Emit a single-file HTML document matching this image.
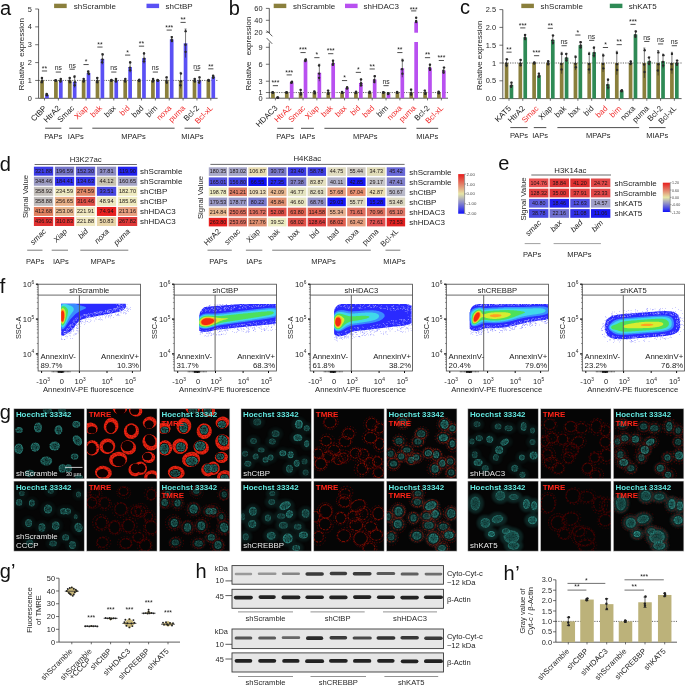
<!DOCTYPE html>
<html><head><meta charset="utf-8"><style>
html,body{margin:0;padding:0;background:#fff;}
svg{display:block;font-family:"Liberation Sans", sans-serif;filter:blur(0.3px);}
</style></head><body>
<svg width="685" height="685" viewBox="0 0 685 685">
<rect width="685" height="685" fill="#fff"/>
<line x1="38.60" y1="98.30" x2="38.60" y2="9.00" stroke="#333" stroke-width="0.8"/>
<line x1="35.20" y1="98.30" x2="38.60" y2="98.30" stroke="#333" stroke-width="0.7"/>
<text x="31.80" y="100.90" font-size="7.4" text-anchor="end" fill="#262626">0</text>
<line x1="35.20" y1="80.44" x2="38.60" y2="80.44" stroke="#333" stroke-width="0.7"/>
<text x="31.80" y="83.04" font-size="7.4" text-anchor="end" fill="#262626">1</text>
<line x1="35.20" y1="62.58" x2="38.60" y2="62.58" stroke="#333" stroke-width="0.7"/>
<text x="31.80" y="65.18" font-size="7.4" text-anchor="end" fill="#262626">2</text>
<line x1="35.20" y1="44.72" x2="38.60" y2="44.72" stroke="#333" stroke-width="0.7"/>
<text x="31.80" y="47.32" font-size="7.4" text-anchor="end" fill="#262626">3</text>
<line x1="35.20" y1="26.86" x2="38.60" y2="26.86" stroke="#333" stroke-width="0.7"/>
<text x="31.80" y="29.46" font-size="7.4" text-anchor="end" fill="#262626">4</text>
<line x1="35.20" y1="9.00" x2="38.60" y2="9.00" stroke="#333" stroke-width="0.7"/>
<text x="31.80" y="11.60" font-size="7.4" text-anchor="end" fill="#262626">5</text>
<line x1="38.60" y1="98.30" x2="217.60" y2="98.30" stroke="#333" stroke-width="0.8"/>
<line x1="38.60" y1="80.44" x2="217.60" y2="80.44" stroke="#222" stroke-width="0.7" stroke-dasharray="1.2 1.2"/>
<rect x="40.20" y="80.44" width="3.70" height="17.86" fill="#8a7f3c"/>
<line x1="42.05" y1="77.58" x2="42.05" y2="83.30" stroke="#222" stroke-width="0.6"/>
<line x1="41.05" y1="77.58" x2="43.05" y2="77.58" stroke="#222" stroke-width="0.6"/>
<circle cx="41.91" cy="78.01" r="1.20" fill="#2a2a2a"/>
<circle cx="41.77" cy="82.15" r="1.20" fill="#2a2a2a"/>
<circle cx="42.17" cy="80.73" r="1.20" fill="#2a2a2a"/>
<rect x="45.10" y="94.73" width="3.70" height="3.57" fill="#5a50f4"/>
<line x1="46.95" y1="93.83" x2="46.95" y2="95.62" stroke="#222" stroke-width="0.6"/>
<line x1="45.95" y1="93.83" x2="47.95" y2="93.83" stroke="#222" stroke-width="0.6"/>
<circle cx="46.61" cy="93.97" r="1.20" fill="#2a2a2a"/>
<circle cx="46.98" cy="95.26" r="1.20" fill="#2a2a2a"/>
<circle cx="46.84" cy="94.82" r="1.20" fill="#2a2a2a"/>
<line x1="44.50" y1="98.30" x2="44.50" y2="100.50" stroke="#333" stroke-width="0.7"/>
<line x1="41.90" y1="70.98" x2="47.10" y2="70.98" stroke="#222" stroke-width="0.8"/>
<text x="44.50" y="70.68" font-size="6.8" text-anchor="middle" fill="#1a1a1a">**</text>
<text x="47.10" y="108.70" font-size="7.9" text-anchor="end" fill="#1a1a1a" transform="rotate(-45 47.10 108.70)">CtBP</text>
<rect x="54.06" y="80.44" width="3.70" height="17.86" fill="#8a7f3c"/>
<line x1="55.91" y1="80.08" x2="55.91" y2="80.80" stroke="#222" stroke-width="0.6"/>
<line x1="54.91" y1="80.08" x2="56.91" y2="80.08" stroke="#222" stroke-width="0.6"/>
<circle cx="55.56" cy="80.14" r="1.20" fill="#2a2a2a"/>
<circle cx="55.92" cy="80.65" r="1.20" fill="#2a2a2a"/>
<circle cx="55.54" cy="80.48" r="1.20" fill="#2a2a2a"/>
<rect x="58.96" y="80.44" width="3.70" height="17.86" fill="#5a50f4"/>
<line x1="60.81" y1="78.65" x2="60.81" y2="82.23" stroke="#222" stroke-width="0.6"/>
<line x1="59.81" y1="78.65" x2="61.81" y2="78.65" stroke="#222" stroke-width="0.6"/>
<circle cx="60.76" cy="78.92" r="1.20" fill="#2a2a2a"/>
<circle cx="60.47" cy="81.51" r="1.20" fill="#2a2a2a"/>
<circle cx="60.48" cy="80.62" r="1.20" fill="#2a2a2a"/>
<line x1="58.36" y1="98.30" x2="58.36" y2="100.50" stroke="#333" stroke-width="0.7"/>
<line x1="55.76" y1="72.05" x2="60.96" y2="72.05" stroke="#222" stroke-width="0.8"/>
<text x="58.36" y="70.45" font-size="6.8" text-anchor="middle" fill="#262626">ns</text>
<text x="60.96" y="108.70" font-size="7.9" text-anchor="end" fill="#1a1a1a" transform="rotate(-45 60.96 108.70)">HtrA2</text>
<rect x="67.92" y="80.44" width="3.70" height="17.86" fill="#8a7f3c"/>
<line x1="69.77" y1="77.58" x2="69.77" y2="83.30" stroke="#222" stroke-width="0.6"/>
<line x1="68.77" y1="77.58" x2="70.77" y2="77.58" stroke="#222" stroke-width="0.6"/>
<circle cx="69.71" cy="78.01" r="1.20" fill="#2a2a2a"/>
<circle cx="70.03" cy="82.15" r="1.20" fill="#2a2a2a"/>
<circle cx="69.47" cy="80.73" r="1.20" fill="#2a2a2a"/>
<rect x="72.82" y="81.69" width="3.70" height="16.61" fill="#5a50f4"/>
<line x1="74.67" y1="75.80" x2="74.67" y2="87.58" stroke="#222" stroke-width="0.6"/>
<line x1="73.67" y1="75.80" x2="75.67" y2="75.80" stroke="#222" stroke-width="0.6"/>
<circle cx="74.45" cy="76.68" r="1.20" fill="#2a2a2a"/>
<circle cx="74.77" cy="85.23" r="1.20" fill="#2a2a2a"/>
<circle cx="75.03" cy="82.28" r="1.20" fill="#2a2a2a"/>
<line x1="72.22" y1="98.30" x2="72.22" y2="100.50" stroke="#333" stroke-width="0.7"/>
<line x1="69.62" y1="69.20" x2="74.82" y2="69.20" stroke="#222" stroke-width="0.8"/>
<text x="72.22" y="67.60" font-size="6.8" text-anchor="middle" fill="#262626">ns</text>
<text x="74.82" y="108.70" font-size="7.9" text-anchor="end" fill="#1a1a1a" transform="rotate(-45 74.82 108.70)">Smac</text>
<rect x="81.78" y="80.44" width="3.70" height="17.86" fill="#8a7f3c"/>
<line x1="83.63" y1="78.65" x2="83.63" y2="82.23" stroke="#222" stroke-width="0.6"/>
<line x1="82.63" y1="78.65" x2="84.63" y2="78.65" stroke="#222" stroke-width="0.6"/>
<circle cx="83.69" cy="78.92" r="1.20" fill="#2a2a2a"/>
<circle cx="83.55" cy="81.51" r="1.20" fill="#2a2a2a"/>
<circle cx="84.01" cy="80.62" r="1.20" fill="#2a2a2a"/>
<rect x="86.68" y="72.94" width="3.70" height="25.36" fill="#5a50f4"/>
<line x1="88.53" y1="71.15" x2="88.53" y2="74.72" stroke="#222" stroke-width="0.6"/>
<line x1="87.53" y1="71.15" x2="89.53" y2="71.15" stroke="#222" stroke-width="0.6"/>
<circle cx="88.17" cy="71.42" r="1.20" fill="#2a2a2a"/>
<circle cx="88.82" cy="74.01" r="1.20" fill="#2a2a2a"/>
<circle cx="88.36" cy="73.12" r="1.20" fill="#2a2a2a"/>
<line x1="86.08" y1="98.30" x2="86.08" y2="100.50" stroke="#333" stroke-width="0.7"/>
<line x1="83.48" y1="64.55" x2="88.68" y2="64.55" stroke="#222" stroke-width="0.8"/>
<text x="86.08" y="64.25" font-size="6.8" text-anchor="middle" fill="#1a1a1a">*</text>
<text x="88.68" y="108.70" font-size="7.9" text-anchor="end" fill="#f02828" transform="rotate(-45 88.68 108.70)">Xiap</text>
<rect x="95.64" y="80.44" width="3.70" height="17.86" fill="#8a7f3c"/>
<line x1="97.49" y1="77.58" x2="97.49" y2="83.30" stroke="#222" stroke-width="0.6"/>
<line x1="96.49" y1="77.58" x2="98.49" y2="77.58" stroke="#222" stroke-width="0.6"/>
<circle cx="97.21" cy="78.01" r="1.20" fill="#2a2a2a"/>
<circle cx="97.18" cy="82.15" r="1.20" fill="#2a2a2a"/>
<circle cx="97.34" cy="80.73" r="1.20" fill="#2a2a2a"/>
<rect x="100.54" y="59.01" width="3.70" height="39.29" fill="#5a50f4"/>
<line x1="102.39" y1="53.65" x2="102.39" y2="64.37" stroke="#222" stroke-width="0.6"/>
<line x1="101.39" y1="53.65" x2="103.39" y2="53.65" stroke="#222" stroke-width="0.6"/>
<circle cx="102.64" cy="54.45" r="1.20" fill="#2a2a2a"/>
<circle cx="102.13" cy="62.22" r="1.20" fill="#2a2a2a"/>
<circle cx="102.46" cy="59.54" r="1.20" fill="#2a2a2a"/>
<line x1="99.94" y1="98.30" x2="99.94" y2="100.50" stroke="#333" stroke-width="0.7"/>
<line x1="97.34" y1="47.05" x2="102.54" y2="47.05" stroke="#222" stroke-width="0.8"/>
<text x="99.94" y="46.75" font-size="6.8" text-anchor="middle" fill="#1a1a1a">**</text>
<text x="102.54" y="108.70" font-size="7.9" text-anchor="end" fill="#f02828" transform="rotate(-45 102.54 108.70)">bak</text>
<rect x="109.50" y="80.44" width="3.70" height="17.86" fill="#8a7f3c"/>
<line x1="111.35" y1="79.90" x2="111.35" y2="80.98" stroke="#222" stroke-width="0.6"/>
<line x1="110.35" y1="79.90" x2="112.35" y2="79.90" stroke="#222" stroke-width="0.6"/>
<circle cx="111.46" cy="79.98" r="1.20" fill="#2a2a2a"/>
<circle cx="111.25" cy="80.76" r="1.20" fill="#2a2a2a"/>
<circle cx="111.39" cy="80.49" r="1.20" fill="#2a2a2a"/>
<rect x="114.40" y="80.44" width="3.70" height="17.86" fill="#5a50f4"/>
<line x1="116.25" y1="78.65" x2="116.25" y2="82.23" stroke="#222" stroke-width="0.6"/>
<line x1="115.25" y1="78.65" x2="117.25" y2="78.65" stroke="#222" stroke-width="0.6"/>
<circle cx="115.90" cy="78.92" r="1.20" fill="#2a2a2a"/>
<circle cx="115.90" cy="81.51" r="1.20" fill="#2a2a2a"/>
<circle cx="116.01" cy="80.62" r="1.20" fill="#2a2a2a"/>
<line x1="113.80" y1="98.30" x2="113.80" y2="100.50" stroke="#333" stroke-width="0.7"/>
<line x1="111.20" y1="72.05" x2="116.40" y2="72.05" stroke="#222" stroke-width="0.8"/>
<text x="113.80" y="70.45" font-size="6.8" text-anchor="middle" fill="#262626">ns</text>
<text x="116.40" y="108.70" font-size="7.9" text-anchor="end" fill="#1a1a1a" transform="rotate(-45 116.40 108.70)">bax</text>
<rect x="123.36" y="80.44" width="3.70" height="17.86" fill="#8a7f3c"/>
<line x1="125.21" y1="78.65" x2="125.21" y2="82.23" stroke="#222" stroke-width="0.6"/>
<line x1="124.21" y1="78.65" x2="126.21" y2="78.65" stroke="#222" stroke-width="0.6"/>
<circle cx="125.35" cy="78.92" r="1.20" fill="#2a2a2a"/>
<circle cx="125.15" cy="81.51" r="1.20" fill="#2a2a2a"/>
<circle cx="125.06" cy="80.62" r="1.20" fill="#2a2a2a"/>
<rect x="128.26" y="67.05" width="3.70" height="31.25" fill="#5a50f4"/>
<line x1="130.11" y1="61.69" x2="130.11" y2="72.40" stroke="#222" stroke-width="0.6"/>
<line x1="129.11" y1="61.69" x2="131.11" y2="61.69" stroke="#222" stroke-width="0.6"/>
<circle cx="130.18" cy="62.49" r="1.20" fill="#2a2a2a"/>
<circle cx="130.07" cy="70.26" r="1.20" fill="#2a2a2a"/>
<circle cx="129.95" cy="67.58" r="1.20" fill="#2a2a2a"/>
<line x1="127.66" y1="98.30" x2="127.66" y2="100.50" stroke="#333" stroke-width="0.7"/>
<line x1="125.06" y1="55.09" x2="130.26" y2="55.09" stroke="#222" stroke-width="0.8"/>
<text x="127.66" y="54.79" font-size="6.8" text-anchor="middle" fill="#1a1a1a">*</text>
<text x="130.26" y="108.70" font-size="7.9" text-anchor="end" fill="#f02828" transform="rotate(-45 130.26 108.70)">bid</text>
<rect x="137.22" y="80.44" width="3.70" height="17.86" fill="#8a7f3c"/>
<line x1="139.07" y1="79.55" x2="139.07" y2="81.33" stroke="#222" stroke-width="0.6"/>
<line x1="138.07" y1="79.55" x2="140.07" y2="79.55" stroke="#222" stroke-width="0.6"/>
<circle cx="139.31" cy="79.68" r="1.20" fill="#2a2a2a"/>
<circle cx="139.23" cy="80.98" r="1.20" fill="#2a2a2a"/>
<circle cx="138.87" cy="80.53" r="1.20" fill="#2a2a2a"/>
<rect x="142.12" y="58.11" width="3.70" height="40.19" fill="#5a50f4"/>
<line x1="143.97" y1="52.76" x2="143.97" y2="63.47" stroke="#222" stroke-width="0.6"/>
<line x1="142.97" y1="52.76" x2="144.97" y2="52.76" stroke="#222" stroke-width="0.6"/>
<circle cx="144.03" cy="53.56" r="1.20" fill="#2a2a2a"/>
<circle cx="143.99" cy="61.33" r="1.20" fill="#2a2a2a"/>
<circle cx="144.27" cy="58.65" r="1.20" fill="#2a2a2a"/>
<line x1="141.52" y1="98.30" x2="141.52" y2="100.50" stroke="#333" stroke-width="0.7"/>
<line x1="138.92" y1="46.16" x2="144.12" y2="46.16" stroke="#222" stroke-width="0.8"/>
<text x="141.52" y="45.86" font-size="6.8" text-anchor="middle" fill="#1a1a1a">**</text>
<text x="144.12" y="108.70" font-size="7.9" text-anchor="end" fill="#1a1a1a" transform="rotate(-45 144.12 108.70)">bad</text>
<rect x="151.08" y="80.44" width="3.70" height="17.86" fill="#8a7f3c"/>
<line x1="152.93" y1="78.65" x2="152.93" y2="82.23" stroke="#222" stroke-width="0.6"/>
<line x1="151.93" y1="78.65" x2="153.93" y2="78.65" stroke="#222" stroke-width="0.6"/>
<circle cx="153.11" cy="78.92" r="1.20" fill="#2a2a2a"/>
<circle cx="152.76" cy="81.51" r="1.20" fill="#2a2a2a"/>
<circle cx="153.31" cy="80.62" r="1.20" fill="#2a2a2a"/>
<rect x="155.98" y="80.44" width="3.70" height="17.86" fill="#5a50f4"/>
<line x1="157.83" y1="79.90" x2="157.83" y2="80.98" stroke="#222" stroke-width="0.6"/>
<line x1="156.83" y1="79.90" x2="158.83" y2="79.90" stroke="#222" stroke-width="0.6"/>
<circle cx="157.52" cy="79.98" r="1.20" fill="#2a2a2a"/>
<circle cx="157.76" cy="80.76" r="1.20" fill="#2a2a2a"/>
<circle cx="158.04" cy="80.49" r="1.20" fill="#2a2a2a"/>
<line x1="155.38" y1="98.30" x2="155.38" y2="100.50" stroke="#333" stroke-width="0.7"/>
<line x1="152.78" y1="72.05" x2="157.98" y2="72.05" stroke="#222" stroke-width="0.8"/>
<text x="155.38" y="70.45" font-size="6.8" text-anchor="middle" fill="#262626">ns</text>
<text x="157.98" y="108.70" font-size="7.9" text-anchor="end" fill="#1a1a1a" transform="rotate(-45 157.98 108.70)">bim</text>
<rect x="164.94" y="80.44" width="3.70" height="17.86" fill="#8a7f3c"/>
<line x1="166.79" y1="76.87" x2="166.79" y2="84.01" stroke="#222" stroke-width="0.6"/>
<line x1="165.79" y1="76.87" x2="167.79" y2="76.87" stroke="#222" stroke-width="0.6"/>
<circle cx="166.51" cy="77.40" r="1.20" fill="#2a2a2a"/>
<circle cx="166.78" cy="82.58" r="1.20" fill="#2a2a2a"/>
<circle cx="166.42" cy="80.80" r="1.20" fill="#2a2a2a"/>
<rect x="169.84" y="39.36" width="3.70" height="58.94" fill="#5a50f4"/>
<line x1="171.69" y1="36.68" x2="171.69" y2="42.04" stroke="#222" stroke-width="0.6"/>
<line x1="170.69" y1="36.68" x2="172.69" y2="36.68" stroke="#222" stroke-width="0.6"/>
<circle cx="171.82" cy="37.08" r="1.20" fill="#2a2a2a"/>
<circle cx="171.90" cy="40.97" r="1.20" fill="#2a2a2a"/>
<circle cx="171.75" cy="39.63" r="1.20" fill="#2a2a2a"/>
<line x1="169.24" y1="98.30" x2="169.24" y2="100.50" stroke="#333" stroke-width="0.7"/>
<line x1="166.64" y1="30.08" x2="171.84" y2="30.08" stroke="#222" stroke-width="0.8"/>
<text x="169.24" y="29.78" font-size="6.8" text-anchor="middle" fill="#1a1a1a">***</text>
<text x="171.84" y="108.70" font-size="7.9" text-anchor="end" fill="#f02828" transform="rotate(-45 171.84 108.70)">noxa</text>
<rect x="178.80" y="80.44" width="3.70" height="17.86" fill="#8a7f3c"/>
<line x1="180.65" y1="72.40" x2="180.65" y2="88.48" stroke="#222" stroke-width="0.6"/>
<line x1="179.65" y1="72.40" x2="181.65" y2="72.40" stroke="#222" stroke-width="0.6"/>
<circle cx="180.95" cy="73.61" r="1.20" fill="#2a2a2a"/>
<circle cx="180.50" cy="85.26" r="1.20" fill="#2a2a2a"/>
<circle cx="180.81" cy="81.24" r="1.20" fill="#2a2a2a"/>
<rect x="183.70" y="43.29" width="3.70" height="55.01" fill="#5a50f4"/>
<line x1="185.55" y1="29.00" x2="185.55" y2="57.58" stroke="#222" stroke-width="0.6"/>
<line x1="184.55" y1="29.00" x2="186.55" y2="29.00" stroke="#222" stroke-width="0.6"/>
<circle cx="185.63" cy="31.15" r="1.20" fill="#2a2a2a"/>
<circle cx="185.61" cy="51.86" r="1.20" fill="#2a2a2a"/>
<circle cx="185.51" cy="44.72" r="1.20" fill="#2a2a2a"/>
<line x1="183.10" y1="98.30" x2="183.10" y2="100.50" stroke="#333" stroke-width="0.7"/>
<line x1="180.50" y1="22.40" x2="185.70" y2="22.40" stroke="#222" stroke-width="0.8"/>
<text x="183.10" y="22.10" font-size="6.8" text-anchor="middle" fill="#1a1a1a">**</text>
<text x="185.70" y="108.70" font-size="7.9" text-anchor="end" fill="#f02828" transform="rotate(-45 185.70 108.70)">puma</text>
<rect x="192.66" y="80.44" width="3.70" height="17.86" fill="#8a7f3c"/>
<line x1="194.51" y1="78.65" x2="194.51" y2="82.23" stroke="#222" stroke-width="0.6"/>
<line x1="193.51" y1="78.65" x2="195.51" y2="78.65" stroke="#222" stroke-width="0.6"/>
<circle cx="194.78" cy="78.92" r="1.20" fill="#2a2a2a"/>
<circle cx="194.87" cy="81.51" r="1.20" fill="#2a2a2a"/>
<circle cx="194.49" cy="80.62" r="1.20" fill="#2a2a2a"/>
<rect x="197.56" y="80.44" width="3.70" height="17.86" fill="#5a50f4"/>
<line x1="199.41" y1="76.87" x2="199.41" y2="84.01" stroke="#222" stroke-width="0.6"/>
<line x1="198.41" y1="76.87" x2="200.41" y2="76.87" stroke="#222" stroke-width="0.6"/>
<circle cx="199.54" cy="77.40" r="1.20" fill="#2a2a2a"/>
<circle cx="199.06" cy="82.58" r="1.20" fill="#2a2a2a"/>
<circle cx="199.57" cy="80.80" r="1.20" fill="#2a2a2a"/>
<line x1="196.96" y1="98.30" x2="196.96" y2="100.50" stroke="#333" stroke-width="0.7"/>
<line x1="194.36" y1="70.27" x2="199.56" y2="70.27" stroke="#222" stroke-width="0.8"/>
<text x="196.96" y="68.67" font-size="6.8" text-anchor="middle" fill="#262626">ns</text>
<text x="199.56" y="108.70" font-size="7.9" text-anchor="end" fill="#1a1a1a" transform="rotate(-45 199.56 108.70)">Bcl-2</text>
<rect x="206.52" y="80.44" width="3.70" height="17.86" fill="#8a7f3c"/>
<line x1="208.37" y1="79.90" x2="208.37" y2="80.98" stroke="#222" stroke-width="0.6"/>
<line x1="207.37" y1="79.90" x2="209.37" y2="79.90" stroke="#222" stroke-width="0.6"/>
<circle cx="208.49" cy="79.98" r="1.20" fill="#2a2a2a"/>
<circle cx="208.76" cy="80.76" r="1.20" fill="#2a2a2a"/>
<circle cx="208.63" cy="80.49" r="1.20" fill="#2a2a2a"/>
<rect x="211.42" y="76.87" width="3.70" height="21.43" fill="#5a50f4"/>
<line x1="213.27" y1="75.44" x2="213.27" y2="78.30" stroke="#222" stroke-width="0.6"/>
<line x1="212.27" y1="75.44" x2="214.27" y2="75.44" stroke="#222" stroke-width="0.6"/>
<circle cx="213.10" cy="75.65" r="1.20" fill="#2a2a2a"/>
<circle cx="213.18" cy="77.73" r="1.20" fill="#2a2a2a"/>
<circle cx="213.40" cy="77.01" r="1.20" fill="#2a2a2a"/>
<line x1="210.82" y1="98.30" x2="210.82" y2="100.50" stroke="#333" stroke-width="0.7"/>
<line x1="208.22" y1="68.84" x2="213.42" y2="68.84" stroke="#222" stroke-width="0.8"/>
<text x="210.82" y="68.54" font-size="6.8" text-anchor="middle" fill="#1a1a1a">**</text>
<text x="213.42" y="108.70" font-size="7.9" text-anchor="end" fill="#f02828" transform="rotate(-45 213.42 108.70)">Bcl-xL</text>
<line x1="45.20" y1="128.20" x2="61.30" y2="128.20" stroke="#3a3a3a" stroke-width="0.9"/>
<text x="53.25" y="138.50" font-size="7.5" text-anchor="middle" fill="#262626">PAPs</text>
<line x1="69.20" y1="128.20" x2="82.30" y2="128.20" stroke="#3a3a3a" stroke-width="0.9"/>
<text x="75.75" y="138.50" font-size="7.5" text-anchor="middle" fill="#262626">IAPs</text>
<line x1="92.30" y1="128.20" x2="174.60" y2="128.20" stroke="#3a3a3a" stroke-width="0.9"/>
<text x="133.45" y="138.50" font-size="7.5" text-anchor="middle" fill="#262626">MPAPs</text>
<line x1="184.50" y1="128.20" x2="200.30" y2="128.20" stroke="#3a3a3a" stroke-width="0.9"/>
<text x="192.40" y="138.50" font-size="7.5" text-anchor="middle" fill="#262626">MIAPs</text>
<text x="23.60" y="76.00" font-size="8.0" text-anchor="middle" fill="#262626" transform="rotate(-90 23.60 76.00)">Relative</text>
<text x="23.60" y="37.40" font-size="8.0" text-anchor="middle" fill="#262626" transform="rotate(-90 23.60 37.40)">expression</text>
<rect x="54.10" y="3.70" width="12.60" height="4.40" fill="#8a7f3c"/>
<text x="73.80" y="8.90" font-size="8" fill="#262626">shScramble</text>
<rect x="146.50" y="3.70" width="12.60" height="4.40" fill="#5a50f4"/>
<text x="165.50" y="8.90" font-size="8" fill="#262626">shCtBP</text>
<text x="0.00" y="14.80" font-size="20" fill="#111">a</text>
<line x1="269.30" y1="98.20" x2="269.30" y2="42.50" stroke="#333" stroke-width="0.8"/>
<line x1="269.30" y1="33.20" x2="269.30" y2="8.30" stroke="#333" stroke-width="0.8"/>
<line x1="265.90" y1="98.20" x2="269.30" y2="98.20" stroke="#333" stroke-width="0.7"/>
<text x="262.50" y="100.80" font-size="7.4" text-anchor="end" fill="#262626">0</text>
<line x1="265.90" y1="92.54" x2="269.30" y2="92.54" stroke="#333" stroke-width="0.7"/>
<text x="262.50" y="95.14" font-size="7.4" text-anchor="end" fill="#262626">1</text>
<line x1="265.90" y1="81.23" x2="269.30" y2="81.23" stroke="#333" stroke-width="0.7"/>
<text x="262.50" y="83.83" font-size="7.4" text-anchor="end" fill="#262626">3</text>
<line x1="265.90" y1="64.26" x2="269.30" y2="64.26" stroke="#333" stroke-width="0.7"/>
<text x="262.50" y="66.86" font-size="7.4" text-anchor="end" fill="#262626">6</text>
<line x1="265.90" y1="47.30" x2="269.30" y2="47.30" stroke="#333" stroke-width="0.7"/>
<text x="262.50" y="49.90" font-size="7.4" text-anchor="end" fill="#262626">9</text>
<line x1="265.90" y1="32.20" x2="269.30" y2="32.20" stroke="#333" stroke-width="0.7"/>
<text x="262.50" y="34.80" font-size="7.4" text-anchor="end" fill="#262626">20</text>
<line x1="265.90" y1="20.30" x2="269.30" y2="20.30" stroke="#333" stroke-width="0.7"/>
<text x="262.50" y="22.90" font-size="7.4" text-anchor="end" fill="#262626">40</text>
<line x1="265.90" y1="8.40" x2="269.30" y2="8.40" stroke="#333" stroke-width="0.7"/>
<text x="262.50" y="11.00" font-size="7.4" text-anchor="end" fill="#262626">60</text>
<line x1="269.30" y1="98.20" x2="448.00" y2="98.20" stroke="#333" stroke-width="0.8"/>
<line x1="269.30" y1="92.54" x2="448.00" y2="92.54" stroke="#222" stroke-width="0.7" stroke-dasharray="1.2 1.2"/>
<rect x="271.10" y="92.54" width="3.70" height="5.66" fill="#8a7f3c"/>
<line x1="272.95" y1="92.26" x2="272.95" y2="92.83" stroke="#222" stroke-width="0.6"/>
<line x1="271.95" y1="92.26" x2="273.95" y2="92.26" stroke="#222" stroke-width="0.6"/>
<circle cx="272.57" cy="92.30" r="1.20" fill="#2a2a2a"/>
<circle cx="272.92" cy="92.71" r="1.20" fill="#2a2a2a"/>
<circle cx="272.68" cy="92.57" r="1.20" fill="#2a2a2a"/>
<rect x="276.00" y="97.63" width="3.70" height="0.57" fill="#b850f0"/>
<line x1="277.85" y1="97.35" x2="277.85" y2="97.92" stroke="#222" stroke-width="0.6"/>
<line x1="276.85" y1="97.35" x2="278.85" y2="97.35" stroke="#222" stroke-width="0.6"/>
<circle cx="277.54" cy="97.39" r="1.20" fill="#2a2a2a"/>
<circle cx="277.50" cy="97.80" r="1.20" fill="#2a2a2a"/>
<circle cx="278.06" cy="97.66" r="1.20" fill="#2a2a2a"/>
<line x1="275.40" y1="98.20" x2="275.40" y2="100.40" stroke="#333" stroke-width="0.7"/>
<line x1="272.80" y1="85.66" x2="278.00" y2="85.66" stroke="#222" stroke-width="0.8"/>
<text x="275.40" y="85.36" font-size="6.8" text-anchor="middle" fill="#1a1a1a">***</text>
<text x="278.00" y="108.60" font-size="7.9" text-anchor="end" fill="#1a1a1a" transform="rotate(-45 278.00 108.60)">HDAC3</text>
<rect x="284.93" y="92.54" width="3.70" height="5.66" fill="#8a7f3c"/>
<line x1="286.78" y1="92.26" x2="286.78" y2="92.83" stroke="#222" stroke-width="0.6"/>
<line x1="285.78" y1="92.26" x2="287.78" y2="92.26" stroke="#222" stroke-width="0.6"/>
<circle cx="286.48" cy="92.30" r="1.20" fill="#2a2a2a"/>
<circle cx="286.58" cy="92.71" r="1.20" fill="#2a2a2a"/>
<circle cx="286.69" cy="92.57" r="1.20" fill="#2a2a2a"/>
<rect x="289.83" y="82.36" width="3.70" height="15.84" fill="#b850f0"/>
<line x1="291.68" y1="81.51" x2="291.68" y2="83.21" stroke="#222" stroke-width="0.6"/>
<line x1="290.68" y1="81.51" x2="292.68" y2="81.51" stroke="#222" stroke-width="0.6"/>
<circle cx="291.98" cy="81.64" r="1.20" fill="#2a2a2a"/>
<circle cx="291.34" cy="82.87" r="1.20" fill="#2a2a2a"/>
<circle cx="291.64" cy="82.45" r="1.20" fill="#2a2a2a"/>
<line x1="289.23" y1="98.20" x2="289.23" y2="100.40" stroke="#333" stroke-width="0.7"/>
<line x1="286.63" y1="74.91" x2="291.83" y2="74.91" stroke="#222" stroke-width="0.8"/>
<text x="289.23" y="74.61" font-size="6.8" text-anchor="middle" fill="#1a1a1a">***</text>
<text x="291.83" y="108.60" font-size="7.9" text-anchor="end" fill="#f02828" transform="rotate(-45 291.83 108.60)">HtrA2</text>
<rect x="298.76" y="92.54" width="3.70" height="5.66" fill="#8a7f3c"/>
<line x1="300.61" y1="89.43" x2="300.61" y2="95.65" stroke="#222" stroke-width="0.6"/>
<line x1="299.61" y1="89.43" x2="301.61" y2="89.43" stroke="#222" stroke-width="0.6"/>
<circle cx="300.65" cy="89.90" r="1.20" fill="#2a2a2a"/>
<circle cx="300.92" cy="94.41" r="1.20" fill="#2a2a2a"/>
<circle cx="300.87" cy="92.86" r="1.20" fill="#2a2a2a"/>
<rect x="303.66" y="60.30" width="3.70" height="37.90" fill="#b850f0"/>
<line x1="305.51" y1="59.17" x2="305.51" y2="61.44" stroke="#222" stroke-width="0.6"/>
<line x1="304.51" y1="59.17" x2="306.51" y2="59.17" stroke="#222" stroke-width="0.6"/>
<circle cx="305.80" cy="59.34" r="1.20" fill="#2a2a2a"/>
<circle cx="305.33" cy="60.98" r="1.20" fill="#2a2a2a"/>
<circle cx="305.44" cy="60.42" r="1.20" fill="#2a2a2a"/>
<line x1="303.06" y1="98.20" x2="303.06" y2="100.40" stroke="#333" stroke-width="0.7"/>
<line x1="300.46" y1="52.57" x2="305.66" y2="52.57" stroke="#222" stroke-width="0.8"/>
<text x="303.06" y="52.27" font-size="6.8" text-anchor="middle" fill="#1a1a1a">***</text>
<text x="305.66" y="108.60" font-size="7.9" text-anchor="end" fill="#f02828" transform="rotate(-45 305.66 108.60)">Smac</text>
<rect x="312.59" y="92.54" width="3.70" height="5.66" fill="#8a7f3c"/>
<line x1="314.44" y1="91.13" x2="314.44" y2="93.96" stroke="#222" stroke-width="0.6"/>
<line x1="313.44" y1="91.13" x2="315.44" y2="91.13" stroke="#222" stroke-width="0.6"/>
<circle cx="314.33" cy="91.34" r="1.20" fill="#2a2a2a"/>
<circle cx="314.75" cy="93.39" r="1.20" fill="#2a2a2a"/>
<circle cx="314.81" cy="92.69" r="1.20" fill="#2a2a2a"/>
<rect x="317.49" y="72.75" width="3.70" height="25.45" fill="#b850f0"/>
<line x1="319.34" y1="64.26" x2="319.34" y2="81.23" stroke="#222" stroke-width="0.6"/>
<line x1="318.34" y1="64.26" x2="320.34" y2="64.26" stroke="#222" stroke-width="0.6"/>
<circle cx="319.06" cy="65.54" r="1.20" fill="#2a2a2a"/>
<circle cx="319.08" cy="77.84" r="1.20" fill="#2a2a2a"/>
<circle cx="319.13" cy="73.60" r="1.20" fill="#2a2a2a"/>
<line x1="316.89" y1="98.20" x2="316.89" y2="100.40" stroke="#333" stroke-width="0.7"/>
<line x1="314.29" y1="57.66" x2="319.49" y2="57.66" stroke="#222" stroke-width="0.8"/>
<text x="316.89" y="57.36" font-size="6.8" text-anchor="middle" fill="#1a1a1a">*</text>
<text x="319.49" y="108.60" font-size="7.9" text-anchor="end" fill="#f02828" transform="rotate(-45 319.49 108.60)">Xiap</text>
<rect x="326.42" y="92.54" width="3.70" height="5.66" fill="#8a7f3c"/>
<line x1="328.27" y1="90.28" x2="328.27" y2="94.81" stroke="#222" stroke-width="0.6"/>
<line x1="327.27" y1="90.28" x2="329.27" y2="90.28" stroke="#222" stroke-width="0.6"/>
<circle cx="328.06" cy="90.62" r="1.20" fill="#2a2a2a"/>
<circle cx="328.26" cy="93.90" r="1.20" fill="#2a2a2a"/>
<circle cx="328.34" cy="92.77" r="1.20" fill="#2a2a2a"/>
<rect x="331.32" y="63.13" width="3.70" height="35.07" fill="#b850f0"/>
<line x1="333.17" y1="60.30" x2="333.17" y2="65.96" stroke="#222" stroke-width="0.6"/>
<line x1="332.17" y1="60.30" x2="334.17" y2="60.30" stroke="#222" stroke-width="0.6"/>
<circle cx="332.98" cy="60.73" r="1.20" fill="#2a2a2a"/>
<circle cx="332.77" cy="64.83" r="1.20" fill="#2a2a2a"/>
<circle cx="333.11" cy="63.42" r="1.20" fill="#2a2a2a"/>
<line x1="330.72" y1="98.20" x2="330.72" y2="100.40" stroke="#333" stroke-width="0.7"/>
<line x1="328.12" y1="53.70" x2="333.32" y2="53.70" stroke="#222" stroke-width="0.8"/>
<text x="330.72" y="53.40" font-size="6.8" text-anchor="middle" fill="#1a1a1a">***</text>
<text x="333.32" y="108.60" font-size="7.9" text-anchor="end" fill="#f02828" transform="rotate(-45 333.32 108.60)">bak</text>
<rect x="340.25" y="92.54" width="3.70" height="5.66" fill="#8a7f3c"/>
<line x1="342.10" y1="91.98" x2="342.10" y2="93.11" stroke="#222" stroke-width="0.6"/>
<line x1="341.10" y1="91.98" x2="343.10" y2="91.98" stroke="#222" stroke-width="0.6"/>
<circle cx="342.00" cy="92.06" r="1.20" fill="#2a2a2a"/>
<circle cx="342.15" cy="92.88" r="1.20" fill="#2a2a2a"/>
<circle cx="342.46" cy="92.60" r="1.20" fill="#2a2a2a"/>
<rect x="345.15" y="88.02" width="3.70" height="10.18" fill="#b850f0"/>
<line x1="347.00" y1="87.17" x2="347.00" y2="88.87" stroke="#222" stroke-width="0.6"/>
<line x1="346.00" y1="87.17" x2="348.00" y2="87.17" stroke="#222" stroke-width="0.6"/>
<circle cx="347.15" cy="87.30" r="1.20" fill="#2a2a2a"/>
<circle cx="347.01" cy="88.53" r="1.20" fill="#2a2a2a"/>
<circle cx="347.09" cy="88.10" r="1.20" fill="#2a2a2a"/>
<line x1="344.55" y1="98.20" x2="344.55" y2="100.40" stroke="#333" stroke-width="0.7"/>
<line x1="341.95" y1="80.57" x2="347.15" y2="80.57" stroke="#222" stroke-width="0.8"/>
<text x="344.55" y="80.27" font-size="6.8" text-anchor="middle" fill="#1a1a1a">*</text>
<text x="347.15" y="108.60" font-size="7.9" text-anchor="end" fill="#f02828" transform="rotate(-45 347.15 108.60)">bax</text>
<rect x="354.08" y="92.54" width="3.70" height="5.66" fill="#8a7f3c"/>
<line x1="355.93" y1="91.70" x2="355.93" y2="93.39" stroke="#222" stroke-width="0.6"/>
<line x1="354.93" y1="91.70" x2="356.93" y2="91.70" stroke="#222" stroke-width="0.6"/>
<circle cx="356.07" cy="91.82" r="1.20" fill="#2a2a2a"/>
<circle cx="355.57" cy="93.05" r="1.20" fill="#2a2a2a"/>
<circle cx="356.25" cy="92.63" r="1.20" fill="#2a2a2a"/>
<rect x="358.98" y="82.93" width="3.70" height="15.27" fill="#b850f0"/>
<line x1="360.83" y1="78.97" x2="360.83" y2="86.89" stroke="#222" stroke-width="0.6"/>
<line x1="359.83" y1="78.97" x2="361.83" y2="78.97" stroke="#222" stroke-width="0.6"/>
<circle cx="361.05" cy="79.56" r="1.20" fill="#2a2a2a"/>
<circle cx="361.13" cy="85.30" r="1.20" fill="#2a2a2a"/>
<circle cx="361.07" cy="83.32" r="1.20" fill="#2a2a2a"/>
<line x1="358.38" y1="98.20" x2="358.38" y2="100.40" stroke="#333" stroke-width="0.7"/>
<line x1="355.78" y1="72.37" x2="360.98" y2="72.37" stroke="#222" stroke-width="0.8"/>
<text x="358.38" y="72.07" font-size="6.8" text-anchor="middle" fill="#1a1a1a">*</text>
<text x="360.98" y="108.60" font-size="7.9" text-anchor="end" fill="#f02828" transform="rotate(-45 360.98 108.60)">bid</text>
<rect x="367.91" y="92.54" width="3.70" height="5.66" fill="#8a7f3c"/>
<line x1="369.76" y1="91.70" x2="369.76" y2="93.39" stroke="#222" stroke-width="0.6"/>
<line x1="368.76" y1="91.70" x2="370.76" y2="91.70" stroke="#222" stroke-width="0.6"/>
<circle cx="369.67" cy="91.82" r="1.20" fill="#2a2a2a"/>
<circle cx="369.68" cy="93.05" r="1.20" fill="#2a2a2a"/>
<circle cx="369.44" cy="92.63" r="1.20" fill="#2a2a2a"/>
<rect x="372.81" y="79.54" width="3.70" height="18.66" fill="#b850f0"/>
<line x1="374.66" y1="75.58" x2="374.66" y2="83.49" stroke="#222" stroke-width="0.6"/>
<line x1="373.66" y1="75.58" x2="375.66" y2="75.58" stroke="#222" stroke-width="0.6"/>
<circle cx="374.77" cy="76.17" r="1.20" fill="#2a2a2a"/>
<circle cx="374.31" cy="81.91" r="1.20" fill="#2a2a2a"/>
<circle cx="374.31" cy="79.93" r="1.20" fill="#2a2a2a"/>
<line x1="372.21" y1="98.20" x2="372.21" y2="100.40" stroke="#333" stroke-width="0.7"/>
<line x1="369.61" y1="68.98" x2="374.81" y2="68.98" stroke="#222" stroke-width="0.8"/>
<text x="372.21" y="68.68" font-size="6.8" text-anchor="middle" fill="#1a1a1a">**</text>
<text x="374.81" y="108.60" font-size="7.9" text-anchor="end" fill="#f02828" transform="rotate(-45 374.81 108.60)">bad</text>
<rect x="381.74" y="92.54" width="3.70" height="5.66" fill="#8a7f3c"/>
<line x1="383.59" y1="92.26" x2="383.59" y2="92.83" stroke="#222" stroke-width="0.6"/>
<line x1="382.59" y1="92.26" x2="384.59" y2="92.26" stroke="#222" stroke-width="0.6"/>
<circle cx="383.36" cy="92.30" r="1.20" fill="#2a2a2a"/>
<circle cx="383.32" cy="92.71" r="1.20" fill="#2a2a2a"/>
<circle cx="383.46" cy="92.57" r="1.20" fill="#2a2a2a"/>
<rect x="386.64" y="93.68" width="3.70" height="4.52" fill="#b850f0"/>
<line x1="388.49" y1="93.11" x2="388.49" y2="94.24" stroke="#222" stroke-width="0.6"/>
<line x1="387.49" y1="93.11" x2="389.49" y2="93.11" stroke="#222" stroke-width="0.6"/>
<circle cx="388.13" cy="93.19" r="1.20" fill="#2a2a2a"/>
<circle cx="388.09" cy="94.01" r="1.20" fill="#2a2a2a"/>
<circle cx="388.21" cy="93.73" r="1.20" fill="#2a2a2a"/>
<line x1="386.04" y1="98.20" x2="386.04" y2="100.40" stroke="#333" stroke-width="0.7"/>
<line x1="383.44" y1="85.66" x2="388.64" y2="85.66" stroke="#222" stroke-width="0.8"/>
<text x="386.04" y="84.06" font-size="6.8" text-anchor="middle" fill="#262626">ns</text>
<text x="388.64" y="108.60" font-size="7.9" text-anchor="end" fill="#1a1a1a" transform="rotate(-45 388.64 108.60)">bim</text>
<rect x="395.57" y="92.54" width="3.70" height="5.66" fill="#8a7f3c"/>
<line x1="397.42" y1="91.98" x2="397.42" y2="93.11" stroke="#222" stroke-width="0.6"/>
<line x1="396.42" y1="91.98" x2="398.42" y2="91.98" stroke="#222" stroke-width="0.6"/>
<circle cx="397.10" cy="92.06" r="1.20" fill="#2a2a2a"/>
<circle cx="397.31" cy="92.88" r="1.20" fill="#2a2a2a"/>
<circle cx="397.04" cy="92.60" r="1.20" fill="#2a2a2a"/>
<rect x="400.47" y="68.22" width="3.70" height="29.98" fill="#b850f0"/>
<line x1="402.32" y1="59.17" x2="402.32" y2="77.27" stroke="#222" stroke-width="0.6"/>
<line x1="401.32" y1="59.17" x2="403.32" y2="59.17" stroke="#222" stroke-width="0.6"/>
<circle cx="402.62" cy="60.53" r="1.20" fill="#2a2a2a"/>
<circle cx="402.41" cy="73.65" r="1.20" fill="#2a2a2a"/>
<circle cx="402.04" cy="69.13" r="1.20" fill="#2a2a2a"/>
<line x1="399.87" y1="98.20" x2="399.87" y2="100.40" stroke="#333" stroke-width="0.7"/>
<line x1="397.27" y1="52.57" x2="402.47" y2="52.57" stroke="#222" stroke-width="0.8"/>
<text x="399.87" y="52.27" font-size="6.8" text-anchor="middle" fill="#1a1a1a">**</text>
<text x="402.47" y="108.60" font-size="7.9" text-anchor="end" fill="#f02828" transform="rotate(-45 402.47 108.60)">noxa</text>
<rect x="409.40" y="92.54" width="3.70" height="5.66" fill="#8a7f3c"/>
<line x1="411.25" y1="89.15" x2="411.25" y2="95.94" stroke="#222" stroke-width="0.6"/>
<line x1="410.25" y1="89.15" x2="412.25" y2="89.15" stroke="#222" stroke-width="0.6"/>
<circle cx="411.05" cy="89.66" r="1.20" fill="#2a2a2a"/>
<circle cx="411.13" cy="94.58" r="1.20" fill="#2a2a2a"/>
<circle cx="411.14" cy="92.88" r="1.20" fill="#2a2a2a"/>
<line x1="413.70" y1="98.20" x2="413.70" y2="100.40" stroke="#333" stroke-width="0.7"/>
<text x="416.30" y="108.60" font-size="7.9" text-anchor="end" fill="#f02828" transform="rotate(-45 416.30 108.60)">puma</text>
<rect x="423.23" y="92.54" width="3.70" height="5.66" fill="#8a7f3c"/>
<line x1="425.08" y1="90.28" x2="425.08" y2="94.81" stroke="#222" stroke-width="0.6"/>
<line x1="424.08" y1="90.28" x2="426.08" y2="90.28" stroke="#222" stroke-width="0.6"/>
<circle cx="424.78" cy="90.62" r="1.20" fill="#2a2a2a"/>
<circle cx="425.36" cy="93.90" r="1.20" fill="#2a2a2a"/>
<circle cx="425.47" cy="92.77" r="1.20" fill="#2a2a2a"/>
<rect x="428.13" y="67.66" width="3.70" height="30.54" fill="#b850f0"/>
<line x1="429.98" y1="64.26" x2="429.98" y2="71.05" stroke="#222" stroke-width="0.6"/>
<line x1="428.98" y1="64.26" x2="430.98" y2="64.26" stroke="#222" stroke-width="0.6"/>
<circle cx="429.95" cy="64.77" r="1.20" fill="#2a2a2a"/>
<circle cx="429.97" cy="69.69" r="1.20" fill="#2a2a2a"/>
<circle cx="429.65" cy="68.00" r="1.20" fill="#2a2a2a"/>
<line x1="427.53" y1="98.20" x2="427.53" y2="100.40" stroke="#333" stroke-width="0.7"/>
<line x1="424.93" y1="57.66" x2="430.13" y2="57.66" stroke="#222" stroke-width="0.8"/>
<text x="427.53" y="57.36" font-size="6.8" text-anchor="middle" fill="#1a1a1a">**</text>
<text x="430.13" y="108.60" font-size="7.9" text-anchor="end" fill="#1a1a1a" transform="rotate(-45 430.13 108.60)">Bcl-2</text>
<rect x="437.06" y="92.54" width="3.70" height="5.66" fill="#8a7f3c"/>
<line x1="438.91" y1="91.41" x2="438.91" y2="93.68" stroke="#222" stroke-width="0.6"/>
<line x1="437.91" y1="91.41" x2="439.91" y2="91.41" stroke="#222" stroke-width="0.6"/>
<circle cx="438.59" cy="91.58" r="1.20" fill="#2a2a2a"/>
<circle cx="438.78" cy="93.22" r="1.20" fill="#2a2a2a"/>
<circle cx="438.72" cy="92.66" r="1.20" fill="#2a2a2a"/>
<rect x="441.96" y="70.49" width="3.70" height="27.71" fill="#b850f0"/>
<line x1="443.81" y1="67.09" x2="443.81" y2="73.88" stroke="#222" stroke-width="0.6"/>
<line x1="442.81" y1="67.09" x2="444.81" y2="67.09" stroke="#222" stroke-width="0.6"/>
<circle cx="444.07" cy="67.60" r="1.20" fill="#2a2a2a"/>
<circle cx="443.54" cy="72.52" r="1.20" fill="#2a2a2a"/>
<circle cx="443.43" cy="70.82" r="1.20" fill="#2a2a2a"/>
<line x1="441.36" y1="98.20" x2="441.36" y2="100.40" stroke="#333" stroke-width="0.7"/>
<line x1="438.76" y1="60.49" x2="443.96" y2="60.49" stroke="#222" stroke-width="0.8"/>
<text x="441.36" y="60.19" font-size="6.8" text-anchor="middle" fill="#1a1a1a">***</text>
<text x="443.96" y="108.60" font-size="7.9" text-anchor="end" fill="#f02828" transform="rotate(-45 443.96 108.60)">Bcl-xL</text>
<line x1="277.30" y1="128.30" x2="293.40" y2="128.30" stroke="#3a3a3a" stroke-width="0.9"/>
<text x="285.35" y="138.60" font-size="7.5" text-anchor="middle" fill="#262626">PAPs</text>
<line x1="301.00" y1="128.30" x2="313.90" y2="128.30" stroke="#3a3a3a" stroke-width="0.9"/>
<text x="307.45" y="138.60" font-size="7.5" text-anchor="middle" fill="#262626">IAPs</text>
<line x1="324.40" y1="128.30" x2="406.30" y2="128.30" stroke="#3a3a3a" stroke-width="0.9"/>
<text x="365.35" y="138.60" font-size="7.5" text-anchor="middle" fill="#262626">MPAPs</text>
<line x1="416.40" y1="128.30" x2="438.20" y2="128.30" stroke="#3a3a3a" stroke-width="0.9"/>
<text x="427.30" y="138.60" font-size="7.5" text-anchor="middle" fill="#262626">MIAPs</text>
<text x="250.50" y="76.00" font-size="8.0" text-anchor="middle" fill="#262626" transform="rotate(-90 250.50 76.00)">Relative</text>
<text x="250.50" y="36.00" font-size="8.0" text-anchor="middle" fill="#262626" transform="rotate(-90 250.50 36.00)">expression</text>
<rect x="273.70" y="3.70" width="12.60" height="4.40" fill="#8a7f3c"/>
<text x="293.00" y="8.90" font-size="8" fill="#262626">shScramble</text>
<rect x="345.00" y="3.70" width="12.60" height="4.40" fill="#b850f0"/>
<text x="363.50" y="8.90" font-size="8" fill="#262626">shHDAC3</text>
<text x="228.80" y="14.50" font-size="20" fill="#111">b</text>
<rect x="414.30" y="42.00" width="3.70" height="56.20" fill="#b850f0"/>
<rect x="414.30" y="21.80" width="3.70" height="10.90" fill="#b850f0"/>
<circle cx="416.15" cy="17.80" r="1.20" fill="#2a2a2a"/>
<circle cx="416.15" cy="21.00" r="1.20" fill="#2a2a2a"/>
<circle cx="416.15" cy="22.00" r="1.20" fill="#2a2a2a"/>
<line x1="411.10" y1="10.90" x2="416.30" y2="10.90" stroke="#222" stroke-width="0.8"/>
<text x="413.70" y="11.50" font-size="6.8" text-anchor="middle" fill="#1a1a1a">***</text>
<line x1="266.70" y1="30.60" x2="272.40" y2="36.30" stroke="#333" stroke-width="0.8"/>
<line x1="266.70" y1="38.10" x2="272.20" y2="43.80" stroke="#333" stroke-width="0.8"/>
<line x1="502.80" y1="98.60" x2="502.80" y2="9.60" stroke="#333" stroke-width="0.8"/>
<line x1="499.40" y1="98.60" x2="502.80" y2="98.60" stroke="#333" stroke-width="0.7"/>
<text x="496.00" y="101.20" font-size="7.4" text-anchor="end" fill="#262626">0.0</text>
<line x1="499.40" y1="80.80" x2="502.80" y2="80.80" stroke="#333" stroke-width="0.7"/>
<text x="496.00" y="83.40" font-size="7.4" text-anchor="end" fill="#262626">0.5</text>
<line x1="499.40" y1="63.00" x2="502.80" y2="63.00" stroke="#333" stroke-width="0.7"/>
<text x="496.00" y="65.60" font-size="7.4" text-anchor="end" fill="#262626">1</text>
<line x1="499.40" y1="45.20" x2="502.80" y2="45.20" stroke="#333" stroke-width="0.7"/>
<text x="496.00" y="47.80" font-size="7.4" text-anchor="end" fill="#262626">1.5</text>
<line x1="499.40" y1="27.40" x2="502.80" y2="27.40" stroke="#333" stroke-width="0.7"/>
<text x="496.00" y="30.00" font-size="7.4" text-anchor="end" fill="#262626">2.0</text>
<line x1="499.40" y1="9.60" x2="502.80" y2="9.60" stroke="#333" stroke-width="0.7"/>
<text x="496.00" y="12.20" font-size="7.4" text-anchor="end" fill="#262626">2.5</text>
<line x1="502.80" y1="98.60" x2="681.60" y2="98.60" stroke="#333" stroke-width="0.8"/>
<line x1="502.80" y1="63.00" x2="681.60" y2="63.00" stroke="#222" stroke-width="0.7" stroke-dasharray="1.2 1.2"/>
<rect x="504.70" y="63.00" width="3.70" height="35.60" fill="#8a7f3c"/>
<line x1="506.55" y1="58.73" x2="506.55" y2="67.27" stroke="#222" stroke-width="0.6"/>
<line x1="505.55" y1="58.73" x2="507.55" y2="58.73" stroke="#222" stroke-width="0.6"/>
<circle cx="506.91" cy="59.37" r="1.20" fill="#2a2a2a"/>
<circle cx="506.57" cy="65.56" r="1.20" fill="#2a2a2a"/>
<circle cx="506.27" cy="63.43" r="1.20" fill="#2a2a2a"/>
<rect x="509.60" y="85.07" width="3.70" height="13.53" fill="#2e8a55"/>
<line x1="511.45" y1="82.22" x2="511.45" y2="87.92" stroke="#222" stroke-width="0.6"/>
<line x1="510.45" y1="82.22" x2="512.45" y2="82.22" stroke="#222" stroke-width="0.6"/>
<circle cx="511.48" cy="82.65" r="1.20" fill="#2a2a2a"/>
<circle cx="511.07" cy="86.78" r="1.20" fill="#2a2a2a"/>
<circle cx="511.47" cy="85.36" r="1.20" fill="#2a2a2a"/>
<line x1="509.00" y1="98.60" x2="509.00" y2="100.80" stroke="#333" stroke-width="0.7"/>
<line x1="506.40" y1="52.13" x2="511.60" y2="52.13" stroke="#222" stroke-width="0.8"/>
<text x="509.00" y="51.83" font-size="6.8" text-anchor="middle" fill="#1a1a1a">**</text>
<text x="511.60" y="109.00" font-size="7.9" text-anchor="end" fill="#1a1a1a" transform="rotate(-45 511.60 109.00)">KAT5</text>
<rect x="518.48" y="63.00" width="3.70" height="35.60" fill="#8a7f3c"/>
<line x1="520.33" y1="59.44" x2="520.33" y2="66.56" stroke="#222" stroke-width="0.6"/>
<line x1="519.33" y1="59.44" x2="521.33" y2="59.44" stroke="#222" stroke-width="0.6"/>
<circle cx="520.71" cy="59.97" r="1.20" fill="#2a2a2a"/>
<circle cx="520.62" cy="65.14" r="1.20" fill="#2a2a2a"/>
<circle cx="520.49" cy="63.36" r="1.20" fill="#2a2a2a"/>
<rect x="523.38" y="37.37" width="3.70" height="61.23" fill="#2e8a55"/>
<line x1="525.23" y1="34.52" x2="525.23" y2="40.22" stroke="#222" stroke-width="0.6"/>
<line x1="524.23" y1="34.52" x2="526.23" y2="34.52" stroke="#222" stroke-width="0.6"/>
<circle cx="525.04" cy="34.95" r="1.20" fill="#2a2a2a"/>
<circle cx="525.12" cy="39.08" r="1.20" fill="#2a2a2a"/>
<circle cx="524.96" cy="37.65" r="1.20" fill="#2a2a2a"/>
<line x1="522.78" y1="98.60" x2="522.78" y2="100.80" stroke="#333" stroke-width="0.7"/>
<line x1="520.18" y1="27.92" x2="525.38" y2="27.92" stroke="#222" stroke-width="0.8"/>
<text x="522.78" y="27.62" font-size="6.8" text-anchor="middle" fill="#1a1a1a">***</text>
<text x="525.38" y="109.00" font-size="7.9" text-anchor="end" fill="#1a1a1a" transform="rotate(-45 525.38 109.00)">HtrA2</text>
<rect x="532.26" y="63.00" width="3.70" height="35.60" fill="#8a7f3c"/>
<line x1="534.11" y1="62.29" x2="534.11" y2="63.71" stroke="#222" stroke-width="0.6"/>
<line x1="533.11" y1="62.29" x2="535.11" y2="62.29" stroke="#222" stroke-width="0.6"/>
<circle cx="534.33" cy="62.39" r="1.20" fill="#2a2a2a"/>
<circle cx="534.14" cy="63.43" r="1.20" fill="#2a2a2a"/>
<circle cx="534.33" cy="63.07" r="1.20" fill="#2a2a2a"/>
<rect x="537.16" y="75.46" width="3.70" height="23.14" fill="#2e8a55"/>
<line x1="539.01" y1="73.32" x2="539.01" y2="77.60" stroke="#222" stroke-width="0.6"/>
<line x1="538.01" y1="73.32" x2="540.01" y2="73.32" stroke="#222" stroke-width="0.6"/>
<circle cx="538.87" cy="73.64" r="1.20" fill="#2a2a2a"/>
<circle cx="538.79" cy="76.74" r="1.20" fill="#2a2a2a"/>
<circle cx="539.26" cy="75.67" r="1.20" fill="#2a2a2a"/>
<line x1="536.56" y1="98.60" x2="536.56" y2="100.80" stroke="#333" stroke-width="0.7"/>
<line x1="533.96" y1="55.69" x2="539.16" y2="55.69" stroke="#222" stroke-width="0.8"/>
<text x="536.56" y="55.39" font-size="6.8" text-anchor="middle" fill="#1a1a1a">***</text>
<text x="539.16" y="109.00" font-size="7.9" text-anchor="end" fill="#f02828" transform="rotate(-45 539.16 109.00)">Smac</text>
<rect x="546.04" y="63.00" width="3.70" height="35.60" fill="#8a7f3c"/>
<line x1="547.89" y1="60.86" x2="547.89" y2="65.14" stroke="#222" stroke-width="0.6"/>
<line x1="546.89" y1="60.86" x2="548.89" y2="60.86" stroke="#222" stroke-width="0.6"/>
<circle cx="548.28" cy="61.18" r="1.20" fill="#2a2a2a"/>
<circle cx="548.17" cy="64.28" r="1.20" fill="#2a2a2a"/>
<circle cx="548.13" cy="63.21" r="1.20" fill="#2a2a2a"/>
<rect x="550.94" y="39.86" width="3.70" height="58.74" fill="#2e8a55"/>
<line x1="552.79" y1="34.88" x2="552.79" y2="44.84" stroke="#222" stroke-width="0.6"/>
<line x1="551.79" y1="34.88" x2="553.79" y2="34.88" stroke="#222" stroke-width="0.6"/>
<circle cx="553.04" cy="35.62" r="1.20" fill="#2a2a2a"/>
<circle cx="552.98" cy="42.85" r="1.20" fill="#2a2a2a"/>
<circle cx="552.57" cy="40.36" r="1.20" fill="#2a2a2a"/>
<line x1="550.34" y1="98.60" x2="550.34" y2="100.80" stroke="#333" stroke-width="0.7"/>
<line x1="547.74" y1="28.28" x2="552.94" y2="28.28" stroke="#222" stroke-width="0.8"/>
<text x="550.34" y="27.98" font-size="6.8" text-anchor="middle" fill="#1a1a1a">**</text>
<text x="552.94" y="109.00" font-size="7.9" text-anchor="end" fill="#1a1a1a" transform="rotate(-45 552.94 109.00)">Xiap</text>
<rect x="559.82" y="63.00" width="3.70" height="35.60" fill="#8a7f3c"/>
<line x1="561.67" y1="52.32" x2="561.67" y2="73.68" stroke="#222" stroke-width="0.6"/>
<line x1="560.67" y1="52.32" x2="562.67" y2="52.32" stroke="#222" stroke-width="0.6"/>
<circle cx="561.68" cy="53.92" r="1.20" fill="#2a2a2a"/>
<circle cx="561.55" cy="69.41" r="1.20" fill="#2a2a2a"/>
<circle cx="561.29" cy="64.07" r="1.20" fill="#2a2a2a"/>
<rect x="564.72" y="57.66" width="3.70" height="40.94" fill="#2e8a55"/>
<line x1="566.57" y1="53.39" x2="566.57" y2="61.93" stroke="#222" stroke-width="0.6"/>
<line x1="565.57" y1="53.39" x2="567.57" y2="53.39" stroke="#222" stroke-width="0.6"/>
<circle cx="566.19" cy="54.03" r="1.20" fill="#2a2a2a"/>
<circle cx="566.39" cy="60.22" r="1.20" fill="#2a2a2a"/>
<circle cx="566.38" cy="58.09" r="1.20" fill="#2a2a2a"/>
<line x1="564.12" y1="98.60" x2="564.12" y2="100.80" stroke="#333" stroke-width="0.7"/>
<line x1="561.52" y1="45.72" x2="566.72" y2="45.72" stroke="#222" stroke-width="0.8"/>
<text x="564.12" y="44.12" font-size="6.8" text-anchor="middle" fill="#262626">ns</text>
<text x="566.72" y="109.00" font-size="7.9" text-anchor="end" fill="#1a1a1a" transform="rotate(-45 566.72 109.00)">bak</text>
<rect x="573.60" y="63.00" width="3.70" height="35.60" fill="#8a7f3c"/>
<line x1="575.45" y1="55.88" x2="575.45" y2="70.12" stroke="#222" stroke-width="0.6"/>
<line x1="574.45" y1="55.88" x2="576.45" y2="55.88" stroke="#222" stroke-width="0.6"/>
<circle cx="575.60" cy="56.95" r="1.20" fill="#2a2a2a"/>
<circle cx="575.82" cy="67.27" r="1.20" fill="#2a2a2a"/>
<circle cx="575.41" cy="63.71" r="1.20" fill="#2a2a2a"/>
<rect x="578.50" y="45.20" width="3.70" height="53.40" fill="#2e8a55"/>
<line x1="580.35" y1="41.64" x2="580.35" y2="48.76" stroke="#222" stroke-width="0.6"/>
<line x1="579.35" y1="41.64" x2="581.35" y2="41.64" stroke="#222" stroke-width="0.6"/>
<circle cx="580.70" cy="42.17" r="1.20" fill="#2a2a2a"/>
<circle cx="580.74" cy="47.34" r="1.20" fill="#2a2a2a"/>
<circle cx="580.71" cy="45.56" r="1.20" fill="#2a2a2a"/>
<line x1="577.90" y1="98.60" x2="577.90" y2="100.80" stroke="#333" stroke-width="0.7"/>
<line x1="575.30" y1="35.04" x2="580.50" y2="35.04" stroke="#222" stroke-width="0.8"/>
<text x="577.90" y="34.74" font-size="6.8" text-anchor="middle" fill="#1a1a1a">*</text>
<text x="580.50" y="109.00" font-size="7.9" text-anchor="end" fill="#1a1a1a" transform="rotate(-45 580.50 109.00)">bax</text>
<rect x="587.38" y="63.00" width="3.70" height="35.60" fill="#8a7f3c"/>
<line x1="589.23" y1="52.32" x2="589.23" y2="73.68" stroke="#222" stroke-width="0.6"/>
<line x1="588.23" y1="52.32" x2="590.23" y2="52.32" stroke="#222" stroke-width="0.6"/>
<circle cx="589.12" cy="53.92" r="1.20" fill="#2a2a2a"/>
<circle cx="589.01" cy="69.41" r="1.20" fill="#2a2a2a"/>
<circle cx="589.01" cy="64.07" r="1.20" fill="#2a2a2a"/>
<rect x="592.28" y="52.32" width="3.70" height="46.28" fill="#2e8a55"/>
<line x1="594.13" y1="46.98" x2="594.13" y2="57.66" stroke="#222" stroke-width="0.6"/>
<line x1="593.13" y1="46.98" x2="595.13" y2="46.98" stroke="#222" stroke-width="0.6"/>
<circle cx="593.89" cy="47.78" r="1.20" fill="#2a2a2a"/>
<circle cx="593.89" cy="55.52" r="1.20" fill="#2a2a2a"/>
<circle cx="594.23" cy="52.85" r="1.20" fill="#2a2a2a"/>
<line x1="591.68" y1="98.60" x2="591.68" y2="100.80" stroke="#333" stroke-width="0.7"/>
<line x1="589.08" y1="40.38" x2="594.28" y2="40.38" stroke="#222" stroke-width="0.8"/>
<text x="591.68" y="38.78" font-size="6.8" text-anchor="middle" fill="#262626">ns</text>
<text x="594.28" y="109.00" font-size="7.9" text-anchor="end" fill="#1a1a1a" transform="rotate(-45 594.28 109.00)">bid</text>
<rect x="601.16" y="63.00" width="3.70" height="35.60" fill="#8a7f3c"/>
<line x1="603.01" y1="54.10" x2="603.01" y2="71.90" stroke="#222" stroke-width="0.6"/>
<line x1="602.01" y1="54.10" x2="604.01" y2="54.10" stroke="#222" stroke-width="0.6"/>
<circle cx="603.33" cy="55.43" r="1.20" fill="#2a2a2a"/>
<circle cx="603.28" cy="68.34" r="1.20" fill="#2a2a2a"/>
<circle cx="602.99" cy="63.89" r="1.20" fill="#2a2a2a"/>
<rect x="606.06" y="84.36" width="3.70" height="14.24" fill="#2e8a55"/>
<line x1="607.91" y1="79.02" x2="607.91" y2="89.70" stroke="#222" stroke-width="0.6"/>
<line x1="606.91" y1="79.02" x2="608.91" y2="79.02" stroke="#222" stroke-width="0.6"/>
<circle cx="608.03" cy="79.82" r="1.20" fill="#2a2a2a"/>
<circle cx="608.15" cy="87.56" r="1.20" fill="#2a2a2a"/>
<circle cx="607.58" cy="84.89" r="1.20" fill="#2a2a2a"/>
<line x1="605.46" y1="98.60" x2="605.46" y2="100.80" stroke="#333" stroke-width="0.7"/>
<line x1="602.86" y1="47.50" x2="608.06" y2="47.50" stroke="#222" stroke-width="0.8"/>
<text x="605.46" y="47.20" font-size="6.8" text-anchor="middle" fill="#1a1a1a">*</text>
<text x="608.06" y="109.00" font-size="7.9" text-anchor="end" fill="#f02828" transform="rotate(-45 608.06 109.00)">bad</text>
<rect x="614.94" y="63.00" width="3.70" height="35.60" fill="#8a7f3c"/>
<line x1="616.79" y1="51.25" x2="616.79" y2="74.75" stroke="#222" stroke-width="0.6"/>
<line x1="615.79" y1="51.25" x2="617.79" y2="51.25" stroke="#222" stroke-width="0.6"/>
<circle cx="616.92" cy="53.01" r="1.20" fill="#2a2a2a"/>
<circle cx="617.12" cy="70.05" r="1.20" fill="#2a2a2a"/>
<circle cx="617.02" cy="64.17" r="1.20" fill="#2a2a2a"/>
<rect x="619.84" y="90.77" width="3.70" height="7.83" fill="#2e8a55"/>
<line x1="621.69" y1="90.06" x2="621.69" y2="91.48" stroke="#222" stroke-width="0.6"/>
<line x1="620.69" y1="90.06" x2="622.69" y2="90.06" stroke="#222" stroke-width="0.6"/>
<circle cx="621.89" cy="90.16" r="1.20" fill="#2a2a2a"/>
<circle cx="621.67" cy="91.20" r="1.20" fill="#2a2a2a"/>
<circle cx="621.43" cy="90.84" r="1.20" fill="#2a2a2a"/>
<line x1="619.24" y1="98.60" x2="619.24" y2="100.80" stroke="#333" stroke-width="0.7"/>
<line x1="616.64" y1="44.65" x2="621.84" y2="44.65" stroke="#222" stroke-width="0.8"/>
<text x="619.24" y="44.35" font-size="6.8" text-anchor="middle" fill="#1a1a1a">**</text>
<text x="621.84" y="109.00" font-size="7.9" text-anchor="end" fill="#f02828" transform="rotate(-45 621.84 109.00)">bim</text>
<rect x="628.72" y="63.00" width="3.70" height="35.60" fill="#8a7f3c"/>
<line x1="630.57" y1="61.22" x2="630.57" y2="64.78" stroke="#222" stroke-width="0.6"/>
<line x1="629.57" y1="61.22" x2="631.57" y2="61.22" stroke="#222" stroke-width="0.6"/>
<circle cx="630.80" cy="61.49" r="1.20" fill="#2a2a2a"/>
<circle cx="630.44" cy="64.07" r="1.20" fill="#2a2a2a"/>
<circle cx="630.81" cy="63.18" r="1.20" fill="#2a2a2a"/>
<rect x="633.62" y="34.52" width="3.70" height="64.08" fill="#2e8a55"/>
<line x1="635.47" y1="30.96" x2="635.47" y2="38.08" stroke="#222" stroke-width="0.6"/>
<line x1="634.47" y1="30.96" x2="636.47" y2="30.96" stroke="#222" stroke-width="0.6"/>
<circle cx="635.85" cy="31.49" r="1.20" fill="#2a2a2a"/>
<circle cx="635.39" cy="36.66" r="1.20" fill="#2a2a2a"/>
<circle cx="635.39" cy="34.88" r="1.20" fill="#2a2a2a"/>
<line x1="633.02" y1="98.60" x2="633.02" y2="100.80" stroke="#333" stroke-width="0.7"/>
<line x1="630.42" y1="24.36" x2="635.62" y2="24.36" stroke="#222" stroke-width="0.8"/>
<text x="633.02" y="24.06" font-size="6.8" text-anchor="middle" fill="#1a1a1a">***</text>
<text x="635.62" y="109.00" font-size="7.9" text-anchor="end" fill="#1a1a1a" transform="rotate(-45 635.62 109.00)">noxa</text>
<rect x="642.50" y="63.00" width="3.70" height="35.60" fill="#8a7f3c"/>
<line x1="644.35" y1="48.05" x2="644.35" y2="77.95" stroke="#222" stroke-width="0.6"/>
<line x1="643.35" y1="48.05" x2="645.35" y2="48.05" stroke="#222" stroke-width="0.6"/>
<circle cx="644.71" cy="50.29" r="1.20" fill="#2a2a2a"/>
<circle cx="644.53" cy="71.97" r="1.20" fill="#2a2a2a"/>
<circle cx="644.09" cy="64.50" r="1.20" fill="#2a2a2a"/>
<rect x="647.40" y="61.22" width="3.70" height="37.38" fill="#2e8a55"/>
<line x1="649.25" y1="56.95" x2="649.25" y2="65.49" stroke="#222" stroke-width="0.6"/>
<line x1="648.25" y1="56.95" x2="650.25" y2="56.95" stroke="#222" stroke-width="0.6"/>
<circle cx="648.95" cy="57.59" r="1.20" fill="#2a2a2a"/>
<circle cx="648.97" cy="63.78" r="1.20" fill="#2a2a2a"/>
<circle cx="649.57" cy="61.65" r="1.20" fill="#2a2a2a"/>
<line x1="646.80" y1="98.60" x2="646.80" y2="100.80" stroke="#333" stroke-width="0.7"/>
<line x1="644.20" y1="41.45" x2="649.40" y2="41.45" stroke="#222" stroke-width="0.8"/>
<text x="646.80" y="39.85" font-size="6.8" text-anchor="middle" fill="#262626">ns</text>
<text x="649.40" y="109.00" font-size="7.9" text-anchor="end" fill="#1a1a1a" transform="rotate(-45 649.40 109.00)">puma</text>
<rect x="656.28" y="63.00" width="3.70" height="35.60" fill="#8a7f3c"/>
<line x1="658.13" y1="50.54" x2="658.13" y2="75.46" stroke="#222" stroke-width="0.6"/>
<line x1="657.13" y1="50.54" x2="659.13" y2="50.54" stroke="#222" stroke-width="0.6"/>
<circle cx="658.38" cy="52.41" r="1.20" fill="#2a2a2a"/>
<circle cx="657.85" cy="70.48" r="1.20" fill="#2a2a2a"/>
<circle cx="658.39" cy="64.25" r="1.20" fill="#2a2a2a"/>
<rect x="661.18" y="61.22" width="3.70" height="37.38" fill="#2e8a55"/>
<line x1="663.03" y1="54.10" x2="663.03" y2="68.34" stroke="#222" stroke-width="0.6"/>
<line x1="662.03" y1="54.10" x2="664.03" y2="54.10" stroke="#222" stroke-width="0.6"/>
<circle cx="663.41" cy="55.17" r="1.20" fill="#2a2a2a"/>
<circle cx="663.16" cy="65.49" r="1.20" fill="#2a2a2a"/>
<circle cx="662.91" cy="61.93" r="1.20" fill="#2a2a2a"/>
<line x1="660.58" y1="98.60" x2="660.58" y2="100.80" stroke="#333" stroke-width="0.7"/>
<line x1="657.98" y1="43.94" x2="663.18" y2="43.94" stroke="#222" stroke-width="0.8"/>
<text x="660.58" y="42.34" font-size="6.8" text-anchor="middle" fill="#262626">ns</text>
<text x="663.18" y="109.00" font-size="7.9" text-anchor="end" fill="#1a1a1a" transform="rotate(-45 663.18 109.00)">Bcl-2</text>
<rect x="670.06" y="63.00" width="3.70" height="35.60" fill="#8a7f3c"/>
<line x1="671.91" y1="52.32" x2="671.91" y2="73.68" stroke="#222" stroke-width="0.6"/>
<line x1="670.91" y1="52.32" x2="672.91" y2="52.32" stroke="#222" stroke-width="0.6"/>
<circle cx="671.95" cy="53.92" r="1.20" fill="#2a2a2a"/>
<circle cx="671.61" cy="69.41" r="1.20" fill="#2a2a2a"/>
<circle cx="671.52" cy="64.07" r="1.20" fill="#2a2a2a"/>
<rect x="674.96" y="63.00" width="3.70" height="35.60" fill="#2e8a55"/>
<line x1="676.81" y1="60.15" x2="676.81" y2="65.85" stroke="#222" stroke-width="0.6"/>
<line x1="675.81" y1="60.15" x2="677.81" y2="60.15" stroke="#222" stroke-width="0.6"/>
<circle cx="677.19" cy="60.58" r="1.20" fill="#2a2a2a"/>
<circle cx="676.93" cy="64.71" r="1.20" fill="#2a2a2a"/>
<circle cx="676.83" cy="63.28" r="1.20" fill="#2a2a2a"/>
<line x1="674.36" y1="98.60" x2="674.36" y2="100.80" stroke="#333" stroke-width="0.7"/>
<line x1="671.76" y1="45.72" x2="676.96" y2="45.72" stroke="#222" stroke-width="0.8"/>
<text x="674.36" y="44.12" font-size="6.8" text-anchor="middle" fill="#262626">ns</text>
<text x="676.96" y="109.00" font-size="7.9" text-anchor="end" fill="#1a1a1a" transform="rotate(-45 676.96 109.00)">Bcl-xL</text>
<line x1="510.30" y1="127.60" x2="527.70" y2="127.60" stroke="#3a3a3a" stroke-width="0.9"/>
<text x="519.00" y="137.90" font-size="7.5" text-anchor="middle" fill="#262626">PAPs</text>
<line x1="533.80" y1="127.60" x2="546.30" y2="127.60" stroke="#3a3a3a" stroke-width="0.9"/>
<text x="540.05" y="137.90" font-size="7.5" text-anchor="middle" fill="#262626">IAPs</text>
<line x1="557.40" y1="127.60" x2="639.20" y2="127.60" stroke="#3a3a3a" stroke-width="0.9"/>
<text x="598.30" y="137.90" font-size="7.5" text-anchor="middle" fill="#262626">MPAPs</text>
<line x1="649.00" y1="127.60" x2="665.60" y2="127.60" stroke="#3a3a3a" stroke-width="0.9"/>
<text x="657.30" y="137.90" font-size="7.5" text-anchor="middle" fill="#262626">MIAPs</text>
<text x="481.80" y="55.40" font-size="8.0" text-anchor="middle" fill="#262626" transform="rotate(-90 481.80 55.40)">Relative expression</text>
<rect x="521.30" y="3.70" width="12.60" height="4.40" fill="#8a7f3c"/>
<text x="540.60" y="8.90" font-size="8" fill="#262626">shScramble</text>
<rect x="609.80" y="3.70" width="12.60" height="4.40" fill="#2e8a55"/>
<text x="628.80" y="8.90" font-size="8" fill="#262626">shKAT5</text>
<text x="460.10" y="14.30" font-size="20" fill="#111">c</text>
<text x="-0.20" y="170.60" font-size="20" fill="#111">d</text>
<rect x="33.90" y="166.70" width="19.30" height="9.00" fill="#3c3ce6"/>
<text x="43.55" y="173.00" font-size="5.6" text-anchor="middle" fill="#1c1414">321.88</text>
<rect x="54.90" y="166.70" width="19.30" height="9.00" fill="#7474c8"/>
<text x="64.55" y="173.00" font-size="5.6" text-anchor="middle" fill="#1c1414">196.59</text>
<rect x="75.90" y="166.70" width="19.30" height="9.00" fill="#6060d0"/>
<text x="85.55" y="173.00" font-size="5.6" text-anchor="middle" fill="#1c1414">152.30</text>
<rect x="96.90" y="166.70" width="19.30" height="9.00" fill="#8c8cc4"/>
<text x="106.55" y="173.00" font-size="5.6" text-anchor="middle" fill="#1c1414">37.81</text>
<rect x="117.90" y="166.70" width="19.30" height="9.00" fill="#2020f0"/>
<text x="127.55" y="173.00" font-size="5.6" text-anchor="middle" fill="#1c1414">119.90</text>
<rect x="33.90" y="176.76" width="19.30" height="9.00" fill="#9c9cc4"/>
<text x="43.55" y="183.06" font-size="5.6" text-anchor="middle" fill="#1c1414">348.46</text>
<rect x="54.90" y="176.76" width="19.30" height="9.00" fill="#3030ee"/>
<text x="64.55" y="183.06" font-size="5.6" text-anchor="middle" fill="#1c1414">184.41</text>
<rect x="75.90" y="176.76" width="19.30" height="9.00" fill="#3535ea"/>
<text x="85.55" y="183.06" font-size="5.6" text-anchor="middle" fill="#1c1414">134.63</text>
<rect x="96.90" y="176.76" width="19.30" height="9.00" fill="#c8c4b0"/>
<text x="106.55" y="183.06" font-size="5.6" text-anchor="middle" fill="#1c1414">44.12</text>
<rect x="117.90" y="176.76" width="19.30" height="9.00" fill="#a4a4c4"/>
<text x="127.55" y="183.06" font-size="5.6" text-anchor="middle" fill="#1c1414">160.65</text>
<rect x="33.90" y="186.82" width="19.30" height="9.00" fill="#c4c0bc"/>
<text x="43.55" y="193.12" font-size="5.6" text-anchor="middle" fill="#1c1414">358.92</text>
<rect x="54.90" y="186.82" width="19.30" height="9.00" fill="#ece8c0"/>
<text x="64.55" y="193.12" font-size="5.6" text-anchor="middle" fill="#1c1414">234.59</text>
<rect x="75.90" y="186.82" width="19.30" height="9.00" fill="#e08868"/>
<text x="85.55" y="193.12" font-size="5.6" text-anchor="middle" fill="#1c1414">274.59</text>
<rect x="96.90" y="186.82" width="19.30" height="9.00" fill="#4848e0"/>
<text x="106.55" y="193.12" font-size="5.6" text-anchor="middle" fill="#1c1414">33.51</text>
<rect x="117.90" y="186.82" width="19.30" height="9.00" fill="#f0ecc0"/>
<text x="127.55" y="193.12" font-size="5.6" text-anchor="middle" fill="#1c1414">182.70</text>
<rect x="33.90" y="196.88" width="19.30" height="9.00" fill="#c0bcbc"/>
<text x="43.55" y="203.18" font-size="5.6" text-anchor="middle" fill="#1c1414">358.88</text>
<rect x="54.90" y="196.88" width="19.30" height="9.00" fill="#e8b088"/>
<text x="64.55" y="203.18" font-size="5.6" text-anchor="middle" fill="#1c1414">256.65</text>
<rect x="75.90" y="196.88" width="19.30" height="9.00" fill="#e05048"/>
<text x="85.55" y="203.18" font-size="5.6" text-anchor="middle" fill="#1c1414">316.46</text>
<rect x="96.90" y="196.88" width="19.30" height="9.00" fill="#ece8c0"/>
<text x="106.55" y="203.18" font-size="5.6" text-anchor="middle" fill="#1c1414">48.94</text>
<rect x="117.90" y="196.88" width="19.30" height="9.00" fill="#f0ecc0"/>
<text x="127.55" y="203.18" font-size="5.6" text-anchor="middle" fill="#1c1414">185.96</text>
<rect x="33.90" y="206.94" width="19.30" height="9.00" fill="#e08060"/>
<text x="43.55" y="213.24" font-size="5.6" text-anchor="middle" fill="#1c1414">412.68</text>
<rect x="54.90" y="206.94" width="19.30" height="9.00" fill="#e8b890"/>
<text x="64.55" y="213.24" font-size="5.6" text-anchor="middle" fill="#1c1414">253.06</text>
<rect x="75.90" y="206.94" width="19.30" height="9.00" fill="#f0e8c0"/>
<text x="85.55" y="213.24" font-size="5.6" text-anchor="middle" fill="#1c1414">221.91</text>
<rect x="96.90" y="206.94" width="19.30" height="9.00" fill="#e82020"/>
<text x="106.55" y="213.24" font-size="5.6" text-anchor="middle" fill="#1c1414">74.94</text>
<rect x="117.90" y="206.94" width="19.30" height="9.00" fill="#e8a080"/>
<text x="127.55" y="213.24" font-size="5.6" text-anchor="middle" fill="#1c1414">213.16</text>
<rect x="33.90" y="217.00" width="19.30" height="9.00" fill="#e03030"/>
<text x="43.55" y="223.30" font-size="5.6" text-anchor="middle" fill="#1c1414">436.92</text>
<rect x="54.90" y="217.00" width="19.30" height="9.00" fill="#e03030"/>
<text x="64.55" y="223.30" font-size="5.6" text-anchor="middle" fill="#1c1414">310.83</text>
<rect x="75.90" y="217.00" width="19.30" height="9.00" fill="#f0e8c0"/>
<text x="85.55" y="223.30" font-size="5.6" text-anchor="middle" fill="#1c1414">221.88</text>
<rect x="96.90" y="217.00" width="19.30" height="9.00" fill="#e8d4a8"/>
<text x="106.55" y="223.30" font-size="5.6" text-anchor="middle" fill="#1c1414">50.83</text>
<rect x="117.90" y="217.00" width="19.30" height="9.00" fill="#e03838"/>
<text x="127.55" y="223.30" font-size="5.6" text-anchor="middle" fill="#1c1414">267.82</text>
<text x="85.70" y="161.50" font-size="7.8" text-anchor="middle" fill="#262626">H3K27ac</text>
<line x1="34.60" y1="164.50" x2="136.90" y2="164.50" stroke="#444" stroke-width="0.8"/>
<text x="140.10" y="174.10" font-size="8" fill="#1a1a1a">shScramble</text>
<text x="140.10" y="184.16" font-size="8" fill="#1a1a1a">shScramble</text>
<text x="140.10" y="194.22" font-size="8" fill="#1a1a1a">shCtBP</text>
<text x="140.10" y="204.28" font-size="8" fill="#1a1a1a">shCtBP</text>
<text x="140.10" y="214.34" font-size="8" fill="#1a1a1a">shHDAC3</text>
<text x="140.10" y="224.40" font-size="8" fill="#1a1a1a">shHDAC3</text>
<text x="27.80" y="196.50" font-size="7.8" text-anchor="middle" fill="#262626" transform="rotate(-90 27.80 196.50)">Signal Value</text>
<text x="46.55" y="232.00" font-size="7.8" text-anchor="end" fill="#262626" font-style="italic" transform="rotate(-45 46.55 232.00)">smac</text>
<text x="67.55" y="232.00" font-size="7.8" text-anchor="end" fill="#262626" font-style="italic" transform="rotate(-45 67.55 232.00)">Xiap</text>
<text x="88.55" y="232.00" font-size="7.8" text-anchor="end" fill="#262626" font-style="italic" transform="rotate(-45 88.55 232.00)">bid</text>
<text x="109.55" y="232.00" font-size="7.8" text-anchor="end" fill="#262626" font-style="italic" transform="rotate(-45 109.55 232.00)">noxa</text>
<text x="130.55" y="232.00" font-size="7.8" text-anchor="end" fill="#262626" font-style="italic" transform="rotate(-45 130.55 232.00)">puma</text>
<line x1="27.20" y1="250.20" x2="42.50" y2="250.20" stroke="#444" stroke-width="0.7"/>
<text x="35.10" y="263.90" font-size="7.5" text-anchor="middle" fill="#262626">PAPs</text>
<line x1="51.70" y1="250.20" x2="68.00" y2="250.20" stroke="#444" stroke-width="0.7"/>
<text x="60.80" y="263.90" font-size="7.5" text-anchor="middle" fill="#262626">IAPs</text>
<line x1="80.30" y1="250.20" x2="128.30" y2="250.20" stroke="#444" stroke-width="0.7"/>
<text x="102.80" y="263.90" font-size="7.5" text-anchor="middle" fill="#262626">MPAPs</text>
<rect x="208.80" y="167.30" width="18.40" height="8.60" fill="#a8a8c8"/>
<text x="218.00" y="173.40" font-size="5.4" text-anchor="middle" fill="#1c1414">180.35</text>
<rect x="228.57" y="167.30" width="18.40" height="8.60" fill="#a4a4c8"/>
<text x="237.77" y="173.40" font-size="5.4" text-anchor="middle" fill="#1c1414">183.02</text>
<rect x="248.34" y="167.30" width="18.40" height="8.60" fill="#e8dcb0"/>
<text x="257.54" y="173.40" font-size="5.4" text-anchor="middle" fill="#1c1414">106.87</text>
<rect x="268.11" y="167.30" width="18.40" height="8.60" fill="#7878c8"/>
<text x="277.31" y="173.40" font-size="5.4" text-anchor="middle" fill="#1c1414">30.73</text>
<rect x="287.88" y="167.30" width="18.40" height="8.60" fill="#3c3ce4"/>
<text x="297.08" y="173.40" font-size="5.4" text-anchor="middle" fill="#1c1414">33.40</text>
<rect x="307.65" y="167.30" width="18.40" height="8.60" fill="#4040e0"/>
<text x="316.85" y="173.40" font-size="5.4" text-anchor="middle" fill="#1c1414">58.78</text>
<rect x="327.42" y="167.30" width="18.40" height="8.60" fill="#e0dcc0"/>
<text x="336.62" y="173.40" font-size="5.4" text-anchor="middle" fill="#1c1414">44.75</text>
<rect x="347.19" y="167.30" width="18.40" height="8.60" fill="#ccc8c0"/>
<text x="356.39" y="173.40" font-size="5.4" text-anchor="middle" fill="#1c1414">55.44</text>
<rect x="366.96" y="167.30" width="18.40" height="8.60" fill="#e0dcb8"/>
<text x="376.16" y="173.40" font-size="5.4" text-anchor="middle" fill="#1c1414">34.73</text>
<rect x="386.73" y="167.30" width="18.40" height="8.60" fill="#6868d8"/>
<text x="395.93" y="173.40" font-size="5.4" text-anchor="middle" fill="#1c1414">45.42</text>
<rect x="208.80" y="177.40" width="18.40" height="8.60" fill="#5050dc"/>
<text x="218.00" y="183.50" font-size="5.4" text-anchor="middle" fill="#1c1414">165.01</text>
<rect x="228.57" y="177.40" width="18.40" height="8.60" fill="#4040e4"/>
<text x="237.77" y="183.50" font-size="5.4" text-anchor="middle" fill="#1c1414">156.80</text>
<rect x="248.34" y="177.40" width="18.40" height="8.60" fill="#1010f8"/>
<text x="257.54" y="183.50" font-size="5.4" text-anchor="middle" fill="#1c1414">66.55</text>
<rect x="268.11" y="177.40" width="18.40" height="8.60" fill="#2828f0"/>
<text x="277.31" y="183.50" font-size="5.4" text-anchor="middle" fill="#1c1414">27.35</text>
<rect x="287.88" y="177.40" width="18.40" height="8.60" fill="#8080c8"/>
<text x="297.08" y="183.50" font-size="5.4" text-anchor="middle" fill="#1c1414">37.38</text>
<rect x="307.65" y="177.40" width="18.40" height="8.60" fill="#e4e0c0"/>
<text x="316.85" y="183.50" font-size="5.4" text-anchor="middle" fill="#1c1414">83.87</text>
<rect x="327.42" y="177.40" width="18.40" height="8.60" fill="#b0b0c8"/>
<text x="336.62" y="183.50" font-size="5.4" text-anchor="middle" fill="#1c1414">40.11</text>
<rect x="347.19" y="177.40" width="18.40" height="8.60" fill="#1818f8"/>
<text x="356.39" y="183.50" font-size="5.4" text-anchor="middle" fill="#1c1414">42.85</text>
<rect x="366.96" y="177.40" width="18.40" height="8.60" fill="#c4c4c8"/>
<text x="376.16" y="183.50" font-size="5.4" text-anchor="middle" fill="#1c1414">29.17</text>
<rect x="386.73" y="177.40" width="18.40" height="8.60" fill="#8080cc"/>
<text x="395.93" y="183.50" font-size="5.4" text-anchor="middle" fill="#1c1414">47.41</text>
<rect x="208.80" y="187.50" width="18.40" height="8.60" fill="#ecebc0"/>
<text x="218.00" y="193.60" font-size="5.4" text-anchor="middle" fill="#1c1414">198.78</text>
<rect x="228.57" y="187.50" width="18.40" height="8.60" fill="#e08068"/>
<text x="237.77" y="193.60" font-size="5.4" text-anchor="middle" fill="#1c1414">241.21</text>
<rect x="248.34" y="187.50" width="18.40" height="8.60" fill="#ecdcb8"/>
<text x="257.54" y="193.60" font-size="5.4" text-anchor="middle" fill="#1c1414">109.13</text>
<rect x="268.11" y="187.50" width="18.40" height="8.60" fill="#e8b890"/>
<text x="277.31" y="193.60" font-size="5.4" text-anchor="middle" fill="#1c1414">42.09</text>
<rect x="287.88" y="187.50" width="18.40" height="8.60" fill="#e4e4c0"/>
<text x="297.08" y="193.60" font-size="5.4" text-anchor="middle" fill="#1c1414">46.77</text>
<rect x="307.65" y="187.50" width="18.40" height="8.60" fill="#e0dcc0"/>
<text x="316.85" y="193.60" font-size="5.4" text-anchor="middle" fill="#1c1414">82.63</text>
<rect x="327.42" y="187.50" width="18.40" height="8.60" fill="#e8a080"/>
<text x="336.62" y="193.60" font-size="5.4" text-anchor="middle" fill="#1c1414">57.68</text>
<rect x="347.19" y="187.50" width="18.40" height="8.60" fill="#e89070"/>
<text x="356.39" y="193.60" font-size="5.4" text-anchor="middle" fill="#1c1414">67.04</text>
<rect x="366.96" y="187.50" width="18.40" height="8.60" fill="#e8dcb0"/>
<text x="376.16" y="193.60" font-size="5.4" text-anchor="middle" fill="#1c1414">42.87</text>
<rect x="386.73" y="187.50" width="18.40" height="8.60" fill="#b8b8c8"/>
<text x="395.93" y="193.60" font-size="5.4" text-anchor="middle" fill="#1c1414">50.67</text>
<rect x="208.80" y="197.60" width="18.40" height="8.60" fill="#9898c4"/>
<text x="218.00" y="203.70" font-size="5.4" text-anchor="middle" fill="#1c1414">179.53</text>
<rect x="228.57" y="197.60" width="18.40" height="8.60" fill="#9898c8"/>
<text x="237.77" y="203.70" font-size="5.4" text-anchor="middle" fill="#1c1414">178.77</text>
<rect x="248.34" y="197.60" width="18.40" height="8.60" fill="#7878cc"/>
<text x="257.54" y="203.70" font-size="5.4" text-anchor="middle" fill="#1c1414">80.22</text>
<rect x="268.11" y="197.60" width="18.40" height="8.60" fill="#e09070"/>
<text x="277.31" y="203.70" font-size="5.4" text-anchor="middle" fill="#1c1414">45.84</text>
<rect x="287.88" y="197.60" width="18.40" height="8.60" fill="#e4e4c0"/>
<text x="297.08" y="203.70" font-size="5.4" text-anchor="middle" fill="#1c1414">46.60</text>
<rect x="307.65" y="197.60" width="18.40" height="8.60" fill="#9090c8"/>
<text x="316.85" y="203.70" font-size="5.4" text-anchor="middle" fill="#1c1414">68.76</text>
<rect x="327.42" y="197.60" width="18.40" height="8.60" fill="#1818f8"/>
<text x="336.62" y="203.70" font-size="5.4" text-anchor="middle" fill="#1c1414">29.03</text>
<rect x="347.19" y="197.60" width="18.40" height="8.60" fill="#dcd8c0"/>
<text x="356.39" y="203.70" font-size="5.4" text-anchor="middle" fill="#1c1414">55.77</text>
<rect x="366.96" y="197.60" width="18.40" height="8.60" fill="#1818f8"/>
<text x="376.16" y="203.70" font-size="5.4" text-anchor="middle" fill="#1c1414">15.28</text>
<rect x="386.73" y="197.60" width="18.40" height="8.60" fill="#dcd8c0"/>
<text x="395.93" y="203.70" font-size="5.4" text-anchor="middle" fill="#1c1414">53.48</text>
<rect x="208.80" y="207.70" width="18.40" height="8.60" fill="#e8b890"/>
<text x="218.00" y="213.80" font-size="5.4" text-anchor="middle" fill="#1c1414">214.84</text>
<rect x="228.57" y="207.70" width="18.40" height="8.60" fill="#e07060"/>
<text x="237.77" y="213.80" font-size="5.4" text-anchor="middle" fill="#1c1414">250.65</text>
<rect x="248.34" y="207.70" width="18.40" height="8.60" fill="#e07060"/>
<text x="257.54" y="213.80" font-size="5.4" text-anchor="middle" fill="#1c1414">136.72</text>
<rect x="268.11" y="207.70" width="18.40" height="8.60" fill="#e05048"/>
<text x="277.31" y="213.80" font-size="5.4" text-anchor="middle" fill="#1c1414">52.08</text>
<rect x="287.88" y="207.70" width="18.40" height="8.60" fill="#e06050"/>
<text x="297.08" y="213.80" font-size="5.4" text-anchor="middle" fill="#1c1414">63.80</text>
<rect x="307.65" y="207.70" width="18.40" height="8.60" fill="#e06050"/>
<text x="316.85" y="213.80" font-size="5.4" text-anchor="middle" fill="#1c1414">114.58</text>
<rect x="327.42" y="207.70" width="18.40" height="8.60" fill="#e8b090"/>
<text x="336.62" y="213.80" font-size="5.4" text-anchor="middle" fill="#1c1414">55.34</text>
<rect x="347.19" y="207.70" width="18.40" height="8.60" fill="#e07060"/>
<text x="356.39" y="213.80" font-size="5.4" text-anchor="middle" fill="#1c1414">71.61</text>
<rect x="366.96" y="207.70" width="18.40" height="8.60" fill="#e07060"/>
<text x="376.16" y="213.80" font-size="5.4" text-anchor="middle" fill="#1c1414">70.96</text>
<rect x="386.73" y="207.70" width="18.40" height="8.60" fill="#e07868"/>
<text x="395.93" y="213.80" font-size="5.4" text-anchor="middle" fill="#1c1414">65.10</text>
<rect x="208.80" y="217.80" width="18.40" height="8.60" fill="#e82020"/>
<text x="218.00" y="223.90" font-size="5.4" text-anchor="middle" fill="#1c1414">263.80</text>
<rect x="228.57" y="217.80" width="18.40" height="8.60" fill="#e07060"/>
<text x="237.77" y="223.90" font-size="5.4" text-anchor="middle" fill="#1c1414">253.69</text>
<rect x="248.34" y="217.80" width="18.40" height="8.60" fill="#e09070"/>
<text x="257.54" y="223.90" font-size="5.4" text-anchor="middle" fill="#1c1414">127.76</text>
<rect x="268.11" y="217.80" width="18.40" height="8.60" fill="#ecebc0"/>
<text x="277.31" y="223.90" font-size="5.4" text-anchor="middle" fill="#1c1414">39.52</text>
<rect x="287.88" y="217.80" width="18.40" height="8.60" fill="#e05048"/>
<text x="297.08" y="223.90" font-size="5.4" text-anchor="middle" fill="#1c1414">68.02</text>
<rect x="307.65" y="217.80" width="18.40" height="8.60" fill="#e04040"/>
<text x="316.85" y="223.90" font-size="5.4" text-anchor="middle" fill="#1c1414">128.64</text>
<rect x="327.42" y="217.80" width="18.40" height="8.60" fill="#e06050"/>
<text x="336.62" y="223.90" font-size="5.4" text-anchor="middle" fill="#1c1414">68.02</text>
<rect x="347.19" y="217.80" width="18.40" height="8.60" fill="#e8a080"/>
<text x="356.39" y="223.90" font-size="5.4" text-anchor="middle" fill="#1c1414">63.42</text>
<rect x="366.96" y="217.80" width="18.40" height="8.60" fill="#e05050"/>
<text x="376.16" y="223.90" font-size="5.4" text-anchor="middle" fill="#1c1414">72.61</text>
<rect x="386.73" y="217.80" width="18.40" height="8.60" fill="#e02020"/>
<text x="395.93" y="223.90" font-size="5.4" text-anchor="middle" fill="#1c1414">73.53</text>
<text x="307.30" y="161.40" font-size="7.8" text-anchor="middle" fill="#262626">H4K8ac</text>
<line x1="210.40" y1="164.40" x2="404.60" y2="164.40" stroke="#444" stroke-width="0.8"/>
<text x="409.30" y="174.50" font-size="8" fill="#1a1a1a">shScramble</text>
<text x="409.30" y="184.60" font-size="8" fill="#1a1a1a">shScramble</text>
<text x="409.30" y="194.70" font-size="8" fill="#1a1a1a">shCtBP</text>
<text x="409.30" y="204.80" font-size="8" fill="#1a1a1a">shCtBP</text>
<text x="409.30" y="214.90" font-size="8" fill="#1a1a1a">shHDAC3</text>
<text x="409.30" y="225.00" font-size="8" fill="#1a1a1a">shHDAC3</text>
<text x="203.30" y="197.50" font-size="7.8" text-anchor="middle" fill="#262626" transform="rotate(-90 203.30 197.50)">Signal Value</text>
<text x="221.00" y="232.00" font-size="7.8" text-anchor="end" fill="#262626" transform="rotate(-45 221.00 232.00)">HtrA2</text>
<text x="240.77" y="232.00" font-size="7.8" text-anchor="end" fill="#262626" transform="rotate(-45 240.77 232.00)">smac</text>
<text x="260.54" y="232.00" font-size="7.8" text-anchor="end" fill="#262626" transform="rotate(-45 260.54 232.00)">Xiap</text>
<text x="280.31" y="232.00" font-size="7.8" text-anchor="end" fill="#262626" transform="rotate(-45 280.31 232.00)">bak</text>
<text x="300.08" y="232.00" font-size="7.8" text-anchor="end" fill="#262626" transform="rotate(-45 300.08 232.00)">bax</text>
<text x="319.85" y="232.00" font-size="7.8" text-anchor="end" fill="#262626" transform="rotate(-45 319.85 232.00)">bid</text>
<text x="339.62" y="232.00" font-size="7.8" text-anchor="end" fill="#262626" transform="rotate(-45 339.62 232.00)">bad</text>
<text x="359.39" y="232.00" font-size="7.8" text-anchor="end" fill="#262626" transform="rotate(-45 359.39 232.00)">noxa</text>
<text x="379.16" y="232.00" font-size="7.8" text-anchor="end" fill="#262626" transform="rotate(-45 379.16 232.00)">puma</text>
<text x="398.93" y="232.00" font-size="7.8" text-anchor="end" fill="#262626" transform="rotate(-45 398.93 232.00)">Bcl-xL</text>
<line x1="207.50" y1="250.20" x2="231.80" y2="250.20" stroke="#444" stroke-width="0.7"/>
<text x="218.40" y="263.70" font-size="7.5" text-anchor="middle" fill="#262626">PAPs</text>
<line x1="245.90" y1="250.20" x2="262.30" y2="250.20" stroke="#444" stroke-width="0.7"/>
<text x="254.10" y="263.70" font-size="7.5" text-anchor="middle" fill="#262626">IAPs</text>
<line x1="272.20" y1="250.20" x2="370.80" y2="250.20" stroke="#444" stroke-width="0.7"/>
<text x="323.50" y="263.70" font-size="7.5" text-anchor="middle" fill="#262626">MPAPs</text>
<line x1="385.50" y1="250.20" x2="400.30" y2="250.20" stroke="#444" stroke-width="0.7"/>
<text x="394.40" y="263.70" font-size="7.5" text-anchor="middle" fill="#262626">MIAPs</text>
<defs><linearGradient id="cb1" x1="0" y1="0" x2="0" y2="1"><stop offset="0" stop-color="#e81c1c"/><stop offset="0.28" stop-color="#e28a70"/><stop offset="0.5" stop-color="#e6e6a6"/><stop offset="0.72" stop-color="#8c8cc8"/><stop offset="1" stop-color="#1010fa"/></linearGradient></defs>
<rect x="458.20" y="174.10" width="6.10" height="39.60" fill="url(#cb1)"/>
<line x1="464.60" y1="174.10" x2="464.60" y2="213.70" stroke="#444" stroke-width="0.5"/>
<line x1="464.60" y1="174.10" x2="465.90" y2="174.10" stroke="#444" stroke-width="0.5"/>
<text x="466.50" y="175.60" font-size="4.3" fill="#444">2.00</text>
<line x1="464.60" y1="184.00" x2="465.90" y2="184.00" stroke="#444" stroke-width="0.5"/>
<text x="466.50" y="185.50" font-size="4.3" fill="#444">1.00</text>
<line x1="464.60" y1="193.90" x2="465.90" y2="193.90" stroke="#444" stroke-width="0.5"/>
<text x="466.50" y="195.40" font-size="4.3" fill="#444">0.00</text>
<line x1="464.60" y1="203.80" x2="465.90" y2="203.80" stroke="#444" stroke-width="0.5"/>
<text x="466.50" y="205.30" font-size="4.3" fill="#444">-1.00</text>
<line x1="464.60" y1="213.70" x2="465.90" y2="213.70" stroke="#444" stroke-width="0.5"/>
<text x="466.50" y="215.20" font-size="4.3" fill="#444">-2.00</text>
<text x="498.30" y="170.30" font-size="20" fill="#111">e</text>
<rect x="529.00" y="178.50" width="19.40" height="8.70" fill="#e85050"/>
<text x="538.70" y="184.65" font-size="5.4" text-anchor="middle" fill="#1c1414">104.76</text>
<rect x="549.65" y="178.50" width="19.40" height="8.70" fill="#e03838"/>
<text x="559.35" y="184.65" font-size="5.4" text-anchor="middle" fill="#1c1414">38.84</text>
<rect x="570.30" y="178.50" width="19.40" height="8.70" fill="#e03030"/>
<text x="580.00" y="184.65" font-size="5.4" text-anchor="middle" fill="#1c1414">41.20</text>
<rect x="590.95" y="178.50" width="19.40" height="8.70" fill="#e04848"/>
<text x="600.65" y="184.65" font-size="5.4" text-anchor="middle" fill="#1c1414">24.72</text>
<rect x="529.00" y="188.70" width="19.40" height="8.70" fill="#e04040"/>
<text x="538.70" y="194.85" font-size="5.4" text-anchor="middle" fill="#1c1414">128.32</text>
<rect x="549.65" y="188.70" width="19.40" height="8.70" fill="#e03838"/>
<text x="559.35" y="194.85" font-size="5.4" text-anchor="middle" fill="#1c1414">35.00</text>
<rect x="570.30" y="188.70" width="19.40" height="8.70" fill="#e04040"/>
<text x="580.00" y="194.85" font-size="5.4" text-anchor="middle" fill="#1c1414">37.91</text>
<rect x="590.95" y="188.70" width="19.40" height="8.70" fill="#e04848"/>
<text x="600.65" y="194.85" font-size="5.4" text-anchor="middle" fill="#1c1414">23.33</text>
<rect x="529.00" y="198.90" width="19.40" height="8.70" fill="#6060e0"/>
<text x="538.70" y="205.05" font-size="5.4" text-anchor="middle" fill="#1c1414">40.80</text>
<rect x="549.65" y="198.90" width="19.40" height="8.70" fill="#2020f0"/>
<text x="559.35" y="205.05" font-size="5.4" text-anchor="middle" fill="#1c1414">18.46</text>
<rect x="570.30" y="198.90" width="19.40" height="8.70" fill="#5050e0"/>
<text x="580.00" y="205.05" font-size="5.4" text-anchor="middle" fill="#1c1414">12.63</text>
<rect x="590.95" y="198.90" width="19.40" height="8.70" fill="#a0a0c8"/>
<text x="600.65" y="205.05" font-size="5.4" text-anchor="middle" fill="#1c1414">14.57</text>
<rect x="529.00" y="209.10" width="19.40" height="8.70" fill="#4848e0"/>
<text x="538.70" y="215.25" font-size="5.4" text-anchor="middle" fill="#1c1414">38.78</text>
<rect x="549.65" y="209.10" width="19.40" height="8.70" fill="#7070d0"/>
<text x="559.35" y="215.25" font-size="5.4" text-anchor="middle" fill="#1c1414">22.16</text>
<rect x="570.30" y="209.10" width="19.40" height="8.70" fill="#3030e8"/>
<text x="580.00" y="215.25" font-size="5.4" text-anchor="middle" fill="#1c1414">11.08</text>
<rect x="590.95" y="209.10" width="19.40" height="8.70" fill="#1818f0"/>
<text x="600.65" y="215.25" font-size="5.4" text-anchor="middle" fill="#1c1414">11.06</text>
<text x="570.40" y="172.60" font-size="7.8" text-anchor="middle" fill="#262626">H3K14ac</text>
<line x1="531.30" y1="175.00" x2="611.00" y2="175.00" stroke="#444" stroke-width="0.8"/>
<text x="614.40" y="185.80" font-size="8" fill="#1a1a1a">shScramble</text>
<text x="614.40" y="196.00" font-size="8" fill="#1a1a1a">shScramble</text>
<text x="614.40" y="206.20" font-size="8" fill="#1a1a1a">shKAT5</text>
<text x="614.40" y="216.40" font-size="8" fill="#1a1a1a">shKAT5</text>
<text x="526.30" y="199.00" font-size="7.8" text-anchor="middle" fill="#262626" transform="rotate(-90 526.30 199.00)">Signal Value</text>
<text x="541.70" y="223.30" font-size="7.8" text-anchor="end" fill="#262626" font-style="italic" transform="rotate(-45 541.70 223.30)">smac</text>
<text x="562.35" y="223.30" font-size="7.8" text-anchor="end" fill="#262626" font-style="italic" transform="rotate(-45 562.35 223.30)">bax</text>
<text x="583.00" y="223.30" font-size="7.8" text-anchor="end" fill="#262626" font-style="italic" transform="rotate(-45 583.00 223.30)">bad</text>
<text x="603.65" y="223.30" font-size="7.8" text-anchor="end" fill="#262626" font-style="italic" transform="rotate(-45 603.65 223.30)">bim</text>
<line x1="524.70" y1="243.60" x2="540.50" y2="243.60" stroke="#888" stroke-width="0.8"/>
<text x="532.20" y="257.30" font-size="7.5" text-anchor="middle" fill="#262626">PAPs</text>
<line x1="553.60" y1="243.60" x2="600.90" y2="243.60" stroke="#888" stroke-width="0.8"/>
<text x="579.40" y="257.30" font-size="7.5" text-anchor="middle" fill="#262626">MPAPs</text>
<defs><linearGradient id="cb2" x1="0" y1="0" x2="0" y2="1"><stop offset="0" stop-color="#e81c1c"/><stop offset="0.28" stop-color="#e28a70"/><stop offset="0.5" stop-color="#e6e6a6"/><stop offset="0.72" stop-color="#8c8cc8"/><stop offset="1" stop-color="#1010fa"/></linearGradient></defs>
<rect x="662.80" y="182.70" width="7.10" height="29.30" fill="url(#cb2)"/>
<line x1="670.20" y1="182.70" x2="670.20" y2="212.00" stroke="#444" stroke-width="0.5"/>
<line x1="670.20" y1="182.70" x2="671.50" y2="182.70" stroke="#444" stroke-width="0.5"/>
<text x="672.10" y="184.20" font-size="3.6" fill="#444">1.20</text>
<line x1="670.20" y1="190.02" x2="671.50" y2="190.02" stroke="#444" stroke-width="0.5"/>
<text x="672.10" y="191.52" font-size="3.6" fill="#444">0.60</text>
<line x1="670.20" y1="197.35" x2="671.50" y2="197.35" stroke="#444" stroke-width="0.5"/>
<text x="672.10" y="198.85" font-size="3.6" fill="#444">0.00</text>
<line x1="670.20" y1="204.67" x2="671.50" y2="204.67" stroke="#444" stroke-width="0.5"/>
<text x="672.10" y="206.17" font-size="3.6" fill="#444">-0.60</text>
<line x1="670.20" y1="212.00" x2="671.50" y2="212.00" stroke="#444" stroke-width="0.5"/>
<text x="672.10" y="213.50" font-size="3.6" fill="#444">-1.20</text>
<path d="M99.3,318.9h0.5v0.5h-0.5zM78.8,324.4h0.5v0.5h-0.5zM128.8,307.9h0.5v0.5h-0.5zM79.1,321.9h0.5v0.5h-0.5zM102.6,315.4h0.5v0.5h-0.5zM80.3,321.2h0.5v0.5h-0.5zM126.6,306.2h0.5v0.5h-0.5zM106.3,315.4h0.5v0.5h-0.5zM119.6,315.2h0.5v0.5h-0.5zM73.6,329.9h0.5v0.5h-0.5zM83.8,321.9h0.5v0.5h-0.5zM79.1,323.4h0.5v0.5h-0.5zM110.6,317.7h0.5v0.5h-0.5zM124.6,312.4h0.5v0.5h-0.5zM79.6,321.2h0.5v0.5h-0.5zM116.1,315.2h0.5v0.5h-0.5zM126.3,312.9h0.5v0.5h-0.5zM68.8,332.7h0.5v0.5h-0.5zM117.3,314.4h0.5v0.5h-0.5zM86.8,321.2h0.5v0.5h-0.5zM115.3,313.7h0.5v0.5h-0.5zM127.3,308.4h0.5v0.5h-0.5zM110.6,316.2h0.5v0.5h-0.5zM69.6,333.4h0.5v0.5h-0.5zM67.8,333.7h0.5v0.5h-0.5zM61.6,336.7h0.5v0.5h-0.5zM118.3,313.7h0.5v0.5h-0.5zM76.3,327.4h0.5v0.5h-0.5zM88.8,322.4h0.5v0.5h-0.5zM84.1,323.9h0.5v0.5h-0.5zM90.1,320.9h0.5v0.5h-0.5zM73.3,334.7h0.5v0.5h-0.5zM78.6,321.7h0.5v0.5h-0.5zM72.8,329.7h0.5v0.5h-0.5zM111.3,313.4h0.5v0.5h-0.5zM79.6,324.2h0.5v0.5h-0.5zM72.3,337.9h0.5v0.5h-0.5zM61.1,339.4h0.5v0.5h-0.5zM77.8,332.7h0.5v0.5h-0.5zM96.3,316.9h0.5v0.5h-0.5zM79.8,320.9h0.5v0.5h-0.5zM111.1,315.4h0.5v0.5h-0.5zM70.8,332.7h0.5v0.5h-0.5zM108.1,315.9h0.5v0.5h-0.5zM100.6,319.7h0.5v0.5h-0.5zM76.8,327.9h0.5v0.5h-0.5zM81.3,323.2h0.5v0.5h-0.5zM91.6,317.4h0.5v0.5h-0.5zM66.8,337.7h0.5v0.5h-0.5zM80.6,321.2h0.5v0.5h-0.5zM81.8,321.4h0.5v0.5h-0.5zM67.3,335.9h0.5v0.5h-0.5zM61.9,338.9h0.5v0.5h-0.5zM70.6,335.7h0.5v0.5h-0.5zM77.3,326.2h0.5v0.5h-0.5zM78.3,327.7h0.5v0.5h-0.5zM126.3,308.2h0.5v0.5h-0.5zM70.3,331.9h0.5v0.5h-0.5zM117.1,314.2h0.5v0.5h-0.5zM76.3,324.4h0.5v0.5h-0.5zM125.1,313.7h0.5v0.5h-0.5zM80.8,322.2h0.5v0.5h-0.5zM93.6,317.4h0.5v0.5h-0.5zM75.8,333.4h0.5v0.5h-0.5zM76.3,333.7h0.5v0.5h-0.5zM113.1,317.2h0.5v0.5h-0.5zM69.6,334.9h0.5v0.5h-0.5zM88.1,318.7h0.5v0.5h-0.5zM95.8,319.4h0.5v0.5h-0.5zM94.3,320.7h0.5v0.5h-0.5zM105.3,316.7h0.5v0.5h-0.5zM123.6,311.9h0.5v0.5h-0.5zM74.8,333.2h0.5v0.5h-0.5zM111.6,313.4h0.5v0.5h-0.5zM107.3,314.4h0.5v0.5h-0.5zM111.1,314.9h0.5v0.5h-0.5zM95.6,318.4h0.5v0.5h-0.5zM85.1,320.4h0.5v0.5h-0.5zM102.1,319.7h0.5v0.5h-0.5zM117.3,315.2h0.5v0.5h-0.5zM124.1,310.4h0.5v0.5h-0.5zM111.1,313.7h0.5v0.5h-0.5zM105.8,315.9h0.5v0.5h-0.5zM70.3,338.4h0.5v0.5h-0.5zM130.1,308.9h0.5v0.5h-0.5zM78.8,330.2h0.5v0.5h-0.5zM77.1,323.9h0.5v0.5h-0.5zM126.6,311.2h0.5v0.5h-0.5zM125.3,309.9h0.5v0.5h-0.5zM85.3,321.2h0.5v0.5h-0.5zM98.8,315.9h0.5v0.5h-0.5zM76.3,329.9h0.5v0.5h-0.5zM128.3,311.2h0.5v0.5h-0.5zM69.8,332.9h0.5v0.5h-0.5zM85.6,322.7h0.5v0.5h-0.5zM120.8,312.7h0.5v0.5h-0.5zM64.1,339.4h0.5v0.5h-0.5zM75.3,334.4h0.5v0.5h-0.5zM118.1,315.2h0.5v0.5h-0.5zM70.8,331.4h0.5v0.5h-0.5zM78.6,321.7h0.5v0.5h-0.5zM123.3,313.2h0.5v0.5h-0.5zM79.8,326.2h0.5v0.5h-0.5zM126.8,306.9h0.5v0.5h-0.5zM127.6,309.7h0.5v0.5h-0.5zM115.3,313.9h0.5v0.5h-0.5zM109.8,314.2h0.5v0.5h-0.5zM61.4,337.9h0.5v0.5h-0.5zM109.6,314.9h0.5v0.5h-0.5zM118.6,312.7h0.5v0.5h-0.5zM76.8,325.4h0.5v0.5h-0.5zM78.3,323.4h0.5v0.5h-0.5zM125.3,312.7h0.5v0.5h-0.5zM108.1,317.2h0.5v0.5h-0.5zM76.1,325.4h0.5v0.5h-0.5zM120.6,312.4h0.5v0.5h-0.5zM76.1,325.2h0.5v0.5h-0.5zM77.6,327.9h0.5v0.5h-0.5zM130.1,307.4h0.5v0.5h-0.5zM76.6,327.4h0.5v0.5h-0.5zM77.1,329.9h0.5v0.5h-0.5zM87.3,321.2h0.5v0.5h-0.5zM111.8,313.4h0.5v0.5h-0.5zM80.8,320.4h0.5v0.5h-0.5zM99.8,317.9h0.5v0.5h-0.5zM86.6,319.2h0.5v0.5h-0.5zM74.6,334.7h0.5v0.5h-0.5zM84.8,319.2h0.5v0.5h-0.5zM127.1,309.9h0.5v0.5h-0.5zM74.3,327.7h0.5v0.5h-0.5zM65.3,335.9h0.5v0.5h-0.5zM105.1,317.7h0.5v0.5h-0.5zM76.8,328.4h0.5v0.5h-0.5zM73.1,329.2h0.5v0.5h-0.5zM118.1,314.2h0.5v0.5h-0.5zM121.6,311.7h0.5v0.5h-0.5zM82.6,321.2h0.5v0.5h-0.5zM93.3,316.9h0.5v0.5h-0.5zM66.3,335.7h0.5v0.5h-0.5zM128.3,309.4h0.5v0.5h-0.5zM102.6,316.7h0.5v0.5h-0.5zM80.3,320.9h0.5v0.5h-0.5zM90.8,320.2h0.5v0.5h-0.5zM73.1,331.4h0.5v0.5h-0.5zM108.3,314.9h0.5v0.5h-0.5zM100.1,317.4h0.5v0.5h-0.5zM123.6,311.7h0.5v0.5h-0.5zM104.3,314.9h0.5v0.5h-0.5zM71.6,330.9h0.5v0.5h-0.5zM77.8,331.2h0.5v0.5h-0.5zM74.1,327.4h0.5v0.5h-0.5zM98.3,318.9h0.5v0.5h-0.5zM126.8,304.2h0.5v0.5h-0.5zM64.6,339.2h0.5v0.5h-0.5zM89.8,319.2h0.5v0.5h-0.5zM101.3,319.2h0.5v0.5h-0.5zM79.3,325.4h0.5v0.5h-0.5zM78.3,324.2h0.5v0.5h-0.5zM124.1,310.4h0.5v0.5h-0.5zM108.8,315.7h0.5v0.5h-0.5z" fill="#3a3aff"/>
<path d="M61.2,335.3 62.0,335.8 63.5,335.8 70.0,331.8 71.2,330.6 71.5,330.6 73.7,328.1 77.0,323.3 80.0,320.6 82.5,319.3 83.0,319.3 84.0,318.8 84.7,318.8 85.0,318.6 85.7,318.6 86.0,318.3 86.7,318.3 87.0,318.1 88.0,318.1 88.2,317.8 89.2,317.8 89.5,317.6 90.5,317.6 90.7,317.3 91.7,317.3 92.0,317.1 93.0,317.1 93.2,316.8 94.2,316.8 94.5,316.6 95.7,316.6 96.0,316.3 97.0,316.3 97.2,316.1 98.2,316.1 98.5,315.8 99.5,315.8 99.7,315.6 100.7,315.6 101.0,315.3 102.2,315.3 102.5,315.1 103.5,315.1 103.7,314.8 104.7,314.8 105.0,314.6 106.0,314.6 106.2,314.3 107.5,314.3 107.7,314.1 108.7,314.1 109.0,313.8 110.0,313.8 110.2,313.6 111.2,313.6 111.5,313.3 112.5,313.3 112.7,313.1 114.0,313.1 115.2,312.6 116.2,312.6 116.5,312.3 118.5,312.1 118.7,311.8 121.5,311.1 123.7,309.8 125.7,307.6 125.7,307.1 126.0,306.8 126.0,304.6 125.7,304.3 125.7,303.8 61.2,303.8Z" fill="#2a2aff" fill-rule="evenodd"/>
<path d="M86.0,307.6 85.0,306.8 84.5,306.8 83.5,306.3 82.7,306.3 81.7,305.8 80.0,305.6 75.2,303.8 61.2,303.8 61.2,328.3 61.5,328.8 62.2,329.3 63.2,329.3 65.0,327.6 70.0,319.8 75.5,314.1 79.5,311.3 85.5,308.6 86.0,308.1Z" fill="#3a8cff" fill-rule="evenodd"/>
<path d="M65.5,304.1 63.5,304.1 63.2,304.3 62.7,304.3 61.2,305.6 61.2,326.3 61.5,326.8 62.5,327.6 63.2,327.3 64.5,326.1 65.5,324.6 69.5,316.3 73.2,311.3 73.7,310.1 73.7,308.6 73.2,307.6 72.5,306.8 70.2,305.6 69.7,305.6 66.5,304.3 65.7,304.3Z" fill="#40d8ea" fill-rule="evenodd"/>
<path d="M64.2,306.3 62.5,306.3 61.7,306.8 61.2,307.6 61.2,324.6 62.0,325.6 63.2,325.6 65.0,323.1 65.0,322.6 65.7,321.3 65.7,320.8 66.2,320.1 66.2,319.6 66.7,318.6 66.7,317.8 67.5,315.8 67.7,313.6 68.0,313.3 68.0,310.3 67.5,309.1 65.7,307.1Z" fill="#4ee05a" fill-rule="evenodd"/>
<path d="M63.5,308.3 62.2,308.3 61.2,309.3 61.2,322.8 61.5,323.3 62.5,324.1 63.7,323.1 64.5,321.6 64.5,321.1 65.2,319.3 65.5,316.8 65.7,316.6 65.7,312.3 65.5,312.1 65.5,311.3 64.7,309.6Z" fill="#d8ec30" fill-rule="evenodd"/>
<path d="M63.0,309.6 62.0,309.8 61.2,310.8 61.2,321.6 61.5,322.1 62.5,322.8 63.5,322.1 64.0,321.1 64.0,320.6 64.5,319.6 64.5,318.6 64.7,318.3 64.7,316.3 65.0,316.1 64.5,311.8 64.0,310.6Z" fill="#ffa020" fill-rule="evenodd"/>
<path d="M63.0,310.8 62.2,310.8 61.2,312.1 61.2,320.3 61.7,321.3 62.5,321.8 63.2,321.3 63.7,320.3 64.0,318.6 64.2,318.3 64.2,313.3 64.0,313.1 64.0,312.3Z" fill="#f52a10" fill-rule="evenodd"/>
<path d="M107.3,310.4h0.5v0.5h-0.5zM77.3,317.9h0.5v0.5h-0.5zM72.1,325.4h0.5v0.5h-0.5zM78.6,321.4h0.5v0.5h-0.5zM84.6,314.2h0.5v0.5h-0.5zM108.8,311.7h0.5v0.5h-0.5zM104.6,314.4h0.5v0.5h-0.5zM123.8,305.7h0.5v0.5h-0.5zM116.1,308.2h0.5v0.5h-0.5zM93.8,312.4h0.5v0.5h-0.5zM73.6,321.9h0.5v0.5h-0.5zM115.8,311.7h0.5v0.5h-0.5zM122.6,307.2h0.5v0.5h-0.5zM69.8,326.7h0.5v0.5h-0.5zM100.8,310.9h0.5v0.5h-0.5zM81.6,319.7h0.5v0.5h-0.5zM116.1,304.2h0.5v0.5h-0.5zM105.6,310.4h0.5v0.5h-0.5zM119.6,305.2h0.5v0.5h-0.5zM120.6,310.4h0.5v0.5h-0.5zM72.6,323.9h0.5v0.5h-0.5zM116.8,309.2h0.5v0.5h-0.5zM108.6,309.7h0.5v0.5h-0.5zM109.3,311.9h0.5v0.5h-0.5zM113.3,308.7h0.5v0.5h-0.5zM67.3,328.4h0.5v0.5h-0.5zM62.9,332.7h0.5v0.5h-0.5zM69.3,328.2h0.5v0.5h-0.5zM111.1,309.7h0.5v0.5h-0.5zM95.6,311.9h0.5v0.5h-0.5zM86.3,315.2h0.5v0.5h-0.5zM107.3,311.2h0.5v0.5h-0.5zM64.6,330.9h0.5v0.5h-0.5zM96.6,315.9h0.5v0.5h-0.5zM68.6,325.9h0.5v0.5h-0.5zM115.1,308.2h0.5v0.5h-0.5zM110.6,308.9h0.5v0.5h-0.5zM117.6,307.7h0.5v0.5h-0.5zM98.6,312.4h0.5v0.5h-0.5zM116.8,311.7h0.5v0.5h-0.5zM66.6,330.7h0.5v0.5h-0.5zM70.8,326.9h0.5v0.5h-0.5zM123.3,307.7h0.5v0.5h-0.5zM61.9,334.9h0.5v0.5h-0.5zM119.8,307.2h0.5v0.5h-0.5zM125.6,304.7h0.5v0.5h-0.5zM95.1,312.7h0.5v0.5h-0.5zM109.1,310.9h0.5v0.5h-0.5zM87.8,317.7h0.5v0.5h-0.5zM78.8,320.4h0.5v0.5h-0.5zM107.1,311.2h0.5v0.5h-0.5zM107.1,311.4h0.5v0.5h-0.5zM112.6,309.9h0.5v0.5h-0.5zM89.6,315.7h0.5v0.5h-0.5zM118.6,308.7h0.5v0.5h-0.5zM96.3,313.4h0.5v0.5h-0.5zM92.6,313.2h0.5v0.5h-0.5zM121.8,309.7h0.5v0.5h-0.5zM87.3,314.7h0.5v0.5h-0.5zM114.8,309.2h0.5v0.5h-0.5zM68.6,331.9h0.5v0.5h-0.5zM80.8,315.7h0.5v0.5h-0.5zM67.8,328.4h0.5v0.5h-0.5zM115.3,309.9h0.5v0.5h-0.5zM99.8,311.2h0.5v0.5h-0.5zM75.6,320.2h0.5v0.5h-0.5zM121.8,308.7h0.5v0.5h-0.5zM63.9,333.2h0.5v0.5h-0.5zM120.3,309.4h0.5v0.5h-0.5zM64.6,333.9h0.5v0.5h-0.5zM73.8,319.7h0.5v0.5h-0.5zM80.1,317.4h0.5v0.5h-0.5zM110.6,309.4h0.5v0.5h-0.5zM69.6,325.2h0.5v0.5h-0.5zM120.1,304.7h0.5v0.5h-0.5zM65.3,333.2h0.5v0.5h-0.5zM111.1,312.7h0.5v0.5h-0.5zM110.6,313.2h0.5v0.5h-0.5zM79.3,315.7h0.5v0.5h-0.5zM103.3,313.2h0.5v0.5h-0.5zM108.6,310.2h0.5v0.5h-0.5zM82.8,315.4h0.5v0.5h-0.5zM73.8,319.9h0.5v0.5h-0.5zM89.8,315.7h0.5v0.5h-0.5zM104.3,311.9h0.5v0.5h-0.5zM123.3,308.2h0.5v0.5h-0.5zM120.1,310.2h0.5v0.5h-0.5zM65.8,333.2h0.5v0.5h-0.5zM97.3,311.7h0.5v0.5h-0.5zM109.1,309.4h0.5v0.5h-0.5zM66.6,331.7h0.5v0.5h-0.5zM77.1,317.7h0.5v0.5h-0.5zM86.3,315.2h0.5v0.5h-0.5zM119.6,306.4h0.5v0.5h-0.5zM90.3,312.9h0.5v0.5h-0.5zM115.3,308.9h0.5v0.5h-0.5zM114.1,308.7h0.5v0.5h-0.5zM94.1,312.2h0.5v0.5h-0.5zM99.1,311.7h0.5v0.5h-0.5zM97.6,312.9h0.5v0.5h-0.5zM64.6,333.2h0.5v0.5h-0.5zM117.3,310.7h0.5v0.5h-0.5zM61.6,331.4h0.5v0.5h-0.5zM69.8,325.7h0.5v0.5h-0.5zM111.3,311.9h0.5v0.5h-0.5zM72.8,320.9h0.5v0.5h-0.5zM70.1,326.7h0.5v0.5h-0.5zM86.1,314.2h0.5v0.5h-0.5zM116.6,308.2h0.5v0.5h-0.5zM64.1,331.4h0.5v0.5h-0.5zM80.3,317.4h0.5v0.5h-0.5zM119.1,303.7h0.5v0.5h-0.5zM66.8,330.2h0.5v0.5h-0.5zM80.6,316.4h0.5v0.5h-0.5zM85.8,316.7h0.5v0.5h-0.5zM86.1,317.2h0.5v0.5h-0.5zM65.6,332.7h0.5v0.5h-0.5zM67.8,330.9h0.5v0.5h-0.5zM84.3,314.4h0.5v0.5h-0.5zM67.3,332.4h0.5v0.5h-0.5zM64.1,332.9h0.5v0.5h-0.5zM80.8,316.7h0.5v0.5h-0.5zM107.8,311.2h0.5v0.5h-0.5zM112.1,310.9h0.5v0.5h-0.5zM96.8,313.4h0.5v0.5h-0.5zM67.8,329.4h0.5v0.5h-0.5zM66.6,328.7h0.5v0.5h-0.5zM93.8,316.7h0.5v0.5h-0.5zM94.8,312.9h0.5v0.5h-0.5zM89.6,316.7h0.5v0.5h-0.5zM74.6,322.2h0.5v0.5h-0.5zM87.8,316.2h0.5v0.5h-0.5zM70.3,324.4h0.5v0.5h-0.5zM88.6,313.2h0.5v0.5h-0.5zM98.8,312.7h0.5v0.5h-0.5zM119.1,309.7h0.5v0.5h-0.5zM64.8,331.4h0.5v0.5h-0.5zM119.1,309.2h0.5v0.5h-0.5zM75.3,318.7h0.5v0.5h-0.5zM85.3,313.9h0.5v0.5h-0.5zM65.3,330.9h0.5v0.5h-0.5zM85.8,315.7h0.5v0.5h-0.5zM103.3,312.2h0.5v0.5h-0.5zM94.8,314.4h0.5v0.5h-0.5zM122.8,307.9h0.5v0.5h-0.5zM109.8,311.4h0.5v0.5h-0.5zM106.8,312.4h0.5v0.5h-0.5zM110.6,309.4h0.5v0.5h-0.5zM113.8,307.9h0.5v0.5h-0.5zM89.6,316.2h0.5v0.5h-0.5zM72.1,322.9h0.5v0.5h-0.5zM105.8,310.7h0.5v0.5h-0.5zM115.3,309.9h0.5v0.5h-0.5zM69.8,324.7h0.5v0.5h-0.5zM73.6,320.2h0.5v0.5h-0.5zM86.8,314.2h0.5v0.5h-0.5zM63.4,331.7h0.5v0.5h-0.5zM111.3,312.7h0.5v0.5h-0.5zM72.6,327.9h0.5v0.5h-0.5zM64.3,330.9h0.5v0.5h-0.5zM108.1,312.2h0.5v0.5h-0.5zM120.6,309.9h0.5v0.5h-0.5zM92.8,316.7h0.5v0.5h-0.5zM89.8,316.7h0.5v0.5h-0.5zM105.3,309.9h0.5v0.5h-0.5zM121.1,308.2h0.5v0.5h-0.5zM95.1,315.7h0.5v0.5h-0.5zM118.3,303.9h0.5v0.5h-0.5zM70.8,325.2h0.5v0.5h-0.5zM110.6,308.9h0.5v0.5h-0.5zM123.8,305.9h0.5v0.5h-0.5zM96.3,313.2h0.5v0.5h-0.5zM69.8,325.4h0.5v0.5h-0.5zM91.3,317.2h0.5v0.5h-0.5zM99.3,311.7h0.5v0.5h-0.5zM86.1,317.4h0.5v0.5h-0.5zM99.8,312.4h0.5v0.5h-0.5zM120.8,308.2h0.5v0.5h-0.5zM84.1,315.2h0.5v0.5h-0.5zM98.1,314.9h0.5v0.5h-0.5zM98.1,314.7h0.5v0.5h-0.5zM82.1,315.9h0.5v0.5h-0.5zM89.3,315.7h0.5v0.5h-0.5zM84.1,314.4h0.5v0.5h-0.5zM88.1,313.7h0.5v0.5h-0.5zM76.3,323.9h0.5v0.5h-0.5zM71.6,327.7h0.5v0.5h-0.5zM119.3,304.4h0.5v0.5h-0.5zM73.8,321.2h0.5v0.5h-0.5zM92.1,314.2h0.5v0.5h-0.5zM84.8,314.9h0.5v0.5h-0.5zM115.8,311.7h0.5v0.5h-0.5zM75.3,318.4h0.5v0.5h-0.5zM122.3,306.2h0.5v0.5h-0.5zM94.8,312.4h0.5v0.5h-0.5zM71.6,324.2h0.5v0.5h-0.5zM107.6,312.2h0.5v0.5h-0.5zM86.6,315.2h0.5v0.5h-0.5zM71.6,328.4h0.5v0.5h-0.5zM80.1,318.2h0.5v0.5h-0.5zM114.3,308.4h0.5v0.5h-0.5zM117.8,306.9h0.5v0.5h-0.5zM73.3,324.9h0.5v0.5h-0.5zM91.1,313.4h0.5v0.5h-0.5zM70.1,325.7h0.5v0.5h-0.5zM100.6,313.4h0.5v0.5h-0.5zM102.1,311.2h0.5v0.5h-0.5zM117.3,305.9h0.5v0.5h-0.5zM112.6,309.9h0.5v0.5h-0.5zM117.6,306.4h0.5v0.5h-0.5zM93.8,312.7h0.5v0.5h-0.5zM89.1,316.7h0.5v0.5h-0.5zM96.6,311.7h0.5v0.5h-0.5zM99.6,314.9h0.5v0.5h-0.5zM80.1,320.2h0.5v0.5h-0.5zM118.8,306.9h0.5v0.5h-0.5zM76.1,319.9h0.5v0.5h-0.5zM100.6,310.9h0.5v0.5h-0.5zM75.6,324.7h0.5v0.5h-0.5zM113.1,308.9h0.5v0.5h-0.5zM76.3,319.4h0.5v0.5h-0.5zM121.1,304.9h0.5v0.5h-0.5zM101.1,311.2h0.5v0.5h-0.5zM107.8,309.7h0.5v0.5h-0.5zM107.3,310.7h0.5v0.5h-0.5zM74.3,326.9h0.5v0.5h-0.5zM104.1,314.4h0.5v0.5h-0.5zM93.6,315.7h0.5v0.5h-0.5zM122.8,308.7h0.5v0.5h-0.5zM115.1,308.2h0.5v0.5h-0.5zM119.6,310.4h0.5v0.5h-0.5zM61.4,334.9h0.5v0.5h-0.5zM71.3,328.7h0.5v0.5h-0.5zM75.1,323.4h0.5v0.5h-0.5zM97.3,315.9h0.5v0.5h-0.5zM93.6,315.4h0.5v0.5h-0.5zM105.1,312.2h0.5v0.5h-0.5zM121.8,305.4h0.5v0.5h-0.5zM113.8,310.4h0.5v0.5h-0.5zM118.8,304.2h0.5v0.5h-0.5zM122.6,308.9h0.5v0.5h-0.5zM89.1,314.4h0.5v0.5h-0.5zM76.1,323.7h0.5v0.5h-0.5zM87.1,316.2h0.5v0.5h-0.5zM122.6,304.2h0.5v0.5h-0.5zM88.6,317.4h0.5v0.5h-0.5zM105.1,311.4h0.5v0.5h-0.5zM76.3,317.7h0.5v0.5h-0.5zM89.8,316.9h0.5v0.5h-0.5zM87.8,317.2h0.5v0.5h-0.5zM66.3,328.9h0.5v0.5h-0.5zM97.8,312.7h0.5v0.5h-0.5zM83.1,314.4h0.5v0.5h-0.5zM68.3,328.9h0.5v0.5h-0.5zM99.8,313.7h0.5v0.5h-0.5zM112.6,311.4h0.5v0.5h-0.5zM101.3,312.4h0.5v0.5h-0.5zM101.3,312.2h0.5v0.5h-0.5zM115.1,307.9h0.5v0.5h-0.5zM116.8,307.4h0.5v0.5h-0.5z" fill="#ffffff"/>
<rect x="38.10" y="284.20" width="102.30" height="86.80" fill="none" stroke="#444" stroke-width="0.8"/>
<line x1="38.10" y1="295.10" x2="140.40" y2="295.10" stroke="#444" stroke-width="0.8"/>
<text x="89.25" y="292.60" font-size="7.6" text-anchor="middle" fill="#1a1a1a">shScramble</text>
<line x1="79.40" y1="295.10" x2="79.40" y2="371.00" stroke="#555" stroke-width="0.9"/>
<line x1="35.90" y1="284.20" x2="38.10" y2="284.20" stroke="#111" stroke-width="1.3"/>
<text x="34.20" y="287.00" font-size="7.8" text-anchor="end" fill="#262626">10<tspan font-size="4.8" dy="-3.3">6</tspan></text>
<line x1="35.90" y1="319.10" x2="38.10" y2="319.10" stroke="#111" stroke-width="1.3"/>
<text x="34.20" y="321.90" font-size="7.8" text-anchor="end" fill="#262626">10<tspan font-size="4.8" dy="-3.3">5</tspan></text>
<line x1="35.90" y1="353.90" x2="38.10" y2="353.90" stroke="#111" stroke-width="1.3"/>
<text x="34.20" y="356.70" font-size="7.8" text-anchor="end" fill="#262626">10<tspan font-size="4.8" dy="-3.3">4</tspan></text>
<line x1="36.80" y1="308.59" x2="38.10" y2="308.59" stroke="#333" stroke-width="0.5"/>
<line x1="36.80" y1="302.45" x2="38.10" y2="302.45" stroke="#333" stroke-width="0.5"/>
<line x1="36.80" y1="298.09" x2="38.10" y2="298.09" stroke="#333" stroke-width="0.5"/>
<line x1="36.80" y1="294.71" x2="38.10" y2="294.71" stroke="#333" stroke-width="0.5"/>
<line x1="36.80" y1="291.94" x2="38.10" y2="291.94" stroke="#333" stroke-width="0.5"/>
<line x1="36.80" y1="289.61" x2="38.10" y2="289.61" stroke="#333" stroke-width="0.5"/>
<line x1="36.80" y1="287.58" x2="38.10" y2="287.58" stroke="#333" stroke-width="0.5"/>
<line x1="36.80" y1="285.80" x2="38.10" y2="285.80" stroke="#333" stroke-width="0.5"/>
<line x1="36.80" y1="343.49" x2="38.10" y2="343.49" stroke="#333" stroke-width="0.5"/>
<line x1="36.80" y1="337.35" x2="38.10" y2="337.35" stroke="#333" stroke-width="0.5"/>
<line x1="36.80" y1="332.99" x2="38.10" y2="332.99" stroke="#333" stroke-width="0.5"/>
<line x1="36.80" y1="329.61" x2="38.10" y2="329.61" stroke="#333" stroke-width="0.5"/>
<line x1="36.80" y1="326.84" x2="38.10" y2="326.84" stroke="#333" stroke-width="0.5"/>
<line x1="36.80" y1="324.51" x2="38.10" y2="324.51" stroke="#333" stroke-width="0.5"/>
<line x1="36.80" y1="322.48" x2="38.10" y2="322.48" stroke="#333" stroke-width="0.5"/>
<line x1="36.80" y1="320.70" x2="38.10" y2="320.70" stroke="#333" stroke-width="0.5"/>
<line x1="36.80" y1="367.79" x2="38.10" y2="367.79" stroke="#333" stroke-width="0.5"/>
<line x1="36.80" y1="364.41" x2="38.10" y2="364.41" stroke="#333" stroke-width="0.5"/>
<line x1="36.80" y1="361.64" x2="38.10" y2="361.64" stroke="#333" stroke-width="0.5"/>
<line x1="36.80" y1="359.31" x2="38.10" y2="359.31" stroke="#333" stroke-width="0.5"/>
<line x1="36.80" y1="357.28" x2="38.10" y2="357.28" stroke="#333" stroke-width="0.5"/>
<line x1="36.80" y1="355.50" x2="38.10" y2="355.50" stroke="#333" stroke-width="0.5"/>
<text x="20.80" y="327.80" font-size="7.4" text-anchor="middle" fill="#262626" transform="rotate(-90 20.80 327.80)">SSC-A</text>
<text x="43.00" y="384.40" font-size="7.6" text-anchor="middle" fill="#262626">-10<tspan font-size="4.8" dy="-3.3">3</tspan></text>
<text x="61.90" y="384.40" font-size="7.5" text-anchor="middle" fill="#262626">0</text>
<text x="80.00" y="384.40" font-size="7.6" text-anchor="middle" fill="#262626">10<tspan font-size="4.8" dy="-3.3">3</tspan></text>
<text x="107.20" y="384.40" font-size="7.6" text-anchor="middle" fill="#262626">10<tspan font-size="4.8" dy="-3.3">4</tspan></text>
<text x="130.30" y="384.40" font-size="7.6" text-anchor="middle" fill="#262626">10<tspan font-size="4.8" dy="-3.3">5</tspan></text>
<line x1="41.60" y1="371.00" x2="41.60" y2="373.00" stroke="#111" stroke-width="1.0"/>
<line x1="61.40" y1="371.00" x2="61.40" y2="373.00" stroke="#111" stroke-width="1.0"/>
<line x1="79.40" y1="371.00" x2="79.40" y2="373.00" stroke="#111" stroke-width="1.0"/>
<line x1="107.00" y1="371.00" x2="107.00" y2="373.00" stroke="#111" stroke-width="1.0"/>
<line x1="132.40" y1="371.00" x2="132.40" y2="373.00" stroke="#111" stroke-width="1.0"/>
<line x1="52.10" y1="371.00" x2="52.10" y2="372.40" stroke="#111" stroke-width="0.5"/>
<line x1="53.48" y1="371.00" x2="53.48" y2="372.40" stroke="#111" stroke-width="0.5"/>
<line x1="54.87" y1="371.00" x2="54.87" y2="372.40" stroke="#111" stroke-width="0.5"/>
<line x1="56.25" y1="371.00" x2="56.25" y2="372.40" stroke="#111" stroke-width="0.5"/>
<line x1="57.64" y1="371.00" x2="57.64" y2="372.40" stroke="#111" stroke-width="0.5"/>
<line x1="59.02" y1="371.00" x2="59.02" y2="372.40" stroke="#111" stroke-width="0.5"/>
<line x1="60.41" y1="371.00" x2="60.41" y2="372.40" stroke="#111" stroke-width="0.5"/>
<line x1="61.79" y1="371.00" x2="61.79" y2="372.40" stroke="#111" stroke-width="0.5"/>
<line x1="63.18" y1="371.00" x2="63.18" y2="372.40" stroke="#111" stroke-width="0.5"/>
<line x1="64.56" y1="371.00" x2="64.56" y2="372.40" stroke="#111" stroke-width="0.5"/>
<line x1="65.95" y1="371.00" x2="65.95" y2="372.40" stroke="#111" stroke-width="0.5"/>
<line x1="67.33" y1="371.00" x2="67.33" y2="372.40" stroke="#111" stroke-width="0.5"/>
<line x1="68.72" y1="371.00" x2="68.72" y2="372.40" stroke="#111" stroke-width="0.5"/>
<line x1="70.10" y1="371.00" x2="70.10" y2="372.40" stroke="#111" stroke-width="0.5"/>
<rect x="57.70" y="371.00" width="6.00" height="1.80" fill="#111"/>
<text x="88.50" y="392.00" font-size="7.7" text-anchor="middle" fill="#262626">AnnexinV-PE fluorescence</text>
<text x="40.40" y="359.20" font-size="7.8" fill="#1a1a1a">AnnexinV-</text>
<text x="40.40" y="368.10" font-size="7.8" fill="#1a1a1a">89.7%</text>
<text x="139.00" y="359.20" font-size="7.8" text-anchor="end" fill="#1a1a1a">AnnexinV+</text>
<text x="139.00" y="368.10" font-size="7.8" text-anchor="end" fill="#1a1a1a">10.3%</text>
<path d="M252.4,328.2h0.5v0.5h-0.5zM247.9,330.4h0.5v0.5h-0.5zM238.2,329.4h0.5v0.5h-0.5zM202.4,332.2h0.5v0.5h-0.5zM249.2,329.4h0.5v0.5h-0.5zM210.4,332.2h0.5v0.5h-0.5zM201.2,332.2h0.5v0.5h-0.5zM245.9,332.2h0.5v0.5h-0.5zM222.4,304.2h0.5v0.5h-0.5zM264.2,327.9h0.5v0.5h-0.5zM274.2,324.4h0.5v0.5h-0.5zM259.7,328.4h0.5v0.5h-0.5zM264.2,330.4h0.5v0.5h-0.5zM216.2,334.7h0.5v0.5h-0.5zM213.2,333.2h0.5v0.5h-0.5zM224.9,329.9h0.5v0.5h-0.5zM268.4,325.9h0.5v0.5h-0.5zM237.2,329.4h0.5v0.5h-0.5zM225.9,304.2h0.5v0.5h-0.5zM248.2,331.9h0.5v0.5h-0.5zM216.7,304.7h0.5v0.5h-0.5zM250.2,326.7h0.5v0.5h-0.5zM223.7,330.2h0.5v0.5h-0.5zM247.7,327.9h0.5v0.5h-0.5zM261.2,326.7h0.5v0.5h-0.5zM271.7,326.4h0.5v0.5h-0.5zM221.2,334.4h0.5v0.5h-0.5zM241.7,327.7h0.5v0.5h-0.5zM271.2,330.2h0.5v0.5h-0.5zM254.9,331.2h0.5v0.5h-0.5zM254.7,327.9h0.5v0.5h-0.5zM275.7,328.9h0.5v0.5h-0.5zM246.7,330.7h0.5v0.5h-0.5zM220.4,304.9h0.5v0.5h-0.5zM222.7,303.9h0.5v0.5h-0.5zM217.4,304.9h0.5v0.5h-0.5zM253.2,329.9h0.5v0.5h-0.5zM246.7,327.2h0.5v0.5h-0.5zM265.9,328.7h0.5v0.5h-0.5zM207.9,335.7h0.5v0.5h-0.5zM211.7,333.9h0.5v0.5h-0.5zM220.9,329.7h0.5v0.5h-0.5zM243.4,330.9h0.5v0.5h-0.5zM208.9,305.2h0.5v0.5h-0.5zM244.4,328.9h0.5v0.5h-0.5zM260.4,325.7h0.5v0.5h-0.5zM208.9,332.4h0.5v0.5h-0.5zM224.2,329.7h0.5v0.5h-0.5zM207.9,334.7h0.5v0.5h-0.5zM271.2,327.4h0.5v0.5h-0.5zM253.2,330.4h0.5v0.5h-0.5zM214.7,305.4h0.5v0.5h-0.5zM217.4,329.9h0.5v0.5h-0.5zM243.2,328.9h0.5v0.5h-0.5zM211.4,334.9h0.5v0.5h-0.5zM259.2,326.9h0.5v0.5h-0.5zM206.9,332.9h0.5v0.5h-0.5zM219.7,334.7h0.5v0.5h-0.5zM225.7,329.2h0.5v0.5h-0.5zM218.7,333.9h0.5v0.5h-0.5zM237.2,327.9h0.5v0.5h-0.5zM264.7,329.2h0.5v0.5h-0.5zM216.4,334.4h0.5v0.5h-0.5zM218.7,334.7h0.5v0.5h-0.5zM206.7,336.2h0.5v0.5h-0.5zM272.4,328.9h0.5v0.5h-0.5zM210.4,332.2h0.5v0.5h-0.5zM219.4,331.4h0.5v0.5h-0.5zM261.4,331.2h0.5v0.5h-0.5zM206.7,333.2h0.5v0.5h-0.5zM205.4,334.9h0.5v0.5h-0.5zM245.7,332.2h0.5v0.5h-0.5zM218.9,330.7h0.5v0.5h-0.5zM208.9,332.7h0.5v0.5h-0.5zM234.2,328.2h0.5v0.5h-0.5zM248.2,329.2h0.5v0.5h-0.5zM225.2,330.7h0.5v0.5h-0.5zM261.7,329.2h0.5v0.5h-0.5zM203.9,335.7h0.5v0.5h-0.5zM199.9,334.4h0.5v0.5h-0.5zM209.9,304.7h0.5v0.5h-0.5zM209.4,332.9h0.5v0.5h-0.5zM210.7,335.4h0.5v0.5h-0.5zM267.9,330.2h0.5v0.5h-0.5zM232.4,330.9h0.5v0.5h-0.5zM269.9,329.7h0.5v0.5h-0.5zM241.7,330.7h0.5v0.5h-0.5zM253.7,326.9h0.5v0.5h-0.5zM208.9,305.7h0.5v0.5h-0.5zM220.2,303.9h0.5v0.5h-0.5zM238.4,329.9h0.5v0.5h-0.5zM246.7,331.4h0.5v0.5h-0.5zM219.2,330.9h0.5v0.5h-0.5zM208.9,306.2h0.5v0.5h-0.5zM260.7,325.7h0.5v0.5h-0.5zM265.7,326.2h0.5v0.5h-0.5zM213.2,333.9h0.5v0.5h-0.5zM226.4,303.9h0.5v0.5h-0.5zM254.2,327.7h0.5v0.5h-0.5zM243.4,328.2h0.5v0.5h-0.5zM200.4,332.7h0.5v0.5h-0.5zM214.4,303.9h0.5v0.5h-0.5zM248.4,328.4h0.5v0.5h-0.5zM224.9,334.2h0.5v0.5h-0.5zM227.2,328.9h0.5v0.5h-0.5zM217.7,304.4h0.5v0.5h-0.5zM260.9,328.7h0.5v0.5h-0.5zM220.9,329.9h0.5v0.5h-0.5zM199.9,331.9h0.5v0.5h-0.5zM214.7,332.7h0.5v0.5h-0.5zM206.4,332.7h0.5v0.5h-0.5zM229.9,328.7h0.5v0.5h-0.5zM253.9,329.2h0.5v0.5h-0.5zM234.4,332.4h0.5v0.5h-0.5zM220.9,333.7h0.5v0.5h-0.5zM246.2,327.4h0.5v0.5h-0.5zM210.9,333.4h0.5v0.5h-0.5zM221.9,331.2h0.5v0.5h-0.5zM247.9,327.4h0.5v0.5h-0.5zM227.7,330.4h0.5v0.5h-0.5zM219.4,304.2h0.5v0.5h-0.5zM256.2,325.9h0.5v0.5h-0.5zM264.7,329.9h0.5v0.5h-0.5zM225.9,328.9h0.5v0.5h-0.5zM263.4,328.7h0.5v0.5h-0.5zM223.4,333.7h0.5v0.5h-0.5zM232.7,328.7h0.5v0.5h-0.5zM225.9,303.9h0.5v0.5h-0.5zM254.4,326.7h0.5v0.5h-0.5zM254.9,328.9h0.5v0.5h-0.5zM209.4,305.4h0.5v0.5h-0.5zM251.9,327.2h0.5v0.5h-0.5zM241.4,329.2h0.5v0.5h-0.5zM208.2,332.7h0.5v0.5h-0.5zM217.9,332.4h0.5v0.5h-0.5zM271.7,324.7h0.5v0.5h-0.5zM226.9,330.4h0.5v0.5h-0.5zM248.2,330.9h0.5v0.5h-0.5zM273.4,324.2h0.5v0.5h-0.5zM226.2,332.7h0.5v0.5h-0.5zM273.7,324.7h0.5v0.5h-0.5zM236.9,331.2h0.5v0.5h-0.5zM221.7,334.4h0.5v0.5h-0.5zM257.9,326.9h0.5v0.5h-0.5zM236.2,331.9h0.5v0.5h-0.5zM231.2,304.2h0.5v0.5h-0.5zM254.4,326.7h0.5v0.5h-0.5zM264.4,329.7h0.5v0.5h-0.5zM274.4,324.7h0.5v0.5h-0.5zM271.2,326.9h0.5v0.5h-0.5zM220.4,330.9h0.5v0.5h-0.5zM268.2,324.7h0.5v0.5h-0.5zM237.2,328.9h0.5v0.5h-0.5zM202.4,332.9h0.5v0.5h-0.5zM248.9,331.2h0.5v0.5h-0.5zM240.7,328.2h0.5v0.5h-0.5zM210.9,333.2h0.5v0.5h-0.5zM201.7,332.2h0.5v0.5h-0.5zM266.7,327.7h0.5v0.5h-0.5zM238.9,330.2h0.5v0.5h-0.5z" fill="#3a3aff"/>
<path d="M275.8,304.1 239.8,304.1 239.6,304.3 233.6,304.6 233.3,304.8 230.3,304.8 230.1,305.1 224.1,305.3 223.8,305.6 220.8,305.6 220.6,305.8 214.6,306.1 214.3,306.3 211.3,306.3 211.1,306.6 208.3,306.6 208.1,306.8 206.1,306.8 205.8,307.1 204.8,307.1 203.6,307.8 201.1,310.3 200.8,311.1 200.3,311.6 200.3,312.1 199.8,313.1 199.8,313.8 199.6,314.1 199.6,314.8 199.3,315.1 199.3,331.1 199.8,331.1 201.6,331.8 202.6,331.8 202.8,332.1 207.6,332.1 207.8,331.8 208.8,331.8 209.1,331.6 210.8,331.3 211.1,331.1 213.6,330.6 213.8,330.3 216.3,330.1 216.6,329.8 218.1,329.8 218.3,329.6 222.3,329.3 222.6,329.1 224.8,329.1 225.1,328.8 227.1,328.8 227.3,328.6 229.3,328.6 229.6,328.3 231.6,328.3 231.8,328.1 234.1,328.1 234.3,327.8 236.6,327.8 236.8,327.6 238.8,327.6 239.1,327.3 241.3,327.3 241.6,327.1 243.8,327.1 244.1,326.8 246.3,326.8 246.6,326.6 248.8,326.6 249.1,326.3 251.6,326.3 251.8,326.1 254.1,326.1 254.3,325.8 256.8,325.8 257.1,325.6 259.6,325.6 259.8,325.3 262.3,325.3 262.6,325.1 265.1,325.1 265.3,324.8 270.1,324.6 270.3,324.3 271.8,324.3 272.1,324.1 273.3,324.1 273.6,323.8 275.6,323.6 275.8,323.3Z" fill="#2a2aff" fill-rule="evenodd"/>
<path d="M275.8,308.1 274.8,308.1 274.6,307.8 268.6,307.8 268.3,308.1 265.8,308.1 265.6,308.3 263.3,308.3 263.1,308.6 261.1,308.6 260.8,308.8 258.6,308.8 258.3,309.1 256.3,309.1 256.1,309.3 254.1,309.3 253.8,309.6 251.8,309.6 251.6,309.8 249.6,309.8 249.3,310.1 247.3,310.1 247.1,310.3 245.1,310.3 244.8,310.6 242.8,310.6 242.6,310.8 240.6,310.8 240.3,311.1 238.3,311.1 238.1,311.3 236.1,311.3 235.8,311.6 233.8,311.6 233.6,311.8 231.6,311.8 231.3,312.1 229.3,312.1 229.1,312.3 227.1,312.3 226.8,312.6 222.6,312.8 222.3,313.1 220.3,313.1 220.1,313.3 217.3,313.3 217.1,313.6 205.3,313.6 205.1,313.8 203.3,314.1 201.3,315.1 199.3,316.6 199.3,327.6 200.3,328.1 200.8,328.1 201.8,328.6 202.8,328.6 203.1,328.8 207.1,328.8 207.3,328.6 208.3,328.6 208.6,328.3 209.6,328.3 210.6,327.8 211.3,327.8 211.6,327.6 212.1,327.6 213.1,327.1 213.8,327.1 214.8,326.6 215.6,326.6 215.8,326.3 216.6,326.3 216.8,326.1 217.6,326.1 218.8,325.6 219.8,325.6 220.1,325.3 221.3,325.3 221.6,325.1 223.1,325.1 223.3,324.8 226.6,324.6 226.8,324.3 228.3,324.3 228.6,324.1 230.1,324.1 230.3,323.8 232.1,323.8 232.3,323.6 233.8,323.6 234.1,323.3 235.6,323.3 235.8,323.1 237.6,323.1 237.8,322.8 239.3,322.8 239.6,322.6 241.1,322.6 241.3,322.3 243.1,322.3 243.3,322.1 244.8,322.1 245.1,321.8 246.6,321.8 246.8,321.6 248.3,321.6 248.6,321.3 250.3,321.3 250.6,321.1 252.1,321.1 252.3,320.8 253.8,320.8 254.1,320.6 255.8,320.6 256.1,320.3 257.6,320.3 257.8,320.1 259.3,320.1 259.6,319.8 261.3,319.8 261.6,319.6 263.1,319.6 263.3,319.3 264.8,319.3 265.1,319.1 266.6,319.1 266.8,318.8 268.3,318.8 268.6,318.6 269.8,318.6 270.1,318.3 271.3,318.3 271.6,318.1 273.8,317.8 275.8,317.1Z" fill="#3a8cff" fill-rule="evenodd"/>
<path d="M275.8,309.8 274.1,309.6 273.8,309.3 268.1,309.3 267.8,309.6 265.3,309.6 265.1,309.8 260.3,310.1 260.1,310.3 258.1,310.3 257.8,310.6 255.8,310.6 255.6,310.8 253.3,310.8 253.1,311.1 251.1,311.1 250.8,311.3 248.8,311.3 248.6,311.6 246.6,311.6 246.3,311.8 244.3,311.8 244.1,312.1 242.1,312.1 241.8,312.3 239.8,312.3 239.6,312.6 237.6,312.6 237.3,312.8 235.3,312.8 235.1,313.1 230.8,313.3 230.6,313.6 226.6,313.8 226.3,314.1 224.3,314.1 224.1,314.3 219.1,314.6 218.8,314.8 209.6,314.8 209.3,314.6 205.1,314.8 204.8,315.1 203.3,315.3 201.3,316.3 199.3,317.8 199.3,326.6 200.6,327.3 201.1,327.3 202.1,327.8 203.1,327.8 203.3,328.1 207.1,328.1 207.3,327.8 208.3,327.8 208.6,327.6 210.3,327.3 210.6,327.1 211.1,327.1 212.8,326.3 213.6,326.3 216.8,325.1 217.6,325.1 217.8,324.8 218.6,324.8 219.8,324.3 220.8,324.3 221.1,324.1 222.3,324.1 222.6,323.8 223.8,323.8 224.1,323.6 225.6,323.6 225.8,323.3 227.3,323.3 227.6,323.1 229.1,323.1 229.3,322.8 230.8,322.8 231.1,322.6 232.6,322.6 232.8,322.3 234.3,322.3 234.6,322.1 236.1,322.1 236.3,321.8 237.8,321.8 238.1,321.6 239.6,321.6 239.8,321.3 241.3,321.3 241.6,321.1 243.1,321.1 243.3,320.8 244.8,320.8 245.1,320.6 246.6,320.6 246.8,320.3 248.3,320.3 248.6,320.1 250.1,320.1 250.3,319.8 251.8,319.8 252.1,319.6 253.3,319.6 253.6,319.3 255.1,319.3 255.3,319.1 256.8,319.1 257.1,318.8 258.6,318.8 258.8,318.6 260.3,318.6 260.6,318.3 262.1,318.3 262.3,318.1 263.6,318.1 263.8,317.8 265.3,317.8 265.6,317.6 267.1,317.6 267.3,317.3 268.6,317.3 268.8,317.1 271.3,316.8 271.6,316.6 273.3,316.3 275.8,315.3Z" fill="#40d8ea" fill-rule="evenodd"/>
<path d="M273.8,312.3 272.6,311.6 271.3,311.6 271.1,311.3 267.1,311.3 266.8,311.6 260.8,311.8 260.6,312.1 258.3,312.1 258.1,312.3 255.6,312.3 255.3,312.6 253.1,312.6 252.8,312.8 250.6,312.8 250.3,313.1 248.1,313.1 247.8,313.3 243.1,313.6 242.8,313.8 238.3,314.1 238.1,314.3 236.1,314.3 235.8,314.6 233.8,314.6 233.6,314.8 231.3,314.8 231.1,315.1 229.1,315.1 228.8,315.3 226.8,315.3 226.6,315.6 224.6,315.6 224.3,315.8 221.8,315.8 221.6,316.1 213.6,316.1 213.3,315.8 208.8,315.8 208.6,315.6 207.8,315.6 207.6,315.8 205.3,315.8 205.1,316.1 203.6,316.3 201.6,317.3 199.3,319.3 199.3,325.6 201.6,326.8 203.3,327.1 203.6,327.3 206.8,327.3 207.1,327.1 208.3,327.1 208.6,326.8 209.3,326.8 210.3,326.3 211.8,326.1 212.6,325.6 214.6,325.1 215.3,324.6 215.8,324.6 219.1,323.3 219.8,323.3 221.1,322.8 222.1,322.8 222.3,322.6 223.3,322.6 223.6,322.3 226.6,322.1 226.8,321.8 229.8,321.6 230.1,321.3 233.1,321.1 233.3,320.8 234.8,320.8 235.1,320.6 238.1,320.3 238.3,320.1 239.6,320.1 239.8,319.8 241.3,319.8 241.6,319.6 242.8,319.6 243.1,319.3 244.6,319.3 244.8,319.1 246.1,319.1 246.3,318.8 247.8,318.8 248.1,318.6 249.3,318.6 249.6,318.3 250.8,318.3 251.1,318.1 252.6,318.1 252.8,317.8 254.1,317.8 254.3,317.6 255.6,317.6 255.8,317.3 257.3,317.3 257.6,317.1 258.8,317.1 259.1,316.8 260.3,316.8 260.6,316.6 261.8,316.6 262.1,316.3 263.3,316.3 263.6,316.1 264.8,316.1 265.1,315.8 266.1,315.8 266.3,315.6 268.8,315.3 269.1,315.1 271.6,314.6 273.1,313.8 273.8,313.1Z" fill="#4ee05a" fill-rule="evenodd"/>
<path d="M199.3,323.6 200.8,325.3 203.1,326.3 204.6,326.3 204.8,326.6 207.8,326.3 208.1,326.1 209.8,325.8 212.6,324.6 213.1,324.6 215.8,323.1 216.3,323.1 220.8,320.8 221.3,320.8 223.8,319.8 225.6,319.6 228.3,318.6 227.8,318.3 220.8,318.3 220.6,318.1 218.6,318.1 218.3,317.8 216.8,317.8 216.6,317.6 213.6,317.3 213.3,317.1 211.8,317.1 211.6,316.8 205.6,316.8 205.3,317.1 203.8,317.3 202.3,318.1 199.8,320.3 199.3,321.3Z" fill="#d8ec30" fill-rule="evenodd"/>
<path d="M200.3,323.3 201.6,324.8 203.3,325.6 204.3,325.6 204.6,325.8 208.1,325.6 208.3,325.3 209.1,325.3 210.6,324.6 211.1,324.6 215.1,322.3 216.6,320.8 216.6,319.8 216.1,319.3 213.1,318.1 210.6,317.8 210.3,317.6 206.1,317.6 205.8,317.8 205.1,317.8 204.8,318.1 203.6,318.3 202.3,319.1 200.8,320.6 200.3,321.6Z" fill="#ffa020" fill-rule="evenodd"/>
<path d="M201.3,323.1 202.3,324.3 203.3,324.8 204.1,324.8 204.3,325.1 207.3,325.1 207.6,324.8 209.3,324.6 212.3,323.1 214.1,321.3 214.1,320.3 213.6,319.6 212.1,318.8 211.3,318.8 210.1,318.3 205.8,318.3 203.3,319.3 201.8,320.6 201.3,321.6Z" fill="#f52a10" fill-rule="evenodd"/>
<path d="M212.2,330.7h0.5v0.5h-0.5zM208.9,330.9h0.5v0.5h-0.5zM259.2,304.2h0.5v0.5h-0.5zM234.7,326.2h0.5v0.5h-0.5zM237.4,324.9h0.5v0.5h-0.5zM236.2,305.9h0.5v0.5h-0.5zM223.2,327.2h0.5v0.5h-0.5zM271.7,321.4h0.5v0.5h-0.5zM219.2,328.2h0.5v0.5h-0.5zM219.9,310.2h0.5v0.5h-0.5zM254.7,306.7h0.5v0.5h-0.5zM275.2,321.2h0.5v0.5h-0.5zM208.9,329.4h0.5v0.5h-0.5zM236.2,325.9h0.5v0.5h-0.5zM206.2,331.2h0.5v0.5h-0.5zM219.9,306.4h0.5v0.5h-0.5zM232.7,326.2h0.5v0.5h-0.5zM225.2,308.9h0.5v0.5h-0.5zM207.9,309.4h0.5v0.5h-0.5zM217.4,307.9h0.5v0.5h-0.5zM247.9,304.9h0.5v0.5h-0.5zM250.2,324.4h0.5v0.5h-0.5zM241.2,323.9h0.5v0.5h-0.5zM237.2,324.4h0.5v0.5h-0.5zM249.9,322.9h0.5v0.5h-0.5zM201.2,309.9h0.5v0.5h-0.5zM223.7,327.7h0.5v0.5h-0.5zM211.9,306.9h0.5v0.5h-0.5zM200.7,311.2h0.5v0.5h-0.5zM212.7,309.7h0.5v0.5h-0.5zM246.9,325.9h0.5v0.5h-0.5zM234.7,307.4h0.5v0.5h-0.5zM255.2,323.2h0.5v0.5h-0.5zM243.9,323.7h0.5v0.5h-0.5zM242.2,324.2h0.5v0.5h-0.5zM246.2,304.4h0.5v0.5h-0.5zM266.2,303.9h0.5v0.5h-0.5zM221.2,307.2h0.5v0.5h-0.5zM225.9,307.7h0.5v0.5h-0.5zM231.4,307.4h0.5v0.5h-0.5zM220.2,305.9h0.5v0.5h-0.5zM239.4,324.4h0.5v0.5h-0.5zM255.7,304.9h0.5v0.5h-0.5zM211.2,307.9h0.5v0.5h-0.5zM258.2,306.2h0.5v0.5h-0.5zM242.2,304.4h0.5v0.5h-0.5zM243.7,324.2h0.5v0.5h-0.5zM262.7,321.2h0.5v0.5h-0.5zM239.7,304.9h0.5v0.5h-0.5zM217.7,327.4h0.5v0.5h-0.5zM233.9,325.2h0.5v0.5h-0.5zM206.7,309.9h0.5v0.5h-0.5zM215.9,328.4h0.5v0.5h-0.5zM263.2,322.4h0.5v0.5h-0.5zM223.7,307.9h0.5v0.5h-0.5zM213.4,328.9h0.5v0.5h-0.5zM211.7,307.9h0.5v0.5h-0.5zM261.2,304.9h0.5v0.5h-0.5zM210.4,309.7h0.5v0.5h-0.5zM265.7,321.2h0.5v0.5h-0.5zM214.7,328.2h0.5v0.5h-0.5zM269.7,322.4h0.5v0.5h-0.5zM239.4,307.7h0.5v0.5h-0.5zM206.2,330.2h0.5v0.5h-0.5zM231.4,308.9h0.5v0.5h-0.5zM243.9,306.7h0.5v0.5h-0.5zM258.7,306.2h0.5v0.5h-0.5zM247.7,304.2h0.5v0.5h-0.5zM220.9,328.2h0.5v0.5h-0.5zM256.2,322.4h0.5v0.5h-0.5zM226.2,307.9h0.5v0.5h-0.5zM243.4,305.2h0.5v0.5h-0.5zM246.9,304.9h0.5v0.5h-0.5zM217.2,327.7h0.5v0.5h-0.5zM240.9,324.2h0.5v0.5h-0.5zM218.7,307.7h0.5v0.5h-0.5zM207.2,331.7h0.5v0.5h-0.5zM262.9,304.7h0.5v0.5h-0.5zM260.9,324.7h0.5v0.5h-0.5zM253.2,322.4h0.5v0.5h-0.5zM245.2,306.4h0.5v0.5h-0.5zM253.2,305.7h0.5v0.5h-0.5zM228.4,308.2h0.5v0.5h-0.5zM231.4,307.2h0.5v0.5h-0.5zM214.4,309.7h0.5v0.5h-0.5zM253.9,323.4h0.5v0.5h-0.5zM203.4,331.2h0.5v0.5h-0.5zM233.7,307.2h0.5v0.5h-0.5zM244.4,304.4h0.5v0.5h-0.5zM249.7,306.2h0.5v0.5h-0.5zM204.4,307.9h0.5v0.5h-0.5zM269.4,323.9h0.5v0.5h-0.5zM242.7,307.9h0.5v0.5h-0.5zM246.2,306.7h0.5v0.5h-0.5zM206.9,330.7h0.5v0.5h-0.5zM274.9,319.7h0.5v0.5h-0.5zM263.2,322.4h0.5v0.5h-0.5zM200.2,329.4h0.5v0.5h-0.5zM261.9,323.7h0.5v0.5h-0.5zM239.9,305.7h0.5v0.5h-0.5zM201.9,310.7h0.5v0.5h-0.5zM245.2,307.4h0.5v0.5h-0.5zM213.9,328.4h0.5v0.5h-0.5zM235.7,324.7h0.5v0.5h-0.5zM234.4,305.9h0.5v0.5h-0.5zM275.4,321.4h0.5v0.5h-0.5zM218.9,307.9h0.5v0.5h-0.5zM232.9,308.7h0.5v0.5h-0.5zM216.4,310.7h0.5v0.5h-0.5zM219.2,328.4h0.5v0.5h-0.5zM227.9,326.4h0.5v0.5h-0.5zM253.4,322.4h0.5v0.5h-0.5zM256.2,323.7h0.5v0.5h-0.5zM270.7,320.4h0.5v0.5h-0.5zM223.9,309.2h0.5v0.5h-0.5zM262.9,324.4h0.5v0.5h-0.5zM231.4,309.7h0.5v0.5h-0.5zM256.4,323.9h0.5v0.5h-0.5zM265.2,305.2h0.5v0.5h-0.5zM232.9,325.2h0.5v0.5h-0.5zM233.7,306.9h0.5v0.5h-0.5zM229.9,309.7h0.5v0.5h-0.5zM269.9,321.7h0.5v0.5h-0.5zM243.7,306.2h0.5v0.5h-0.5zM265.2,320.9h0.5v0.5h-0.5zM263.9,305.7h0.5v0.5h-0.5zM212.2,308.4h0.5v0.5h-0.5zM251.2,306.2h0.5v0.5h-0.5zM205.9,331.7h0.5v0.5h-0.5zM248.9,323.4h0.5v0.5h-0.5zM219.4,309.9h0.5v0.5h-0.5zM266.7,323.2h0.5v0.5h-0.5zM211.9,328.9h0.5v0.5h-0.5zM201.9,311.2h0.5v0.5h-0.5zM266.7,321.7h0.5v0.5h-0.5zM246.9,324.9h0.5v0.5h-0.5zM251.9,324.9h0.5v0.5h-0.5zM271.9,323.4h0.5v0.5h-0.5zM250.7,323.7h0.5v0.5h-0.5zM242.2,307.2h0.5v0.5h-0.5zM258.2,322.2h0.5v0.5h-0.5zM221.2,327.7h0.5v0.5h-0.5zM251.7,307.4h0.5v0.5h-0.5zM208.4,330.7h0.5v0.5h-0.5zM227.9,326.4h0.5v0.5h-0.5zM218.4,328.4h0.5v0.5h-0.5zM215.2,311.2h0.5v0.5h-0.5zM262.9,323.2h0.5v0.5h-0.5zM216.7,307.4h0.5v0.5h-0.5zM224.4,307.7h0.5v0.5h-0.5zM209.4,331.4h0.5v0.5h-0.5zM209.4,311.2h0.5v0.5h-0.5zM201.4,311.9h0.5v0.5h-0.5zM263.2,306.2h0.5v0.5h-0.5zM256.2,305.9h0.5v0.5h-0.5zM229.9,308.7h0.5v0.5h-0.5zM263.9,305.7h0.5v0.5h-0.5zM274.9,321.4h0.5v0.5h-0.5zM256.2,322.7h0.5v0.5h-0.5zM242.7,324.4h0.5v0.5h-0.5zM259.9,322.9h0.5v0.5h-0.5zM213.2,309.2h0.5v0.5h-0.5zM204.9,310.2h0.5v0.5h-0.5zM241.4,305.2h0.5v0.5h-0.5zM206.4,309.7h0.5v0.5h-0.5zM220.7,310.4h0.5v0.5h-0.5zM269.4,323.9h0.5v0.5h-0.5zM271.9,322.2h0.5v0.5h-0.5zM201.9,310.7h0.5v0.5h-0.5zM209.4,310.4h0.5v0.5h-0.5zM245.9,324.9h0.5v0.5h-0.5zM231.7,307.9h0.5v0.5h-0.5zM271.9,305.7h0.5v0.5h-0.5zM228.2,308.2h0.5v0.5h-0.5zM201.2,310.4h0.5v0.5h-0.5zM258.4,305.4h0.5v0.5h-0.5zM205.2,311.2h0.5v0.5h-0.5zM249.4,306.4h0.5v0.5h-0.5zM214.2,308.2h0.5v0.5h-0.5zM233.7,327.7h0.5v0.5h-0.5zM202.4,330.7h0.5v0.5h-0.5zM239.9,305.4h0.5v0.5h-0.5zM240.2,305.2h0.5v0.5h-0.5zM253.7,304.7h0.5v0.5h-0.5zM260.4,305.9h0.5v0.5h-0.5zM240.2,304.9h0.5v0.5h-0.5zM242.4,307.4h0.5v0.5h-0.5zM232.9,305.7h0.5v0.5h-0.5zM228.4,326.7h0.5v0.5h-0.5zM273.4,320.9h0.5v0.5h-0.5zM215.9,310.4h0.5v0.5h-0.5zM212.9,329.9h0.5v0.5h-0.5zM207.4,306.9h0.5v0.5h-0.5zM261.4,305.7h0.5v0.5h-0.5zM224.2,308.2h0.5v0.5h-0.5zM217.7,308.7h0.5v0.5h-0.5zM205.4,309.2h0.5v0.5h-0.5zM269.4,303.9h0.5v0.5h-0.5zM255.4,305.2h0.5v0.5h-0.5zM246.2,325.2h0.5v0.5h-0.5zM256.9,305.9h0.5v0.5h-0.5zM221.9,328.9h0.5v0.5h-0.5zM220.7,309.7h0.5v0.5h-0.5zM252.9,305.4h0.5v0.5h-0.5zM225.2,307.2h0.5v0.5h-0.5zM232.9,308.4h0.5v0.5h-0.5zM251.9,324.4h0.5v0.5h-0.5zM229.2,306.2h0.5v0.5h-0.5zM224.4,310.2h0.5v0.5h-0.5zM268.4,305.4h0.5v0.5h-0.5zM239.9,307.9h0.5v0.5h-0.5zM238.9,308.4h0.5v0.5h-0.5zM239.9,324.9h0.5v0.5h-0.5zM271.7,304.2h0.5v0.5h-0.5zM228.2,326.9h0.5v0.5h-0.5zM244.7,324.4h0.5v0.5h-0.5zM272.9,304.7h0.5v0.5h-0.5zM208.7,306.4h0.5v0.5h-0.5zM217.7,307.7h0.5v0.5h-0.5zM214.4,307.4h0.5v0.5h-0.5zM252.2,306.9h0.5v0.5h-0.5zM225.7,327.2h0.5v0.5h-0.5zM216.7,328.9h0.5v0.5h-0.5zM227.4,307.4h0.5v0.5h-0.5zM227.7,307.4h0.5v0.5h-0.5zM204.7,330.7h0.5v0.5h-0.5zM225.2,310.2h0.5v0.5h-0.5zM228.2,327.4h0.5v0.5h-0.5zM245.9,324.9h0.5v0.5h-0.5zM251.2,306.2h0.5v0.5h-0.5zM263.9,321.9h0.5v0.5h-0.5zM220.2,326.9h0.5v0.5h-0.5zM238.7,308.4h0.5v0.5h-0.5zM224.2,307.2h0.5v0.5h-0.5zM275.4,305.2h0.5v0.5h-0.5zM225.7,306.7h0.5v0.5h-0.5zM217.4,329.4h0.5v0.5h-0.5zM205.4,330.7h0.5v0.5h-0.5zM237.9,325.2h0.5v0.5h-0.5zM245.4,303.9h0.5v0.5h-0.5zM236.4,327.4h0.5v0.5h-0.5zM230.2,325.4h0.5v0.5h-0.5zM270.9,323.9h0.5v0.5h-0.5zM242.4,325.4h0.5v0.5h-0.5zM230.4,325.7h0.5v0.5h-0.5zM269.7,304.7h0.5v0.5h-0.5zM234.2,307.4h0.5v0.5h-0.5zM229.2,305.9h0.5v0.5h-0.5zM246.7,324.9h0.5v0.5h-0.5zM247.7,323.4h0.5v0.5h-0.5zM212.9,311.2h0.5v0.5h-0.5zM220.7,308.9h0.5v0.5h-0.5zM230.9,305.2h0.5v0.5h-0.5zM265.9,304.7h0.5v0.5h-0.5zM203.2,308.7h0.5v0.5h-0.5zM266.7,324.7h0.5v0.5h-0.5zM266.2,322.9h0.5v0.5h-0.5zM213.9,308.9h0.5v0.5h-0.5zM257.9,305.2h0.5v0.5h-0.5zM246.2,307.9h0.5v0.5h-0.5z" fill="#ffffff"/>
<rect x="174.20" y="284.20" width="102.30" height="86.80" fill="none" stroke="#444" stroke-width="0.8"/>
<line x1="174.20" y1="295.10" x2="276.50" y2="295.10" stroke="#444" stroke-width="0.8"/>
<text x="225.35" y="292.60" font-size="7.6" text-anchor="middle" fill="#1a1a1a">shCtBP</text>
<line x1="215.10" y1="295.10" x2="215.10" y2="371.00" stroke="#555" stroke-width="0.9"/>
<line x1="172.00" y1="284.20" x2="174.20" y2="284.20" stroke="#111" stroke-width="1.3"/>
<text x="170.30" y="287.00" font-size="7.8" text-anchor="end" fill="#262626">10<tspan font-size="4.8" dy="-3.3">6</tspan></text>
<line x1="172.00" y1="319.10" x2="174.20" y2="319.10" stroke="#111" stroke-width="1.3"/>
<text x="170.30" y="321.90" font-size="7.8" text-anchor="end" fill="#262626">10<tspan font-size="4.8" dy="-3.3">5</tspan></text>
<line x1="172.00" y1="353.90" x2="174.20" y2="353.90" stroke="#111" stroke-width="1.3"/>
<text x="170.30" y="356.70" font-size="7.8" text-anchor="end" fill="#262626">10<tspan font-size="4.8" dy="-3.3">4</tspan></text>
<line x1="172.90" y1="308.59" x2="174.20" y2="308.59" stroke="#333" stroke-width="0.5"/>
<line x1="172.90" y1="302.45" x2="174.20" y2="302.45" stroke="#333" stroke-width="0.5"/>
<line x1="172.90" y1="298.09" x2="174.20" y2="298.09" stroke="#333" stroke-width="0.5"/>
<line x1="172.90" y1="294.71" x2="174.20" y2="294.71" stroke="#333" stroke-width="0.5"/>
<line x1="172.90" y1="291.94" x2="174.20" y2="291.94" stroke="#333" stroke-width="0.5"/>
<line x1="172.90" y1="289.61" x2="174.20" y2="289.61" stroke="#333" stroke-width="0.5"/>
<line x1="172.90" y1="287.58" x2="174.20" y2="287.58" stroke="#333" stroke-width="0.5"/>
<line x1="172.90" y1="285.80" x2="174.20" y2="285.80" stroke="#333" stroke-width="0.5"/>
<line x1="172.90" y1="343.49" x2="174.20" y2="343.49" stroke="#333" stroke-width="0.5"/>
<line x1="172.90" y1="337.35" x2="174.20" y2="337.35" stroke="#333" stroke-width="0.5"/>
<line x1="172.90" y1="332.99" x2="174.20" y2="332.99" stroke="#333" stroke-width="0.5"/>
<line x1="172.90" y1="329.61" x2="174.20" y2="329.61" stroke="#333" stroke-width="0.5"/>
<line x1="172.90" y1="326.84" x2="174.20" y2="326.84" stroke="#333" stroke-width="0.5"/>
<line x1="172.90" y1="324.51" x2="174.20" y2="324.51" stroke="#333" stroke-width="0.5"/>
<line x1="172.90" y1="322.48" x2="174.20" y2="322.48" stroke="#333" stroke-width="0.5"/>
<line x1="172.90" y1="320.70" x2="174.20" y2="320.70" stroke="#333" stroke-width="0.5"/>
<line x1="172.90" y1="367.79" x2="174.20" y2="367.79" stroke="#333" stroke-width="0.5"/>
<line x1="172.90" y1="364.41" x2="174.20" y2="364.41" stroke="#333" stroke-width="0.5"/>
<line x1="172.90" y1="361.64" x2="174.20" y2="361.64" stroke="#333" stroke-width="0.5"/>
<line x1="172.90" y1="359.31" x2="174.20" y2="359.31" stroke="#333" stroke-width="0.5"/>
<line x1="172.90" y1="357.28" x2="174.20" y2="357.28" stroke="#333" stroke-width="0.5"/>
<line x1="172.90" y1="355.50" x2="174.20" y2="355.50" stroke="#333" stroke-width="0.5"/>
<text x="156.90" y="327.80" font-size="7.4" text-anchor="middle" fill="#262626" transform="rotate(-90 156.90 327.80)">SSC-A</text>
<text x="179.10" y="384.40" font-size="7.6" text-anchor="middle" fill="#262626">-10<tspan font-size="4.8" dy="-3.3">3</tspan></text>
<text x="198.00" y="384.40" font-size="7.5" text-anchor="middle" fill="#262626">0</text>
<text x="216.10" y="384.40" font-size="7.6" text-anchor="middle" fill="#262626">10<tspan font-size="4.8" dy="-3.3">3</tspan></text>
<text x="243.30" y="384.40" font-size="7.6" text-anchor="middle" fill="#262626">10<tspan font-size="4.8" dy="-3.3">4</tspan></text>
<text x="266.40" y="384.40" font-size="7.6" text-anchor="middle" fill="#262626">10<tspan font-size="4.8" dy="-3.3">5</tspan></text>
<line x1="177.70" y1="371.00" x2="177.70" y2="373.00" stroke="#111" stroke-width="1.0"/>
<line x1="197.50" y1="371.00" x2="197.50" y2="373.00" stroke="#111" stroke-width="1.0"/>
<line x1="215.50" y1="371.00" x2="215.50" y2="373.00" stroke="#111" stroke-width="1.0"/>
<line x1="243.10" y1="371.00" x2="243.10" y2="373.00" stroke="#111" stroke-width="1.0"/>
<line x1="268.50" y1="371.00" x2="268.50" y2="373.00" stroke="#111" stroke-width="1.0"/>
<line x1="188.20" y1="371.00" x2="188.20" y2="372.40" stroke="#111" stroke-width="0.5"/>
<line x1="189.58" y1="371.00" x2="189.58" y2="372.40" stroke="#111" stroke-width="0.5"/>
<line x1="190.97" y1="371.00" x2="190.97" y2="372.40" stroke="#111" stroke-width="0.5"/>
<line x1="192.35" y1="371.00" x2="192.35" y2="372.40" stroke="#111" stroke-width="0.5"/>
<line x1="193.74" y1="371.00" x2="193.74" y2="372.40" stroke="#111" stroke-width="0.5"/>
<line x1="195.12" y1="371.00" x2="195.12" y2="372.40" stroke="#111" stroke-width="0.5"/>
<line x1="196.51" y1="371.00" x2="196.51" y2="372.40" stroke="#111" stroke-width="0.5"/>
<line x1="197.89" y1="371.00" x2="197.89" y2="372.40" stroke="#111" stroke-width="0.5"/>
<line x1="199.28" y1="371.00" x2="199.28" y2="372.40" stroke="#111" stroke-width="0.5"/>
<line x1="200.66" y1="371.00" x2="200.66" y2="372.40" stroke="#111" stroke-width="0.5"/>
<line x1="202.05" y1="371.00" x2="202.05" y2="372.40" stroke="#111" stroke-width="0.5"/>
<line x1="203.43" y1="371.00" x2="203.43" y2="372.40" stroke="#111" stroke-width="0.5"/>
<line x1="204.82" y1="371.00" x2="204.82" y2="372.40" stroke="#111" stroke-width="0.5"/>
<line x1="206.20" y1="371.00" x2="206.20" y2="372.40" stroke="#111" stroke-width="0.5"/>
<rect x="193.80" y="371.00" width="6.00" height="1.80" fill="#111"/>
<text x="224.60" y="392.00" font-size="7.7" text-anchor="middle" fill="#262626">AnnexinV-PE fluorescence</text>
<text x="176.50" y="359.20" font-size="7.8" fill="#1a1a1a">AnnexinV-</text>
<text x="176.50" y="368.10" font-size="7.8" fill="#1a1a1a">31.7%</text>
<text x="275.10" y="359.20" font-size="7.8" text-anchor="end" fill="#1a1a1a">AnnexinV+</text>
<text x="275.10" y="368.10" font-size="7.8" text-anchor="end" fill="#1a1a1a">68.3%</text>
<path d="M406.9,327.9h0.5v0.5h-0.5zM336.7,338.7h0.5v0.5h-0.5zM341.2,337.9h0.5v0.5h-0.5zM404.9,328.7h0.5v0.5h-0.5zM400.4,328.4h0.5v0.5h-0.5zM345.2,336.7h0.5v0.5h-0.5zM391.7,329.4h0.5v0.5h-0.5zM401.4,330.9h0.5v0.5h-0.5zM352.4,337.9h0.5v0.5h-0.5zM362.2,334.9h0.5v0.5h-0.5zM379.2,329.2h0.5v0.5h-0.5zM405.2,331.7h0.5v0.5h-0.5zM355.4,332.2h0.5v0.5h-0.5zM335.9,340.2h0.5v0.5h-0.5zM346.9,336.7h0.5v0.5h-0.5zM383.2,334.2h0.5v0.5h-0.5zM338.2,336.2h0.5v0.5h-0.5zM402.4,327.4h0.5v0.5h-0.5zM409.7,325.4h0.5v0.5h-0.5zM339.2,338.2h0.5v0.5h-0.5zM385.9,331.2h0.5v0.5h-0.5zM382.9,331.7h0.5v0.5h-0.5zM359.4,336.4h0.5v0.5h-0.5zM356.4,332.2h0.5v0.5h-0.5zM352.7,333.4h0.5v0.5h-0.5zM383.4,333.4h0.5v0.5h-0.5zM364.2,330.4h0.5v0.5h-0.5zM334.7,339.2h0.5v0.5h-0.5zM397.4,330.4h0.5v0.5h-0.5zM407.9,303.9h0.5v0.5h-0.5zM398.7,330.2h0.5v0.5h-0.5zM350.4,333.4h0.5v0.5h-0.5zM403.9,326.4h0.5v0.5h-0.5zM389.7,330.7h0.5v0.5h-0.5zM336.4,336.2h0.5v0.5h-0.5zM363.4,332.7h0.5v0.5h-0.5zM351.4,336.4h0.5v0.5h-0.5zM350.2,333.9h0.5v0.5h-0.5zM373.9,332.4h0.5v0.5h-0.5zM380.9,333.4h0.5v0.5h-0.5zM352.9,336.2h0.5v0.5h-0.5zM339.9,337.2h0.5v0.5h-0.5zM360.2,330.9h0.5v0.5h-0.5zM375.9,331.4h0.5v0.5h-0.5zM367.4,332.9h0.5v0.5h-0.5zM343.9,337.2h0.5v0.5h-0.5zM402.9,331.2h0.5v0.5h-0.5zM346.7,336.4h0.5v0.5h-0.5zM334.2,337.4h0.5v0.5h-0.5zM386.2,327.7h0.5v0.5h-0.5zM371.2,330.7h0.5v0.5h-0.5zM370.4,334.7h0.5v0.5h-0.5zM408.2,328.7h0.5v0.5h-0.5zM372.9,329.7h0.5v0.5h-0.5zM370.4,333.9h0.5v0.5h-0.5zM388.4,328.4h0.5v0.5h-0.5zM360.4,332.7h0.5v0.5h-0.5zM377.2,330.2h0.5v0.5h-0.5zM376.9,330.2h0.5v0.5h-0.5zM376.9,330.7h0.5v0.5h-0.5zM349.4,333.7h0.5v0.5h-0.5zM410.9,330.2h0.5v0.5h-0.5zM400.7,327.9h0.5v0.5h-0.5zM374.9,331.4h0.5v0.5h-0.5zM411.2,324.7h0.5v0.5h-0.5zM377.2,329.4h0.5v0.5h-0.5zM380.4,330.9h0.5v0.5h-0.5zM400.4,330.9h0.5v0.5h-0.5zM389.9,330.7h0.5v0.5h-0.5zM399.2,326.7h0.5v0.5h-0.5zM390.4,327.7h0.5v0.5h-0.5zM361.9,331.9h0.5v0.5h-0.5zM354.7,332.2h0.5v0.5h-0.5zM365.2,334.9h0.5v0.5h-0.5zM377.9,329.2h0.5v0.5h-0.5zM357.9,330.9h0.5v0.5h-0.5zM373.7,335.2h0.5v0.5h-0.5zM347.2,334.4h0.5v0.5h-0.5zM342.2,336.9h0.5v0.5h-0.5zM336.9,337.7h0.5v0.5h-0.5zM410.7,328.2h0.5v0.5h-0.5zM362.4,331.4h0.5v0.5h-0.5zM352.4,335.4h0.5v0.5h-0.5zM371.4,333.7h0.5v0.5h-0.5zM400.7,328.9h0.5v0.5h-0.5zM335.7,335.7h0.5v0.5h-0.5zM372.9,333.9h0.5v0.5h-0.5zM359.7,336.7h0.5v0.5h-0.5zM407.9,325.7h0.5v0.5h-0.5zM411.2,323.9h0.5v0.5h-0.5zM406.7,327.9h0.5v0.5h-0.5zM340.7,338.2h0.5v0.5h-0.5zM353.9,337.4h0.5v0.5h-0.5zM362.4,332.2h0.5v0.5h-0.5zM369.9,331.9h0.5v0.5h-0.5zM355.2,331.9h0.5v0.5h-0.5zM372.2,330.2h0.5v0.5h-0.5zM397.4,329.4h0.5v0.5h-0.5zM364.2,332.7h0.5v0.5h-0.5zM364.2,335.4h0.5v0.5h-0.5zM385.7,332.7h0.5v0.5h-0.5zM344.2,336.7h0.5v0.5h-0.5zM385.4,331.7h0.5v0.5h-0.5zM392.4,328.2h0.5v0.5h-0.5zM402.4,331.9h0.5v0.5h-0.5zM341.2,336.9h0.5v0.5h-0.5zM363.9,330.7h0.5v0.5h-0.5zM356.2,331.9h0.5v0.5h-0.5zM358.4,335.9h0.5v0.5h-0.5zM356.9,334.2h0.5v0.5h-0.5zM400.9,327.7h0.5v0.5h-0.5zM406.2,327.2h0.5v0.5h-0.5zM372.9,329.7h0.5v0.5h-0.5zM351.9,333.7h0.5v0.5h-0.5zM369.2,329.9h0.5v0.5h-0.5zM366.2,334.4h0.5v0.5h-0.5zM346.2,334.9h0.5v0.5h-0.5zM335.2,335.7h0.5v0.5h-0.5zM342.4,338.9h0.5v0.5h-0.5zM394.9,330.9h0.5v0.5h-0.5zM352.9,333.9h0.5v0.5h-0.5zM388.7,327.4h0.5v0.5h-0.5zM356.4,334.2h0.5v0.5h-0.5zM336.2,336.9h0.5v0.5h-0.5zM376.4,329.7h0.5v0.5h-0.5zM368.2,334.7h0.5v0.5h-0.5zM343.9,338.2h0.5v0.5h-0.5zM352.2,334.2h0.5v0.5h-0.5zM358.4,336.2h0.5v0.5h-0.5zM365.7,331.7h0.5v0.5h-0.5zM355.7,335.9h0.5v0.5h-0.5zM361.7,334.9h0.5v0.5h-0.5zM346.2,337.7h0.5v0.5h-0.5zM348.2,335.7h0.5v0.5h-0.5zM347.9,336.7h0.5v0.5h-0.5zM373.9,330.7h0.5v0.5h-0.5zM348.7,333.4h0.5v0.5h-0.5zM370.2,331.2h0.5v0.5h-0.5zM351.4,333.7h0.5v0.5h-0.5zM407.4,327.7h0.5v0.5h-0.5zM337.2,340.7h0.5v0.5h-0.5zM366.7,330.9h0.5v0.5h-0.5zM411.4,305.2h0.5v0.5h-0.5zM337.9,336.4h0.5v0.5h-0.5zM336.4,338.4h0.5v0.5h-0.5zM396.9,326.9h0.5v0.5h-0.5zM345.4,335.9h0.5v0.5h-0.5zM404.7,325.7h0.5v0.5h-0.5zM386.9,333.9h0.5v0.5h-0.5zM336.9,336.7h0.5v0.5h-0.5zM344.4,335.9h0.5v0.5h-0.5zM364.2,333.4h0.5v0.5h-0.5zM359.2,335.9h0.5v0.5h-0.5zM401.4,327.4h0.5v0.5h-0.5zM402.9,326.9h0.5v0.5h-0.5zM362.9,333.9h0.5v0.5h-0.5zM388.7,328.9h0.5v0.5h-0.5zM335.7,337.2h0.5v0.5h-0.5zM347.9,337.7h0.5v0.5h-0.5zM408.4,330.7h0.5v0.5h-0.5z" fill="#3a3aff"/>
<path d="M334.1,311.1 334.1,334.3 336.1,335.6 336.6,335.6 337.6,336.1 338.6,336.1 338.8,336.3 341.1,336.3 341.3,336.1 343.6,335.8 343.8,335.6 345.1,335.3 351.3,332.1 353.8,331.6 354.1,331.3 357.3,331.1 357.6,330.8 359.6,330.8 359.8,330.6 361.8,330.6 362.1,330.3 364.1,330.3 364.3,330.1 366.3,330.1 366.6,329.8 371.1,329.6 371.3,329.3 373.1,329.3 373.3,329.1 375.3,329.1 375.6,328.8 377.3,328.8 377.6,328.6 379.3,328.6 379.6,328.3 383.1,328.1 383.3,327.8 385.1,327.8 385.3,327.6 387.1,327.6 387.3,327.3 389.3,327.3 389.6,327.1 391.6,327.1 391.8,326.8 394.3,326.8 394.6,326.6 397.1,326.6 397.3,326.3 402.1,326.1 402.3,325.8 403.8,325.8 404.1,325.6 405.1,325.6 405.3,325.3 407.3,325.1 407.6,324.8 409.6,324.3 411.6,323.3 411.6,306.1 409.3,304.8 406.8,304.3 406.6,304.1 341.1,304.1 340.8,304.3 339.1,304.6 337.3,305.6 335.1,308.1 334.6,309.1 334.3,310.8Z" fill="#2a2aff" fill-rule="evenodd"/>
<path d="M334.1,329.1 335.8,330.8 337.6,331.6 339.1,331.6 339.3,331.3 340.8,331.1 343.8,329.6 346.1,328.1 350.3,326.1 351.1,326.1 352.3,325.6 353.6,325.6 353.8,325.3 355.3,325.3 355.6,325.1 357.3,325.1 357.6,324.8 359.3,324.8 359.6,324.6 361.3,324.6 361.6,324.3 363.1,324.3 363.3,324.1 364.8,324.1 365.1,323.8 370.1,323.3 370.3,323.1 371.6,323.1 371.8,322.8 372.8,322.8 373.1,322.6 374.1,322.6 374.3,322.3 376.1,322.1 376.3,321.8 379.1,321.1 382.3,319.3 384.6,316.8 384.6,314.8 383.1,313.1 380.8,311.8 380.3,311.8 378.6,311.1 377.6,311.1 377.3,310.8 376.3,310.8 376.1,310.6 373.8,310.6 373.6,310.3 363.6,310.6 363.3,310.8 360.1,310.8 359.8,311.1 353.1,311.3 352.8,311.6 348.1,311.3 347.8,311.1 346.8,311.1 346.6,310.8 345.6,310.8 345.3,310.6 344.3,310.6 344.1,310.3 341.8,310.3 341.6,310.1 341.1,310.3 339.3,310.3 339.1,310.6 338.3,310.6 337.1,311.1 335.6,312.1 334.1,313.8Z" fill="#3a8cff" fill-rule="evenodd"/>
<path d="M334.1,327.6 335.1,329.1 336.3,330.1 337.8,330.3 338.1,330.6 338.3,330.3 339.6,330.3 341.1,329.6 347.1,325.6 350.8,324.1 353.1,323.8 353.3,323.6 354.8,323.6 355.1,323.3 356.8,323.3 357.1,323.1 358.8,323.1 359.1,322.8 362.3,322.6 362.6,322.3 364.1,322.3 364.3,322.1 365.6,322.1 365.8,321.8 367.1,321.8 367.3,321.6 368.6,321.6 368.8,321.3 371.1,321.1 371.3,320.8 372.1,320.8 372.3,320.6 373.1,320.6 373.3,320.3 375.3,319.8 377.6,318.6 378.8,317.3 379.1,315.8 378.6,314.8 377.3,313.8 375.3,313.1 372.8,312.8 372.6,312.6 365.1,312.6 364.8,312.8 361.3,312.8 361.1,313.1 358.1,313.1 357.8,313.3 355.1,313.3 354.8,313.6 348.8,313.6 348.6,313.3 347.3,313.3 347.1,313.1 346.3,313.1 345.1,312.6 344.1,312.6 343.8,312.3 342.6,312.3 342.3,312.1 338.6,312.1 336.3,313.1 334.6,314.8 334.1,315.8Z" fill="#40d8ea" fill-rule="evenodd"/>
<path d="M334.1,325.8 334.8,327.3 335.8,328.6 337.1,329.3 339.1,329.3 340.8,328.3 344.6,324.8 346.8,323.3 349.8,321.8 352.3,321.3 352.6,321.1 357.6,320.6 357.8,320.3 359.1,320.3 359.3,320.1 361.8,319.8 363.1,319.3 364.1,319.3 364.3,319.1 366.1,318.8 369.1,317.6 369.3,317.3 369.3,316.6 368.1,316.1 366.3,316.1 366.1,315.8 360.6,315.8 360.3,316.1 356.1,316.1 355.8,316.3 349.3,316.3 349.1,316.1 348.1,316.1 347.1,315.6 346.3,315.6 346.1,315.3 345.6,315.3 343.8,314.6 343.1,314.6 342.1,314.1 341.3,314.1 341.1,313.8 339.8,313.8 339.6,313.6 337.6,313.8 336.6,314.3 335.1,315.8 334.1,317.8Z" fill="#4ee05a" fill-rule="evenodd"/>
<path d="M339.6,315.3 337.6,315.3 336.6,315.8 335.6,316.8 334.6,318.8 334.3,321.3 334.1,321.6 334.1,322.1 334.3,322.3 334.3,324.1 335.3,326.6 336.6,327.8 337.8,328.3 339.6,327.8 341.3,326.1 342.6,323.8 343.1,323.3 344.3,320.8 344.3,319.1 344.1,318.6 341.6,316.3Z" fill="#d8ec30" fill-rule="evenodd"/>
<path d="M338.3,316.3 336.8,316.8 335.8,317.8 334.8,320.3 334.8,323.6 335.1,323.8 335.1,324.6 335.8,326.1 336.6,326.8 337.6,327.3 338.3,327.3 339.3,326.8 340.3,325.8 341.3,324.1 341.3,323.6 341.8,322.6 341.8,319.6 341.6,319.3 341.6,318.8 339.8,316.8 338.6,316.6Z" fill="#ffa020" fill-rule="evenodd"/>
<path d="M337.3,317.6 336.3,318.3 335.6,319.8 335.6,320.6 335.3,320.8 335.3,323.3 336.1,325.3 336.8,326.1 337.3,326.3 338.6,326.3 339.6,325.6 340.6,323.8 340.6,323.3 340.8,323.1 340.8,320.1 340.3,318.8 339.1,317.6Z" fill="#f52a10" fill-rule="evenodd"/>
<path d="M402.2,309.2h0.5v0.5h-0.5zM407.7,305.9h0.5v0.5h-0.5zM380.7,308.2h0.5v0.5h-0.5zM404.4,319.2h0.5v0.5h-0.5zM386.7,305.9h0.5v0.5h-0.5zM338.2,334.2h0.5v0.5h-0.5zM357.7,329.2h0.5v0.5h-0.5zM371.2,327.9h0.5v0.5h-0.5zM348.7,307.9h0.5v0.5h-0.5zM348.2,308.2h0.5v0.5h-0.5zM337.4,332.9h0.5v0.5h-0.5zM396.7,323.4h0.5v0.5h-0.5zM373.9,328.7h0.5v0.5h-0.5zM358.4,327.2h0.5v0.5h-0.5zM353.4,307.2h0.5v0.5h-0.5zM359.7,307.7h0.5v0.5h-0.5zM339.7,304.2h0.5v0.5h-0.5zM376.2,324.7h0.5v0.5h-0.5zM393.7,326.4h0.5v0.5h-0.5zM340.4,335.7h0.5v0.5h-0.5zM406.9,320.7h0.5v0.5h-0.5zM405.7,309.2h0.5v0.5h-0.5zM397.7,309.4h0.5v0.5h-0.5zM400.2,319.4h0.5v0.5h-0.5zM398.4,308.7h0.5v0.5h-0.5zM409.9,317.2h0.5v0.5h-0.5zM410.4,319.7h0.5v0.5h-0.5zM351.9,307.9h0.5v0.5h-0.5zM394.2,308.7h0.5v0.5h-0.5zM358.4,328.2h0.5v0.5h-0.5zM390.2,322.9h0.5v0.5h-0.5zM401.2,319.4h0.5v0.5h-0.5zM390.9,309.9h0.5v0.5h-0.5zM361.7,307.9h0.5v0.5h-0.5zM389.2,321.7h0.5v0.5h-0.5zM358.9,307.9h0.5v0.5h-0.5zM399.2,319.4h0.5v0.5h-0.5zM341.9,335.7h0.5v0.5h-0.5zM387.2,308.4h0.5v0.5h-0.5zM397.7,306.7h0.5v0.5h-0.5zM337.7,306.2h0.5v0.5h-0.5zM382.9,322.9h0.5v0.5h-0.5zM409.9,309.7h0.5v0.5h-0.5zM387.4,308.9h0.5v0.5h-0.5zM357.4,327.2h0.5v0.5h-0.5zM393.7,308.4h0.5v0.5h-0.5zM401.2,320.2h0.5v0.5h-0.5zM381.4,325.7h0.5v0.5h-0.5zM345.7,307.7h0.5v0.5h-0.5zM353.9,330.4h0.5v0.5h-0.5zM355.4,327.7h0.5v0.5h-0.5zM351.7,329.2h0.5v0.5h-0.5zM345.7,331.4h0.5v0.5h-0.5zM408.2,305.2h0.5v0.5h-0.5zM355.4,304.7h0.5v0.5h-0.5zM339.4,304.9h0.5v0.5h-0.5zM348.7,307.7h0.5v0.5h-0.5zM352.2,306.9h0.5v0.5h-0.5zM369.4,305.2h0.5v0.5h-0.5zM395.7,319.9h0.5v0.5h-0.5zM386.4,325.9h0.5v0.5h-0.5zM360.4,329.2h0.5v0.5h-0.5zM387.4,307.4h0.5v0.5h-0.5zM387.4,325.2h0.5v0.5h-0.5zM346.4,333.2h0.5v0.5h-0.5zM368.9,305.4h0.5v0.5h-0.5zM386.9,326.4h0.5v0.5h-0.5zM403.2,318.9h0.5v0.5h-0.5zM402.2,309.2h0.5v0.5h-0.5zM335.2,308.2h0.5v0.5h-0.5zM399.2,324.2h0.5v0.5h-0.5zM402.7,321.9h0.5v0.5h-0.5zM350.4,328.9h0.5v0.5h-0.5zM396.4,309.4h0.5v0.5h-0.5zM393.4,320.7h0.5v0.5h-0.5zM409.7,321.7h0.5v0.5h-0.5zM384.4,324.4h0.5v0.5h-0.5zM395.9,320.7h0.5v0.5h-0.5zM396.7,306.2h0.5v0.5h-0.5zM371.4,307.2h0.5v0.5h-0.5zM398.7,304.4h0.5v0.5h-0.5zM406.2,324.2h0.5v0.5h-0.5zM393.4,326.2h0.5v0.5h-0.5zM398.2,324.2h0.5v0.5h-0.5zM391.4,320.2h0.5v0.5h-0.5zM373.9,325.4h0.5v0.5h-0.5zM400.4,308.4h0.5v0.5h-0.5zM363.2,327.2h0.5v0.5h-0.5zM407.7,308.9h0.5v0.5h-0.5zM379.2,307.4h0.5v0.5h-0.5zM399.9,325.7h0.5v0.5h-0.5zM377.4,327.2h0.5v0.5h-0.5zM364.7,307.7h0.5v0.5h-0.5zM399.2,323.9h0.5v0.5h-0.5zM379.7,324.4h0.5v0.5h-0.5zM407.9,319.4h0.5v0.5h-0.5zM339.9,306.2h0.5v0.5h-0.5zM407.9,316.4h0.5v0.5h-0.5zM354.9,331.2h0.5v0.5h-0.5zM393.7,309.9h0.5v0.5h-0.5zM359.7,306.9h0.5v0.5h-0.5zM348.9,305.9h0.5v0.5h-0.5zM338.7,333.4h0.5v0.5h-0.5zM392.9,323.4h0.5v0.5h-0.5zM404.4,319.7h0.5v0.5h-0.5zM387.4,325.2h0.5v0.5h-0.5zM339.2,334.7h0.5v0.5h-0.5zM372.7,304.7h0.5v0.5h-0.5zM393.2,320.4h0.5v0.5h-0.5zM395.2,309.9h0.5v0.5h-0.5zM392.2,322.9h0.5v0.5h-0.5zM390.7,308.4h0.5v0.5h-0.5zM407.2,312.7h0.5v0.5h-0.5zM347.4,305.7h0.5v0.5h-0.5zM394.7,323.7h0.5v0.5h-0.5zM354.2,327.4h0.5v0.5h-0.5zM403.4,323.2h0.5v0.5h-0.5zM387.2,322.9h0.5v0.5h-0.5zM410.7,307.9h0.5v0.5h-0.5zM383.2,323.2h0.5v0.5h-0.5zM402.9,320.9h0.5v0.5h-0.5zM345.4,332.7h0.5v0.5h-0.5zM386.4,322.9h0.5v0.5h-0.5zM401.7,305.9h0.5v0.5h-0.5zM406.9,308.7h0.5v0.5h-0.5zM391.7,320.4h0.5v0.5h-0.5zM392.9,305.7h0.5v0.5h-0.5zM410.7,313.9h0.5v0.5h-0.5zM355.2,303.9h0.5v0.5h-0.5zM384.4,308.2h0.5v0.5h-0.5zM409.9,322.9h0.5v0.5h-0.5zM345.2,331.2h0.5v0.5h-0.5zM408.7,307.4h0.5v0.5h-0.5zM359.9,305.7h0.5v0.5h-0.5zM410.4,308.2h0.5v0.5h-0.5zM347.7,307.2h0.5v0.5h-0.5zM350.4,305.2h0.5v0.5h-0.5zM392.9,308.2h0.5v0.5h-0.5zM367.2,306.2h0.5v0.5h-0.5zM387.4,309.2h0.5v0.5h-0.5zM378.7,303.9h0.5v0.5h-0.5zM357.2,327.4h0.5v0.5h-0.5zM375.4,305.4h0.5v0.5h-0.5zM406.9,310.7h0.5v0.5h-0.5zM405.9,311.2h0.5v0.5h-0.5zM338.9,333.7h0.5v0.5h-0.5zM344.4,304.9h0.5v0.5h-0.5zM350.4,329.7h0.5v0.5h-0.5zM368.2,305.9h0.5v0.5h-0.5zM397.2,308.2h0.5v0.5h-0.5zM410.2,315.7h0.5v0.5h-0.5zM374.2,305.9h0.5v0.5h-0.5zM385.7,326.2h0.5v0.5h-0.5zM377.2,324.2h0.5v0.5h-0.5zM392.2,322.9h0.5v0.5h-0.5zM406.2,320.9h0.5v0.5h-0.5zM390.2,322.9h0.5v0.5h-0.5zM367.4,327.9h0.5v0.5h-0.5zM393.4,307.9h0.5v0.5h-0.5zM402.4,323.4h0.5v0.5h-0.5zM373.2,307.2h0.5v0.5h-0.5zM375.9,306.7h0.5v0.5h-0.5zM374.2,306.7h0.5v0.5h-0.5zM405.4,319.9h0.5v0.5h-0.5zM375.4,304.9h0.5v0.5h-0.5zM404.9,310.9h0.5v0.5h-0.5zM373.7,304.9h0.5v0.5h-0.5zM403.2,305.9h0.5v0.5h-0.5zM400.7,308.2h0.5v0.5h-0.5zM390.4,309.7h0.5v0.5h-0.5zM409.9,310.7h0.5v0.5h-0.5zM408.4,318.9h0.5v0.5h-0.5zM402.9,308.4h0.5v0.5h-0.5zM370.4,326.2h0.5v0.5h-0.5zM389.7,308.7h0.5v0.5h-0.5zM411.2,310.2h0.5v0.5h-0.5zM352.7,307.4h0.5v0.5h-0.5zM401.7,318.9h0.5v0.5h-0.5zM384.9,324.9h0.5v0.5h-0.5zM347.7,329.9h0.5v0.5h-0.5zM404.2,308.4h0.5v0.5h-0.5zM341.4,333.2h0.5v0.5h-0.5zM381.2,304.9h0.5v0.5h-0.5zM393.4,305.2h0.5v0.5h-0.5zM344.2,305.9h0.5v0.5h-0.5zM341.2,305.9h0.5v0.5h-0.5zM356.7,303.9h0.5v0.5h-0.5zM370.2,307.4h0.5v0.5h-0.5zM373.2,326.9h0.5v0.5h-0.5zM343.2,305.9h0.5v0.5h-0.5zM381.2,307.7h0.5v0.5h-0.5zM362.4,306.4h0.5v0.5h-0.5zM376.9,306.2h0.5v0.5h-0.5zM372.4,327.2h0.5v0.5h-0.5zM407.4,309.7h0.5v0.5h-0.5zM382.9,307.9h0.5v0.5h-0.5zM364.4,304.4h0.5v0.5h-0.5zM406.9,304.2h0.5v0.5h-0.5zM399.7,325.4h0.5v0.5h-0.5zM359.4,307.7h0.5v0.5h-0.5zM339.7,335.2h0.5v0.5h-0.5zM363.4,304.9h0.5v0.5h-0.5zM369.7,306.4h0.5v0.5h-0.5zM344.7,305.2h0.5v0.5h-0.5zM357.7,327.9h0.5v0.5h-0.5zM403.2,319.9h0.5v0.5h-0.5zM404.7,306.9h0.5v0.5h-0.5zM392.2,305.9h0.5v0.5h-0.5zM387.9,321.2h0.5v0.5h-0.5zM369.7,304.4h0.5v0.5h-0.5zM360.2,307.7h0.5v0.5h-0.5zM337.2,307.4h0.5v0.5h-0.5zM390.4,309.7h0.5v0.5h-0.5zM407.9,307.7h0.5v0.5h-0.5zM373.2,305.7h0.5v0.5h-0.5zM373.2,324.9h0.5v0.5h-0.5zM391.2,306.2h0.5v0.5h-0.5zM410.4,323.7h0.5v0.5h-0.5zM362.4,326.7h0.5v0.5h-0.5zM399.2,304.4h0.5v0.5h-0.5zM373.9,327.9h0.5v0.5h-0.5zM400.4,324.7h0.5v0.5h-0.5zM360.2,305.4h0.5v0.5h-0.5zM411.4,307.4h0.5v0.5h-0.5zM357.9,307.2h0.5v0.5h-0.5zM392.7,306.7h0.5v0.5h-0.5zM333.9,333.7h0.5v0.5h-0.5zM385.4,308.4h0.5v0.5h-0.5zM411.4,316.9h0.5v0.5h-0.5zM380.4,306.7h0.5v0.5h-0.5zM346.2,330.7h0.5v0.5h-0.5zM403.2,307.4h0.5v0.5h-0.5zM345.9,303.9h0.5v0.5h-0.5zM397.4,324.2h0.5v0.5h-0.5zM402.9,308.2h0.5v0.5h-0.5zM399.2,322.2h0.5v0.5h-0.5zM409.4,305.2h0.5v0.5h-0.5zM343.4,335.4h0.5v0.5h-0.5zM408.2,310.2h0.5v0.5h-0.5zM405.2,309.2h0.5v0.5h-0.5zM344.9,307.4h0.5v0.5h-0.5zM378.9,325.4h0.5v0.5h-0.5zM349.4,307.2h0.5v0.5h-0.5zM392.9,322.2h0.5v0.5h-0.5zM403.7,324.4h0.5v0.5h-0.5zM404.4,320.7h0.5v0.5h-0.5zM406.9,307.7h0.5v0.5h-0.5zM380.4,307.9h0.5v0.5h-0.5zM371.4,307.4h0.5v0.5h-0.5zM385.9,305.7h0.5v0.5h-0.5zM368.4,305.9h0.5v0.5h-0.5zM393.4,323.9h0.5v0.5h-0.5zM340.2,335.4h0.5v0.5h-0.5zM359.7,303.9h0.5v0.5h-0.5zM364.9,307.2h0.5v0.5h-0.5zM344.7,304.9h0.5v0.5h-0.5zM370.7,326.2h0.5v0.5h-0.5zM404.4,320.7h0.5v0.5h-0.5zM358.9,330.2h0.5v0.5h-0.5zM395.7,320.9h0.5v0.5h-0.5z" fill="#ffffff"/>
<rect x="310.20" y="284.20" width="102.30" height="86.80" fill="none" stroke="#444" stroke-width="0.8"/>
<line x1="310.20" y1="295.10" x2="412.50" y2="295.10" stroke="#444" stroke-width="0.8"/>
<text x="361.35" y="292.60" font-size="7.6" text-anchor="middle" fill="#1a1a1a">shHDAC3</text>
<line x1="351.30" y1="295.10" x2="351.30" y2="371.00" stroke="#555" stroke-width="0.9"/>
<line x1="308.00" y1="284.20" x2="310.20" y2="284.20" stroke="#111" stroke-width="1.3"/>
<text x="306.30" y="287.00" font-size="7.8" text-anchor="end" fill="#262626">10<tspan font-size="4.8" dy="-3.3">6</tspan></text>
<line x1="308.00" y1="319.10" x2="310.20" y2="319.10" stroke="#111" stroke-width="1.3"/>
<text x="306.30" y="321.90" font-size="7.8" text-anchor="end" fill="#262626">10<tspan font-size="4.8" dy="-3.3">5</tspan></text>
<line x1="308.00" y1="353.90" x2="310.20" y2="353.90" stroke="#111" stroke-width="1.3"/>
<text x="306.30" y="356.70" font-size="7.8" text-anchor="end" fill="#262626">10<tspan font-size="4.8" dy="-3.3">4</tspan></text>
<line x1="308.90" y1="308.59" x2="310.20" y2="308.59" stroke="#333" stroke-width="0.5"/>
<line x1="308.90" y1="302.45" x2="310.20" y2="302.45" stroke="#333" stroke-width="0.5"/>
<line x1="308.90" y1="298.09" x2="310.20" y2="298.09" stroke="#333" stroke-width="0.5"/>
<line x1="308.90" y1="294.71" x2="310.20" y2="294.71" stroke="#333" stroke-width="0.5"/>
<line x1="308.90" y1="291.94" x2="310.20" y2="291.94" stroke="#333" stroke-width="0.5"/>
<line x1="308.90" y1="289.61" x2="310.20" y2="289.61" stroke="#333" stroke-width="0.5"/>
<line x1="308.90" y1="287.58" x2="310.20" y2="287.58" stroke="#333" stroke-width="0.5"/>
<line x1="308.90" y1="285.80" x2="310.20" y2="285.80" stroke="#333" stroke-width="0.5"/>
<line x1="308.90" y1="343.49" x2="310.20" y2="343.49" stroke="#333" stroke-width="0.5"/>
<line x1="308.90" y1="337.35" x2="310.20" y2="337.35" stroke="#333" stroke-width="0.5"/>
<line x1="308.90" y1="332.99" x2="310.20" y2="332.99" stroke="#333" stroke-width="0.5"/>
<line x1="308.90" y1="329.61" x2="310.20" y2="329.61" stroke="#333" stroke-width="0.5"/>
<line x1="308.90" y1="326.84" x2="310.20" y2="326.84" stroke="#333" stroke-width="0.5"/>
<line x1="308.90" y1="324.51" x2="310.20" y2="324.51" stroke="#333" stroke-width="0.5"/>
<line x1="308.90" y1="322.48" x2="310.20" y2="322.48" stroke="#333" stroke-width="0.5"/>
<line x1="308.90" y1="320.70" x2="310.20" y2="320.70" stroke="#333" stroke-width="0.5"/>
<line x1="308.90" y1="367.79" x2="310.20" y2="367.79" stroke="#333" stroke-width="0.5"/>
<line x1="308.90" y1="364.41" x2="310.20" y2="364.41" stroke="#333" stroke-width="0.5"/>
<line x1="308.90" y1="361.64" x2="310.20" y2="361.64" stroke="#333" stroke-width="0.5"/>
<line x1="308.90" y1="359.31" x2="310.20" y2="359.31" stroke="#333" stroke-width="0.5"/>
<line x1="308.90" y1="357.28" x2="310.20" y2="357.28" stroke="#333" stroke-width="0.5"/>
<line x1="308.90" y1="355.50" x2="310.20" y2="355.50" stroke="#333" stroke-width="0.5"/>
<text x="292.90" y="327.80" font-size="7.4" text-anchor="middle" fill="#262626" transform="rotate(-90 292.90 327.80)">SSC-A</text>
<text x="315.10" y="384.40" font-size="7.6" text-anchor="middle" fill="#262626">-10<tspan font-size="4.8" dy="-3.3">3</tspan></text>
<text x="334.00" y="384.40" font-size="7.5" text-anchor="middle" fill="#262626">0</text>
<text x="352.10" y="384.40" font-size="7.6" text-anchor="middle" fill="#262626">10<tspan font-size="4.8" dy="-3.3">3</tspan></text>
<text x="379.30" y="384.40" font-size="7.6" text-anchor="middle" fill="#262626">10<tspan font-size="4.8" dy="-3.3">4</tspan></text>
<text x="402.40" y="384.40" font-size="7.6" text-anchor="middle" fill="#262626">10<tspan font-size="4.8" dy="-3.3">5</tspan></text>
<line x1="313.70" y1="371.00" x2="313.70" y2="373.00" stroke="#111" stroke-width="1.0"/>
<line x1="333.50" y1="371.00" x2="333.50" y2="373.00" stroke="#111" stroke-width="1.0"/>
<line x1="351.50" y1="371.00" x2="351.50" y2="373.00" stroke="#111" stroke-width="1.0"/>
<line x1="379.10" y1="371.00" x2="379.10" y2="373.00" stroke="#111" stroke-width="1.0"/>
<line x1="404.50" y1="371.00" x2="404.50" y2="373.00" stroke="#111" stroke-width="1.0"/>
<line x1="324.20" y1="371.00" x2="324.20" y2="372.40" stroke="#111" stroke-width="0.5"/>
<line x1="325.58" y1="371.00" x2="325.58" y2="372.40" stroke="#111" stroke-width="0.5"/>
<line x1="326.97" y1="371.00" x2="326.97" y2="372.40" stroke="#111" stroke-width="0.5"/>
<line x1="328.35" y1="371.00" x2="328.35" y2="372.40" stroke="#111" stroke-width="0.5"/>
<line x1="329.74" y1="371.00" x2="329.74" y2="372.40" stroke="#111" stroke-width="0.5"/>
<line x1="331.12" y1="371.00" x2="331.12" y2="372.40" stroke="#111" stroke-width="0.5"/>
<line x1="332.51" y1="371.00" x2="332.51" y2="372.40" stroke="#111" stroke-width="0.5"/>
<line x1="333.89" y1="371.00" x2="333.89" y2="372.40" stroke="#111" stroke-width="0.5"/>
<line x1="335.28" y1="371.00" x2="335.28" y2="372.40" stroke="#111" stroke-width="0.5"/>
<line x1="336.66" y1="371.00" x2="336.66" y2="372.40" stroke="#111" stroke-width="0.5"/>
<line x1="338.05" y1="371.00" x2="338.05" y2="372.40" stroke="#111" stroke-width="0.5"/>
<line x1="339.43" y1="371.00" x2="339.43" y2="372.40" stroke="#111" stroke-width="0.5"/>
<line x1="340.82" y1="371.00" x2="340.82" y2="372.40" stroke="#111" stroke-width="0.5"/>
<line x1="342.20" y1="371.00" x2="342.20" y2="372.40" stroke="#111" stroke-width="0.5"/>
<rect x="329.80" y="371.00" width="6.00" height="1.80" fill="#111"/>
<text x="360.60" y="392.00" font-size="7.7" text-anchor="middle" fill="#262626">AnnexinV-PE fluorescence</text>
<text x="312.50" y="359.20" font-size="7.8" fill="#1a1a1a">AnnexinV-</text>
<text x="312.50" y="368.10" font-size="7.8" fill="#1a1a1a">61.8%</text>
<text x="411.10" y="359.20" font-size="7.8" text-anchor="end" fill="#1a1a1a">AnnexinV+</text>
<text x="411.10" y="368.10" font-size="7.8" text-anchor="end" fill="#1a1a1a">38.2%</text>
<path d="M481.6,332.2h0.5v0.5h-0.5zM475.8,332.4h0.5v0.5h-0.5zM527.3,325.2h0.5v0.5h-0.5zM492.3,329.7h0.5v0.5h-0.5zM546.3,322.9h0.5v0.5h-0.5zM490.3,330.2h0.5v0.5h-0.5zM546.8,319.9h0.5v0.5h-0.5zM521.0,326.7h0.5v0.5h-0.5zM526.3,322.9h0.5v0.5h-0.5zM510.8,327.9h0.5v0.5h-0.5zM545.5,323.2h0.5v0.5h-0.5zM529.3,324.2h0.5v0.5h-0.5zM473.1,331.7h0.5v0.5h-0.5zM530.0,325.9h0.5v0.5h-0.5zM522.5,327.2h0.5v0.5h-0.5zM544.3,322.7h0.5v0.5h-0.5zM541.5,320.7h0.5v0.5h-0.5zM486.8,329.2h0.5v0.5h-0.5zM532.5,324.2h0.5v0.5h-0.5zM534.8,322.9h0.5v0.5h-0.5zM512.5,327.2h0.5v0.5h-0.5zM535.8,323.7h0.5v0.5h-0.5zM510.1,330.4h0.5v0.5h-0.5zM505.1,329.4h0.5v0.5h-0.5zM498.8,328.4h0.5v0.5h-0.5zM499.1,332.2h0.5v0.5h-0.5zM471.6,330.2h0.5v0.5h-0.5zM495.6,330.4h0.5v0.5h-0.5zM476.1,335.4h0.5v0.5h-0.5zM483.6,332.9h0.5v0.5h-0.5zM505.8,327.7h0.5v0.5h-0.5zM521.0,327.7h0.5v0.5h-0.5zM514.8,326.2h0.5v0.5h-0.5zM514.5,329.2h0.5v0.5h-0.5zM492.6,329.2h0.5v0.5h-0.5zM513.3,328.9h0.5v0.5h-0.5zM529.5,323.4h0.5v0.5h-0.5zM509.6,326.9h0.5v0.5h-0.5zM524.5,323.2h0.5v0.5h-0.5zM541.8,321.2h0.5v0.5h-0.5zM522.3,324.9h0.5v0.5h-0.5zM487.1,329.2h0.5v0.5h-0.5zM481.8,330.9h0.5v0.5h-0.5zM530.5,321.9h0.5v0.5h-0.5zM506.6,328.9h0.5v0.5h-0.5zM477.6,334.9h0.5v0.5h-0.5zM481.1,330.2h0.5v0.5h-0.5zM535.0,325.2h0.5v0.5h-0.5zM492.3,329.7h0.5v0.5h-0.5zM492.3,328.9h0.5v0.5h-0.5zM506.1,330.2h0.5v0.5h-0.5zM476.1,332.2h0.5v0.5h-0.5zM546.0,322.7h0.5v0.5h-0.5zM495.1,330.2h0.5v0.5h-0.5zM501.6,330.4h0.5v0.5h-0.5zM500.3,330.2h0.5v0.5h-0.5zM471.3,332.7h0.5v0.5h-0.5zM526.0,324.2h0.5v0.5h-0.5zM533.5,321.7h0.5v0.5h-0.5zM535.8,322.9h0.5v0.5h-0.5zM499.1,331.9h0.5v0.5h-0.5zM525.0,324.2h0.5v0.5h-0.5zM478.6,332.4h0.5v0.5h-0.5zM523.3,324.4h0.5v0.5h-0.5zM525.0,327.2h0.5v0.5h-0.5zM530.8,323.4h0.5v0.5h-0.5zM478.8,331.9h0.5v0.5h-0.5zM490.8,329.4h0.5v0.5h-0.5zM476.1,333.2h0.5v0.5h-0.5zM511.8,329.4h0.5v0.5h-0.5zM482.3,330.7h0.5v0.5h-0.5zM515.3,326.7h0.5v0.5h-0.5zM481.1,333.9h0.5v0.5h-0.5zM487.6,331.9h0.5v0.5h-0.5zM531.0,324.9h0.5v0.5h-0.5zM478.1,333.2h0.5v0.5h-0.5zM529.8,322.2h0.5v0.5h-0.5zM472.6,333.9h0.5v0.5h-0.5zM521.0,326.4h0.5v0.5h-0.5zM487.1,329.4h0.5v0.5h-0.5zM535.3,325.2h0.5v0.5h-0.5zM511.8,327.9h0.5v0.5h-0.5zM481.1,330.2h0.5v0.5h-0.5zM504.8,328.2h0.5v0.5h-0.5zM530.3,322.4h0.5v0.5h-0.5zM478.3,331.2h0.5v0.5h-0.5zM484.3,330.4h0.5v0.5h-0.5zM522.0,324.7h0.5v0.5h-0.5zM472.3,332.4h0.5v0.5h-0.5zM491.8,329.2h0.5v0.5h-0.5zM523.8,324.9h0.5v0.5h-0.5zM529.0,324.9h0.5v0.5h-0.5zM509.1,326.9h0.5v0.5h-0.5zM510.3,327.7h0.5v0.5h-0.5zM516.0,326.4h0.5v0.5h-0.5zM491.8,329.9h0.5v0.5h-0.5zM535.3,322.7h0.5v0.5h-0.5zM481.1,332.4h0.5v0.5h-0.5zM474.8,331.7h0.5v0.5h-0.5zM503.3,328.4h0.5v0.5h-0.5zM532.5,325.2h0.5v0.5h-0.5zM480.6,334.4h0.5v0.5h-0.5zM515.8,326.2h0.5v0.5h-0.5zM516.3,325.7h0.5v0.5h-0.5zM544.0,321.4h0.5v0.5h-0.5zM525.3,323.9h0.5v0.5h-0.5zM471.1,332.7h0.5v0.5h-0.5zM534.8,322.7h0.5v0.5h-0.5zM529.0,322.4h0.5v0.5h-0.5zM530.5,324.2h0.5v0.5h-0.5zM508.8,327.2h0.5v0.5h-0.5zM539.0,324.7h0.5v0.5h-0.5zM531.8,321.9h0.5v0.5h-0.5zM520.8,328.4h0.5v0.5h-0.5zM527.0,324.4h0.5v0.5h-0.5zM512.5,328.7h0.5v0.5h-0.5zM519.8,328.2h0.5v0.5h-0.5zM530.5,322.9h0.5v0.5h-0.5zM534.3,321.4h0.5v0.5h-0.5zM545.5,320.9h0.5v0.5h-0.5zM515.5,325.9h0.5v0.5h-0.5zM542.8,321.7h0.5v0.5h-0.5zM491.8,328.4h0.5v0.5h-0.5zM500.8,330.4h0.5v0.5h-0.5zM509.1,330.4h0.5v0.5h-0.5zM492.6,331.2h0.5v0.5h-0.5zM502.3,329.9h0.5v0.5h-0.5zM545.3,321.4h0.5v0.5h-0.5zM496.8,328.4h0.5v0.5h-0.5zM470.6,330.9h0.5v0.5h-0.5zM478.1,331.2h0.5v0.5h-0.5zM514.3,327.4h0.5v0.5h-0.5zM514.0,328.2h0.5v0.5h-0.5zM480.8,333.4h0.5v0.5h-0.5zM547.5,322.4h0.5v0.5h-0.5zM524.3,324.7h0.5v0.5h-0.5zM503.8,327.7h0.5v0.5h-0.5zM479.1,334.2h0.5v0.5h-0.5zM502.1,331.7h0.5v0.5h-0.5zM475.8,331.9h0.5v0.5h-0.5zM504.6,329.9h0.5v0.5h-0.5zM522.0,326.9h0.5v0.5h-0.5zM498.8,329.4h0.5v0.5h-0.5zM487.1,330.4h0.5v0.5h-0.5zM531.0,323.4h0.5v0.5h-0.5zM502.1,328.4h0.5v0.5h-0.5zM546.0,319.9h0.5v0.5h-0.5zM490.3,329.7h0.5v0.5h-0.5zM524.5,324.9h0.5v0.5h-0.5zM477.6,331.4h0.5v0.5h-0.5zM494.3,329.7h0.5v0.5h-0.5zM488.1,332.4h0.5v0.5h-0.5zM522.0,325.7h0.5v0.5h-0.5zM544.0,321.2h0.5v0.5h-0.5zM503.8,329.2h0.5v0.5h-0.5zM523.0,323.7h0.5v0.5h-0.5zM479.8,331.2h0.5v0.5h-0.5zM470.6,333.7h0.5v0.5h-0.5zM545.0,321.7h0.5v0.5h-0.5zM487.8,331.4h0.5v0.5h-0.5z" fill="#3a3aff"/>
<path d="M469.7,328.8 471.4,330.1 471.9,330.1 473.4,330.8 474.2,330.8 474.4,331.1 477.9,331.1 478.2,330.8 480.2,330.3 482.7,329.1 483.2,329.1 484.2,328.6 484.9,328.6 485.2,328.3 494.9,328.3 495.2,328.1 499.7,328.1 499.9,327.8 502.4,327.8 502.7,327.6 506.4,327.3 506.7,327.1 507.9,327.1 508.2,326.8 509.4,326.8 509.7,326.6 513.2,326.1 513.4,325.8 514.2,325.8 514.4,325.6 515.2,325.6 515.4,325.3 516.2,325.3 516.4,325.1 517.2,325.1 517.4,324.8 518.2,324.8 518.4,324.6 519.2,324.6 519.4,324.3 520.2,324.3 520.4,324.1 521.2,324.1 521.4,323.8 522.2,323.8 522.4,323.6 523.2,323.6 524.4,323.1 525.4,323.1 526.7,322.6 528.9,322.3 529.2,322.1 530.4,322.1 530.7,321.8 531.9,321.8 532.2,321.6 533.7,321.6 533.9,321.3 535.4,321.3 535.7,321.1 537.4,321.1 537.7,320.8 539.4,320.8 539.7,320.6 541.2,320.6 541.4,320.3 542.9,320.3 543.2,320.1 544.7,320.1 544.9,319.8 545.9,319.8 546.2,319.6 547.9,319.3 548.2,319.1 548.2,304.1 477.9,304.1 477.7,304.3 475.7,304.6 473.7,305.6 471.9,307.1 470.4,309.6 470.2,311.8 469.7,312.1Z" fill="#2a2aff" fill-rule="evenodd"/>
<path d="M548.2,308.1 547.4,307.6 546.9,307.6 546.2,307.1 545.4,307.1 545.2,306.8 544.2,306.8 543.9,306.6 540.7,306.6 540.4,306.3 539.2,306.3 538.9,306.6 532.2,306.6 531.9,306.8 525.7,306.8 525.4,307.1 504.2,307.1 503.9,307.3 498.4,307.3 498.2,307.6 491.9,307.6 491.7,307.8 488.2,307.8 487.9,308.1 483.4,308.1 481.4,307.3 478.4,307.3 478.2,307.6 475.9,307.8 472.9,309.1 472.2,309.6 470.2,311.8 469.7,312.8 469.7,320.6 470.2,321.6 470.2,322.3 470.4,322.6 470.9,324.6 471.4,325.3 472.7,326.3 475.4,326.3 475.7,326.1 477.4,325.8 478.9,325.1 479.4,325.1 481.7,323.8 482.2,323.8 483.2,323.3 484.2,323.3 484.4,323.1 496.7,323.3 496.9,323.1 500.2,323.1 500.4,322.8 502.7,322.8 502.9,322.6 506.2,322.3 506.4,322.1 509.9,321.6 511.2,321.1 512.2,321.1 514.2,320.3 514.9,320.3 515.2,320.1 515.9,320.1 517.9,319.3 518.7,319.3 518.9,319.1 519.7,319.1 520.9,318.6 521.9,318.6 523.2,318.1 524.2,318.1 524.4,317.8 525.4,317.8 525.7,317.6 526.9,317.6 527.2,317.3 528.4,317.3 528.7,317.1 533.7,316.6 533.9,316.3 535.7,316.3 535.9,316.1 539.7,315.8 539.9,315.6 542.7,315.3 542.9,315.1 543.7,315.1 543.9,314.8 544.7,314.8 544.9,314.6 546.2,314.3 548.2,313.1Z" fill="#3a8cff" fill-rule="evenodd"/>
<path d="M470.4,317.8 470.7,318.1 470.7,319.8 470.9,320.1 471.2,322.8 471.9,324.6 472.9,325.3 475.2,325.3 481.2,322.3 481.7,322.3 482.7,321.8 483.7,321.8 483.9,321.6 487.4,321.6 487.7,321.8 492.2,321.8 492.4,322.1 494.9,322.1 495.2,321.8 499.7,321.8 499.9,321.6 501.9,321.6 502.2,321.3 503.9,321.3 504.2,321.1 505.4,321.1 505.7,320.8 508.2,320.6 508.4,320.3 512.2,319.6 513.2,319.1 513.9,319.1 514.9,318.6 515.7,318.6 517.4,317.8 518.2,317.8 520.2,317.1 520.9,317.1 522.2,316.6 523.2,316.6 524.4,316.1 526.9,315.8 527.2,315.6 529.7,315.3 529.9,315.1 531.4,315.1 531.7,314.8 536.7,314.3 536.9,314.1 538.2,314.1 538.4,313.8 539.7,313.8 539.9,313.6 541.9,313.3 544.4,312.3 545.4,311.3 545.7,310.6 545.4,310.1 544.2,309.1 543.7,309.1 542.7,308.6 541.2,308.6 540.9,308.3 532.9,308.3 532.7,308.6 502.7,308.6 502.4,308.8 497.9,308.8 497.7,309.1 488.9,309.3 488.7,309.6 486.4,309.6 486.2,309.8 483.7,309.8 481.2,308.6 479.4,308.3 479.2,308.6 477.9,308.6 477.7,308.8 476.4,309.1 473.9,310.3 472.2,311.8 471.4,312.8 470.7,314.6 470.7,315.6 470.4,315.8Z" fill="#40d8ea" fill-rule="evenodd"/>
<path d="M471.7,321.3 471.9,321.6 471.9,322.6 472.4,323.6 473.2,324.3 475.2,324.3 476.7,323.6 480.4,320.8 482.2,320.1 483.4,320.1 483.7,319.8 484.7,319.8 484.9,320.1 487.4,320.1 487.7,320.3 489.9,320.3 490.2,320.6 498.4,320.6 498.7,320.3 500.9,320.3 501.2,320.1 504.4,319.8 504.7,319.6 505.7,319.6 505.9,319.3 506.9,319.3 507.2,319.1 508.9,318.8 509.2,318.6 514.2,317.1 516.9,315.8 518.2,315.6 518.9,315.1 521.4,314.3 524.7,312.8 524.9,312.6 524.9,312.1 523.7,311.6 521.2,311.3 520.9,311.1 516.9,310.8 516.7,310.6 514.2,310.6 513.9,310.3 509.7,310.3 509.4,310.1 499.4,310.3 499.2,310.6 493.4,310.6 493.2,310.8 487.9,311.1 487.7,311.3 486.2,311.3 485.9,311.6 483.2,311.6 480.2,309.6 478.4,309.6 475.7,310.8 474.7,311.6 472.9,313.6 472.2,315.1 471.9,317.3 471.7,317.6Z" fill="#4ee05a" fill-rule="evenodd"/>
<path d="M472.7,322.1 473.7,323.3 475.2,323.3 477.2,322.1 480.9,318.1 481.9,317.3 482.7,317.3 482.9,317.1 483.4,317.3 484.4,317.3 486.4,318.1 487.2,318.1 487.4,318.3 488.2,318.3 488.4,318.6 489.7,318.6 489.9,318.8 492.2,318.8 492.4,319.1 496.7,319.1 496.9,318.8 499.4,318.8 499.7,318.6 501.2,318.6 501.4,318.3 503.7,318.1 503.9,317.8 504.7,317.8 504.9,317.6 506.4,317.3 507.2,316.8 507.7,316.8 509.9,315.6 510.7,314.8 510.9,314.1 509.7,313.1 507.9,312.8 507.7,312.6 505.9,312.6 505.7,312.3 494.4,312.3 494.2,312.6 491.2,312.6 490.9,312.8 489.4,312.8 489.2,313.1 488.2,313.1 487.9,313.3 487.2,313.3 485.4,314.1 484.7,314.1 484.4,314.3 483.2,314.6 481.7,313.3 481.4,312.6 480.2,311.1 479.7,310.8 477.9,310.8 476.2,311.8 474.4,313.6 473.4,315.3 473.4,315.8 472.9,316.8 472.9,317.6 472.7,317.8 472.7,319.3 472.4,319.6Z" fill="#d8ec30" fill-rule="evenodd"/>
<path d="M489.9,315.6 489.9,316.1 490.9,316.8 493.4,317.1 493.7,317.3 495.7,317.3 495.9,317.1 497.9,317.1 498.2,316.8 499.2,316.8 499.4,316.6 500.7,316.3 501.4,315.8 501.4,315.1 500.2,314.6 498.7,314.6 498.4,314.3 493.2,314.3 492.9,314.6 490.9,314.8ZM479.4,311.8 477.7,311.8 476.4,312.6 475.2,313.8 473.7,316.6 473.4,318.1 473.2,318.3 473.2,321.1 473.4,321.3 473.4,321.8 474.4,322.6 476.4,321.8 478.2,320.1 479.4,318.3 480.4,316.3 480.7,314.1 480.4,313.8 480.2,312.6Z" fill="#ffa020" fill-rule="evenodd"/>
<path d="M478.9,312.6 477.7,312.6 476.4,313.3 474.7,315.6 474.4,316.6 473.9,317.3 473.9,318.3 473.7,318.6 473.7,320.6 474.4,321.6 475.7,321.6 476.4,321.1 478.4,318.8 479.7,316.1 479.7,313.6Z" fill="#f52a10" fill-rule="evenodd"/>
<path d="M484.1,305.7h0.5v0.5h-0.5zM514.3,322.7h0.5v0.5h-0.5zM515.5,324.4h0.5v0.5h-0.5zM524.0,320.4h0.5v0.5h-0.5zM506.3,323.9h0.5v0.5h-0.5zM496.6,326.7h0.5v0.5h-0.5zM481.3,303.9h0.5v0.5h-0.5zM534.0,319.7h0.5v0.5h-0.5zM516.3,304.7h0.5v0.5h-0.5zM485.6,304.2h0.5v0.5h-0.5zM477.8,330.2h0.5v0.5h-0.5zM509.6,326.2h0.5v0.5h-0.5zM546.0,319.2h0.5v0.5h-0.5zM483.8,325.2h0.5v0.5h-0.5zM513.0,325.9h0.5v0.5h-0.5zM497.8,304.4h0.5v0.5h-0.5zM486.1,304.7h0.5v0.5h-0.5zM528.0,319.4h0.5v0.5h-0.5zM495.1,325.2h0.5v0.5h-0.5zM489.1,304.7h0.5v0.5h-0.5zM535.5,319.2h0.5v0.5h-0.5zM476.6,328.4h0.5v0.5h-0.5zM480.1,304.9h0.5v0.5h-0.5zM499.8,324.7h0.5v0.5h-0.5zM497.8,304.2h0.5v0.5h-0.5zM514.5,324.4h0.5v0.5h-0.5zM520.3,322.7h0.5v0.5h-0.5zM479.6,329.9h0.5v0.5h-0.5zM504.6,325.9h0.5v0.5h-0.5zM512.3,324.2h0.5v0.5h-0.5zM479.8,329.4h0.5v0.5h-0.5zM530.5,303.9h0.5v0.5h-0.5zM523.0,322.7h0.5v0.5h-0.5zM510.8,325.2h0.5v0.5h-0.5zM504.3,304.4h0.5v0.5h-0.5zM485.6,327.9h0.5v0.5h-0.5zM489.3,325.2h0.5v0.5h-0.5zM517.8,303.9h0.5v0.5h-0.5zM524.0,321.9h0.5v0.5h-0.5zM530.8,320.9h0.5v0.5h-0.5zM492.6,327.7h0.5v0.5h-0.5zM540.3,320.4h0.5v0.5h-0.5zM470.3,326.2h0.5v0.5h-0.5zM507.6,326.4h0.5v0.5h-0.5zM542.5,303.9h0.5v0.5h-0.5zM474.1,328.4h0.5v0.5h-0.5zM494.8,304.4h0.5v0.5h-0.5zM538.8,319.9h0.5v0.5h-0.5zM490.1,327.7h0.5v0.5h-0.5zM499.1,305.2h0.5v0.5h-0.5zM506.6,326.7h0.5v0.5h-0.5zM521.3,304.4h0.5v0.5h-0.5zM535.0,318.2h0.5v0.5h-0.5zM531.3,319.7h0.5v0.5h-0.5zM510.6,324.7h0.5v0.5h-0.5zM484.8,304.7h0.5v0.5h-0.5zM530.3,304.4h0.5v0.5h-0.5zM500.1,324.7h0.5v0.5h-0.5zM534.0,304.2h0.5v0.5h-0.5zM487.1,325.9h0.5v0.5h-0.5zM476.1,329.2h0.5v0.5h-0.5zM510.3,326.2h0.5v0.5h-0.5zM497.8,325.4h0.5v0.5h-0.5zM533.5,318.4h0.5v0.5h-0.5zM499.6,326.7h0.5v0.5h-0.5zM541.3,317.4h0.5v0.5h-0.5zM489.3,304.4h0.5v0.5h-0.5zM512.3,303.9h0.5v0.5h-0.5zM477.8,304.4h0.5v0.5h-0.5zM472.6,328.9h0.5v0.5h-0.5zM527.8,304.4h0.5v0.5h-0.5zM518.3,304.4h0.5v0.5h-0.5zM469.8,325.2h0.5v0.5h-0.5zM493.8,305.4h0.5v0.5h-0.5zM486.3,326.2h0.5v0.5h-0.5zM487.6,325.7h0.5v0.5h-0.5zM487.3,326.9h0.5v0.5h-0.5zM480.6,328.4h0.5v0.5h-0.5zM483.3,326.4h0.5v0.5h-0.5zM544.5,317.4h0.5v0.5h-0.5zM491.6,327.4h0.5v0.5h-0.5zM512.0,324.2h0.5v0.5h-0.5zM511.1,323.7h0.5v0.5h-0.5zM477.8,329.7h0.5v0.5h-0.5zM481.1,326.9h0.5v0.5h-0.5zM514.8,323.2h0.5v0.5h-0.5zM520.0,322.7h0.5v0.5h-0.5zM528.8,304.7h0.5v0.5h-0.5zM480.3,305.2h0.5v0.5h-0.5zM531.8,320.9h0.5v0.5h-0.5zM508.3,305.2h0.5v0.5h-0.5zM475.6,330.7h0.5v0.5h-0.5zM488.8,327.7h0.5v0.5h-0.5zM538.0,304.2h0.5v0.5h-0.5zM538.3,318.4h0.5v0.5h-0.5zM484.1,325.7h0.5v0.5h-0.5zM531.5,319.4h0.5v0.5h-0.5zM527.5,321.9h0.5v0.5h-0.5zM480.1,327.7h0.5v0.5h-0.5zM537.0,319.9h0.5v0.5h-0.5zM504.8,324.4h0.5v0.5h-0.5zM513.8,325.7h0.5v0.5h-0.5zM533.8,321.2h0.5v0.5h-0.5zM516.8,322.7h0.5v0.5h-0.5zM519.8,322.7h0.5v0.5h-0.5zM501.6,303.9h0.5v0.5h-0.5zM496.8,305.2h0.5v0.5h-0.5zM498.3,304.2h0.5v0.5h-0.5zM471.6,327.2h0.5v0.5h-0.5zM526.3,320.4h0.5v0.5h-0.5zM538.8,318.4h0.5v0.5h-0.5zM515.0,322.2h0.5v0.5h-0.5zM518.8,304.9h0.5v0.5h-0.5zM519.5,320.9h0.5v0.5h-0.5zM531.0,320.4h0.5v0.5h-0.5zM540.5,304.2h0.5v0.5h-0.5zM486.8,304.7h0.5v0.5h-0.5zM478.8,328.4h0.5v0.5h-0.5zM494.6,326.4h0.5v0.5h-0.5zM513.0,324.2h0.5v0.5h-0.5zM538.3,320.2h0.5v0.5h-0.5zM492.1,304.4h0.5v0.5h-0.5zM495.8,303.9h0.5v0.5h-0.5zM517.8,304.9h0.5v0.5h-0.5zM534.3,304.2h0.5v0.5h-0.5zM526.0,304.9h0.5v0.5h-0.5zM501.1,305.2h0.5v0.5h-0.5zM527.5,319.9h0.5v0.5h-0.5zM510.3,325.9h0.5v0.5h-0.5zM532.0,318.7h0.5v0.5h-0.5zM523.5,303.9h0.5v0.5h-0.5zM479.6,327.4h0.5v0.5h-0.5zM493.1,326.2h0.5v0.5h-0.5zM528.8,319.2h0.5v0.5h-0.5zM494.6,304.4h0.5v0.5h-0.5zM505.6,324.4h0.5v0.5h-0.5zM489.6,305.2h0.5v0.5h-0.5zM500.8,305.2h0.5v0.5h-0.5zM520.0,322.4h0.5v0.5h-0.5zM527.0,304.2h0.5v0.5h-0.5zM480.6,304.7h0.5v0.5h-0.5zM547.0,304.7h0.5v0.5h-0.5zM505.6,304.2h0.5v0.5h-0.5zM510.8,304.4h0.5v0.5h-0.5zM542.5,317.4h0.5v0.5h-0.5zM525.3,320.2h0.5v0.5h-0.5zM488.8,326.2h0.5v0.5h-0.5zM542.8,318.9h0.5v0.5h-0.5zM519.3,321.4h0.5v0.5h-0.5zM506.8,324.4h0.5v0.5h-0.5zM511.8,304.7h0.5v0.5h-0.5zM470.6,328.7h0.5v0.5h-0.5zM481.6,304.4h0.5v0.5h-0.5zM478.3,305.2h0.5v0.5h-0.5zM524.0,321.2h0.5v0.5h-0.5zM474.6,330.2h0.5v0.5h-0.5zM521.5,320.9h0.5v0.5h-0.5zM521.3,322.2h0.5v0.5h-0.5zM517.8,323.4h0.5v0.5h-0.5zM486.8,325.2h0.5v0.5h-0.5zM479.3,305.2h0.5v0.5h-0.5zM474.6,305.7h0.5v0.5h-0.5zM518.8,303.9h0.5v0.5h-0.5zM527.5,319.9h0.5v0.5h-0.5zM531.3,304.2h0.5v0.5h-0.5zM524.3,304.7h0.5v0.5h-0.5zM527.0,322.4h0.5v0.5h-0.5zM540.3,319.2h0.5v0.5h-0.5zM515.3,325.2h0.5v0.5h-0.5zM546.8,304.7h0.5v0.5h-0.5zM490.6,326.7h0.5v0.5h-0.5zM519.0,324.4h0.5v0.5h-0.5zM525.3,304.2h0.5v0.5h-0.5zM532.3,318.7h0.5v0.5h-0.5zM526.8,321.7h0.5v0.5h-0.5zM514.0,322.9h0.5v0.5h-0.5zM502.8,303.9h0.5v0.5h-0.5zM484.6,326.9h0.5v0.5h-0.5zM530.5,304.2h0.5v0.5h-0.5zM476.6,304.2h0.5v0.5h-0.5zM537.0,320.9h0.5v0.5h-0.5zM509.8,304.9h0.5v0.5h-0.5zM504.8,325.9h0.5v0.5h-0.5zM541.0,317.7h0.5v0.5h-0.5zM547.8,304.2h0.5v0.5h-0.5zM507.8,304.2h0.5v0.5h-0.5zM543.3,317.7h0.5v0.5h-0.5zM521.3,303.9h0.5v0.5h-0.5zM478.3,327.7h0.5v0.5h-0.5zM480.8,304.9h0.5v0.5h-0.5zM485.8,305.7h0.5v0.5h-0.5zM528.3,319.7h0.5v0.5h-0.5zM483.8,326.2h0.5v0.5h-0.5zM528.0,320.4h0.5v0.5h-0.5zM529.5,304.7h0.5v0.5h-0.5zM539.5,318.4h0.5v0.5h-0.5zM542.8,303.9h0.5v0.5h-0.5zM516.8,304.4h0.5v0.5h-0.5zM515.0,304.2h0.5v0.5h-0.5zM545.8,316.4h0.5v0.5h-0.5zM526.8,320.2h0.5v0.5h-0.5zM520.0,322.4h0.5v0.5h-0.5zM489.1,305.4h0.5v0.5h-0.5zM480.8,328.2h0.5v0.5h-0.5zM496.8,327.4h0.5v0.5h-0.5zM481.3,305.2h0.5v0.5h-0.5zM491.1,304.9h0.5v0.5h-0.5zM539.5,319.7h0.5v0.5h-0.5zM501.1,327.7h0.5v0.5h-0.5zM504.6,324.7h0.5v0.5h-0.5zM546.5,304.4h0.5v0.5h-0.5zM502.8,304.9h0.5v0.5h-0.5zM537.8,318.9h0.5v0.5h-0.5zM525.5,320.4h0.5v0.5h-0.5zM488.3,326.2h0.5v0.5h-0.5zM494.8,304.2h0.5v0.5h-0.5zM501.1,325.4h0.5v0.5h-0.5zM480.3,327.9h0.5v0.5h-0.5zM500.3,304.7h0.5v0.5h-0.5zM484.1,325.4h0.5v0.5h-0.5zM499.1,327.4h0.5v0.5h-0.5zM489.1,303.9h0.5v0.5h-0.5zM510.1,324.9h0.5v0.5h-0.5zM511.1,324.9h0.5v0.5h-0.5zM491.3,325.7h0.5v0.5h-0.5zM514.0,304.9h0.5v0.5h-0.5zM535.8,319.7h0.5v0.5h-0.5zM495.6,304.4h0.5v0.5h-0.5zM495.3,326.9h0.5v0.5h-0.5zM492.3,328.2h0.5v0.5h-0.5zM489.1,327.2h0.5v0.5h-0.5zM517.0,321.7h0.5v0.5h-0.5zM484.6,305.2h0.5v0.5h-0.5zM540.3,317.9h0.5v0.5h-0.5zM508.8,304.4h0.5v0.5h-0.5zM473.1,328.7h0.5v0.5h-0.5zM497.3,304.2h0.5v0.5h-0.5zM536.3,318.7h0.5v0.5h-0.5zM546.3,318.4h0.5v0.5h-0.5zM529.0,321.2h0.5v0.5h-0.5zM527.3,321.4h0.5v0.5h-0.5zM509.1,325.2h0.5v0.5h-0.5zM476.3,304.9h0.5v0.5h-0.5zM511.1,305.2h0.5v0.5h-0.5zM469.6,327.4h0.5v0.5h-0.5zM501.3,304.2h0.5v0.5h-0.5zM474.6,330.2h0.5v0.5h-0.5zM545.8,317.7h0.5v0.5h-0.5zM482.1,325.9h0.5v0.5h-0.5zM527.0,321.9h0.5v0.5h-0.5zM486.3,305.4h0.5v0.5h-0.5zM517.5,324.4h0.5v0.5h-0.5zM495.1,324.9h0.5v0.5h-0.5zM507.1,304.7h0.5v0.5h-0.5zM498.3,325.2h0.5v0.5h-0.5zM537.8,318.2h0.5v0.5h-0.5zM513.5,304.9h0.5v0.5h-0.5zM534.0,320.7h0.5v0.5h-0.5zM495.8,304.2h0.5v0.5h-0.5zM496.3,303.9h0.5v0.5h-0.5z" fill="#ffffff"/>
<rect x="446.30" y="284.20" width="102.30" height="86.80" fill="none" stroke="#444" stroke-width="0.8"/>
<line x1="446.30" y1="295.10" x2="548.60" y2="295.10" stroke="#444" stroke-width="0.8"/>
<text x="497.45" y="292.60" font-size="7.6" text-anchor="middle" fill="#1a1a1a">shCREBBP</text>
<line x1="483.70" y1="295.10" x2="483.70" y2="371.00" stroke="#555" stroke-width="0.9"/>
<line x1="444.10" y1="284.20" x2="446.30" y2="284.20" stroke="#111" stroke-width="1.3"/>
<text x="442.40" y="287.00" font-size="7.8" text-anchor="end" fill="#262626">10<tspan font-size="4.8" dy="-3.3">6</tspan></text>
<line x1="444.10" y1="319.10" x2="446.30" y2="319.10" stroke="#111" stroke-width="1.3"/>
<text x="442.40" y="321.90" font-size="7.8" text-anchor="end" fill="#262626">10<tspan font-size="4.8" dy="-3.3">5</tspan></text>
<line x1="444.10" y1="353.90" x2="446.30" y2="353.90" stroke="#111" stroke-width="1.3"/>
<text x="442.40" y="356.70" font-size="7.8" text-anchor="end" fill="#262626">10<tspan font-size="4.8" dy="-3.3">4</tspan></text>
<line x1="445.00" y1="308.59" x2="446.30" y2="308.59" stroke="#333" stroke-width="0.5"/>
<line x1="445.00" y1="302.45" x2="446.30" y2="302.45" stroke="#333" stroke-width="0.5"/>
<line x1="445.00" y1="298.09" x2="446.30" y2="298.09" stroke="#333" stroke-width="0.5"/>
<line x1="445.00" y1="294.71" x2="446.30" y2="294.71" stroke="#333" stroke-width="0.5"/>
<line x1="445.00" y1="291.94" x2="446.30" y2="291.94" stroke="#333" stroke-width="0.5"/>
<line x1="445.00" y1="289.61" x2="446.30" y2="289.61" stroke="#333" stroke-width="0.5"/>
<line x1="445.00" y1="287.58" x2="446.30" y2="287.58" stroke="#333" stroke-width="0.5"/>
<line x1="445.00" y1="285.80" x2="446.30" y2="285.80" stroke="#333" stroke-width="0.5"/>
<line x1="445.00" y1="343.49" x2="446.30" y2="343.49" stroke="#333" stroke-width="0.5"/>
<line x1="445.00" y1="337.35" x2="446.30" y2="337.35" stroke="#333" stroke-width="0.5"/>
<line x1="445.00" y1="332.99" x2="446.30" y2="332.99" stroke="#333" stroke-width="0.5"/>
<line x1="445.00" y1="329.61" x2="446.30" y2="329.61" stroke="#333" stroke-width="0.5"/>
<line x1="445.00" y1="326.84" x2="446.30" y2="326.84" stroke="#333" stroke-width="0.5"/>
<line x1="445.00" y1="324.51" x2="446.30" y2="324.51" stroke="#333" stroke-width="0.5"/>
<line x1="445.00" y1="322.48" x2="446.30" y2="322.48" stroke="#333" stroke-width="0.5"/>
<line x1="445.00" y1="320.70" x2="446.30" y2="320.70" stroke="#333" stroke-width="0.5"/>
<line x1="445.00" y1="367.79" x2="446.30" y2="367.79" stroke="#333" stroke-width="0.5"/>
<line x1="445.00" y1="364.41" x2="446.30" y2="364.41" stroke="#333" stroke-width="0.5"/>
<line x1="445.00" y1="361.64" x2="446.30" y2="361.64" stroke="#333" stroke-width="0.5"/>
<line x1="445.00" y1="359.31" x2="446.30" y2="359.31" stroke="#333" stroke-width="0.5"/>
<line x1="445.00" y1="357.28" x2="446.30" y2="357.28" stroke="#333" stroke-width="0.5"/>
<line x1="445.00" y1="355.50" x2="446.30" y2="355.50" stroke="#333" stroke-width="0.5"/>
<text x="429.00" y="327.80" font-size="7.4" text-anchor="middle" fill="#262626" transform="rotate(-90 429.00 327.80)">SSC-A</text>
<text x="451.20" y="384.40" font-size="7.6" text-anchor="middle" fill="#262626">-10<tspan font-size="4.8" dy="-3.3">3</tspan></text>
<text x="470.10" y="384.40" font-size="7.5" text-anchor="middle" fill="#262626">0</text>
<text x="488.20" y="384.40" font-size="7.6" text-anchor="middle" fill="#262626">10<tspan font-size="4.8" dy="-3.3">3</tspan></text>
<text x="515.40" y="384.40" font-size="7.6" text-anchor="middle" fill="#262626">10<tspan font-size="4.8" dy="-3.3">4</tspan></text>
<text x="538.50" y="384.40" font-size="7.6" text-anchor="middle" fill="#262626">10<tspan font-size="4.8" dy="-3.3">5</tspan></text>
<line x1="449.80" y1="371.00" x2="449.80" y2="373.00" stroke="#111" stroke-width="1.0"/>
<line x1="469.60" y1="371.00" x2="469.60" y2="373.00" stroke="#111" stroke-width="1.0"/>
<line x1="487.60" y1="371.00" x2="487.60" y2="373.00" stroke="#111" stroke-width="1.0"/>
<line x1="515.20" y1="371.00" x2="515.20" y2="373.00" stroke="#111" stroke-width="1.0"/>
<line x1="540.60" y1="371.00" x2="540.60" y2="373.00" stroke="#111" stroke-width="1.0"/>
<line x1="460.30" y1="371.00" x2="460.30" y2="372.40" stroke="#111" stroke-width="0.5"/>
<line x1="461.68" y1="371.00" x2="461.68" y2="372.40" stroke="#111" stroke-width="0.5"/>
<line x1="463.07" y1="371.00" x2="463.07" y2="372.40" stroke="#111" stroke-width="0.5"/>
<line x1="464.45" y1="371.00" x2="464.45" y2="372.40" stroke="#111" stroke-width="0.5"/>
<line x1="465.84" y1="371.00" x2="465.84" y2="372.40" stroke="#111" stroke-width="0.5"/>
<line x1="467.22" y1="371.00" x2="467.22" y2="372.40" stroke="#111" stroke-width="0.5"/>
<line x1="468.61" y1="371.00" x2="468.61" y2="372.40" stroke="#111" stroke-width="0.5"/>
<line x1="469.99" y1="371.00" x2="469.99" y2="372.40" stroke="#111" stroke-width="0.5"/>
<line x1="471.38" y1="371.00" x2="471.38" y2="372.40" stroke="#111" stroke-width="0.5"/>
<line x1="472.76" y1="371.00" x2="472.76" y2="372.40" stroke="#111" stroke-width="0.5"/>
<line x1="474.15" y1="371.00" x2="474.15" y2="372.40" stroke="#111" stroke-width="0.5"/>
<line x1="475.53" y1="371.00" x2="475.53" y2="372.40" stroke="#111" stroke-width="0.5"/>
<line x1="476.92" y1="371.00" x2="476.92" y2="372.40" stroke="#111" stroke-width="0.5"/>
<line x1="478.30" y1="371.00" x2="478.30" y2="372.40" stroke="#111" stroke-width="0.5"/>
<rect x="465.90" y="371.00" width="6.00" height="1.80" fill="#111"/>
<text x="496.70" y="392.00" font-size="7.7" text-anchor="middle" fill="#262626">AnnexinV-PE fluorescence</text>
<text x="448.60" y="359.20" font-size="7.8" fill="#1a1a1a">AnnexinV-</text>
<text x="448.60" y="368.10" font-size="7.8" fill="#1a1a1a">20.4%</text>
<text x="547.20" y="359.20" font-size="7.8" text-anchor="end" fill="#1a1a1a">AnnexinV+</text>
<text x="547.20" y="368.10" font-size="7.8" text-anchor="end" fill="#1a1a1a">79.6%</text>
<path d="M646.8,308.4h0.5v0.5h-0.5zM678.3,309.4h0.5v0.5h-0.5zM602.0,330.4h0.5v0.5h-0.5zM656.3,338.9h0.5v0.5h-0.5zM657.0,311.2h0.5v0.5h-0.5zM682.0,324.2h0.5v0.5h-0.5zM603.8,336.2h0.5v0.5h-0.5zM669.8,337.2h0.5v0.5h-0.5zM647.5,310.2h0.5v0.5h-0.5zM630.8,312.4h0.5v0.5h-0.5zM635.5,310.7h0.5v0.5h-0.5zM682.0,319.9h0.5v0.5h-0.5zM632.8,340.9h0.5v0.5h-0.5zM652.0,309.7h0.5v0.5h-0.5zM605.8,317.4h0.5v0.5h-0.5zM627.3,339.4h0.5v0.5h-0.5zM602.0,323.7h0.5v0.5h-0.5zM680.5,330.9h0.5v0.5h-0.5zM637.3,339.4h0.5v0.5h-0.5zM602.5,326.2h0.5v0.5h-0.5zM652.3,309.2h0.5v0.5h-0.5zM609.8,339.2h0.5v0.5h-0.5zM654.8,308.7h0.5v0.5h-0.5zM601.3,330.4h0.5v0.5h-0.5zM616.5,313.2h0.5v0.5h-0.5zM646.0,337.7h0.5v0.5h-0.5zM601.5,328.2h0.5v0.5h-0.5zM644.5,339.7h0.5v0.5h-0.5zM607.0,335.2h0.5v0.5h-0.5zM675.5,310.9h0.5v0.5h-0.5zM683.8,317.7h0.5v0.5h-0.5zM635.5,312.4h0.5v0.5h-0.5zM604.8,337.4h0.5v0.5h-0.5zM604.8,324.4h0.5v0.5h-0.5zM623.8,339.4h0.5v0.5h-0.5zM602.0,327.2h0.5v0.5h-0.5zM647.3,309.7h0.5v0.5h-0.5zM617.8,339.9h0.5v0.5h-0.5zM614.3,340.7h0.5v0.5h-0.5zM611.8,312.9h0.5v0.5h-0.5zM604.8,320.4h0.5v0.5h-0.5zM659.8,309.9h0.5v0.5h-0.5zM647.3,307.9h0.5v0.5h-0.5zM605.8,319.9h0.5v0.5h-0.5zM603.3,324.9h0.5v0.5h-0.5zM681.8,318.4h0.5v0.5h-0.5zM614.0,311.7h0.5v0.5h-0.5zM611.3,313.7h0.5v0.5h-0.5zM647.5,311.4h0.5v0.5h-0.5zM611.5,315.2h0.5v0.5h-0.5zM612.5,311.7h0.5v0.5h-0.5zM679.0,333.9h0.5v0.5h-0.5zM665.5,308.2h0.5v0.5h-0.5zM662.0,310.7h0.5v0.5h-0.5zM603.3,325.9h0.5v0.5h-0.5zM630.8,342.4h0.5v0.5h-0.5zM664.8,338.2h0.5v0.5h-0.5zM680.3,321.4h0.5v0.5h-0.5zM680.3,324.7h0.5v0.5h-0.5zM683.5,325.2h0.5v0.5h-0.5zM602.3,333.9h0.5v0.5h-0.5zM665.5,338.9h0.5v0.5h-0.5zM606.0,334.9h0.5v0.5h-0.5zM655.3,337.7h0.5v0.5h-0.5zM654.8,308.7h0.5v0.5h-0.5zM646.5,309.2h0.5v0.5h-0.5zM644.5,340.9h0.5v0.5h-0.5zM603.5,322.9h0.5v0.5h-0.5zM643.5,340.4h0.5v0.5h-0.5zM617.5,314.2h0.5v0.5h-0.5zM659.0,309.4h0.5v0.5h-0.5zM605.0,331.4h0.5v0.5h-0.5zM626.5,313.2h0.5v0.5h-0.5zM662.8,338.2h0.5v0.5h-0.5zM612.5,315.2h0.5v0.5h-0.5zM681.0,324.4h0.5v0.5h-0.5zM658.8,310.2h0.5v0.5h-0.5zM670.8,311.2h0.5v0.5h-0.5zM673.3,311.4h0.5v0.5h-0.5zM670.0,335.7h0.5v0.5h-0.5zM629.8,341.2h0.5v0.5h-0.5zM649.3,337.4h0.5v0.5h-0.5zM680.3,316.9h0.5v0.5h-0.5zM682.0,313.2h0.5v0.5h-0.5zM612.3,314.7h0.5v0.5h-0.5zM642.5,311.4h0.5v0.5h-0.5zM605.3,331.9h0.5v0.5h-0.5zM638.8,341.2h0.5v0.5h-0.5zM657.3,337.4h0.5v0.5h-0.5zM631.5,340.4h0.5v0.5h-0.5zM672.5,308.4h0.5v0.5h-0.5zM678.5,314.7h0.5v0.5h-0.5zM660.5,337.7h0.5v0.5h-0.5zM636.0,312.7h0.5v0.5h-0.5zM635.0,339.9h0.5v0.5h-0.5zM630.8,310.4h0.5v0.5h-0.5zM634.8,342.2h0.5v0.5h-0.5zM626.5,339.4h0.5v0.5h-0.5zM619.0,311.4h0.5v0.5h-0.5zM631.3,339.9h0.5v0.5h-0.5zM632.0,340.9h0.5v0.5h-0.5zM630.3,338.9h0.5v0.5h-0.5zM601.5,328.7h0.5v0.5h-0.5zM680.3,327.2h0.5v0.5h-0.5zM664.3,337.9h0.5v0.5h-0.5zM645.5,337.7h0.5v0.5h-0.5zM643.0,312.2h0.5v0.5h-0.5zM607.5,335.9h0.5v0.5h-0.5zM665.8,337.7h0.5v0.5h-0.5zM634.3,340.4h0.5v0.5h-0.5zM680.0,320.4h0.5v0.5h-0.5zM604.3,324.7h0.5v0.5h-0.5zM606.5,319.4h0.5v0.5h-0.5zM660.8,336.7h0.5v0.5h-0.5zM660.3,308.2h0.5v0.5h-0.5zM650.5,308.7h0.5v0.5h-0.5zM610.0,339.7h0.5v0.5h-0.5zM605.5,316.4h0.5v0.5h-0.5zM604.3,333.7h0.5v0.5h-0.5zM662.0,307.9h0.5v0.5h-0.5zM654.5,338.2h0.5v0.5h-0.5zM659.8,309.4h0.5v0.5h-0.5zM624.8,313.4h0.5v0.5h-0.5zM628.5,309.9h0.5v0.5h-0.5zM667.8,338.2h0.5v0.5h-0.5zM602.5,334.2h0.5v0.5h-0.5zM631.0,341.4h0.5v0.5h-0.5zM683.0,328.9h0.5v0.5h-0.5zM662.3,337.4h0.5v0.5h-0.5zM628.8,339.4h0.5v0.5h-0.5zM653.3,308.9h0.5v0.5h-0.5zM613.3,339.2h0.5v0.5h-0.5zM609.5,339.7h0.5v0.5h-0.5zM626.0,311.2h0.5v0.5h-0.5zM637.3,310.2h0.5v0.5h-0.5zM623.8,309.9h0.5v0.5h-0.5zM678.5,314.7h0.5v0.5h-0.5zM619.0,341.7h0.5v0.5h-0.5zM679.3,317.7h0.5v0.5h-0.5zM607.0,341.2h0.5v0.5h-0.5zM671.0,336.9h0.5v0.5h-0.5zM664.5,310.4h0.5v0.5h-0.5zM612.0,315.4h0.5v0.5h-0.5zM680.3,317.7h0.5v0.5h-0.5zM648.8,341.2h0.5v0.5h-0.5zM620.3,340.2h0.5v0.5h-0.5zM635.5,309.4h0.5v0.5h-0.5zM683.5,321.4h0.5v0.5h-0.5zM660.0,339.2h0.5v0.5h-0.5zM602.3,330.4h0.5v0.5h-0.5zM626.5,312.9h0.5v0.5h-0.5zM680.8,310.2h0.5v0.5h-0.5zM613.3,342.4h0.5v0.5h-0.5zM678.0,331.7h0.5v0.5h-0.5zM637.0,311.7h0.5v0.5h-0.5zM614.5,338.9h0.5v0.5h-0.5zM670.8,311.2h0.5v0.5h-0.5zM604.3,328.9h0.5v0.5h-0.5zM645.8,310.9h0.5v0.5h-0.5zM675.0,307.4h0.5v0.5h-0.5z" fill="#3a3aff"/>
<path d="M679.7,319.1 679.4,318.8 679.4,318.1 678.4,315.6 676.9,313.8 674.4,312.3 673.9,312.3 672.9,311.8 672.2,311.8 671.9,311.6 670.7,311.6 670.4,311.3 667.2,311.3 666.9,311.1 663.9,311.1 663.7,311.3 658.7,311.3 658.4,311.6 654.9,311.6 654.7,311.8 648.2,312.1 647.9,312.3 644.9,312.3 644.7,312.6 638.2,312.8 637.9,313.1 634.9,313.1 634.7,313.3 631.7,313.3 631.4,313.6 628.4,313.6 628.2,313.8 625.4,313.8 625.2,314.1 620.4,314.3 620.2,314.6 618.7,314.6 618.4,314.8 617.2,314.8 616.9,315.1 615.9,315.1 615.7,315.3 613.7,315.6 613.4,315.8 611.4,316.3 608.7,317.8 606.7,319.8 605.7,321.8 605.4,323.3 605.2,323.6 605.2,324.6 604.9,324.8 604.7,327.8 604.9,328.1 604.9,329.3 605.4,330.3 605.7,331.8 607.2,335.1 609.2,337.1 611.7,338.3 612.4,338.3 613.7,338.8 614.7,338.8 614.9,339.1 617.2,339.1 617.4,339.3 627.9,339.1 628.2,338.8 631.7,338.8 631.9,338.6 634.9,338.6 635.2,338.3 638.4,338.3 638.7,338.1 641.7,338.1 641.9,337.8 644.9,337.8 645.2,337.6 648.4,337.6 648.7,337.3 651.7,337.3 651.9,337.1 654.9,337.1 655.2,336.8 658.2,336.8 658.4,336.6 663.7,336.3 663.9,336.1 665.7,336.1 665.9,335.8 667.4,335.8 667.7,335.6 668.9,335.6 669.2,335.3 671.4,335.1 671.7,334.8 674.4,334.1 676.7,332.8 678.7,330.8 679.4,329.6 679.4,329.1 679.9,328.1 679.9,326.6 680.2,326.3 680.2,323.8 679.9,323.6 679.9,320.8 679.7,320.6Z" fill="#2a2aff" fill-rule="evenodd"/>
<path d="M673.9,322.3 673.7,322.1 673.4,320.1 672.7,318.6 671.4,317.3 670.2,316.6 669.7,316.6 668.7,316.1 667.9,316.1 667.7,315.8 666.4,315.8 666.2,315.6 657.7,315.6 657.4,315.8 653.7,315.8 653.4,316.1 650.4,316.1 650.2,316.3 646.9,316.3 646.7,316.6 643.7,316.6 643.4,316.8 640.4,316.8 640.2,317.1 636.9,317.1 636.7,317.3 633.7,317.3 633.4,317.6 627.4,317.8 627.2,318.1 624.7,318.1 624.4,318.3 622.7,318.3 622.4,318.6 619.4,318.8 619.2,319.1 616.4,319.6 615.7,320.1 615.2,320.1 614.2,320.6 612.4,321.8 609.7,324.6 608.7,326.1 608.7,326.6 608.4,326.8 608.4,328.1 609.2,329.6 610.9,331.3 611.2,331.3 613.2,333.1 616.7,334.6 617.7,334.6 617.9,334.8 620.2,334.8 620.4,335.1 629.4,334.8 629.7,334.6 632.9,334.6 633.2,334.3 636.2,334.3 636.4,334.1 639.7,334.1 639.9,333.8 642.9,333.8 643.2,333.6 646.2,333.6 646.4,333.3 649.7,333.3 649.9,333.1 652.9,333.1 653.2,332.8 658.9,332.6 659.2,332.3 661.4,332.3 661.7,332.1 663.2,332.1 663.4,331.8 664.9,331.8 665.2,331.6 667.2,331.3 667.4,331.1 669.4,330.6 671.7,329.3 672.9,328.1 673.7,326.3 673.7,325.6 673.9,325.3Z" fill="#3a8cff" fill-rule="evenodd"/>
<path d="M671.7,321.8 670.9,320.1 670.2,319.1 669.2,318.3 666.7,317.3 665.7,317.3 665.4,317.1 663.2,317.1 662.9,316.8 651.2,317.3 650.9,317.6 647.9,317.6 647.7,317.8 644.4,317.8 644.2,318.1 641.2,318.1 640.9,318.3 637.9,318.3 637.7,318.6 634.7,318.6 634.4,318.8 631.4,318.8 631.2,319.1 625.7,319.3 625.4,319.6 623.7,319.6 623.4,319.8 621.9,319.8 621.7,320.1 619.4,320.3 615.7,321.8 611.2,324.8 609.9,326.1 609.7,326.6 609.7,328.3 610.2,329.1 611.7,330.3 616.2,332.6 616.7,332.6 617.7,333.1 618.4,333.1 618.7,333.3 620.2,333.3 620.4,333.6 628.2,333.6 628.4,333.3 631.9,333.3 632.2,333.1 635.4,333.1 635.7,332.8 638.7,332.8 638.9,332.6 641.9,332.6 642.2,332.3 645.4,332.3 645.7,332.1 648.7,332.1 648.9,331.8 651.9,331.8 652.2,331.6 655.2,331.6 655.4,331.3 660.4,331.1 660.7,330.8 662.2,330.8 662.4,330.6 663.7,330.6 663.9,330.3 665.9,330.1 669.4,328.6 670.9,327.1 671.4,326.1 671.4,325.6 671.7,325.3Z" fill="#40d8ea" fill-rule="evenodd"/>
<path d="M668.9,322.8 668.4,321.6 666.4,319.8 665.2,319.3 664.4,319.3 664.2,319.1 662.9,319.1 662.7,318.8 655.2,318.8 654.9,319.1 651.2,319.1 650.9,319.3 647.4,319.3 647.2,319.6 643.9,319.6 643.7,319.8 640.7,319.8 640.4,320.1 637.4,320.1 637.2,320.3 631.2,320.6 630.9,320.8 628.7,320.8 628.4,321.1 624.4,321.3 624.2,321.6 622.9,321.6 622.7,321.8 620.2,322.3 615.9,324.6 615.4,324.6 612.2,325.8 611.2,326.8 611.2,328.1 612.2,329.1 613.4,329.6 615.4,329.8 615.7,330.1 616.7,330.1 616.9,330.3 617.4,330.3 619.2,331.1 619.9,331.1 620.2,331.3 621.2,331.3 621.4,331.6 623.7,331.6 623.9,331.8 631.7,331.6 631.9,331.3 635.2,331.3 635.4,331.1 638.7,331.1 638.9,330.8 642.2,330.8 642.4,330.6 645.9,330.6 646.2,330.3 649.4,330.3 649.7,330.1 655.7,329.8 655.9,329.6 658.2,329.6 658.4,329.3 661.7,329.1 661.9,328.8 662.7,328.8 662.9,328.6 663.7,328.6 663.9,328.3 665.2,328.1 666.7,327.3 668.2,326.1 668.9,324.6Z" fill="#4ee05a" fill-rule="evenodd"/>
<path d="M663.2,323.6 662.4,322.8 661.4,322.3 659.2,322.1 658.9,321.8 644.7,321.8 644.4,322.1 641.4,322.1 641.2,322.3 639.2,322.3 638.9,322.6 635.4,322.8 635.2,323.1 633.9,323.1 633.7,323.3 632.4,323.3 632.2,323.6 630.9,323.6 630.7,323.8 629.7,323.8 629.4,324.1 628.4,324.1 628.2,324.3 626.2,324.6 623.9,325.6 623.2,326.3 623.2,326.8 624.4,327.8 625.2,327.8 625.4,328.1 627.2,328.1 627.4,328.3 642.7,328.3 642.9,328.1 649.7,328.1 649.9,327.8 652.7,327.8 652.9,327.6 654.7,327.6 654.9,327.3 656.4,327.3 656.7,327.1 658.9,326.8 662.2,325.6 663.2,324.6Z" fill="#d8ec30" fill-rule="evenodd"/>
<path d="M640.4,325.1 641.4,325.8 642.4,325.8 642.7,326.1 649.9,326.1 650.2,325.8 651.2,325.8 651.4,325.6 652.9,325.3 653.4,324.8 652.9,324.3 651.2,324.1 650.9,323.8 644.4,323.8 644.2,324.1 641.9,324.3Z" fill="#ffa020" fill-rule="evenodd"/>
<path d="M663.0,333.7h0.5v0.5h-0.5zM608.0,331.9h0.5v0.5h-0.5zM675.3,313.7h0.5v0.5h-0.5zM625.3,337.4h0.5v0.5h-0.5zM630.3,315.7h0.5v0.5h-0.5zM613.5,316.4h0.5v0.5h-0.5zM606.0,327.7h0.5v0.5h-0.5zM672.5,332.2h0.5v0.5h-0.5zM655.3,335.4h0.5v0.5h-0.5zM617.8,338.4h0.5v0.5h-0.5zM671.3,314.7h0.5v0.5h-0.5zM670.0,333.4h0.5v0.5h-0.5zM629.8,315.2h0.5v0.5h-0.5zM677.8,316.9h0.5v0.5h-0.5zM675.0,332.7h0.5v0.5h-0.5zM647.5,314.4h0.5v0.5h-0.5zM665.3,333.7h0.5v0.5h-0.5zM671.5,314.2h0.5v0.5h-0.5zM657.0,313.4h0.5v0.5h-0.5zM672.8,315.2h0.5v0.5h-0.5zM605.8,325.4h0.5v0.5h-0.5zM653.3,314.2h0.5v0.5h-0.5zM608.0,330.7h0.5v0.5h-0.5zM644.5,313.7h0.5v0.5h-0.5zM627.3,337.7h0.5v0.5h-0.5zM635.3,312.9h0.5v0.5h-0.5zM660.3,335.4h0.5v0.5h-0.5zM629.0,313.4h0.5v0.5h-0.5zM676.3,324.7h0.5v0.5h-0.5zM666.8,313.4h0.5v0.5h-0.5zM607.8,323.9h0.5v0.5h-0.5zM655.5,313.4h0.5v0.5h-0.5zM661.5,333.9h0.5v0.5h-0.5zM679.5,328.4h0.5v0.5h-0.5zM635.3,337.4h0.5v0.5h-0.5zM665.3,313.7h0.5v0.5h-0.5zM637.5,336.2h0.5v0.5h-0.5zM622.0,316.2h0.5v0.5h-0.5zM662.3,334.2h0.5v0.5h-0.5zM673.0,312.9h0.5v0.5h-0.5zM610.5,319.7h0.5v0.5h-0.5zM648.8,337.2h0.5v0.5h-0.5zM618.0,315.4h0.5v0.5h-0.5zM622.5,337.9h0.5v0.5h-0.5zM625.5,337.2h0.5v0.5h-0.5zM644.0,335.2h0.5v0.5h-0.5zM631.0,336.7h0.5v0.5h-0.5zM675.0,317.7h0.5v0.5h-0.5zM676.0,328.4h0.5v0.5h-0.5zM678.3,321.2h0.5v0.5h-0.5zM609.5,336.2h0.5v0.5h-0.5zM660.0,334.4h0.5v0.5h-0.5zM609.3,317.4h0.5v0.5h-0.5zM668.0,335.2h0.5v0.5h-0.5zM657.0,312.4h0.5v0.5h-0.5zM623.8,338.9h0.5v0.5h-0.5zM612.8,335.4h0.5v0.5h-0.5zM662.0,334.9h0.5v0.5h-0.5zM633.3,337.2h0.5v0.5h-0.5zM669.3,311.7h0.5v0.5h-0.5zM663.5,312.4h0.5v0.5h-0.5zM627.8,315.9h0.5v0.5h-0.5zM660.3,313.7h0.5v0.5h-0.5zM632.5,313.9h0.5v0.5h-0.5zM647.0,337.4h0.5v0.5h-0.5zM653.0,335.2h0.5v0.5h-0.5zM676.5,327.2h0.5v0.5h-0.5zM653.3,312.7h0.5v0.5h-0.5zM623.5,316.2h0.5v0.5h-0.5zM678.3,323.7h0.5v0.5h-0.5zM605.8,322.4h0.5v0.5h-0.5zM642.0,314.4h0.5v0.5h-0.5zM632.8,314.4h0.5v0.5h-0.5zM607.3,323.4h0.5v0.5h-0.5zM618.0,336.4h0.5v0.5h-0.5zM672.8,331.7h0.5v0.5h-0.5zM620.3,315.7h0.5v0.5h-0.5zM633.5,336.7h0.5v0.5h-0.5zM647.8,336.9h0.5v0.5h-0.5zM607.5,321.9h0.5v0.5h-0.5zM673.0,313.4h0.5v0.5h-0.5zM647.0,335.2h0.5v0.5h-0.5zM627.0,316.2h0.5v0.5h-0.5zM664.3,333.9h0.5v0.5h-0.5zM614.5,336.2h0.5v0.5h-0.5zM611.3,337.7h0.5v0.5h-0.5zM677.5,315.7h0.5v0.5h-0.5zM605.5,327.7h0.5v0.5h-0.5zM673.0,314.7h0.5v0.5h-0.5zM642.3,314.4h0.5v0.5h-0.5zM672.0,311.7h0.5v0.5h-0.5zM608.3,321.2h0.5v0.5h-0.5zM617.3,338.4h0.5v0.5h-0.5zM611.8,336.2h0.5v0.5h-0.5zM679.5,324.9h0.5v0.5h-0.5zM641.0,335.9h0.5v0.5h-0.5zM658.3,313.7h0.5v0.5h-0.5zM661.8,312.4h0.5v0.5h-0.5zM614.8,338.9h0.5v0.5h-0.5zM677.8,324.4h0.5v0.5h-0.5zM679.5,323.4h0.5v0.5h-0.5zM612.0,335.4h0.5v0.5h-0.5zM676.5,327.9h0.5v0.5h-0.5zM643.8,335.2h0.5v0.5h-0.5zM676.5,323.9h0.5v0.5h-0.5zM661.0,334.4h0.5v0.5h-0.5zM662.0,335.7h0.5v0.5h-0.5zM654.3,313.7h0.5v0.5h-0.5zM653.5,335.7h0.5v0.5h-0.5zM655.0,312.9h0.5v0.5h-0.5zM629.5,315.2h0.5v0.5h-0.5zM663.8,333.9h0.5v0.5h-0.5zM634.3,313.7h0.5v0.5h-0.5zM642.0,313.2h0.5v0.5h-0.5zM624.5,315.4h0.5v0.5h-0.5zM675.0,314.4h0.5v0.5h-0.5zM678.3,317.7h0.5v0.5h-0.5zM634.8,337.2h0.5v0.5h-0.5zM635.0,337.2h0.5v0.5h-0.5zM680.0,325.4h0.5v0.5h-0.5zM607.0,324.9h0.5v0.5h-0.5zM613.8,317.9h0.5v0.5h-0.5zM624.8,316.4h0.5v0.5h-0.5zM655.0,335.2h0.5v0.5h-0.5zM652.8,313.4h0.5v0.5h-0.5zM617.5,316.4h0.5v0.5h-0.5zM648.8,334.7h0.5v0.5h-0.5zM644.5,314.7h0.5v0.5h-0.5zM650.0,313.2h0.5v0.5h-0.5zM659.0,313.2h0.5v0.5h-0.5zM622.3,316.7h0.5v0.5h-0.5zM608.0,318.7h0.5v0.5h-0.5zM620.5,314.7h0.5v0.5h-0.5zM629.5,337.2h0.5v0.5h-0.5zM611.5,319.4h0.5v0.5h-0.5zM662.0,336.2h0.5v0.5h-0.5zM613.3,338.4h0.5v0.5h-0.5zM639.5,314.7h0.5v0.5h-0.5zM632.0,336.9h0.5v0.5h-0.5zM653.5,334.4h0.5v0.5h-0.5zM613.5,315.9h0.5v0.5h-0.5zM650.3,312.7h0.5v0.5h-0.5zM665.8,313.4h0.5v0.5h-0.5zM607.8,323.2h0.5v0.5h-0.5zM636.5,336.9h0.5v0.5h-0.5zM613.8,337.4h0.5v0.5h-0.5zM604.5,326.4h0.5v0.5h-0.5zM617.0,338.2h0.5v0.5h-0.5zM669.3,313.7h0.5v0.5h-0.5zM655.0,334.4h0.5v0.5h-0.5zM672.5,315.2h0.5v0.5h-0.5zM644.5,335.4h0.5v0.5h-0.5zM658.8,312.4h0.5v0.5h-0.5zM622.5,336.9h0.5v0.5h-0.5zM658.5,312.7h0.5v0.5h-0.5zM648.5,336.4h0.5v0.5h-0.5zM607.8,318.7h0.5v0.5h-0.5zM677.3,320.2h0.5v0.5h-0.5zM677.5,321.7h0.5v0.5h-0.5zM675.3,333.4h0.5v0.5h-0.5zM609.3,319.7h0.5v0.5h-0.5zM669.3,334.9h0.5v0.5h-0.5zM606.0,330.9h0.5v0.5h-0.5zM675.3,318.2h0.5v0.5h-0.5zM645.3,314.4h0.5v0.5h-0.5zM670.0,313.9h0.5v0.5h-0.5zM607.0,329.7h0.5v0.5h-0.5zM675.0,330.7h0.5v0.5h-0.5zM644.3,335.9h0.5v0.5h-0.5zM608.8,334.7h0.5v0.5h-0.5zM634.8,336.4h0.5v0.5h-0.5zM607.8,321.9h0.5v0.5h-0.5zM607.8,321.7h0.5v0.5h-0.5zM612.0,336.4h0.5v0.5h-0.5zM624.0,316.4h0.5v0.5h-0.5zM676.3,320.7h0.5v0.5h-0.5zM672.0,332.7h0.5v0.5h-0.5zM665.8,312.7h0.5v0.5h-0.5zM658.3,336.4h0.5v0.5h-0.5zM673.0,313.2h0.5v0.5h-0.5zM671.5,314.7h0.5v0.5h-0.5zM662.8,334.4h0.5v0.5h-0.5zM662.3,334.7h0.5v0.5h-0.5zM658.0,313.2h0.5v0.5h-0.5zM640.5,336.2h0.5v0.5h-0.5zM629.8,314.7h0.5v0.5h-0.5zM618.5,316.7h0.5v0.5h-0.5zM676.3,315.4h0.5v0.5h-0.5zM657.8,311.9h0.5v0.5h-0.5zM609.0,320.2h0.5v0.5h-0.5zM652.5,312.7h0.5v0.5h-0.5zM656.0,312.9h0.5v0.5h-0.5zM664.8,335.9h0.5v0.5h-0.5zM637.5,313.2h0.5v0.5h-0.5zM672.8,330.9h0.5v0.5h-0.5zM635.8,337.7h0.5v0.5h-0.5zM629.0,336.2h0.5v0.5h-0.5zM666.5,311.7h0.5v0.5h-0.5zM667.8,311.9h0.5v0.5h-0.5zM646.8,314.7h0.5v0.5h-0.5zM607.0,321.2h0.5v0.5h-0.5zM626.3,313.7h0.5v0.5h-0.5zM612.5,337.2h0.5v0.5h-0.5zM631.8,313.9h0.5v0.5h-0.5zM676.8,318.2h0.5v0.5h-0.5zM656.8,313.9h0.5v0.5h-0.5zM604.8,328.4h0.5v0.5h-0.5zM610.5,319.9h0.5v0.5h-0.5zM608.0,318.7h0.5v0.5h-0.5zM634.0,336.9h0.5v0.5h-0.5zM608.5,321.2h0.5v0.5h-0.5zM647.8,335.2h0.5v0.5h-0.5zM617.8,338.2h0.5v0.5h-0.5zM627.5,315.4h0.5v0.5h-0.5zM678.3,325.9h0.5v0.5h-0.5zM613.0,336.4h0.5v0.5h-0.5zM678.3,316.4h0.5v0.5h-0.5zM642.0,314.2h0.5v0.5h-0.5zM677.8,322.7h0.5v0.5h-0.5zM677.3,320.4h0.5v0.5h-0.5zM677.3,325.7h0.5v0.5h-0.5zM646.8,312.2h0.5v0.5h-0.5zM679.0,320.2h0.5v0.5h-0.5zM632.8,336.2h0.5v0.5h-0.5zM658.0,312.9h0.5v0.5h-0.5zM629.5,313.7h0.5v0.5h-0.5zM676.5,321.9h0.5v0.5h-0.5zM612.0,318.2h0.5v0.5h-0.5zM619.8,337.9h0.5v0.5h-0.5zM676.8,321.9h0.5v0.5h-0.5zM627.8,313.7h0.5v0.5h-0.5zM674.3,332.4h0.5v0.5h-0.5zM637.8,335.7h0.5v0.5h-0.5zM624.8,315.9h0.5v0.5h-0.5zM644.8,335.7h0.5v0.5h-0.5zM666.5,335.7h0.5v0.5h-0.5zM675.3,314.7h0.5v0.5h-0.5zM658.0,335.2h0.5v0.5h-0.5zM677.5,318.4h0.5v0.5h-0.5zM633.3,337.2h0.5v0.5h-0.5zM670.3,332.2h0.5v0.5h-0.5zM612.0,318.7h0.5v0.5h-0.5zM606.5,331.2h0.5v0.5h-0.5zM663.0,312.9h0.5v0.5h-0.5zM655.8,334.4h0.5v0.5h-0.5zM620.0,316.4h0.5v0.5h-0.5zM606.5,325.2h0.5v0.5h-0.5zM620.5,315.9h0.5v0.5h-0.5zM677.3,317.7h0.5v0.5h-0.5zM622.0,337.2h0.5v0.5h-0.5zM677.8,322.9h0.5v0.5h-0.5zM636.8,337.7h0.5v0.5h-0.5zM670.5,312.7h0.5v0.5h-0.5zM605.0,326.2h0.5v0.5h-0.5zM676.0,320.9h0.5v0.5h-0.5zM646.8,335.2h0.5v0.5h-0.5zM625.8,314.4h0.5v0.5h-0.5zM635.3,313.9h0.5v0.5h-0.5zM605.0,326.9h0.5v0.5h-0.5zM616.5,336.4h0.5v0.5h-0.5z" fill="#ffffff"/>
<rect x="582.30" y="284.20" width="102.30" height="86.80" fill="none" stroke="#444" stroke-width="0.8"/>
<line x1="582.30" y1="295.10" x2="684.60" y2="295.10" stroke="#444" stroke-width="0.8"/>
<text x="633.45" y="292.60" font-size="7.6" text-anchor="middle" fill="#1a1a1a">shKAT5</text>
<line x1="623.30" y1="295.10" x2="623.30" y2="371.00" stroke="#555" stroke-width="0.9"/>
<line x1="580.10" y1="284.20" x2="582.30" y2="284.20" stroke="#111" stroke-width="1.3"/>
<text x="578.40" y="287.00" font-size="7.8" text-anchor="end" fill="#262626">10<tspan font-size="4.8" dy="-3.3">6</tspan></text>
<line x1="580.10" y1="319.10" x2="582.30" y2="319.10" stroke="#111" stroke-width="1.3"/>
<text x="578.40" y="321.90" font-size="7.8" text-anchor="end" fill="#262626">10<tspan font-size="4.8" dy="-3.3">5</tspan></text>
<line x1="580.10" y1="353.90" x2="582.30" y2="353.90" stroke="#111" stroke-width="1.3"/>
<text x="578.40" y="356.70" font-size="7.8" text-anchor="end" fill="#262626">10<tspan font-size="4.8" dy="-3.3">4</tspan></text>
<line x1="581.00" y1="308.59" x2="582.30" y2="308.59" stroke="#333" stroke-width="0.5"/>
<line x1="581.00" y1="302.45" x2="582.30" y2="302.45" stroke="#333" stroke-width="0.5"/>
<line x1="581.00" y1="298.09" x2="582.30" y2="298.09" stroke="#333" stroke-width="0.5"/>
<line x1="581.00" y1="294.71" x2="582.30" y2="294.71" stroke="#333" stroke-width="0.5"/>
<line x1="581.00" y1="291.94" x2="582.30" y2="291.94" stroke="#333" stroke-width="0.5"/>
<line x1="581.00" y1="289.61" x2="582.30" y2="289.61" stroke="#333" stroke-width="0.5"/>
<line x1="581.00" y1="287.58" x2="582.30" y2="287.58" stroke="#333" stroke-width="0.5"/>
<line x1="581.00" y1="285.80" x2="582.30" y2="285.80" stroke="#333" stroke-width="0.5"/>
<line x1="581.00" y1="343.49" x2="582.30" y2="343.49" stroke="#333" stroke-width="0.5"/>
<line x1="581.00" y1="337.35" x2="582.30" y2="337.35" stroke="#333" stroke-width="0.5"/>
<line x1="581.00" y1="332.99" x2="582.30" y2="332.99" stroke="#333" stroke-width="0.5"/>
<line x1="581.00" y1="329.61" x2="582.30" y2="329.61" stroke="#333" stroke-width="0.5"/>
<line x1="581.00" y1="326.84" x2="582.30" y2="326.84" stroke="#333" stroke-width="0.5"/>
<line x1="581.00" y1="324.51" x2="582.30" y2="324.51" stroke="#333" stroke-width="0.5"/>
<line x1="581.00" y1="322.48" x2="582.30" y2="322.48" stroke="#333" stroke-width="0.5"/>
<line x1="581.00" y1="320.70" x2="582.30" y2="320.70" stroke="#333" stroke-width="0.5"/>
<line x1="581.00" y1="367.79" x2="582.30" y2="367.79" stroke="#333" stroke-width="0.5"/>
<line x1="581.00" y1="364.41" x2="582.30" y2="364.41" stroke="#333" stroke-width="0.5"/>
<line x1="581.00" y1="361.64" x2="582.30" y2="361.64" stroke="#333" stroke-width="0.5"/>
<line x1="581.00" y1="359.31" x2="582.30" y2="359.31" stroke="#333" stroke-width="0.5"/>
<line x1="581.00" y1="357.28" x2="582.30" y2="357.28" stroke="#333" stroke-width="0.5"/>
<line x1="581.00" y1="355.50" x2="582.30" y2="355.50" stroke="#333" stroke-width="0.5"/>
<text x="565.00" y="327.80" font-size="7.4" text-anchor="middle" fill="#262626" transform="rotate(-90 565.00 327.80)">SSC-A</text>
<text x="587.20" y="384.40" font-size="7.6" text-anchor="middle" fill="#262626">-10<tspan font-size="4.8" dy="-3.3">3</tspan></text>
<text x="606.10" y="384.40" font-size="7.5" text-anchor="middle" fill="#262626">0</text>
<text x="624.20" y="384.40" font-size="7.6" text-anchor="middle" fill="#262626">10<tspan font-size="4.8" dy="-3.3">3</tspan></text>
<text x="651.40" y="384.40" font-size="7.6" text-anchor="middle" fill="#262626">10<tspan font-size="4.8" dy="-3.3">4</tspan></text>
<text x="674.50" y="384.40" font-size="7.6" text-anchor="middle" fill="#262626">10<tspan font-size="4.8" dy="-3.3">5</tspan></text>
<line x1="585.80" y1="371.00" x2="585.80" y2="373.00" stroke="#111" stroke-width="1.0"/>
<line x1="605.60" y1="371.00" x2="605.60" y2="373.00" stroke="#111" stroke-width="1.0"/>
<line x1="623.60" y1="371.00" x2="623.60" y2="373.00" stroke="#111" stroke-width="1.0"/>
<line x1="651.20" y1="371.00" x2="651.20" y2="373.00" stroke="#111" stroke-width="1.0"/>
<line x1="676.60" y1="371.00" x2="676.60" y2="373.00" stroke="#111" stroke-width="1.0"/>
<line x1="596.30" y1="371.00" x2="596.30" y2="372.40" stroke="#111" stroke-width="0.5"/>
<line x1="597.68" y1="371.00" x2="597.68" y2="372.40" stroke="#111" stroke-width="0.5"/>
<line x1="599.07" y1="371.00" x2="599.07" y2="372.40" stroke="#111" stroke-width="0.5"/>
<line x1="600.45" y1="371.00" x2="600.45" y2="372.40" stroke="#111" stroke-width="0.5"/>
<line x1="601.84" y1="371.00" x2="601.84" y2="372.40" stroke="#111" stroke-width="0.5"/>
<line x1="603.22" y1="371.00" x2="603.22" y2="372.40" stroke="#111" stroke-width="0.5"/>
<line x1="604.61" y1="371.00" x2="604.61" y2="372.40" stroke="#111" stroke-width="0.5"/>
<line x1="605.99" y1="371.00" x2="605.99" y2="372.40" stroke="#111" stroke-width="0.5"/>
<line x1="607.38" y1="371.00" x2="607.38" y2="372.40" stroke="#111" stroke-width="0.5"/>
<line x1="608.76" y1="371.00" x2="608.76" y2="372.40" stroke="#111" stroke-width="0.5"/>
<line x1="610.15" y1="371.00" x2="610.15" y2="372.40" stroke="#111" stroke-width="0.5"/>
<line x1="611.53" y1="371.00" x2="611.53" y2="372.40" stroke="#111" stroke-width="0.5"/>
<line x1="612.92" y1="371.00" x2="612.92" y2="372.40" stroke="#111" stroke-width="0.5"/>
<line x1="614.30" y1="371.00" x2="614.30" y2="372.40" stroke="#111" stroke-width="0.5"/>
<rect x="601.90" y="371.00" width="6.00" height="1.80" fill="#111"/>
<text x="632.70" y="392.00" font-size="7.7" text-anchor="middle" fill="#262626">AnnexinV-PE fluorescence</text>
<text x="584.60" y="359.20" font-size="7.8" fill="#1a1a1a">AnnexinV-</text>
<text x="584.60" y="368.10" font-size="7.8" fill="#1a1a1a">23.2%</text>
<text x="683.20" y="359.20" font-size="7.8" text-anchor="end" fill="#1a1a1a">AnnexinV+</text>
<text x="683.20" y="368.10" font-size="7.8" text-anchor="end" fill="#1a1a1a">76.8%</text>
<text x="-0.30" y="292.80" font-size="20" fill="#111">f</text>
<defs><filter id="tex" x="-5%" y="-5%" width="110%" height="110%"><feTurbulence type="fractalNoise" baseFrequency="0.75" numOctaves="2" seed="4" result="n"/><feColorMatrix in="n" type="matrix" values="0 0 0 0 0  0 0 0 0 0  0 0 0 0 0  1.9 0 0 0 -0.1" result="a"/><feComposite in="SourceGraphic" in2="a" operator="in"/></filter></defs>
<defs><filter id="soft" x="-5%" y="-5%" width="110%" height="110%"><feGaussianBlur stdDeviation="0.45"/></filter><filter id="soft2" x="-5%" y="-5%" width="110%" height="110%"><feGaussianBlur stdDeviation="0.9"/></filter></defs>
<defs><radialGradient id="nucg" cx="0.5" cy="0.5" r="0.5"><stop offset="0" stop-color="#195a55"/><stop offset="0.6" stop-color="#206c66"/><stop offset="0.9" stop-color="#30988f"/><stop offset="1" stop-color="#2a8880"/></radialGradient></defs>
<defs><pattern id="mito" width="5" height="5" patternUnits="userSpaceOnUse"><rect width="5" height="5" fill="#f02412"/><rect x="0.5" y="1" width="1" height="0.8" fill="#3a0502"/><rect x="3" y="0.2" width="0.8" height="1" fill="#6a0a04"/><rect x="2.2" y="3" width="1.2" height="0.8" fill="#3a0502"/><rect x="4.2" y="3.6" width="0.7" height="1" fill="#8a1006"/><rect x="0.2" y="3.9" width="0.8" height="0.7" fill="#6a0a04"/><rect x="1.8" y="1.9" width="0.7" height="0.6" fill="#5a0803"/><rect x="3.6" y="2.1" width="0.6" height="0.6" fill="#7a0c05"/></pattern></defs>
<clipPath id="c1"><rect x="13.9" y="408.8" width="70.3" height="70.0"/></clipPath>
<rect x="13.90" y="408.80" width="70.30" height="70.00" fill="#050505"/>
<g clip-path="url(#c1)">
<g filter="url(#tex)">
<ellipse cx="19.1" cy="429.9" rx="3.8" ry="2.9" transform="rotate(0 19.1 429.9)" fill="url(#nucg)" opacity="0.83"/>
<ellipse cx="38.0" cy="427.6" rx="4.0" ry="5.0" transform="rotate(0 38.0 427.6)" fill="url(#nucg)" opacity="0.83"/>
<ellipse cx="58.5" cy="429.9" rx="4.0" ry="4.6" transform="rotate(0 58.5 429.9)" fill="url(#nucg)" opacity="0.83"/>
<ellipse cx="76.3" cy="424.3" rx="4.0" ry="3.4" transform="rotate(0 76.3 424.3)" fill="url(#nucg)" opacity="0.83"/>
<ellipse cx="18.8" cy="448.7" rx="4.4" ry="5.3" transform="rotate(0 18.8 448.7)" fill="url(#nucg)" opacity="0.83"/>
<ellipse cx="35.2" cy="447.1" rx="4.6" ry="4.6" transform="rotate(0 35.2 447.1)" fill="url(#nucg)" opacity="0.83"/>
<ellipse cx="54.6" cy="446.0" rx="5.3" ry="4.6" transform="rotate(0 54.6 446.0)" fill="url(#nucg)" opacity="0.86"/>
<ellipse cx="77.4" cy="440.4" rx="4.2" ry="5.6" transform="rotate(-35 77.4 440.4)" fill="url(#nucg)" opacity="0.83"/>
<ellipse cx="46.3" cy="461.0" rx="5.9" ry="4.6" transform="rotate(0 46.3 461.0)" fill="url(#nucg)" opacity="0.83"/>
<ellipse cx="62.5" cy="468.4" rx="3.9" ry="4.2" transform="rotate(0 62.5 468.4)" fill="url(#nucg)" opacity="0.79"/>
<ellipse cx="68.4" cy="468.2" rx="3.6" ry="3.9" transform="rotate(0 68.4 468.2)" fill="url(#nucg)" opacity="0.79"/>
<ellipse cx="74.6" cy="456.5" rx="3.8" ry="3.1" transform="rotate(0 74.6 456.5)" fill="url(#nucg)" opacity="0.75"/>
<ellipse cx="29.7" cy="473.3" rx="5.0" ry="3.6" transform="rotate(0 29.7 473.3)" fill="url(#nucg)" opacity="0.68"/>
<ellipse cx="79.0" cy="477.4" rx="3.9" ry="2.8" transform="rotate(0 79.0 477.4)" fill="url(#nucg)" opacity="0.68"/>
<ellipse cx="47.4" cy="410.3" rx="4.5" ry="3.4" transform="rotate(0 47.4 410.3)" fill="url(#nucg)" opacity="0.57"/>
<ellipse cx="61.9" cy="410.8" rx="3.9" ry="3.4" transform="rotate(0 61.9 410.8)" fill="url(#nucg)" opacity="0.57"/>
</g>
</g>
<rect x="13.9" y="408.8" width="70.3" height="70.0" fill="none" stroke="#bbb" stroke-width="0.5"/>
<text x="15.90" y="417.40" font-size="7.95" fill="#62e6de" font-weight="bold">Hoechst 33342</text>
<text x="16.10" y="475.70" font-size="7.9" fill="#e8e8e8">shScramble</text>
<clipPath id="c2"><rect x="86.7" y="408.8" width="70.3" height="70.0"/></clipPath>
<rect x="86.70" y="408.80" width="70.30" height="70.00" fill="#050505"/>
<g clip-path="url(#c2)">
<g filter="url(#soft)">
<g fill="url(#mito)"><ellipse cx="90.7" cy="428.5" rx="6.8" ry="5.7" transform="rotate(10 91.9 429.9)"/><ellipse cx="110.8" cy="425.9" rx="7.4" ry="8.1" transform="rotate(12 110.8 427.6)"/><ellipse cx="131.8" cy="431.1" rx="7.6" ry="7.9" transform="rotate(17 131.3 429.9)"/><ellipse cx="150.0" cy="422.8" rx="6.9" ry="6.0" transform="rotate(-12 149.1 424.3)"/><ellipse cx="92.3" cy="447.9" rx="7.1" ry="7.7" transform="rotate(0 91.6 448.7)"/><ellipse cx="107.6" cy="446.1" rx="8.0" ry="7.7" transform="rotate(-16 108.0 447.1)"/><ellipse cx="128.8" cy="447.0" rx="7.9" ry="7.0" transform="rotate(19 127.4 446.0)"/><ellipse cx="149.0" cy="442.0" rx="7.5" ry="8.6" transform="rotate(-42 150.2 440.4)"/><ellipse cx="118.5" cy="459.2" rx="9.1" ry="7.5" transform="rotate(-10 119.1 461.0)"/><ellipse cx="135.2" cy="469.8" rx="6.7" ry="6.6" transform="rotate(5 135.3 468.4)"/><ellipse cx="140.3" cy="468.1" rx="6.7" ry="6.7" transform="rotate(-12 141.2 468.2)"/><ellipse cx="148.6" cy="457.4" rx="6.6" ry="5.6" transform="rotate(1 147.4 456.5)"/><ellipse cx="103.3" cy="472.5" rx="8.5" ry="6.8" transform="rotate(9 102.5 473.3)"/><ellipse cx="151.8" cy="476.4" rx="7.4" ry="6.0" transform="rotate(-11 151.8 477.4)"/><ellipse cx="119.8" cy="408.2" rx="7.3" ry="5.9" transform="rotate(2 120.2 410.3)"/><ellipse cx="135.6" cy="410.4" rx="6.7" ry="5.8" transform="rotate(17 134.7 410.8)"/></g>
<g fill="#0a0202"><ellipse cx="91.9" cy="429.9" rx="4.4" ry="3.5" transform="rotate(0 91.9 429.9)"/><ellipse cx="110.8" cy="427.6" rx="4.6" ry="5.6" transform="rotate(0 110.8 427.6)"/><ellipse cx="131.3" cy="429.9" rx="4.6" ry="5.2" transform="rotate(0 131.3 429.9)"/><ellipse cx="149.1" cy="424.3" rx="4.6" ry="4.0" transform="rotate(0 149.1 424.3)"/><ellipse cx="91.6" cy="448.7" rx="5.0" ry="5.9" transform="rotate(0 91.6 448.7)"/><ellipse cx="108.0" cy="447.1" rx="5.2" ry="5.2" transform="rotate(0 108.0 447.1)"/><ellipse cx="127.4" cy="446.0" rx="5.9" ry="5.2" transform="rotate(0 127.4 446.0)"/><ellipse cx="150.2" cy="440.4" rx="4.8" ry="6.2" transform="rotate(-35 150.2 440.4)"/><ellipse cx="119.1" cy="461.0" rx="6.5" ry="5.2" transform="rotate(0 119.1 461.0)"/><ellipse cx="135.3" cy="468.4" rx="4.5" ry="4.8" transform="rotate(0 135.3 468.4)"/><ellipse cx="141.2" cy="468.2" rx="4.2" ry="4.5" transform="rotate(0 141.2 468.2)"/><ellipse cx="147.4" cy="456.5" rx="4.4" ry="3.7" transform="rotate(0 147.4 456.5)"/><ellipse cx="102.5" cy="473.3" rx="5.6" ry="4.2" transform="rotate(0 102.5 473.3)"/><ellipse cx="151.8" cy="477.4" rx="4.5" ry="3.4" transform="rotate(0 151.8 477.4)"/><ellipse cx="120.2" cy="410.3" rx="5.1" ry="4.0" transform="rotate(0 120.2 410.3)"/><ellipse cx="134.7" cy="410.8" rx="4.5" ry="4.0" transform="rotate(0 134.7 410.8)"/></g>
</g>
</g>
<rect x="86.7" y="408.8" width="70.3" height="70.0" fill="none" stroke="#bbb" stroke-width="0.5"/>
<text x="88.70" y="417.40" font-size="7.95" fill="#ff2418" font-weight="bold">TMRE</text>
<clipPath id="c3"><rect x="159.5" y="408.8" width="70.3" height="70.0"/></clipPath>
<rect x="159.50" y="408.80" width="70.30" height="70.00" fill="#050505"/>
<g clip-path="url(#c3)">
<g filter="url(#soft)">
<g fill="url(#mito)"><ellipse cx="163.5" cy="428.5" rx="6.8" ry="5.7" transform="rotate(10 164.7 429.9)"/><ellipse cx="183.6" cy="425.9" rx="7.4" ry="8.1" transform="rotate(12 183.6 427.6)"/><ellipse cx="204.6" cy="431.1" rx="7.6" ry="7.9" transform="rotate(17 204.1 429.9)"/><ellipse cx="222.8" cy="422.8" rx="6.9" ry="6.0" transform="rotate(-12 221.9 424.3)"/><ellipse cx="165.1" cy="447.9" rx="7.1" ry="7.7" transform="rotate(0 164.4 448.7)"/><ellipse cx="180.4" cy="446.1" rx="8.0" ry="7.7" transform="rotate(-16 180.8 447.1)"/><ellipse cx="201.6" cy="447.0" rx="7.9" ry="7.0" transform="rotate(19 200.2 446.0)"/><ellipse cx="221.8" cy="442.0" rx="7.5" ry="8.6" transform="rotate(-42 223.0 440.4)"/><ellipse cx="191.3" cy="459.2" rx="9.1" ry="7.5" transform="rotate(-10 191.9 461.0)"/><ellipse cx="208.0" cy="469.8" rx="6.7" ry="6.6" transform="rotate(5 208.1 468.4)"/><ellipse cx="213.1" cy="468.1" rx="6.7" ry="6.7" transform="rotate(-12 214.0 468.2)"/><ellipse cx="221.4" cy="457.4" rx="6.6" ry="5.6" transform="rotate(1 220.2 456.5)"/><ellipse cx="176.1" cy="472.5" rx="8.5" ry="6.8" transform="rotate(9 175.3 473.3)"/><ellipse cx="224.6" cy="476.4" rx="7.4" ry="6.0" transform="rotate(-11 224.6 477.4)"/><ellipse cx="192.6" cy="408.2" rx="7.3" ry="5.9" transform="rotate(2 193.0 410.3)"/><ellipse cx="208.4" cy="410.4" rx="6.7" ry="5.8" transform="rotate(17 207.5 410.8)"/></g>
<g fill="#0a0202"><ellipse cx="164.7" cy="429.9" rx="4.4" ry="3.5" transform="rotate(0 164.7 429.9)"/><ellipse cx="183.6" cy="427.6" rx="4.6" ry="5.6" transform="rotate(0 183.6 427.6)"/><ellipse cx="204.1" cy="429.9" rx="4.6" ry="5.2" transform="rotate(0 204.1 429.9)"/><ellipse cx="221.9" cy="424.3" rx="4.6" ry="4.0" transform="rotate(0 221.9 424.3)"/><ellipse cx="164.4" cy="448.7" rx="5.0" ry="5.9" transform="rotate(0 164.4 448.7)"/><ellipse cx="180.8" cy="447.1" rx="5.2" ry="5.2" transform="rotate(0 180.8 447.1)"/><ellipse cx="200.2" cy="446.0" rx="5.9" ry="5.2" transform="rotate(0 200.2 446.0)"/><ellipse cx="223.0" cy="440.4" rx="4.8" ry="6.2" transform="rotate(-35 223.0 440.4)"/><ellipse cx="191.9" cy="461.0" rx="6.5" ry="5.2" transform="rotate(0 191.9 461.0)"/><ellipse cx="208.1" cy="468.4" rx="4.5" ry="4.8" transform="rotate(0 208.1 468.4)"/><ellipse cx="214.0" cy="468.2" rx="4.2" ry="4.5" transform="rotate(0 214.0 468.2)"/><ellipse cx="220.2" cy="456.5" rx="4.4" ry="3.7" transform="rotate(0 220.2 456.5)"/><ellipse cx="175.3" cy="473.3" rx="5.6" ry="4.2" transform="rotate(0 175.3 473.3)"/><ellipse cx="224.6" cy="477.4" rx="4.5" ry="3.4" transform="rotate(0 224.6 477.4)"/><ellipse cx="193.0" cy="410.3" rx="5.1" ry="4.0" transform="rotate(0 193.0 410.3)"/><ellipse cx="207.5" cy="410.8" rx="4.5" ry="4.0" transform="rotate(0 207.5 410.8)"/></g>
</g>
<g filter="url(#tex)">
<ellipse cx="164.7" cy="429.9" rx="3.8" ry="2.9" transform="rotate(0 164.7 429.9)" fill="url(#nucg)" opacity="0.83"/>
<ellipse cx="183.6" cy="427.6" rx="4.0" ry="5.0" transform="rotate(0 183.6 427.6)" fill="url(#nucg)" opacity="0.83"/>
<ellipse cx="204.1" cy="429.9" rx="4.0" ry="4.6" transform="rotate(0 204.1 429.9)" fill="url(#nucg)" opacity="0.83"/>
<ellipse cx="221.9" cy="424.3" rx="4.0" ry="3.4" transform="rotate(0 221.9 424.3)" fill="url(#nucg)" opacity="0.83"/>
<ellipse cx="164.4" cy="448.7" rx="4.4" ry="5.3" transform="rotate(0 164.4 448.7)" fill="url(#nucg)" opacity="0.83"/>
<ellipse cx="180.8" cy="447.1" rx="4.6" ry="4.6" transform="rotate(0 180.8 447.1)" fill="url(#nucg)" opacity="0.83"/>
<ellipse cx="200.2" cy="446.0" rx="5.3" ry="4.6" transform="rotate(0 200.2 446.0)" fill="url(#nucg)" opacity="0.86"/>
<ellipse cx="223.0" cy="440.4" rx="4.2" ry="5.6" transform="rotate(-35 223.0 440.4)" fill="url(#nucg)" opacity="0.83"/>
<ellipse cx="191.9" cy="461.0" rx="5.9" ry="4.6" transform="rotate(0 191.9 461.0)" fill="url(#nucg)" opacity="0.83"/>
<ellipse cx="208.1" cy="468.4" rx="3.9" ry="4.2" transform="rotate(0 208.1 468.4)" fill="url(#nucg)" opacity="0.79"/>
<ellipse cx="214.0" cy="468.2" rx="3.6" ry="3.9" transform="rotate(0 214.0 468.2)" fill="url(#nucg)" opacity="0.79"/>
<ellipse cx="220.2" cy="456.5" rx="3.8" ry="3.1" transform="rotate(0 220.2 456.5)" fill="url(#nucg)" opacity="0.75"/>
<ellipse cx="175.3" cy="473.3" rx="5.0" ry="3.6" transform="rotate(0 175.3 473.3)" fill="url(#nucg)" opacity="0.68"/>
<ellipse cx="224.6" cy="477.4" rx="3.9" ry="2.8" transform="rotate(0 224.6 477.4)" fill="url(#nucg)" opacity="0.68"/>
<ellipse cx="193.0" cy="410.3" rx="4.5" ry="3.4" transform="rotate(0 193.0 410.3)" fill="url(#nucg)" opacity="0.57"/>
<ellipse cx="207.5" cy="410.8" rx="3.9" ry="3.4" transform="rotate(0 207.5 410.8)" fill="url(#nucg)" opacity="0.57"/>
</g>
</g>
<rect x="159.5" y="408.8" width="70.3" height="70.0" fill="none" stroke="#bbb" stroke-width="0.5"/>
<text x="161.50" y="417.40" font-size="7.95" fill="#62e6de" font-weight="bold">Hoechst 33342</text>
<text x="161.50" y="425.80" font-size="7.95" fill="#ff2418" font-weight="bold">TMRE</text>
<clipPath id="c4"><rect x="13.9" y="481.1" width="70.3" height="70.0"/></clipPath>
<rect x="13.90" y="481.10" width="70.30" height="70.00" fill="#050505"/>
<g clip-path="url(#c4)">
<g filter="url(#soft2)" opacity="0.08">
<ellipse cx="19.1" cy="502.4" rx="6.8" ry="6.5" fill="#2a8c84"/>
<ellipse cx="31.9" cy="503.0" rx="6.5" ry="6.5" fill="#2a8c84"/>
<ellipse cx="48.0" cy="509.1" rx="7.8" ry="7.5" fill="#2a8c84"/>
<ellipse cx="63.5" cy="511.3" rx="7.0" ry="6.2" fill="#2a8c84"/>
<ellipse cx="67.9" cy="511.3" rx="6.5" ry="6.2" fill="#2a8c84"/>
<ellipse cx="75.7" cy="516.8" rx="5.5" ry="5.5" fill="#2a8c84"/>
<ellipse cx="28.6" cy="522.9" rx="7.0" ry="7.0" fill="#2a8c84"/>
<ellipse cx="41.9" cy="527.4" rx="7.0" ry="7.2" fill="#2a8c84"/>
<ellipse cx="55.7" cy="525.7" rx="7.2" ry="7.2" fill="#2a8c84"/>
<ellipse cx="78.5" cy="527.4" rx="7.5" ry="7.8" fill="#2a8c84"/>
<ellipse cx="65.7" cy="537.4" rx="7.0" ry="6.2" fill="#2a8c84"/>
<ellipse cx="72.4" cy="545.1" rx="7.0" ry="7.0" fill="#2a8c84"/>
<ellipse cx="53.0" cy="543.5" rx="7.5" ry="6.0" fill="#2a8c84"/>
<ellipse cx="50.7" cy="491.3" rx="6.5" ry="5.5" fill="#2a8c84"/>
<ellipse cx="21.9" cy="493.5" rx="6.5" ry="5.5" fill="#2a8c84"/>
<ellipse cx="78.5" cy="494.6" rx="6.0" ry="6.0" fill="#2a8c84"/>
<ellipse cx="29.7" cy="542.4" rx="7.0" ry="6.0" fill="#2a8c84"/>
</g>
<g filter="url(#tex)">
<ellipse cx="19.1" cy="502.4" rx="3.2" ry="3.5" transform="rotate(0 19.1 502.4)" fill="url(#nucg)" opacity="0.65"/>
<ellipse cx="31.9" cy="503.0" rx="3.0" ry="3.5" transform="rotate(0 31.9 503.0)" fill="url(#nucg)" opacity="0.68"/>
<ellipse cx="48.0" cy="509.1" rx="4.2" ry="4.5" transform="rotate(0 48.0 509.1)" fill="url(#nucg)" opacity="0.72"/>
<ellipse cx="63.5" cy="511.3" rx="3.5" ry="3.2" transform="rotate(0 63.5 511.3)" fill="url(#nucg)" opacity="0.68"/>
<ellipse cx="67.9" cy="511.3" rx="3.0" ry="3.2" transform="rotate(0 67.9 511.3)" fill="url(#nucg)" opacity="0.65"/>
<ellipse cx="75.7" cy="516.8" rx="2.0" ry="2.5" transform="rotate(0 75.7 516.8)" fill="url(#nucg)" opacity="0.57"/>
<ellipse cx="28.6" cy="522.9" rx="3.5" ry="4.0" transform="rotate(0 28.6 522.9)" fill="url(#nucg)" opacity="0.68"/>
<ellipse cx="41.9" cy="527.4" rx="3.5" ry="4.2" transform="rotate(0 41.9 527.4)" fill="url(#nucg)" opacity="0.68"/>
<ellipse cx="55.7" cy="525.7" rx="3.8" ry="4.2" transform="rotate(0 55.7 525.7)" fill="url(#nucg)" opacity="0.72"/>
<ellipse cx="78.5" cy="527.4" rx="4.0" ry="4.8" transform="rotate(-20 78.5 527.4)" fill="url(#nucg)" opacity="0.72"/>
<ellipse cx="65.7" cy="537.4" rx="3.5" ry="3.2" transform="rotate(0 65.7 537.4)" fill="url(#nucg)" opacity="0.65"/>
<ellipse cx="72.4" cy="545.1" rx="3.5" ry="4.0" transform="rotate(0 72.4 545.1)" fill="url(#nucg)" opacity="0.65"/>
<ellipse cx="53.0" cy="543.5" rx="4.0" ry="3.0" transform="rotate(0 53.0 543.5)" fill="url(#nucg)" opacity="0.57"/>
<ellipse cx="50.7" cy="491.3" rx="3.0" ry="2.5" transform="rotate(0 50.7 491.3)" fill="url(#nucg)" opacity="0.54"/>
<ellipse cx="21.9" cy="493.5" rx="3.0" ry="2.5" transform="rotate(0 21.9 493.5)" fill="url(#nucg)" opacity="0.50"/>
<ellipse cx="78.5" cy="494.6" rx="2.5" ry="3.0" transform="rotate(0 78.5 494.6)" fill="url(#nucg)" opacity="0.54"/>
<ellipse cx="29.7" cy="542.4" rx="3.5" ry="3.0" transform="rotate(0 29.7 542.4)" fill="url(#nucg)" opacity="0.50"/>
</g>
</g>
<rect x="13.9" y="481.1" width="70.3" height="70.0" fill="none" stroke="#bbb" stroke-width="0.5"/>
<text x="15.90" y="489.70" font-size="7.95" fill="#62e6de" font-weight="bold">Hoechst 33342</text>
<text x="16.10" y="538.50" font-size="7.9" fill="#e8e8e8">shScramble</text>
<text x="16.10" y="547.90" font-size="7.9" fill="#e8e8e8">CCCP</text>
<clipPath id="c5"><rect x="86.7" y="481.1" width="70.3" height="70.0"/></clipPath>
<rect x="86.70" y="481.10" width="70.30" height="70.00" fill="#050505"/>
<g clip-path="url(#c5)">
<g filter="url(#soft)">
<g filter="url(#tex)">
<ellipse cx="91.9" cy="502.4" rx="4.9" ry="5.2" transform="rotate(0 91.9 502.4)" fill="none" stroke="rgb(76,7,3)" stroke-width="1.3" stroke-dasharray="3.6 0.9" stroke-dashoffset="1.7"/>
<ellipse cx="92.4" cy="501.5" rx="7.3" ry="7.2" transform="rotate(15 91.9 502.4)" fill="none" stroke="rgb(76,7,3)" stroke-width="1.0" stroke-dasharray="1.0 1.0" stroke-dashoffset="1.5" opacity="0.85"/>
<ellipse cx="104.7" cy="503.0" rx="4.9" ry="5.4" transform="rotate(0 104.7 503.0)" fill="none" stroke="rgb(76,7,3)" stroke-width="1.3" stroke-dasharray="2.5 1.1" stroke-dashoffset="1.9"/>
<ellipse cx="104.8" cy="503.7" rx="6.5" ry="6.6" transform="rotate(4 104.7 503.0)" fill="none" stroke="rgb(76,7,3)" stroke-width="1.0" stroke-dasharray="1.4 1.4" stroke-dashoffset="3.3" opacity="0.85"/>
<ellipse cx="120.8" cy="509.1" rx="6.0" ry="6.3" transform="rotate(0 120.8 509.1)" fill="none" stroke="rgb(76,7,3)" stroke-width="1.3" stroke-dasharray="2.8 0.8" stroke-dashoffset="1.4"/>
<ellipse cx="120.0" cy="510.2" rx="7.7" ry="7.5" transform="rotate(20 120.8 509.1)" fill="none" stroke="rgb(76,7,3)" stroke-width="1.0" stroke-dasharray="1.0 2.2" stroke-dashoffset="1.8" opacity="0.85"/>
<ellipse cx="136.3" cy="511.3" rx="5.2" ry="5.0" transform="rotate(0 136.3 511.3)" fill="none" stroke="rgb(76,7,3)" stroke-width="1.3" stroke-dasharray="3.6 0.6" stroke-dashoffset="3.9"/>
<ellipse cx="135.4" cy="512.1" rx="7.6" ry="7.0" transform="rotate(8 136.3 511.3)" fill="none" stroke="rgb(76,7,3)" stroke-width="1.0" stroke-dasharray="1.2 1.4" stroke-dashoffset="3.1" opacity="0.85"/>
<ellipse cx="140.7" cy="511.3" rx="5.0" ry="5.3" transform="rotate(0 140.7 511.3)" fill="none" stroke="rgb(76,7,3)" stroke-width="1.3" stroke-dasharray="2.9 1.1" stroke-dashoffset="1.9"/>
<ellipse cx="141.4" cy="510.3" rx="6.8" ry="6.7" transform="rotate(-14 140.7 511.3)" fill="none" stroke="rgb(76,7,3)" stroke-width="1.0" stroke-dasharray="1.0 0.9" stroke-dashoffset="2.3" opacity="0.85"/>
<ellipse cx="148.5" cy="516.8" rx="4.2" ry="4.7" transform="rotate(0 148.5 516.8)" fill="none" stroke="rgb(76,7,3)" stroke-width="1.3" stroke-dasharray="2.7 1.1" stroke-dashoffset="2.3"/>
<ellipse cx="149.5" cy="516.3" rx="5.8" ry="5.9" transform="rotate(-8 148.5 516.8)" fill="none" stroke="rgb(76,7,3)" stroke-width="1.0" stroke-dasharray="1.0 1.2" stroke-dashoffset="3.4" opacity="0.85"/>
<ellipse cx="101.4" cy="522.9" rx="5.6" ry="6.1" transform="rotate(0 101.4 522.9)" fill="none" stroke="rgb(76,7,3)" stroke-width="1.3" stroke-dasharray="3.3 1.0" stroke-dashoffset="1.7"/>
<ellipse cx="100.7" cy="522.6" rx="8.0" ry="8.1" transform="rotate(-8 101.4 522.9)" fill="none" stroke="rgb(76,7,3)" stroke-width="1.0" stroke-dasharray="1.6 1.3" stroke-dashoffset="3.0" opacity="0.85"/>
<ellipse cx="114.7" cy="527.4" rx="5.5" ry="6.3" transform="rotate(0 114.7 527.4)" fill="none" stroke="rgb(76,7,3)" stroke-width="1.3" stroke-dasharray="3.5 0.8" stroke-dashoffset="3.7"/>
<ellipse cx="115.3" cy="527.6" rx="6.9" ry="7.3" transform="rotate(-3 114.7 527.4)" fill="none" stroke="rgb(76,7,3)" stroke-width="1.0" stroke-dasharray="1.2 1.3" stroke-dashoffset="1.9" opacity="0.85"/>
<ellipse cx="128.5" cy="525.7" rx="5.8" ry="6.3" transform="rotate(0 128.5 525.7)" fill="none" stroke="rgb(76,7,3)" stroke-width="1.3" stroke-dasharray="2.9 0.6" stroke-dashoffset="3.8"/>
<ellipse cx="129.1" cy="525.4" rx="8.0" ry="8.1" transform="rotate(9 128.5 525.7)" fill="none" stroke="rgb(76,7,3)" stroke-width="1.0" stroke-dasharray="1.5 1.8" stroke-dashoffset="0.2" opacity="0.85"/>
<ellipse cx="151.3" cy="527.4" rx="6.0" ry="6.7" transform="rotate(-20 151.3 527.4)" fill="none" stroke="rgb(76,7,3)" stroke-width="1.3" stroke-dasharray="3.2 0.8" stroke-dashoffset="2.9"/>
<ellipse cx="151.8" cy="526.8" rx="8.2" ry="8.6" transform="rotate(-4 151.3 527.4)" fill="none" stroke="rgb(76,7,3)" stroke-width="1.0" stroke-dasharray="1.7 2.2" stroke-dashoffset="3.9" opacity="0.85"/>
<ellipse cx="138.5" cy="537.4" rx="5.3" ry="5.0" transform="rotate(0 138.5 537.4)" fill="none" stroke="rgb(76,7,3)" stroke-width="1.3" stroke-dasharray="3.3 1.1" stroke-dashoffset="3.0"/>
<ellipse cx="139.4" cy="536.5" rx="7.1" ry="6.4" transform="rotate(-4 138.5 537.4)" fill="none" stroke="rgb(76,7,3)" stroke-width="1.0" stroke-dasharray="1.6 2.3" stroke-dashoffset="3.3" opacity="0.85"/>
<ellipse cx="145.2" cy="545.1" rx="5.6" ry="6.1" transform="rotate(0 145.2 545.1)" fill="none" stroke="rgb(76,7,3)" stroke-width="1.3" stroke-dasharray="3.0 0.7" stroke-dashoffset="3.5"/>
<ellipse cx="144.5" cy="544.9" rx="7.5" ry="7.6" transform="rotate(-23 145.2 545.1)" fill="none" stroke="rgb(76,7,3)" stroke-width="1.0" stroke-dasharray="1.3 2.1" stroke-dashoffset="0.9" opacity="0.85"/>
<ellipse cx="125.8" cy="543.5" rx="5.8" ry="4.8" transform="rotate(0 125.8 543.5)" fill="none" stroke="rgb(76,7,3)" stroke-width="1.3" stroke-dasharray="3.3 0.8" stroke-dashoffset="0.0"/>
<ellipse cx="125.0" cy="542.8" rx="7.5" ry="6.1" transform="rotate(-4 125.8 543.5)" fill="none" stroke="rgb(76,7,3)" stroke-width="1.0" stroke-dasharray="0.9 2.0" stroke-dashoffset="3.9" opacity="0.85"/>
<ellipse cx="123.5" cy="491.3" rx="4.6" ry="4.1" transform="rotate(0 123.5 491.3)" fill="none" stroke="rgb(76,7,3)" stroke-width="1.3" stroke-dasharray="3.6 0.9" stroke-dashoffset="3.9"/>
<ellipse cx="124.0" cy="492.3" rx="6.9" ry="6.0" transform="rotate(10 123.5 491.3)" fill="none" stroke="rgb(76,7,3)" stroke-width="1.0" stroke-dasharray="0.8 1.1" stroke-dashoffset="1.7" opacity="0.85"/>
<ellipse cx="94.7" cy="493.5" rx="4.8" ry="4.3" transform="rotate(0 94.7 493.5)" fill="none" stroke="rgb(76,7,3)" stroke-width="1.3" stroke-dasharray="3.2 0.6" stroke-dashoffset="0.9"/>
<ellipse cx="94.9" cy="494.3" rx="7.2" ry="6.3" transform="rotate(-1 94.7 493.5)" fill="none" stroke="rgb(76,7,3)" stroke-width="1.0" stroke-dasharray="0.9 0.9" stroke-dashoffset="0.7" opacity="0.85"/>
<ellipse cx="151.3" cy="494.6" rx="4.7" ry="5.2" transform="rotate(0 151.3 494.6)" fill="none" stroke="rgb(76,7,3)" stroke-width="1.3" stroke-dasharray="2.9 0.5" stroke-dashoffset="3.4"/>
<ellipse cx="150.2" cy="493.9" rx="6.2" ry="6.3" transform="rotate(16 151.3 494.6)" fill="none" stroke="rgb(76,7,3)" stroke-width="1.0" stroke-dasharray="1.3 2.2" stroke-dashoffset="3.6" opacity="0.85"/>
<ellipse cx="102.5" cy="542.4" rx="5.4" ry="4.9" transform="rotate(0 102.5 542.4)" fill="none" stroke="rgb(76,7,3)" stroke-width="1.3" stroke-dasharray="2.6 1.0" stroke-dashoffset="1.8"/>
<ellipse cx="103.4" cy="543.3" rx="7.3" ry="6.4" transform="rotate(-17 102.5 542.4)" fill="none" stroke="rgb(76,7,3)" stroke-width="1.0" stroke-dasharray="1.1 1.9" stroke-dashoffset="0.6" opacity="0.85"/>
</g>
</g>
</g>
<rect x="86.7" y="481.1" width="70.3" height="70.0" fill="none" stroke="#bbb" stroke-width="0.5"/>
<text x="88.70" y="489.70" font-size="7.95" fill="#ff2418" font-weight="bold">TMRE</text>
<clipPath id="c6"><rect x="159.5" y="481.1" width="70.3" height="70.0"/></clipPath>
<rect x="159.50" y="481.10" width="70.30" height="70.00" fill="#050505"/>
<g clip-path="url(#c6)">
<g filter="url(#soft)">
<g filter="url(#tex)">
<ellipse cx="164.7" cy="502.4" rx="4.9" ry="5.2" transform="rotate(0 164.7 502.4)" fill="none" stroke="rgb(76,7,3)" stroke-width="1.3" stroke-dasharray="3.6 0.9" stroke-dashoffset="1.7"/>
<ellipse cx="165.2" cy="501.5" rx="7.3" ry="7.2" transform="rotate(15 164.7 502.4)" fill="none" stroke="rgb(76,7,3)" stroke-width="1.0" stroke-dasharray="1.0 1.0" stroke-dashoffset="1.5" opacity="0.85"/>
<ellipse cx="177.5" cy="503.0" rx="4.9" ry="5.4" transform="rotate(0 177.5 503.0)" fill="none" stroke="rgb(76,7,3)" stroke-width="1.3" stroke-dasharray="2.5 1.1" stroke-dashoffset="1.9"/>
<ellipse cx="177.6" cy="503.7" rx="6.5" ry="6.6" transform="rotate(4 177.5 503.0)" fill="none" stroke="rgb(76,7,3)" stroke-width="1.0" stroke-dasharray="1.4 1.4" stroke-dashoffset="3.3" opacity="0.85"/>
<ellipse cx="193.6" cy="509.1" rx="6.0" ry="6.3" transform="rotate(0 193.6 509.1)" fill="none" stroke="rgb(76,7,3)" stroke-width="1.3" stroke-dasharray="2.8 0.8" stroke-dashoffset="1.4"/>
<ellipse cx="192.8" cy="510.2" rx="7.7" ry="7.5" transform="rotate(20 193.6 509.1)" fill="none" stroke="rgb(76,7,3)" stroke-width="1.0" stroke-dasharray="1.0 2.2" stroke-dashoffset="1.8" opacity="0.85"/>
<ellipse cx="209.1" cy="511.3" rx="5.2" ry="5.0" transform="rotate(0 209.1 511.3)" fill="none" stroke="rgb(76,7,3)" stroke-width="1.3" stroke-dasharray="3.6 0.6" stroke-dashoffset="3.9"/>
<ellipse cx="208.2" cy="512.1" rx="7.6" ry="7.0" transform="rotate(8 209.1 511.3)" fill="none" stroke="rgb(76,7,3)" stroke-width="1.0" stroke-dasharray="1.2 1.4" stroke-dashoffset="3.1" opacity="0.85"/>
<ellipse cx="213.5" cy="511.3" rx="5.0" ry="5.3" transform="rotate(0 213.5 511.3)" fill="none" stroke="rgb(76,7,3)" stroke-width="1.3" stroke-dasharray="2.9 1.1" stroke-dashoffset="1.9"/>
<ellipse cx="214.2" cy="510.3" rx="6.8" ry="6.7" transform="rotate(-14 213.5 511.3)" fill="none" stroke="rgb(76,7,3)" stroke-width="1.0" stroke-dasharray="1.0 0.9" stroke-dashoffset="2.3" opacity="0.85"/>
<ellipse cx="221.3" cy="516.8" rx="4.2" ry="4.7" transform="rotate(0 221.3 516.8)" fill="none" stroke="rgb(76,7,3)" stroke-width="1.3" stroke-dasharray="2.7 1.1" stroke-dashoffset="2.3"/>
<ellipse cx="222.3" cy="516.3" rx="5.8" ry="5.9" transform="rotate(-8 221.3 516.8)" fill="none" stroke="rgb(76,7,3)" stroke-width="1.0" stroke-dasharray="1.0 1.2" stroke-dashoffset="3.4" opacity="0.85"/>
<ellipse cx="174.2" cy="522.9" rx="5.6" ry="6.1" transform="rotate(0 174.2 522.9)" fill="none" stroke="rgb(76,7,3)" stroke-width="1.3" stroke-dasharray="3.3 1.0" stroke-dashoffset="1.7"/>
<ellipse cx="173.5" cy="522.6" rx="8.0" ry="8.1" transform="rotate(-8 174.2 522.9)" fill="none" stroke="rgb(76,7,3)" stroke-width="1.0" stroke-dasharray="1.6 1.3" stroke-dashoffset="3.0" opacity="0.85"/>
<ellipse cx="187.5" cy="527.4" rx="5.5" ry="6.3" transform="rotate(0 187.5 527.4)" fill="none" stroke="rgb(76,7,3)" stroke-width="1.3" stroke-dasharray="3.5 0.8" stroke-dashoffset="3.7"/>
<ellipse cx="188.1" cy="527.6" rx="6.9" ry="7.3" transform="rotate(-3 187.5 527.4)" fill="none" stroke="rgb(76,7,3)" stroke-width="1.0" stroke-dasharray="1.2 1.3" stroke-dashoffset="1.9" opacity="0.85"/>
<ellipse cx="201.3" cy="525.7" rx="5.8" ry="6.3" transform="rotate(0 201.3 525.7)" fill="none" stroke="rgb(76,7,3)" stroke-width="1.3" stroke-dasharray="2.9 0.6" stroke-dashoffset="3.8"/>
<ellipse cx="201.9" cy="525.4" rx="8.0" ry="8.1" transform="rotate(9 201.3 525.7)" fill="none" stroke="rgb(76,7,3)" stroke-width="1.0" stroke-dasharray="1.5 1.8" stroke-dashoffset="0.2" opacity="0.85"/>
<ellipse cx="224.1" cy="527.4" rx="6.0" ry="6.7" transform="rotate(-20 224.1 527.4)" fill="none" stroke="rgb(76,7,3)" stroke-width="1.3" stroke-dasharray="3.2 0.8" stroke-dashoffset="2.9"/>
<ellipse cx="224.6" cy="526.8" rx="8.2" ry="8.6" transform="rotate(-4 224.1 527.4)" fill="none" stroke="rgb(76,7,3)" stroke-width="1.0" stroke-dasharray="1.7 2.2" stroke-dashoffset="3.9" opacity="0.85"/>
<ellipse cx="211.3" cy="537.4" rx="5.3" ry="5.0" transform="rotate(0 211.3 537.4)" fill="none" stroke="rgb(76,7,3)" stroke-width="1.3" stroke-dasharray="3.3 1.1" stroke-dashoffset="3.0"/>
<ellipse cx="212.2" cy="536.5" rx="7.1" ry="6.4" transform="rotate(-4 211.3 537.4)" fill="none" stroke="rgb(76,7,3)" stroke-width="1.0" stroke-dasharray="1.6 2.3" stroke-dashoffset="3.3" opacity="0.85"/>
<ellipse cx="218.0" cy="545.1" rx="5.6" ry="6.1" transform="rotate(0 218.0 545.1)" fill="none" stroke="rgb(76,7,3)" stroke-width="1.3" stroke-dasharray="3.0 0.7" stroke-dashoffset="3.5"/>
<ellipse cx="217.3" cy="544.9" rx="7.5" ry="7.6" transform="rotate(-23 218.0 545.1)" fill="none" stroke="rgb(76,7,3)" stroke-width="1.0" stroke-dasharray="1.3 2.1" stroke-dashoffset="0.9" opacity="0.85"/>
<ellipse cx="198.6" cy="543.5" rx="5.8" ry="4.8" transform="rotate(0 198.6 543.5)" fill="none" stroke="rgb(76,7,3)" stroke-width="1.3" stroke-dasharray="3.3 0.8" stroke-dashoffset="0.0"/>
<ellipse cx="197.8" cy="542.8" rx="7.5" ry="6.1" transform="rotate(-4 198.6 543.5)" fill="none" stroke="rgb(76,7,3)" stroke-width="1.0" stroke-dasharray="0.9 2.0" stroke-dashoffset="3.9" opacity="0.85"/>
<ellipse cx="196.3" cy="491.3" rx="4.6" ry="4.1" transform="rotate(0 196.3 491.3)" fill="none" stroke="rgb(76,7,3)" stroke-width="1.3" stroke-dasharray="3.6 0.9" stroke-dashoffset="3.9"/>
<ellipse cx="196.8" cy="492.3" rx="6.9" ry="6.0" transform="rotate(10 196.3 491.3)" fill="none" stroke="rgb(76,7,3)" stroke-width="1.0" stroke-dasharray="0.8 1.1" stroke-dashoffset="1.7" opacity="0.85"/>
<ellipse cx="167.5" cy="493.5" rx="4.8" ry="4.3" transform="rotate(0 167.5 493.5)" fill="none" stroke="rgb(76,7,3)" stroke-width="1.3" stroke-dasharray="3.2 0.6" stroke-dashoffset="0.9"/>
<ellipse cx="167.7" cy="494.3" rx="7.2" ry="6.3" transform="rotate(-1 167.5 493.5)" fill="none" stroke="rgb(76,7,3)" stroke-width="1.0" stroke-dasharray="0.9 0.9" stroke-dashoffset="0.7" opacity="0.85"/>
<ellipse cx="224.1" cy="494.6" rx="4.7" ry="5.2" transform="rotate(0 224.1 494.6)" fill="none" stroke="rgb(76,7,3)" stroke-width="1.3" stroke-dasharray="2.9 0.5" stroke-dashoffset="3.4"/>
<ellipse cx="223.0" cy="493.9" rx="6.2" ry="6.3" transform="rotate(16 224.1 494.6)" fill="none" stroke="rgb(76,7,3)" stroke-width="1.0" stroke-dasharray="1.3 2.2" stroke-dashoffset="3.6" opacity="0.85"/>
<ellipse cx="175.3" cy="542.4" rx="5.4" ry="4.9" transform="rotate(0 175.3 542.4)" fill="none" stroke="rgb(76,7,3)" stroke-width="1.3" stroke-dasharray="2.6 1.0" stroke-dashoffset="1.8"/>
<ellipse cx="176.2" cy="543.3" rx="7.3" ry="6.4" transform="rotate(-17 175.3 542.4)" fill="none" stroke="rgb(76,7,3)" stroke-width="1.0" stroke-dasharray="1.1 1.9" stroke-dashoffset="0.6" opacity="0.85"/>
</g>
</g>
<g filter="url(#soft2)" opacity="0.08">
<ellipse cx="164.7" cy="502.4" rx="6.8" ry="6.5" fill="#2a8c84"/>
<ellipse cx="177.5" cy="503.0" rx="6.5" ry="6.5" fill="#2a8c84"/>
<ellipse cx="193.6" cy="509.1" rx="7.8" ry="7.5" fill="#2a8c84"/>
<ellipse cx="209.1" cy="511.3" rx="7.0" ry="6.2" fill="#2a8c84"/>
<ellipse cx="213.5" cy="511.3" rx="6.5" ry="6.2" fill="#2a8c84"/>
<ellipse cx="221.3" cy="516.8" rx="5.5" ry="5.5" fill="#2a8c84"/>
<ellipse cx="174.2" cy="522.9" rx="7.0" ry="7.0" fill="#2a8c84"/>
<ellipse cx="187.5" cy="527.4" rx="7.0" ry="7.2" fill="#2a8c84"/>
<ellipse cx="201.3" cy="525.7" rx="7.2" ry="7.2" fill="#2a8c84"/>
<ellipse cx="224.1" cy="527.4" rx="7.5" ry="7.8" fill="#2a8c84"/>
<ellipse cx="211.3" cy="537.4" rx="7.0" ry="6.2" fill="#2a8c84"/>
<ellipse cx="218.0" cy="545.1" rx="7.0" ry="7.0" fill="#2a8c84"/>
<ellipse cx="198.6" cy="543.5" rx="7.5" ry="6.0" fill="#2a8c84"/>
<ellipse cx="196.3" cy="491.3" rx="6.5" ry="5.5" fill="#2a8c84"/>
<ellipse cx="167.5" cy="493.5" rx="6.5" ry="5.5" fill="#2a8c84"/>
<ellipse cx="224.1" cy="494.6" rx="6.0" ry="6.0" fill="#2a8c84"/>
<ellipse cx="175.3" cy="542.4" rx="7.0" ry="6.0" fill="#2a8c84"/>
</g>
<g filter="url(#tex)">
<ellipse cx="164.7" cy="502.4" rx="3.2" ry="3.5" transform="rotate(0 164.7 502.4)" fill="url(#nucg)" opacity="0.65"/>
<ellipse cx="177.5" cy="503.0" rx="3.0" ry="3.5" transform="rotate(0 177.5 503.0)" fill="url(#nucg)" opacity="0.68"/>
<ellipse cx="193.6" cy="509.1" rx="4.2" ry="4.5" transform="rotate(0 193.6 509.1)" fill="url(#nucg)" opacity="0.72"/>
<ellipse cx="209.1" cy="511.3" rx="3.5" ry="3.2" transform="rotate(0 209.1 511.3)" fill="url(#nucg)" opacity="0.68"/>
<ellipse cx="213.5" cy="511.3" rx="3.0" ry="3.2" transform="rotate(0 213.5 511.3)" fill="url(#nucg)" opacity="0.65"/>
<ellipse cx="221.3" cy="516.8" rx="2.0" ry="2.5" transform="rotate(0 221.3 516.8)" fill="url(#nucg)" opacity="0.57"/>
<ellipse cx="174.2" cy="522.9" rx="3.5" ry="4.0" transform="rotate(0 174.2 522.9)" fill="url(#nucg)" opacity="0.68"/>
<ellipse cx="187.5" cy="527.4" rx="3.5" ry="4.2" transform="rotate(0 187.5 527.4)" fill="url(#nucg)" opacity="0.68"/>
<ellipse cx="201.3" cy="525.7" rx="3.8" ry="4.2" transform="rotate(0 201.3 525.7)" fill="url(#nucg)" opacity="0.72"/>
<ellipse cx="224.1" cy="527.4" rx="4.0" ry="4.8" transform="rotate(-20 224.1 527.4)" fill="url(#nucg)" opacity="0.72"/>
<ellipse cx="211.3" cy="537.4" rx="3.5" ry="3.2" transform="rotate(0 211.3 537.4)" fill="url(#nucg)" opacity="0.65"/>
<ellipse cx="218.0" cy="545.1" rx="3.5" ry="4.0" transform="rotate(0 218.0 545.1)" fill="url(#nucg)" opacity="0.65"/>
<ellipse cx="198.6" cy="543.5" rx="4.0" ry="3.0" transform="rotate(0 198.6 543.5)" fill="url(#nucg)" opacity="0.57"/>
<ellipse cx="196.3" cy="491.3" rx="3.0" ry="2.5" transform="rotate(0 196.3 491.3)" fill="url(#nucg)" opacity="0.54"/>
<ellipse cx="167.5" cy="493.5" rx="3.0" ry="2.5" transform="rotate(0 167.5 493.5)" fill="url(#nucg)" opacity="0.50"/>
<ellipse cx="224.1" cy="494.6" rx="2.5" ry="3.0" transform="rotate(0 224.1 494.6)" fill="url(#nucg)" opacity="0.54"/>
<ellipse cx="175.3" cy="542.4" rx="3.5" ry="3.0" transform="rotate(0 175.3 542.4)" fill="url(#nucg)" opacity="0.50"/>
</g>
</g>
<rect x="159.5" y="481.1" width="70.3" height="70.0" fill="none" stroke="#bbb" stroke-width="0.5"/>
<text x="161.50" y="489.70" font-size="7.95" fill="#62e6de" font-weight="bold">Hoechst 33342</text>
<text x="161.50" y="498.10" font-size="7.95" fill="#ff2418" font-weight="bold">TMRE</text>
<clipPath id="c7"><rect x="241.0" y="408.8" width="70.3" height="70.0"/></clipPath>
<rect x="241.00" y="408.80" width="70.30" height="70.00" fill="#050505"/>
<g clip-path="url(#c7)">
<g filter="url(#soft2)" opacity="0.1">
<ellipse cx="298.9" cy="424.3" rx="7.5" ry="7.5" fill="#2a8c84"/>
<ellipse cx="306.7" cy="428.2" rx="6.5" ry="6.0" fill="#2a8c84"/>
<ellipse cx="297.8" cy="437.7" rx="8.0" ry="6.5" fill="#2a8c84"/>
<ellipse cx="306.7" cy="443.8" rx="6.0" ry="6.5" fill="#2a8c84"/>
<ellipse cx="257.3" cy="422.1" rx="7.5" ry="6.5" fill="#2a8c84"/>
<ellipse cx="275.6" cy="433.8" rx="7.5" ry="6.5" fill="#2a8c84"/>
<ellipse cx="253.4" cy="441.0" rx="7.0" ry="6.0" fill="#2a8c84"/>
<ellipse cx="272.3" cy="441.5" rx="7.0" ry="6.0" fill="#2a8c84"/>
<ellipse cx="261.2" cy="449.9" rx="7.0" ry="5.5" fill="#2a8c84"/>
<ellipse cx="282.8" cy="453.2" rx="7.0" ry="6.0" fill="#2a8c84"/>
<ellipse cx="290.6" cy="454.8" rx="6.5" ry="6.5" fill="#2a8c84"/>
<ellipse cx="255.7" cy="456.5" rx="6.5" ry="6.0" fill="#2a8c84"/>
<ellipse cx="265.6" cy="459.8" rx="6.5" ry="6.0" fill="#2a8c84"/>
<ellipse cx="270.6" cy="457.6" rx="6.5" ry="6.0" fill="#2a8c84"/>
<ellipse cx="247.9" cy="463.7" rx="7.0" ry="6.0" fill="#2a8c84"/>
<ellipse cx="296.7" cy="463.2" rx="6.5" ry="6.5" fill="#2a8c84"/>
<ellipse cx="289.5" cy="468.7" rx="7.0" ry="7.0" fill="#2a8c84"/>
<ellipse cx="245.1" cy="453.7" rx="6.5" ry="6.0" fill="#2a8c84"/>
<ellipse cx="304.5" cy="461.5" rx="6.5" ry="6.0" fill="#2a8c84"/>
<ellipse cx="305.6" cy="472.6" rx="6.5" ry="6.0" fill="#2a8c84"/>
</g>
<g filter="url(#tex)">
<ellipse cx="298.9" cy="424.3" rx="4.0" ry="4.5" transform="rotate(0 298.9 424.3)" fill="url(#nucg)" opacity="0.86"/>
<ellipse cx="306.7" cy="428.2" rx="3.0" ry="3.0" transform="rotate(0 306.7 428.2)" fill="url(#nucg)" opacity="0.65"/>
<ellipse cx="297.8" cy="437.7" rx="4.5" ry="3.5" transform="rotate(0 297.8 437.7)" fill="url(#nucg)" opacity="0.83"/>
<ellipse cx="306.7" cy="443.8" rx="2.5" ry="3.5" transform="rotate(0 306.7 443.8)" fill="url(#nucg)" opacity="0.79"/>
<ellipse cx="257.3" cy="422.1" rx="4.0" ry="3.5" transform="rotate(0 257.3 422.1)" fill="url(#nucg)" opacity="0.50"/>
<ellipse cx="275.6" cy="433.8" rx="4.0" ry="3.5" transform="rotate(0 275.6 433.8)" fill="url(#nucg)" opacity="0.54"/>
<ellipse cx="253.4" cy="441.0" rx="3.5" ry="3.0" transform="rotate(0 253.4 441.0)" fill="url(#nucg)" opacity="0.54"/>
<ellipse cx="272.3" cy="441.5" rx="3.5" ry="3.0" transform="rotate(0 272.3 441.5)" fill="url(#nucg)" opacity="0.57"/>
<ellipse cx="261.2" cy="449.9" rx="3.5" ry="2.5" transform="rotate(0 261.2 449.9)" fill="url(#nucg)" opacity="0.61"/>
<ellipse cx="282.8" cy="453.2" rx="3.5" ry="3.0" transform="rotate(0 282.8 453.2)" fill="url(#nucg)" opacity="0.79"/>
<ellipse cx="290.6" cy="454.8" rx="3.0" ry="3.5" transform="rotate(0 290.6 454.8)" fill="url(#nucg)" opacity="0.83"/>
<ellipse cx="255.7" cy="456.5" rx="3.0" ry="3.0" transform="rotate(0 255.7 456.5)" fill="url(#nucg)" opacity="0.65"/>
<ellipse cx="265.6" cy="459.8" rx="3.0" ry="3.0" transform="rotate(0 265.6 459.8)" fill="url(#nucg)" opacity="0.68"/>
<ellipse cx="270.6" cy="457.6" rx="3.0" ry="3.0" transform="rotate(0 270.6 457.6)" fill="url(#nucg)" opacity="0.68"/>
<ellipse cx="247.9" cy="463.7" rx="3.5" ry="3.0" transform="rotate(0 247.9 463.7)" fill="url(#nucg)" opacity="0.65"/>
<ellipse cx="296.7" cy="463.2" rx="3.0" ry="3.5" transform="rotate(0 296.7 463.2)" fill="url(#nucg)" opacity="0.75"/>
<ellipse cx="289.5" cy="468.7" rx="3.5" ry="4.0" transform="rotate(0 289.5 468.7)" fill="url(#nucg)" opacity="0.65"/>
<ellipse cx="245.1" cy="453.7" rx="3.0" ry="3.0" transform="rotate(0 245.1 453.7)" fill="url(#nucg)" opacity="0.50"/>
<ellipse cx="304.5" cy="461.5" rx="3.0" ry="3.0" transform="rotate(0 304.5 461.5)" fill="url(#nucg)" opacity="0.50"/>
<ellipse cx="305.6" cy="472.6" rx="3.0" ry="3.0" transform="rotate(0 305.6 472.6)" fill="url(#nucg)" opacity="0.50"/>
</g>
</g>
<rect x="241.0" y="408.8" width="70.3" height="70.0" fill="none" stroke="#bbb" stroke-width="0.5"/>
<text x="243.00" y="417.40" font-size="7.95" fill="#62e6de" font-weight="bold">Hoechst 33342</text>
<text x="243.20" y="475.70" font-size="7.9" fill="#e8e8e8">shCtBP</text>
<clipPath id="c8"><rect x="313.8" y="408.8" width="70.3" height="70.0"/></clipPath>
<rect x="313.80" y="408.80" width="70.30" height="70.00" fill="#050505"/>
<g clip-path="url(#c8)">
<g filter="url(#soft)">
<g filter="url(#tex)">
<ellipse cx="371.7" cy="424.3" rx="5.6" ry="6.1" transform="rotate(0 371.7 424.3)" fill="none" stroke="rgb(122,12,6)" stroke-width="1.1" stroke-dasharray="3.3 0.9" stroke-dashoffset="2.2"/>
<ellipse cx="371.1" cy="424.7" rx="7.6" ry="7.7" transform="rotate(12 371.7 424.3)" fill="none" stroke="rgb(122,12,6)" stroke-width="0.8" stroke-dasharray="1.0 1.8" stroke-dashoffset="1.7" opacity="0.85"/>
<ellipse cx="379.5" cy="428.2" rx="4.7" ry="4.7" transform="rotate(0 379.5 428.2)" fill="none" stroke="rgb(122,12,6)" stroke-width="1.1" stroke-dasharray="3.0 0.9" stroke-dashoffset="0.4"/>
<ellipse cx="378.9" cy="428.1" rx="6.9" ry="6.5" transform="rotate(-23 379.5 428.2)" fill="none" stroke="rgb(122,12,6)" stroke-width="0.8" stroke-dasharray="0.9 1.8" stroke-dashoffset="1.9" opacity="0.85"/>
<ellipse cx="370.6" cy="437.7" rx="6.2" ry="5.2" transform="rotate(0 370.6 437.7)" fill="none" stroke="rgb(122,12,6)" stroke-width="1.1" stroke-dasharray="2.8 0.7" stroke-dashoffset="2.0"/>
<ellipse cx="370.6" cy="436.8" rx="8.4" ry="7.0" transform="rotate(-15 370.6 437.7)" fill="none" stroke="rgb(122,12,6)" stroke-width="0.8" stroke-dasharray="1.3 2.0" stroke-dashoffset="0.2" opacity="0.85"/>
<ellipse cx="379.5" cy="443.8" rx="4.5" ry="5.5" transform="rotate(0 379.5 443.8)" fill="none" stroke="rgb(122,12,6)" stroke-width="1.1" stroke-dasharray="2.7 0.7" stroke-dashoffset="3.2"/>
<ellipse cx="379.8" cy="445.0" rx="6.5" ry="7.1" transform="rotate(-6 379.5 443.8)" fill="none" stroke="rgb(122,12,6)" stroke-width="0.8" stroke-dasharray="1.6 1.0" stroke-dashoffset="3.3" opacity="0.85"/>
<ellipse cx="330.1" cy="422.1" rx="6.1" ry="5.6" transform="rotate(0 330.1 422.1)" fill="none" stroke="rgb(122,12,6)" stroke-width="1.1" stroke-dasharray="3.1 0.9" stroke-dashoffset="3.4"/>
<ellipse cx="330.5" cy="422.8" rx="7.7" ry="6.8" transform="rotate(-24 330.1 422.1)" fill="none" stroke="rgb(122,12,6)" stroke-width="0.8" stroke-dasharray="1.2 1.3" stroke-dashoffset="3.2" opacity="0.85"/>
<ellipse cx="348.4" cy="433.8" rx="5.7" ry="5.2" transform="rotate(0 348.4 433.8)" fill="none" stroke="rgb(122,12,6)" stroke-width="1.1" stroke-dasharray="2.8 0.7" stroke-dashoffset="2.9"/>
<ellipse cx="349.2" cy="433.3" rx="7.3" ry="6.4" transform="rotate(-25 348.4 433.8)" fill="none" stroke="rgb(122,12,6)" stroke-width="0.8" stroke-dasharray="0.9 1.9" stroke-dashoffset="3.5" opacity="0.85"/>
<ellipse cx="326.2" cy="441.0" rx="5.2" ry="4.7" transform="rotate(0 326.2 441.0)" fill="none" stroke="rgb(122,12,6)" stroke-width="1.1" stroke-dasharray="2.5 0.8" stroke-dashoffset="2.6"/>
<ellipse cx="327.0" cy="440.4" rx="7.4" ry="6.5" transform="rotate(6 326.2 441.0)" fill="none" stroke="rgb(122,12,6)" stroke-width="0.8" stroke-dasharray="1.2 2.1" stroke-dashoffset="2.9" opacity="0.85"/>
<ellipse cx="345.1" cy="441.5" rx="5.7" ry="5.2" transform="rotate(0 345.1 441.5)" fill="none" stroke="rgb(122,12,6)" stroke-width="1.1" stroke-dasharray="2.6 0.9" stroke-dashoffset="3.4"/>
<ellipse cx="345.6" cy="440.4" rx="7.3" ry="6.4" transform="rotate(-9 345.1 441.5)" fill="none" stroke="rgb(122,12,6)" stroke-width="0.8" stroke-dasharray="0.9 2.0" stroke-dashoffset="0.4" opacity="0.85"/>
<ellipse cx="334.0" cy="449.9" rx="5.7" ry="4.7" transform="rotate(0 334.0 449.9)" fill="none" stroke="rgb(122,12,6)" stroke-width="1.1" stroke-dasharray="3.2 1.0" stroke-dashoffset="3.5"/>
<ellipse cx="333.4" cy="449.4" rx="7.7" ry="6.3" transform="rotate(-6 334.0 449.9)" fill="none" stroke="rgb(122,12,6)" stroke-width="0.8" stroke-dasharray="1.4 1.3" stroke-dashoffset="2.2" opacity="0.85"/>
<ellipse cx="355.6" cy="453.2" rx="5.4" ry="4.9" transform="rotate(0 355.6 453.2)" fill="none" stroke="rgb(122,12,6)" stroke-width="1.1" stroke-dasharray="3.7 0.6" stroke-dashoffset="1.6"/>
<ellipse cx="356.3" cy="453.9" rx="7.8" ry="6.9" transform="rotate(7 355.6 453.2)" fill="none" stroke="rgb(122,12,6)" stroke-width="0.8" stroke-dasharray="1.1 1.6" stroke-dashoffset="0.3" opacity="0.85"/>
<ellipse cx="363.4" cy="454.8" rx="5.1" ry="5.6" transform="rotate(0 363.4 454.8)" fill="none" stroke="rgb(122,12,6)" stroke-width="1.1" stroke-dasharray="2.2 0.7" stroke-dashoffset="0.9"/>
<ellipse cx="362.6" cy="455.3" rx="6.6" ry="6.7" transform="rotate(-10 363.4 454.8)" fill="none" stroke="rgb(122,12,6)" stroke-width="0.8" stroke-dasharray="1.1 1.0" stroke-dashoffset="1.9" opacity="0.85"/>
<ellipse cx="328.5" cy="456.5" rx="4.8" ry="4.8" transform="rotate(0 328.5 456.5)" fill="none" stroke="rgb(122,12,6)" stroke-width="1.1" stroke-dasharray="3.0 1.1" stroke-dashoffset="2.3"/>
<ellipse cx="329.2" cy="456.2" rx="6.3" ry="5.9" transform="rotate(16 328.5 456.5)" fill="none" stroke="rgb(122,12,6)" stroke-width="0.8" stroke-dasharray="1.7 1.0" stroke-dashoffset="3.9" opacity="0.85"/>
<ellipse cx="338.4" cy="459.8" rx="4.7" ry="4.7" transform="rotate(0 338.4 459.8)" fill="none" stroke="rgb(122,12,6)" stroke-width="1.1" stroke-dasharray="3.3 0.9" stroke-dashoffset="2.5"/>
<ellipse cx="339.2" cy="458.9" rx="6.3" ry="5.9" transform="rotate(-12 338.4 459.8)" fill="none" stroke="rgb(122,12,6)" stroke-width="0.8" stroke-dasharray="1.4 0.9" stroke-dashoffset="0.2" opacity="0.85"/>
<ellipse cx="343.4" cy="457.6" rx="4.7" ry="4.7" transform="rotate(0 343.4 457.6)" fill="none" stroke="rgb(122,12,6)" stroke-width="1.1" stroke-dasharray="3.4 0.8" stroke-dashoffset="3.8"/>
<ellipse cx="343.8" cy="456.7" rx="7.1" ry="6.7" transform="rotate(1 343.4 457.6)" fill="none" stroke="rgb(122,12,6)" stroke-width="0.8" stroke-dasharray="1.5 1.1" stroke-dashoffset="3.0" opacity="0.85"/>
<ellipse cx="320.7" cy="463.7" rx="5.7" ry="5.2" transform="rotate(0 320.7 463.7)" fill="none" stroke="rgb(122,12,6)" stroke-width="1.1" stroke-dasharray="3.3 0.5" stroke-dashoffset="1.1"/>
<ellipse cx="320.0" cy="464.1" rx="7.7" ry="6.8" transform="rotate(12 320.7 463.7)" fill="none" stroke="rgb(122,12,6)" stroke-width="0.8" stroke-dasharray="1.6 0.9" stroke-dashoffset="1.0" opacity="0.85"/>
<ellipse cx="369.5" cy="463.2" rx="5.1" ry="5.6" transform="rotate(0 369.5 463.2)" fill="none" stroke="rgb(122,12,6)" stroke-width="1.1" stroke-dasharray="2.2 0.5" stroke-dashoffset="1.9"/>
<ellipse cx="369.8" cy="462.1" rx="7.1" ry="7.2" transform="rotate(-22 369.5 463.2)" fill="none" stroke="rgb(122,12,6)" stroke-width="0.8" stroke-dasharray="0.8 2.2" stroke-dashoffset="3.5" opacity="0.85"/>
<ellipse cx="362.3" cy="468.7" rx="5.3" ry="5.8" transform="rotate(0 362.3 468.7)" fill="none" stroke="rgb(122,12,6)" stroke-width="1.1" stroke-dasharray="2.3 1.0" stroke-dashoffset="3.6"/>
<ellipse cx="361.8" cy="469.1" rx="7.5" ry="7.6" transform="rotate(23 362.3 468.7)" fill="none" stroke="rgb(122,12,6)" stroke-width="0.8" stroke-dasharray="1.3 1.7" stroke-dashoffset="2.5" opacity="0.85"/>
<ellipse cx="317.9" cy="453.7" rx="4.8" ry="4.8" transform="rotate(0 317.9 453.7)" fill="none" stroke="rgb(122,12,6)" stroke-width="1.1" stroke-dasharray="3.7 1.0" stroke-dashoffset="0.1"/>
<ellipse cx="319.0" cy="453.0" rx="6.3" ry="5.9" transform="rotate(-13 317.9 453.7)" fill="none" stroke="rgb(122,12,6)" stroke-width="0.8" stroke-dasharray="1.0 1.2" stroke-dashoffset="1.6" opacity="0.85"/>
<ellipse cx="377.3" cy="461.5" rx="4.9" ry="4.9" transform="rotate(0 377.3 461.5)" fill="none" stroke="rgb(122,12,6)" stroke-width="1.1" stroke-dasharray="3.1 0.5" stroke-dashoffset="2.8"/>
<ellipse cx="376.4" cy="462.4" rx="7.0" ry="6.6" transform="rotate(13 377.3 461.5)" fill="none" stroke="rgb(122,12,6)" stroke-width="0.8" stroke-dasharray="1.3 2.3" stroke-dashoffset="3.3" opacity="0.85"/>
<ellipse cx="378.4" cy="472.6" rx="4.9" ry="4.9" transform="rotate(0 378.4 472.6)" fill="none" stroke="rgb(122,12,6)" stroke-width="1.1" stroke-dasharray="2.9 0.5" stroke-dashoffset="1.0"/>
<ellipse cx="379.3" cy="473.6" rx="6.9" ry="6.5" transform="rotate(-12 378.4 472.6)" fill="none" stroke="rgb(122,12,6)" stroke-width="0.8" stroke-dasharray="1.7 1.3" stroke-dashoffset="3.4" opacity="0.85"/>
</g>
</g>
</g>
<rect x="313.8" y="408.8" width="70.3" height="70.0" fill="none" stroke="#bbb" stroke-width="0.5"/>
<text x="315.80" y="417.40" font-size="7.95" fill="#ff2418" font-weight="bold">TMRE</text>
<clipPath id="c9"><rect x="386.6" y="408.8" width="70.3" height="70.0"/></clipPath>
<rect x="386.60" y="408.80" width="70.30" height="70.00" fill="#050505"/>
<g clip-path="url(#c9)">
<g filter="url(#soft)">
<g filter="url(#tex)">
<ellipse cx="444.5" cy="424.3" rx="5.6" ry="6.1" transform="rotate(0 444.5 424.3)" fill="none" stroke="rgb(122,12,6)" stroke-width="1.1" stroke-dasharray="3.3 0.9" stroke-dashoffset="2.2"/>
<ellipse cx="443.9" cy="424.7" rx="7.6" ry="7.7" transform="rotate(12 444.5 424.3)" fill="none" stroke="rgb(122,12,6)" stroke-width="0.8" stroke-dasharray="1.0 1.8" stroke-dashoffset="1.7" opacity="0.85"/>
<ellipse cx="452.3" cy="428.2" rx="4.7" ry="4.7" transform="rotate(0 452.3 428.2)" fill="none" stroke="rgb(122,12,6)" stroke-width="1.1" stroke-dasharray="3.0 0.9" stroke-dashoffset="0.4"/>
<ellipse cx="451.7" cy="428.1" rx="6.9" ry="6.5" transform="rotate(-23 452.3 428.2)" fill="none" stroke="rgb(122,12,6)" stroke-width="0.8" stroke-dasharray="0.9 1.8" stroke-dashoffset="1.9" opacity="0.85"/>
<ellipse cx="443.4" cy="437.7" rx="6.2" ry="5.2" transform="rotate(0 443.4 437.7)" fill="none" stroke="rgb(122,12,6)" stroke-width="1.1" stroke-dasharray="2.8 0.7" stroke-dashoffset="2.0"/>
<ellipse cx="443.4" cy="436.8" rx="8.4" ry="7.0" transform="rotate(-15 443.4 437.7)" fill="none" stroke="rgb(122,12,6)" stroke-width="0.8" stroke-dasharray="1.3 2.0" stroke-dashoffset="0.2" opacity="0.85"/>
<ellipse cx="452.3" cy="443.8" rx="4.5" ry="5.5" transform="rotate(0 452.3 443.8)" fill="none" stroke="rgb(122,12,6)" stroke-width="1.1" stroke-dasharray="2.7 0.7" stroke-dashoffset="3.2"/>
<ellipse cx="452.6" cy="445.0" rx="6.5" ry="7.1" transform="rotate(-6 452.3 443.8)" fill="none" stroke="rgb(122,12,6)" stroke-width="0.8" stroke-dasharray="1.6 1.0" stroke-dashoffset="3.3" opacity="0.85"/>
<ellipse cx="402.9" cy="422.1" rx="6.1" ry="5.6" transform="rotate(0 402.9 422.1)" fill="none" stroke="rgb(122,12,6)" stroke-width="1.1" stroke-dasharray="3.1 0.9" stroke-dashoffset="3.4"/>
<ellipse cx="403.3" cy="422.8" rx="7.7" ry="6.8" transform="rotate(-24 402.9 422.1)" fill="none" stroke="rgb(122,12,6)" stroke-width="0.8" stroke-dasharray="1.2 1.3" stroke-dashoffset="3.2" opacity="0.85"/>
<ellipse cx="421.2" cy="433.8" rx="5.7" ry="5.2" transform="rotate(0 421.2 433.8)" fill="none" stroke="rgb(122,12,6)" stroke-width="1.1" stroke-dasharray="2.8 0.7" stroke-dashoffset="2.9"/>
<ellipse cx="422.0" cy="433.3" rx="7.3" ry="6.4" transform="rotate(-25 421.2 433.8)" fill="none" stroke="rgb(122,12,6)" stroke-width="0.8" stroke-dasharray="0.9 1.9" stroke-dashoffset="3.5" opacity="0.85"/>
<ellipse cx="399.0" cy="441.0" rx="5.2" ry="4.7" transform="rotate(0 399.0 441.0)" fill="none" stroke="rgb(122,12,6)" stroke-width="1.1" stroke-dasharray="2.5 0.8" stroke-dashoffset="2.6"/>
<ellipse cx="399.8" cy="440.4" rx="7.4" ry="6.5" transform="rotate(6 399.0 441.0)" fill="none" stroke="rgb(122,12,6)" stroke-width="0.8" stroke-dasharray="1.2 2.1" stroke-dashoffset="2.9" opacity="0.85"/>
<ellipse cx="417.9" cy="441.5" rx="5.7" ry="5.2" transform="rotate(0 417.9 441.5)" fill="none" stroke="rgb(122,12,6)" stroke-width="1.1" stroke-dasharray="2.6 0.9" stroke-dashoffset="3.4"/>
<ellipse cx="418.4" cy="440.4" rx="7.3" ry="6.4" transform="rotate(-9 417.9 441.5)" fill="none" stroke="rgb(122,12,6)" stroke-width="0.8" stroke-dasharray="0.9 2.0" stroke-dashoffset="0.4" opacity="0.85"/>
<ellipse cx="406.8" cy="449.9" rx="5.7" ry="4.7" transform="rotate(0 406.8 449.9)" fill="none" stroke="rgb(122,12,6)" stroke-width="1.1" stroke-dasharray="3.2 1.0" stroke-dashoffset="3.5"/>
<ellipse cx="406.2" cy="449.4" rx="7.7" ry="6.3" transform="rotate(-6 406.8 449.9)" fill="none" stroke="rgb(122,12,6)" stroke-width="0.8" stroke-dasharray="1.4 1.3" stroke-dashoffset="2.2" opacity="0.85"/>
<ellipse cx="428.4" cy="453.2" rx="5.4" ry="4.9" transform="rotate(0 428.4 453.2)" fill="none" stroke="rgb(122,12,6)" stroke-width="1.1" stroke-dasharray="3.7 0.6" stroke-dashoffset="1.6"/>
<ellipse cx="429.1" cy="453.9" rx="7.8" ry="6.9" transform="rotate(7 428.4 453.2)" fill="none" stroke="rgb(122,12,6)" stroke-width="0.8" stroke-dasharray="1.1 1.6" stroke-dashoffset="0.3" opacity="0.85"/>
<ellipse cx="436.2" cy="454.8" rx="5.1" ry="5.6" transform="rotate(0 436.2 454.8)" fill="none" stroke="rgb(122,12,6)" stroke-width="1.1" stroke-dasharray="2.2 0.7" stroke-dashoffset="0.9"/>
<ellipse cx="435.4" cy="455.3" rx="6.6" ry="6.7" transform="rotate(-10 436.2 454.8)" fill="none" stroke="rgb(122,12,6)" stroke-width="0.8" stroke-dasharray="1.1 1.0" stroke-dashoffset="1.9" opacity="0.85"/>
<ellipse cx="401.3" cy="456.5" rx="4.8" ry="4.8" transform="rotate(0 401.3 456.5)" fill="none" stroke="rgb(122,12,6)" stroke-width="1.1" stroke-dasharray="3.0 1.1" stroke-dashoffset="2.3"/>
<ellipse cx="402.0" cy="456.2" rx="6.3" ry="5.9" transform="rotate(16 401.3 456.5)" fill="none" stroke="rgb(122,12,6)" stroke-width="0.8" stroke-dasharray="1.7 1.0" stroke-dashoffset="3.9" opacity="0.85"/>
<ellipse cx="411.2" cy="459.8" rx="4.7" ry="4.7" transform="rotate(0 411.2 459.8)" fill="none" stroke="rgb(122,12,6)" stroke-width="1.1" stroke-dasharray="3.3 0.9" stroke-dashoffset="2.5"/>
<ellipse cx="412.0" cy="458.9" rx="6.3" ry="5.9" transform="rotate(-12 411.2 459.8)" fill="none" stroke="rgb(122,12,6)" stroke-width="0.8" stroke-dasharray="1.4 0.9" stroke-dashoffset="0.2" opacity="0.85"/>
<ellipse cx="416.2" cy="457.6" rx="4.7" ry="4.7" transform="rotate(0 416.2 457.6)" fill="none" stroke="rgb(122,12,6)" stroke-width="1.1" stroke-dasharray="3.4 0.8" stroke-dashoffset="3.8"/>
<ellipse cx="416.6" cy="456.7" rx="7.1" ry="6.7" transform="rotate(1 416.2 457.6)" fill="none" stroke="rgb(122,12,6)" stroke-width="0.8" stroke-dasharray="1.5 1.1" stroke-dashoffset="3.0" opacity="0.85"/>
<ellipse cx="393.5" cy="463.7" rx="5.7" ry="5.2" transform="rotate(0 393.5 463.7)" fill="none" stroke="rgb(122,12,6)" stroke-width="1.1" stroke-dasharray="3.3 0.5" stroke-dashoffset="1.1"/>
<ellipse cx="392.8" cy="464.1" rx="7.7" ry="6.8" transform="rotate(12 393.5 463.7)" fill="none" stroke="rgb(122,12,6)" stroke-width="0.8" stroke-dasharray="1.6 0.9" stroke-dashoffset="1.0" opacity="0.85"/>
<ellipse cx="442.3" cy="463.2" rx="5.1" ry="5.6" transform="rotate(0 442.3 463.2)" fill="none" stroke="rgb(122,12,6)" stroke-width="1.1" stroke-dasharray="2.2 0.5" stroke-dashoffset="1.9"/>
<ellipse cx="442.6" cy="462.1" rx="7.1" ry="7.2" transform="rotate(-22 442.3 463.2)" fill="none" stroke="rgb(122,12,6)" stroke-width="0.8" stroke-dasharray="0.8 2.2" stroke-dashoffset="3.5" opacity="0.85"/>
<ellipse cx="435.1" cy="468.7" rx="5.3" ry="5.8" transform="rotate(0 435.1 468.7)" fill="none" stroke="rgb(122,12,6)" stroke-width="1.1" stroke-dasharray="2.3 1.0" stroke-dashoffset="3.6"/>
<ellipse cx="434.6" cy="469.1" rx="7.5" ry="7.6" transform="rotate(23 435.1 468.7)" fill="none" stroke="rgb(122,12,6)" stroke-width="0.8" stroke-dasharray="1.3 1.7" stroke-dashoffset="2.5" opacity="0.85"/>
<ellipse cx="390.7" cy="453.7" rx="4.8" ry="4.8" transform="rotate(0 390.7 453.7)" fill="none" stroke="rgb(122,12,6)" stroke-width="1.1" stroke-dasharray="3.7 1.0" stroke-dashoffset="0.1"/>
<ellipse cx="391.8" cy="453.0" rx="6.3" ry="5.9" transform="rotate(-13 390.7 453.7)" fill="none" stroke="rgb(122,12,6)" stroke-width="0.8" stroke-dasharray="1.0 1.2" stroke-dashoffset="1.6" opacity="0.85"/>
<ellipse cx="450.1" cy="461.5" rx="4.9" ry="4.9" transform="rotate(0 450.1 461.5)" fill="none" stroke="rgb(122,12,6)" stroke-width="1.1" stroke-dasharray="3.1 0.5" stroke-dashoffset="2.8"/>
<ellipse cx="449.2" cy="462.4" rx="7.0" ry="6.6" transform="rotate(13 450.1 461.5)" fill="none" stroke="rgb(122,12,6)" stroke-width="0.8" stroke-dasharray="1.3 2.3" stroke-dashoffset="3.3" opacity="0.85"/>
<ellipse cx="451.2" cy="472.6" rx="4.9" ry="4.9" transform="rotate(0 451.2 472.6)" fill="none" stroke="rgb(122,12,6)" stroke-width="1.1" stroke-dasharray="2.9 0.5" stroke-dashoffset="1.0"/>
<ellipse cx="452.1" cy="473.6" rx="6.9" ry="6.5" transform="rotate(-12 451.2 472.6)" fill="none" stroke="rgb(122,12,6)" stroke-width="0.8" stroke-dasharray="1.7 1.3" stroke-dashoffset="3.4" opacity="0.85"/>
</g>
</g>
<g filter="url(#soft2)" opacity="0.1">
<ellipse cx="444.5" cy="424.3" rx="7.5" ry="7.5" fill="#2a8c84"/>
<ellipse cx="452.3" cy="428.2" rx="6.5" ry="6.0" fill="#2a8c84"/>
<ellipse cx="443.4" cy="437.7" rx="8.0" ry="6.5" fill="#2a8c84"/>
<ellipse cx="452.3" cy="443.8" rx="6.0" ry="6.5" fill="#2a8c84"/>
<ellipse cx="402.9" cy="422.1" rx="7.5" ry="6.5" fill="#2a8c84"/>
<ellipse cx="421.2" cy="433.8" rx="7.5" ry="6.5" fill="#2a8c84"/>
<ellipse cx="399.0" cy="441.0" rx="7.0" ry="6.0" fill="#2a8c84"/>
<ellipse cx="417.9" cy="441.5" rx="7.0" ry="6.0" fill="#2a8c84"/>
<ellipse cx="406.8" cy="449.9" rx="7.0" ry="5.5" fill="#2a8c84"/>
<ellipse cx="428.4" cy="453.2" rx="7.0" ry="6.0" fill="#2a8c84"/>
<ellipse cx="436.2" cy="454.8" rx="6.5" ry="6.5" fill="#2a8c84"/>
<ellipse cx="401.3" cy="456.5" rx="6.5" ry="6.0" fill="#2a8c84"/>
<ellipse cx="411.2" cy="459.8" rx="6.5" ry="6.0" fill="#2a8c84"/>
<ellipse cx="416.2" cy="457.6" rx="6.5" ry="6.0" fill="#2a8c84"/>
<ellipse cx="393.5" cy="463.7" rx="7.0" ry="6.0" fill="#2a8c84"/>
<ellipse cx="442.3" cy="463.2" rx="6.5" ry="6.5" fill="#2a8c84"/>
<ellipse cx="435.1" cy="468.7" rx="7.0" ry="7.0" fill="#2a8c84"/>
<ellipse cx="390.7" cy="453.7" rx="6.5" ry="6.0" fill="#2a8c84"/>
<ellipse cx="450.1" cy="461.5" rx="6.5" ry="6.0" fill="#2a8c84"/>
<ellipse cx="451.2" cy="472.6" rx="6.5" ry="6.0" fill="#2a8c84"/>
</g>
<g filter="url(#tex)">
<ellipse cx="444.5" cy="424.3" rx="4.0" ry="4.5" transform="rotate(0 444.5 424.3)" fill="url(#nucg)" opacity="0.86"/>
<ellipse cx="452.3" cy="428.2" rx="3.0" ry="3.0" transform="rotate(0 452.3 428.2)" fill="url(#nucg)" opacity="0.65"/>
<ellipse cx="443.4" cy="437.7" rx="4.5" ry="3.5" transform="rotate(0 443.4 437.7)" fill="url(#nucg)" opacity="0.83"/>
<ellipse cx="452.3" cy="443.8" rx="2.5" ry="3.5" transform="rotate(0 452.3 443.8)" fill="url(#nucg)" opacity="0.79"/>
<ellipse cx="402.9" cy="422.1" rx="4.0" ry="3.5" transform="rotate(0 402.9 422.1)" fill="url(#nucg)" opacity="0.50"/>
<ellipse cx="421.2" cy="433.8" rx="4.0" ry="3.5" transform="rotate(0 421.2 433.8)" fill="url(#nucg)" opacity="0.54"/>
<ellipse cx="399.0" cy="441.0" rx="3.5" ry="3.0" transform="rotate(0 399.0 441.0)" fill="url(#nucg)" opacity="0.54"/>
<ellipse cx="417.9" cy="441.5" rx="3.5" ry="3.0" transform="rotate(0 417.9 441.5)" fill="url(#nucg)" opacity="0.57"/>
<ellipse cx="406.8" cy="449.9" rx="3.5" ry="2.5" transform="rotate(0 406.8 449.9)" fill="url(#nucg)" opacity="0.61"/>
<ellipse cx="428.4" cy="453.2" rx="3.5" ry="3.0" transform="rotate(0 428.4 453.2)" fill="url(#nucg)" opacity="0.79"/>
<ellipse cx="436.2" cy="454.8" rx="3.0" ry="3.5" transform="rotate(0 436.2 454.8)" fill="url(#nucg)" opacity="0.83"/>
<ellipse cx="401.3" cy="456.5" rx="3.0" ry="3.0" transform="rotate(0 401.3 456.5)" fill="url(#nucg)" opacity="0.65"/>
<ellipse cx="411.2" cy="459.8" rx="3.0" ry="3.0" transform="rotate(0 411.2 459.8)" fill="url(#nucg)" opacity="0.68"/>
<ellipse cx="416.2" cy="457.6" rx="3.0" ry="3.0" transform="rotate(0 416.2 457.6)" fill="url(#nucg)" opacity="0.68"/>
<ellipse cx="393.5" cy="463.7" rx="3.5" ry="3.0" transform="rotate(0 393.5 463.7)" fill="url(#nucg)" opacity="0.65"/>
<ellipse cx="442.3" cy="463.2" rx="3.0" ry="3.5" transform="rotate(0 442.3 463.2)" fill="url(#nucg)" opacity="0.75"/>
<ellipse cx="435.1" cy="468.7" rx="3.5" ry="4.0" transform="rotate(0 435.1 468.7)" fill="url(#nucg)" opacity="0.65"/>
<ellipse cx="390.7" cy="453.7" rx="3.0" ry="3.0" transform="rotate(0 390.7 453.7)" fill="url(#nucg)" opacity="0.50"/>
<ellipse cx="450.1" cy="461.5" rx="3.0" ry="3.0" transform="rotate(0 450.1 461.5)" fill="url(#nucg)" opacity="0.50"/>
<ellipse cx="451.2" cy="472.6" rx="3.0" ry="3.0" transform="rotate(0 451.2 472.6)" fill="url(#nucg)" opacity="0.50"/>
</g>
</g>
<rect x="386.6" y="408.8" width="70.3" height="70.0" fill="none" stroke="#bbb" stroke-width="0.5"/>
<text x="388.60" y="417.40" font-size="7.95" fill="#62e6de" font-weight="bold">Hoechst 33342</text>
<text x="388.60" y="425.80" font-size="7.95" fill="#ff2418" font-weight="bold">TMRE</text>
<clipPath id="c10"><rect x="241.0" y="481.1" width="70.3" height="70.0"/></clipPath>
<rect x="241.00" y="481.10" width="70.30" height="70.00" fill="#050505"/>
<g clip-path="url(#c10)">
<g filter="url(#soft2)" opacity="0.14">
<ellipse cx="285.1" cy="505.7" rx="9.5" ry="7.0" fill="#2a8c84"/>
<ellipse cx="289.5" cy="514.1" rx="7.0" ry="7.0" fill="#2a8c84"/>
<ellipse cx="252.9" cy="511.3" rx="7.5" ry="7.5" fill="#2a8c84"/>
<ellipse cx="271.7" cy="501.9" rx="7.0" ry="6.0" fill="#2a8c84"/>
<ellipse cx="267.9" cy="517.9" rx="6.5" ry="6.5" fill="#2a8c84"/>
<ellipse cx="281.2" cy="516.3" rx="7.5" ry="6.0" fill="#2a8c84"/>
<ellipse cx="252.3" cy="524.1" rx="7.5" ry="7.0" fill="#2a8c84"/>
<ellipse cx="283.4" cy="525.2" rx="8.0" ry="6.5" fill="#2a8c84"/>
<ellipse cx="297.8" cy="526.8" rx="7.5" ry="6.0" fill="#2a8c84"/>
<ellipse cx="305.6" cy="513.5" rx="7.5" ry="7.5" fill="#2a8c84"/>
<ellipse cx="271.2" cy="535.7" rx="8.0" ry="7.0" fill="#2a8c84"/>
<ellipse cx="287.8" cy="538.5" rx="8.5" ry="8.0" fill="#2a8c84"/>
<ellipse cx="303.4" cy="535.1" rx="8.0" ry="6.5" fill="#2a8c84"/>
<ellipse cx="296.2" cy="547.9" rx="7.5" ry="6.0" fill="#2a8c84"/>
<ellipse cx="245.7" cy="536.8" rx="6.5" ry="6.5" fill="#2a8c84"/>
<ellipse cx="242.9" cy="516.8" rx="5.5" ry="6.5" fill="#2a8c84"/>
<ellipse cx="272.3" cy="493.5" rx="6.5" ry="5.5" fill="#2a8c84"/>
</g>
<g filter="url(#tex)">
<ellipse cx="285.1" cy="505.7" rx="6.0" ry="4.0" transform="rotate(-25 285.1 505.7)" fill="url(#nucg)" opacity="0.83"/>
<ellipse cx="289.5" cy="514.1" rx="3.5" ry="4.0" transform="rotate(30 289.5 514.1)" fill="url(#nucg)" opacity="0.86"/>
<ellipse cx="252.9" cy="511.3" rx="4.0" ry="4.5" transform="rotate(0 252.9 511.3)" fill="url(#nucg)" opacity="0.72"/>
<ellipse cx="271.7" cy="501.9" rx="3.5" ry="3.0" transform="rotate(0 271.7 501.9)" fill="url(#nucg)" opacity="0.54"/>
<ellipse cx="267.9" cy="517.9" rx="3.0" ry="3.5" transform="rotate(0 267.9 517.9)" fill="url(#nucg)" opacity="0.65"/>
<ellipse cx="281.2" cy="516.3" rx="4.0" ry="3.0" transform="rotate(0 281.2 516.3)" fill="url(#nucg)" opacity="0.54"/>
<ellipse cx="252.3" cy="524.1" rx="4.0" ry="4.0" transform="rotate(0 252.3 524.1)" fill="url(#nucg)" opacity="0.72"/>
<ellipse cx="283.4" cy="525.2" rx="4.5" ry="3.5" transform="rotate(0 283.4 525.2)" fill="url(#nucg)" opacity="0.57"/>
<ellipse cx="297.8" cy="526.8" rx="4.0" ry="3.0" transform="rotate(0 297.8 526.8)" fill="url(#nucg)" opacity="0.57"/>
<ellipse cx="305.6" cy="513.5" rx="4.0" ry="4.5" transform="rotate(0 305.6 513.5)" fill="url(#nucg)" opacity="0.65"/>
<ellipse cx="271.2" cy="535.7" rx="4.5" ry="4.0" transform="rotate(0 271.2 535.7)" fill="url(#nucg)" opacity="0.72"/>
<ellipse cx="287.8" cy="538.5" rx="5.0" ry="5.0" transform="rotate(0 287.8 538.5)" fill="url(#nucg)" opacity="0.86"/>
<ellipse cx="303.4" cy="535.1" rx="4.5" ry="3.5" transform="rotate(0 303.4 535.1)" fill="url(#nucg)" opacity="0.83"/>
<ellipse cx="296.2" cy="547.9" rx="4.0" ry="3.0" transform="rotate(0 296.2 547.9)" fill="url(#nucg)" opacity="0.68"/>
<ellipse cx="245.7" cy="536.8" rx="3.0" ry="3.5" transform="rotate(0 245.7 536.8)" fill="url(#nucg)" opacity="0.54"/>
<ellipse cx="242.9" cy="516.8" rx="2.0" ry="3.5" transform="rotate(0 242.9 516.8)" fill="url(#nucg)" opacity="0.54"/>
<ellipse cx="272.3" cy="493.5" rx="3.0" ry="2.5" transform="rotate(0 272.3 493.5)" fill="url(#nucg)" opacity="0.54"/>
</g>
</g>
<rect x="241.0" y="481.1" width="70.3" height="70.0" fill="none" stroke="#bbb" stroke-width="0.5"/>
<text x="243.00" y="489.70" font-size="7.95" fill="#62e6de" font-weight="bold">Hoechst 33342</text>
<text x="243.20" y="548.00" font-size="7.9" fill="#e8e8e8">shCREBBP</text>
<clipPath id="c11"><rect x="313.8" y="481.1" width="70.3" height="70.0"/></clipPath>
<rect x="313.80" y="481.10" width="70.30" height="70.00" fill="#050505"/>
<g clip-path="url(#c11)">
<g filter="url(#soft)">
<g filter="url(#tex)">
<ellipse cx="357.9" cy="505.7" rx="7.6" ry="5.6" transform="rotate(-25 357.9 505.7)" fill="none" stroke="rgb(122,12,6)" stroke-width="1.1" stroke-dasharray="3.7 0.6" stroke-dashoffset="0.8"/>
<ellipse cx="357.6" cy="506.8" rx="9.2" ry="6.8" transform="rotate(-26 357.9 505.7)" fill="none" stroke="rgb(122,12,6)" stroke-width="0.8" stroke-dasharray="0.9 1.9" stroke-dashoffset="1.4" opacity="0.85"/>
<ellipse cx="362.3" cy="514.1" rx="5.5" ry="6.0" transform="rotate(30 362.3 514.1)" fill="none" stroke="rgb(122,12,6)" stroke-width="1.1" stroke-dasharray="2.6 1.0" stroke-dashoffset="1.6"/>
<ellipse cx="363.2" cy="513.7" rx="7.8" ry="7.9" transform="rotate(22 362.3 514.1)" fill="none" stroke="rgb(122,12,6)" stroke-width="0.8" stroke-dasharray="1.4 1.2" stroke-dashoffset="3.8" opacity="0.85"/>
<ellipse cx="325.7" cy="511.3" rx="6.2" ry="6.7" transform="rotate(0 325.7 511.3)" fill="none" stroke="rgb(122,12,6)" stroke-width="1.1" stroke-dasharray="3.5 0.5" stroke-dashoffset="1.1"/>
<ellipse cx="325.4" cy="510.4" rx="7.7" ry="7.8" transform="rotate(-15 325.7 511.3)" fill="none" stroke="rgb(122,12,6)" stroke-width="0.8" stroke-dasharray="1.2 0.9" stroke-dashoffset="2.6" opacity="0.85"/>
<ellipse cx="344.5" cy="501.9" rx="5.5" ry="5.0" transform="rotate(0 344.5 501.9)" fill="none" stroke="rgb(122,12,6)" stroke-width="1.1" stroke-dasharray="3.0 0.8" stroke-dashoffset="0.5"/>
<ellipse cx="343.8" cy="501.0" rx="7.6" ry="6.7" transform="rotate(10 344.5 501.9)" fill="none" stroke="rgb(122,12,6)" stroke-width="0.8" stroke-dasharray="1.3 0.9" stroke-dashoffset="2.2" opacity="0.85"/>
<ellipse cx="340.7" cy="517.9" rx="5.0" ry="5.5" transform="rotate(0 340.7 517.9)" fill="none" stroke="rgb(122,12,6)" stroke-width="1.1" stroke-dasharray="3.4 0.8" stroke-dashoffset="1.7"/>
<ellipse cx="339.9" cy="518.0" rx="6.6" ry="6.7" transform="rotate(-24 340.7 517.9)" fill="none" stroke="rgb(122,12,6)" stroke-width="0.8" stroke-dasharray="0.9 1.4" stroke-dashoffset="2.1" opacity="0.85"/>
<ellipse cx="354.0" cy="516.3" rx="6.1" ry="5.1" transform="rotate(0 354.0 516.3)" fill="none" stroke="rgb(122,12,6)" stroke-width="1.1" stroke-dasharray="3.2 0.8" stroke-dashoffset="2.4"/>
<ellipse cx="354.7" cy="516.6" rx="8.0" ry="6.6" transform="rotate(-6 354.0 516.3)" fill="none" stroke="rgb(122,12,6)" stroke-width="0.8" stroke-dasharray="0.9 1.8" stroke-dashoffset="2.3" opacity="0.85"/>
<ellipse cx="325.1" cy="524.1" rx="5.9" ry="5.9" transform="rotate(0 325.1 524.1)" fill="none" stroke="rgb(122,12,6)" stroke-width="1.1" stroke-dasharray="2.4 0.9" stroke-dashoffset="1.0"/>
<ellipse cx="324.8" cy="525.4" rx="8.0" ry="7.6" transform="rotate(-19 325.1 524.1)" fill="none" stroke="rgb(122,12,6)" stroke-width="0.8" stroke-dasharray="1.3 1.2" stroke-dashoffset="1.4" opacity="0.85"/>
<ellipse cx="356.2" cy="525.2" rx="6.4" ry="5.4" transform="rotate(0 356.2 525.2)" fill="none" stroke="rgb(122,12,6)" stroke-width="1.1" stroke-dasharray="2.8 1.0" stroke-dashoffset="0.1"/>
<ellipse cx="355.4" cy="524.6" rx="8.5" ry="7.1" transform="rotate(-20 356.2 525.2)" fill="none" stroke="rgb(122,12,6)" stroke-width="0.8" stroke-dasharray="1.0 1.2" stroke-dashoffset="2.0" opacity="0.85"/>
<ellipse cx="370.6" cy="526.8" rx="5.9" ry="4.9" transform="rotate(0 370.6 526.8)" fill="none" stroke="rgb(122,12,6)" stroke-width="1.1" stroke-dasharray="2.9 1.1" stroke-dashoffset="3.9"/>
<ellipse cx="369.9" cy="526.5" rx="8.0" ry="6.6" transform="rotate(-3 370.6 526.8)" fill="none" stroke="rgb(122,12,6)" stroke-width="0.8" stroke-dasharray="0.8 2.0" stroke-dashoffset="3.6" opacity="0.85"/>
<ellipse cx="378.4" cy="513.5" rx="5.6" ry="6.1" transform="rotate(0 378.4 513.5)" fill="none" stroke="rgb(122,12,6)" stroke-width="1.1" stroke-dasharray="3.0 0.5" stroke-dashoffset="3.4"/>
<ellipse cx="377.7" cy="513.0" rx="7.3" ry="7.4" transform="rotate(-8 378.4 513.5)" fill="none" stroke="rgb(122,12,6)" stroke-width="0.8" stroke-dasharray="1.8 1.8" stroke-dashoffset="0.1" opacity="0.85"/>
<ellipse cx="344.0" cy="535.7" rx="6.4" ry="5.9" transform="rotate(0 344.0 535.7)" fill="none" stroke="rgb(122,12,6)" stroke-width="1.1" stroke-dasharray="3.3 1.0" stroke-dashoffset="0.2"/>
<ellipse cx="344.8" cy="535.3" rx="8.1" ry="7.2" transform="rotate(-22 344.0 535.7)" fill="none" stroke="rgb(122,12,6)" stroke-width="0.8" stroke-dasharray="1.1 1.9" stroke-dashoffset="1.2" opacity="0.85"/>
<ellipse cx="360.6" cy="538.5" rx="6.7" ry="6.7" transform="rotate(0 360.6 538.5)" fill="none" stroke="rgb(122,12,6)" stroke-width="1.1" stroke-dasharray="3.3 0.6" stroke-dashoffset="3.7"/>
<ellipse cx="361.3" cy="539.3" rx="8.3" ry="7.9" transform="rotate(-19 360.6 538.5)" fill="none" stroke="rgb(122,12,6)" stroke-width="0.8" stroke-dasharray="1.6 1.2" stroke-dashoffset="0.5" opacity="0.85"/>
<ellipse cx="376.2" cy="535.1" rx="6.2" ry="5.2" transform="rotate(0 376.2 535.1)" fill="none" stroke="rgb(122,12,6)" stroke-width="1.1" stroke-dasharray="3.1 0.7" stroke-dashoffset="0.7"/>
<ellipse cx="376.4" cy="535.8" rx="8.2" ry="6.8" transform="rotate(14 376.2 535.1)" fill="none" stroke="rgb(122,12,6)" stroke-width="0.8" stroke-dasharray="1.4 1.2" stroke-dashoffset="2.0" opacity="0.85"/>
<ellipse cx="369.0" cy="547.9" rx="5.9" ry="4.9" transform="rotate(0 369.0 547.9)" fill="none" stroke="rgb(122,12,6)" stroke-width="1.1" stroke-dasharray="2.8 0.9" stroke-dashoffset="3.7"/>
<ellipse cx="369.4" cy="547.3" rx="7.6" ry="6.2" transform="rotate(21 369.0 547.9)" fill="none" stroke="rgb(122,12,6)" stroke-width="0.8" stroke-dasharray="1.5 1.3" stroke-dashoffset="3.8" opacity="0.85"/>
<ellipse cx="318.5" cy="536.8" rx="4.8" ry="5.3" transform="rotate(0 318.5 536.8)" fill="none" stroke="rgb(122,12,6)" stroke-width="1.1" stroke-dasharray="2.6 0.9" stroke-dashoffset="2.5"/>
<ellipse cx="317.9" cy="537.9" rx="7.2" ry="7.3" transform="rotate(-22 318.5 536.8)" fill="none" stroke="rgb(122,12,6)" stroke-width="0.8" stroke-dasharray="1.2 2.1" stroke-dashoffset="1.5" opacity="0.85"/>
<ellipse cx="315.7" cy="516.8" rx="3.8" ry="5.3" transform="rotate(0 315.7 516.8)" fill="none" stroke="rgb(122,12,6)" stroke-width="1.1" stroke-dasharray="3.4 0.6" stroke-dashoffset="2.3"/>
<ellipse cx="315.7" cy="516.2" rx="5.9" ry="7.0" transform="rotate(19 315.7 516.8)" fill="none" stroke="rgb(122,12,6)" stroke-width="0.8" stroke-dasharray="1.5 2.2" stroke-dashoffset="1.4" opacity="0.85"/>
<ellipse cx="345.1" cy="493.5" rx="5.1" ry="4.6" transform="rotate(0 345.1 493.5)" fill="none" stroke="rgb(122,12,6)" stroke-width="1.1" stroke-dasharray="2.6 0.9" stroke-dashoffset="2.6"/>
<ellipse cx="346.0" cy="493.1" rx="7.3" ry="6.4" transform="rotate(-24 345.1 493.5)" fill="none" stroke="rgb(122,12,6)" stroke-width="0.8" stroke-dasharray="1.7 1.6" stroke-dashoffset="1.1" opacity="0.85"/>
</g>
</g>
</g>
<rect x="313.8" y="481.1" width="70.3" height="70.0" fill="none" stroke="#bbb" stroke-width="0.5"/>
<text x="315.80" y="489.70" font-size="7.95" fill="#ff2418" font-weight="bold">TMRE</text>
<clipPath id="c12"><rect x="386.6" y="481.1" width="70.3" height="70.0"/></clipPath>
<rect x="386.60" y="481.10" width="70.30" height="70.00" fill="#050505"/>
<g clip-path="url(#c12)">
<g filter="url(#soft)">
<g filter="url(#tex)">
<ellipse cx="430.7" cy="505.7" rx="7.6" ry="5.6" transform="rotate(-25 430.7 505.7)" fill="none" stroke="rgb(122,12,6)" stroke-width="1.1" stroke-dasharray="3.7 0.6" stroke-dashoffset="0.8"/>
<ellipse cx="430.4" cy="506.8" rx="9.2" ry="6.8" transform="rotate(-26 430.7 505.7)" fill="none" stroke="rgb(122,12,6)" stroke-width="0.8" stroke-dasharray="0.9 1.9" stroke-dashoffset="1.4" opacity="0.85"/>
<ellipse cx="435.1" cy="514.1" rx="5.5" ry="6.0" transform="rotate(30 435.1 514.1)" fill="none" stroke="rgb(122,12,6)" stroke-width="1.1" stroke-dasharray="2.6 1.0" stroke-dashoffset="1.6"/>
<ellipse cx="436.0" cy="513.7" rx="7.8" ry="7.9" transform="rotate(22 435.1 514.1)" fill="none" stroke="rgb(122,12,6)" stroke-width="0.8" stroke-dasharray="1.4 1.2" stroke-dashoffset="3.8" opacity="0.85"/>
<ellipse cx="398.5" cy="511.3" rx="6.2" ry="6.7" transform="rotate(0 398.5 511.3)" fill="none" stroke="rgb(122,12,6)" stroke-width="1.1" stroke-dasharray="3.5 0.5" stroke-dashoffset="1.1"/>
<ellipse cx="398.2" cy="510.4" rx="7.7" ry="7.8" transform="rotate(-15 398.5 511.3)" fill="none" stroke="rgb(122,12,6)" stroke-width="0.8" stroke-dasharray="1.2 0.9" stroke-dashoffset="2.6" opacity="0.85"/>
<ellipse cx="417.3" cy="501.9" rx="5.5" ry="5.0" transform="rotate(0 417.3 501.9)" fill="none" stroke="rgb(122,12,6)" stroke-width="1.1" stroke-dasharray="3.0 0.8" stroke-dashoffset="0.5"/>
<ellipse cx="416.6" cy="501.0" rx="7.6" ry="6.7" transform="rotate(10 417.3 501.9)" fill="none" stroke="rgb(122,12,6)" stroke-width="0.8" stroke-dasharray="1.3 0.9" stroke-dashoffset="2.2" opacity="0.85"/>
<ellipse cx="413.5" cy="517.9" rx="5.0" ry="5.5" transform="rotate(0 413.5 517.9)" fill="none" stroke="rgb(122,12,6)" stroke-width="1.1" stroke-dasharray="3.4 0.8" stroke-dashoffset="1.7"/>
<ellipse cx="412.7" cy="518.0" rx="6.6" ry="6.7" transform="rotate(-24 413.5 517.9)" fill="none" stroke="rgb(122,12,6)" stroke-width="0.8" stroke-dasharray="0.9 1.4" stroke-dashoffset="2.1" opacity="0.85"/>
<ellipse cx="426.8" cy="516.3" rx="6.1" ry="5.1" transform="rotate(0 426.8 516.3)" fill="none" stroke="rgb(122,12,6)" stroke-width="1.1" stroke-dasharray="3.2 0.8" stroke-dashoffset="2.4"/>
<ellipse cx="427.5" cy="516.6" rx="8.0" ry="6.6" transform="rotate(-6 426.8 516.3)" fill="none" stroke="rgb(122,12,6)" stroke-width="0.8" stroke-dasharray="0.9 1.8" stroke-dashoffset="2.3" opacity="0.85"/>
<ellipse cx="397.9" cy="524.1" rx="5.9" ry="5.9" transform="rotate(0 397.9 524.1)" fill="none" stroke="rgb(122,12,6)" stroke-width="1.1" stroke-dasharray="2.4 0.9" stroke-dashoffset="1.0"/>
<ellipse cx="397.6" cy="525.4" rx="8.0" ry="7.6" transform="rotate(-19 397.9 524.1)" fill="none" stroke="rgb(122,12,6)" stroke-width="0.8" stroke-dasharray="1.3 1.2" stroke-dashoffset="1.4" opacity="0.85"/>
<ellipse cx="429.0" cy="525.2" rx="6.4" ry="5.4" transform="rotate(0 429.0 525.2)" fill="none" stroke="rgb(122,12,6)" stroke-width="1.1" stroke-dasharray="2.8 1.0" stroke-dashoffset="0.1"/>
<ellipse cx="428.2" cy="524.6" rx="8.5" ry="7.1" transform="rotate(-20 429.0 525.2)" fill="none" stroke="rgb(122,12,6)" stroke-width="0.8" stroke-dasharray="1.0 1.2" stroke-dashoffset="2.0" opacity="0.85"/>
<ellipse cx="443.4" cy="526.8" rx="5.9" ry="4.9" transform="rotate(0 443.4 526.8)" fill="none" stroke="rgb(122,12,6)" stroke-width="1.1" stroke-dasharray="2.9 1.1" stroke-dashoffset="3.9"/>
<ellipse cx="442.7" cy="526.5" rx="8.0" ry="6.6" transform="rotate(-3 443.4 526.8)" fill="none" stroke="rgb(122,12,6)" stroke-width="0.8" stroke-dasharray="0.8 2.0" stroke-dashoffset="3.6" opacity="0.85"/>
<ellipse cx="451.2" cy="513.5" rx="5.6" ry="6.1" transform="rotate(0 451.2 513.5)" fill="none" stroke="rgb(122,12,6)" stroke-width="1.1" stroke-dasharray="3.0 0.5" stroke-dashoffset="3.4"/>
<ellipse cx="450.5" cy="513.0" rx="7.3" ry="7.4" transform="rotate(-8 451.2 513.5)" fill="none" stroke="rgb(122,12,6)" stroke-width="0.8" stroke-dasharray="1.8 1.8" stroke-dashoffset="0.1" opacity="0.85"/>
<ellipse cx="416.8" cy="535.7" rx="6.4" ry="5.9" transform="rotate(0 416.8 535.7)" fill="none" stroke="rgb(122,12,6)" stroke-width="1.1" stroke-dasharray="3.3 1.0" stroke-dashoffset="0.2"/>
<ellipse cx="417.6" cy="535.3" rx="8.1" ry="7.2" transform="rotate(-22 416.8 535.7)" fill="none" stroke="rgb(122,12,6)" stroke-width="0.8" stroke-dasharray="1.1 1.9" stroke-dashoffset="1.2" opacity="0.85"/>
<ellipse cx="433.4" cy="538.5" rx="6.7" ry="6.7" transform="rotate(0 433.4 538.5)" fill="none" stroke="rgb(122,12,6)" stroke-width="1.1" stroke-dasharray="3.3 0.6" stroke-dashoffset="3.7"/>
<ellipse cx="434.1" cy="539.3" rx="8.3" ry="7.9" transform="rotate(-19 433.4 538.5)" fill="none" stroke="rgb(122,12,6)" stroke-width="0.8" stroke-dasharray="1.6 1.2" stroke-dashoffset="0.5" opacity="0.85"/>
<ellipse cx="449.0" cy="535.1" rx="6.2" ry="5.2" transform="rotate(0 449.0 535.1)" fill="none" stroke="rgb(122,12,6)" stroke-width="1.1" stroke-dasharray="3.1 0.7" stroke-dashoffset="0.7"/>
<ellipse cx="449.2" cy="535.8" rx="8.2" ry="6.8" transform="rotate(14 449.0 535.1)" fill="none" stroke="rgb(122,12,6)" stroke-width="0.8" stroke-dasharray="1.4 1.2" stroke-dashoffset="2.0" opacity="0.85"/>
<ellipse cx="441.8" cy="547.9" rx="5.9" ry="4.9" transform="rotate(0 441.8 547.9)" fill="none" stroke="rgb(122,12,6)" stroke-width="1.1" stroke-dasharray="2.8 0.9" stroke-dashoffset="3.7"/>
<ellipse cx="442.2" cy="547.3" rx="7.6" ry="6.2" transform="rotate(21 441.8 547.9)" fill="none" stroke="rgb(122,12,6)" stroke-width="0.8" stroke-dasharray="1.5 1.3" stroke-dashoffset="3.8" opacity="0.85"/>
<ellipse cx="391.3" cy="536.8" rx="4.8" ry="5.3" transform="rotate(0 391.3 536.8)" fill="none" stroke="rgb(122,12,6)" stroke-width="1.1" stroke-dasharray="2.6 0.9" stroke-dashoffset="2.5"/>
<ellipse cx="390.7" cy="537.9" rx="7.2" ry="7.3" transform="rotate(-22 391.3 536.8)" fill="none" stroke="rgb(122,12,6)" stroke-width="0.8" stroke-dasharray="1.2 2.1" stroke-dashoffset="1.5" opacity="0.85"/>
<ellipse cx="388.5" cy="516.8" rx="3.8" ry="5.3" transform="rotate(0 388.5 516.8)" fill="none" stroke="rgb(122,12,6)" stroke-width="1.1" stroke-dasharray="3.4 0.6" stroke-dashoffset="2.3"/>
<ellipse cx="388.5" cy="516.2" rx="5.9" ry="7.0" transform="rotate(19 388.5 516.8)" fill="none" stroke="rgb(122,12,6)" stroke-width="0.8" stroke-dasharray="1.5 2.2" stroke-dashoffset="1.4" opacity="0.85"/>
<ellipse cx="417.9" cy="493.5" rx="5.1" ry="4.6" transform="rotate(0 417.9 493.5)" fill="none" stroke="rgb(122,12,6)" stroke-width="1.1" stroke-dasharray="2.6 0.9" stroke-dashoffset="2.6"/>
<ellipse cx="418.8" cy="493.1" rx="7.3" ry="6.4" transform="rotate(-24 417.9 493.5)" fill="none" stroke="rgb(122,12,6)" stroke-width="0.8" stroke-dasharray="1.7 1.6" stroke-dashoffset="1.1" opacity="0.85"/>
</g>
</g>
<g filter="url(#soft2)" opacity="0.14">
<ellipse cx="430.7" cy="505.7" rx="9.5" ry="7.0" fill="#2a8c84"/>
<ellipse cx="435.1" cy="514.1" rx="7.0" ry="7.0" fill="#2a8c84"/>
<ellipse cx="398.5" cy="511.3" rx="7.5" ry="7.5" fill="#2a8c84"/>
<ellipse cx="417.3" cy="501.9" rx="7.0" ry="6.0" fill="#2a8c84"/>
<ellipse cx="413.5" cy="517.9" rx="6.5" ry="6.5" fill="#2a8c84"/>
<ellipse cx="426.8" cy="516.3" rx="7.5" ry="6.0" fill="#2a8c84"/>
<ellipse cx="397.9" cy="524.1" rx="7.5" ry="7.0" fill="#2a8c84"/>
<ellipse cx="429.0" cy="525.2" rx="8.0" ry="6.5" fill="#2a8c84"/>
<ellipse cx="443.4" cy="526.8" rx="7.5" ry="6.0" fill="#2a8c84"/>
<ellipse cx="451.2" cy="513.5" rx="7.5" ry="7.5" fill="#2a8c84"/>
<ellipse cx="416.8" cy="535.7" rx="8.0" ry="7.0" fill="#2a8c84"/>
<ellipse cx="433.4" cy="538.5" rx="8.5" ry="8.0" fill="#2a8c84"/>
<ellipse cx="449.0" cy="535.1" rx="8.0" ry="6.5" fill="#2a8c84"/>
<ellipse cx="441.8" cy="547.9" rx="7.5" ry="6.0" fill="#2a8c84"/>
<ellipse cx="391.3" cy="536.8" rx="6.5" ry="6.5" fill="#2a8c84"/>
<ellipse cx="388.5" cy="516.8" rx="5.5" ry="6.5" fill="#2a8c84"/>
<ellipse cx="417.9" cy="493.5" rx="6.5" ry="5.5" fill="#2a8c84"/>
</g>
<g filter="url(#tex)">
<ellipse cx="430.7" cy="505.7" rx="6.0" ry="4.0" transform="rotate(-25 430.7 505.7)" fill="url(#nucg)" opacity="0.83"/>
<ellipse cx="435.1" cy="514.1" rx="3.5" ry="4.0" transform="rotate(30 435.1 514.1)" fill="url(#nucg)" opacity="0.86"/>
<ellipse cx="398.5" cy="511.3" rx="4.0" ry="4.5" transform="rotate(0 398.5 511.3)" fill="url(#nucg)" opacity="0.72"/>
<ellipse cx="417.3" cy="501.9" rx="3.5" ry="3.0" transform="rotate(0 417.3 501.9)" fill="url(#nucg)" opacity="0.54"/>
<ellipse cx="413.5" cy="517.9" rx="3.0" ry="3.5" transform="rotate(0 413.5 517.9)" fill="url(#nucg)" opacity="0.65"/>
<ellipse cx="426.8" cy="516.3" rx="4.0" ry="3.0" transform="rotate(0 426.8 516.3)" fill="url(#nucg)" opacity="0.54"/>
<ellipse cx="397.9" cy="524.1" rx="4.0" ry="4.0" transform="rotate(0 397.9 524.1)" fill="url(#nucg)" opacity="0.72"/>
<ellipse cx="429.0" cy="525.2" rx="4.5" ry="3.5" transform="rotate(0 429.0 525.2)" fill="url(#nucg)" opacity="0.57"/>
<ellipse cx="443.4" cy="526.8" rx="4.0" ry="3.0" transform="rotate(0 443.4 526.8)" fill="url(#nucg)" opacity="0.57"/>
<ellipse cx="451.2" cy="513.5" rx="4.0" ry="4.5" transform="rotate(0 451.2 513.5)" fill="url(#nucg)" opacity="0.65"/>
<ellipse cx="416.8" cy="535.7" rx="4.5" ry="4.0" transform="rotate(0 416.8 535.7)" fill="url(#nucg)" opacity="0.72"/>
<ellipse cx="433.4" cy="538.5" rx="5.0" ry="5.0" transform="rotate(0 433.4 538.5)" fill="url(#nucg)" opacity="0.86"/>
<ellipse cx="449.0" cy="535.1" rx="4.5" ry="3.5" transform="rotate(0 449.0 535.1)" fill="url(#nucg)" opacity="0.83"/>
<ellipse cx="441.8" cy="547.9" rx="4.0" ry="3.0" transform="rotate(0 441.8 547.9)" fill="url(#nucg)" opacity="0.68"/>
<ellipse cx="391.3" cy="536.8" rx="3.0" ry="3.5" transform="rotate(0 391.3 536.8)" fill="url(#nucg)" opacity="0.54"/>
<ellipse cx="388.5" cy="516.8" rx="2.0" ry="3.5" transform="rotate(0 388.5 516.8)" fill="url(#nucg)" opacity="0.54"/>
<ellipse cx="417.9" cy="493.5" rx="3.0" ry="2.5" transform="rotate(0 417.9 493.5)" fill="url(#nucg)" opacity="0.54"/>
</g>
</g>
<rect x="386.6" y="481.1" width="70.3" height="70.0" fill="none" stroke="#bbb" stroke-width="0.5"/>
<text x="388.60" y="489.70" font-size="7.95" fill="#62e6de" font-weight="bold">Hoechst 33342</text>
<text x="388.60" y="498.10" font-size="7.95" fill="#ff2418" font-weight="bold">TMRE</text>
<clipPath id="c13"><rect x="467.9" y="408.8" width="70.3" height="70.0"/></clipPath>
<rect x="467.90" y="408.80" width="70.30" height="70.00" fill="#050505"/>
<g clip-path="url(#c13)">
<g filter="url(#soft2)" opacity="0.1">
<ellipse cx="477.0" cy="424.3" rx="7.0" ry="6.0" fill="#2a8c84"/>
<ellipse cx="498.1" cy="426.6" rx="7.0" ry="6.0" fill="#2a8c84"/>
<ellipse cx="508.6" cy="428.2" rx="7.5" ry="6.0" fill="#2a8c84"/>
<ellipse cx="523.6" cy="426.6" rx="6.5" ry="7.5" fill="#2a8c84"/>
<ellipse cx="479.2" cy="438.2" rx="7.0" ry="6.0" fill="#2a8c84"/>
<ellipse cx="489.8" cy="439.3" rx="7.0" ry="6.5" fill="#2a8c84"/>
<ellipse cx="504.7" cy="442.1" rx="8.0" ry="6.0" fill="#2a8c84"/>
<ellipse cx="499.2" cy="449.9" rx="7.5" ry="7.0" fill="#2a8c84"/>
<ellipse cx="472.0" cy="441.5" rx="6.0" ry="6.0" fill="#2a8c84"/>
<ellipse cx="495.9" cy="457.6" rx="6.5" ry="6.5" fill="#2a8c84"/>
<ellipse cx="478.1" cy="462.6" rx="8.0" ry="6.5" fill="#2a8c84"/>
<ellipse cx="485.3" cy="468.2" rx="7.0" ry="6.0" fill="#2a8c84"/>
<ellipse cx="521.9" cy="457.6" rx="6.5" ry="6.0" fill="#2a8c84"/>
<ellipse cx="533.6" cy="455.4" rx="7.5" ry="7.0" fill="#2a8c84"/>
<ellipse cx="532.5" cy="442.1" rx="6.5" ry="6.0" fill="#2a8c84"/>
<ellipse cx="514.7" cy="468.2" rx="7.0" ry="6.5" fill="#2a8c84"/>
<ellipse cx="522.5" cy="474.8" rx="6.5" ry="6.0" fill="#2a8c84"/>
<ellipse cx="474.8" cy="454.8" rx="6.5" ry="6.5" fill="#2a8c84"/>
<ellipse cx="532.5" cy="430.4" rx="6.0" ry="6.0" fill="#2a8c84"/>
</g>
<g filter="url(#tex)">
<ellipse cx="477.0" cy="424.3" rx="3.5" ry="3.0" transform="rotate(0 477.0 424.3)" fill="url(#nucg)" opacity="0.54"/>
<ellipse cx="498.1" cy="426.6" rx="3.5" ry="3.0" transform="rotate(0 498.1 426.6)" fill="url(#nucg)" opacity="0.57"/>
<ellipse cx="508.6" cy="428.2" rx="4.0" ry="3.0" transform="rotate(0 508.6 428.2)" fill="url(#nucg)" opacity="0.57"/>
<ellipse cx="523.6" cy="426.6" rx="3.0" ry="4.5" transform="rotate(0 523.6 426.6)" fill="url(#nucg)" opacity="0.68"/>
<ellipse cx="479.2" cy="438.2" rx="3.5" ry="3.0" transform="rotate(0 479.2 438.2)" fill="url(#nucg)" opacity="0.65"/>
<ellipse cx="489.8" cy="439.3" rx="3.5" ry="3.5" transform="rotate(0 489.8 439.3)" fill="url(#nucg)" opacity="0.79"/>
<ellipse cx="504.7" cy="442.1" rx="4.5" ry="3.0" transform="rotate(-30 504.7 442.1)" fill="url(#nucg)" opacity="0.83"/>
<ellipse cx="499.2" cy="449.9" rx="4.0" ry="4.0" transform="rotate(0 499.2 449.9)" fill="url(#nucg)" opacity="0.79"/>
<ellipse cx="472.0" cy="441.5" rx="2.5" ry="3.0" transform="rotate(0 472.0 441.5)" fill="url(#nucg)" opacity="0.54"/>
<ellipse cx="495.9" cy="457.6" rx="3.0" ry="3.5" transform="rotate(0 495.9 457.6)" fill="url(#nucg)" opacity="0.57"/>
<ellipse cx="478.1" cy="462.6" rx="4.5" ry="3.5" transform="rotate(0 478.1 462.6)" fill="url(#nucg)" opacity="0.79"/>
<ellipse cx="485.3" cy="468.2" rx="3.5" ry="3.0" transform="rotate(0 485.3 468.2)" fill="url(#nucg)" opacity="0.57"/>
<ellipse cx="521.9" cy="457.6" rx="3.0" ry="3.0" transform="rotate(0 521.9 457.6)" fill="url(#nucg)" opacity="0.72"/>
<ellipse cx="533.6" cy="455.4" rx="4.0" ry="4.0" transform="rotate(0 533.6 455.4)" fill="url(#nucg)" opacity="0.79"/>
<ellipse cx="532.5" cy="442.1" rx="3.0" ry="3.0" transform="rotate(0 532.5 442.1)" fill="url(#nucg)" opacity="0.54"/>
<ellipse cx="514.7" cy="468.2" rx="3.5" ry="3.5" transform="rotate(0 514.7 468.2)" fill="url(#nucg)" opacity="0.68"/>
<ellipse cx="522.5" cy="474.8" rx="3.0" ry="3.0" transform="rotate(0 522.5 474.8)" fill="url(#nucg)" opacity="0.65"/>
<ellipse cx="474.8" cy="454.8" rx="3.0" ry="3.5" transform="rotate(0 474.8 454.8)" fill="url(#nucg)" opacity="0.54"/>
<ellipse cx="532.5" cy="430.4" rx="2.5" ry="3.0" transform="rotate(0 532.5 430.4)" fill="url(#nucg)" opacity="0.54"/>
</g>
</g>
<rect x="467.9" y="408.8" width="70.3" height="70.0" fill="none" stroke="#bbb" stroke-width="0.5"/>
<text x="469.90" y="417.40" font-size="7.95" fill="#62e6de" font-weight="bold">Hoechst 33342</text>
<text x="470.10" y="475.70" font-size="7.9" fill="#e8e8e8">shHDAC3</text>
<clipPath id="c14"><rect x="540.7" y="408.8" width="70.3" height="70.0"/></clipPath>
<rect x="540.70" y="408.80" width="70.30" height="70.00" fill="#050505"/>
<g clip-path="url(#c14)">
<g filter="url(#soft)">
<g filter="url(#tex)">
<ellipse cx="549.8" cy="424.3" rx="5.6" ry="5.1" transform="rotate(0 549.8 424.3)" fill="none" stroke="rgb(83,8,4)" stroke-width="1.3" stroke-dasharray="3.0 1.0" stroke-dashoffset="1.8"/>
<ellipse cx="549.5" cy="425.1" rx="7.9" ry="7.0" transform="rotate(18 549.8 424.3)" fill="none" stroke="rgb(83,8,4)" stroke-width="1.0" stroke-dasharray="1.3 2.2" stroke-dashoffset="1.1" opacity="0.85"/>
<ellipse cx="570.9" cy="426.6" rx="5.7" ry="5.2" transform="rotate(0 570.9 426.6)" fill="none" stroke="rgb(83,8,4)" stroke-width="1.3" stroke-dasharray="3.4 0.9" stroke-dashoffset="0.2"/>
<ellipse cx="571.2" cy="427.9" rx="7.3" ry="6.4" transform="rotate(14 570.9 426.6)" fill="none" stroke="rgb(83,8,4)" stroke-width="1.0" stroke-dasharray="0.8 1.3" stroke-dashoffset="0.9" opacity="0.85"/>
<ellipse cx="581.4" cy="428.2" rx="5.7" ry="4.7" transform="rotate(0 581.4 428.2)" fill="none" stroke="rgb(83,8,4)" stroke-width="1.3" stroke-dasharray="2.7 1.1" stroke-dashoffset="2.4"/>
<ellipse cx="582.1" cy="427.9" rx="7.9" ry="6.5" transform="rotate(14 581.4 428.2)" fill="none" stroke="rgb(83,8,4)" stroke-width="1.0" stroke-dasharray="1.7 2.3" stroke-dashoffset="2.5" opacity="0.85"/>
<ellipse cx="596.4" cy="426.6" rx="5.1" ry="6.6" transform="rotate(0 596.4 426.6)" fill="none" stroke="rgb(83,8,4)" stroke-width="1.3" stroke-dasharray="3.0 1.1" stroke-dashoffset="2.5"/>
<ellipse cx="597.0" cy="426.9" rx="7.5" ry="8.6" transform="rotate(-5 596.4 426.6)" fill="none" stroke="rgb(83,8,4)" stroke-width="1.0" stroke-dasharray="1.7 2.1" stroke-dashoffset="3.6" opacity="0.85"/>
<ellipse cx="552.0" cy="438.2" rx="5.5" ry="5.0" transform="rotate(0 552.0 438.2)" fill="none" stroke="rgb(83,8,4)" stroke-width="1.3" stroke-dasharray="3.2 0.7" stroke-dashoffset="2.9"/>
<ellipse cx="551.3" cy="438.6" rx="7.8" ry="6.9" transform="rotate(17 552.0 438.2)" fill="none" stroke="rgb(83,8,4)" stroke-width="1.0" stroke-dasharray="1.0 1.6" stroke-dashoffset="2.8" opacity="0.85"/>
<ellipse cx="562.6" cy="439.3" rx="5.2" ry="5.2" transform="rotate(0 562.6 439.3)" fill="none" stroke="rgb(83,8,4)" stroke-width="1.3" stroke-dasharray="3.1 1.1" stroke-dashoffset="0.3"/>
<ellipse cx="562.0" cy="438.8" rx="7.4" ry="7.0" transform="rotate(-11 562.6 439.3)" fill="none" stroke="rgb(83,8,4)" stroke-width="1.0" stroke-dasharray="1.2 2.2" stroke-dashoffset="3.0" opacity="0.85"/>
<ellipse cx="577.5" cy="442.1" rx="6.4" ry="4.9" transform="rotate(-30 577.5 442.1)" fill="none" stroke="rgb(83,8,4)" stroke-width="1.3" stroke-dasharray="3.2 0.9" stroke-dashoffset="3.2"/>
<ellipse cx="578.2" cy="442.7" rx="8.1" ry="6.2" transform="rotate(-21 577.5 442.1)" fill="none" stroke="rgb(83,8,4)" stroke-width="1.0" stroke-dasharray="1.3 1.4" stroke-dashoffset="1.8" opacity="0.85"/>
<ellipse cx="572.0" cy="449.9" rx="6.1" ry="6.1" transform="rotate(0 572.0 449.9)" fill="none" stroke="rgb(83,8,4)" stroke-width="1.3" stroke-dasharray="2.7 0.8" stroke-dashoffset="2.9"/>
<ellipse cx="570.7" cy="449.6" rx="7.9" ry="7.5" transform="rotate(-24 572.0 449.9)" fill="none" stroke="rgb(83,8,4)" stroke-width="1.0" stroke-dasharray="1.6 0.9" stroke-dashoffset="3.1" opacity="0.85"/>
<ellipse cx="544.8" cy="441.5" rx="4.3" ry="4.8" transform="rotate(0 544.8 441.5)" fill="none" stroke="rgb(83,8,4)" stroke-width="1.3" stroke-dasharray="2.7 0.6" stroke-dashoffset="3.0"/>
<ellipse cx="545.3" cy="441.9" rx="6.5" ry="6.6" transform="rotate(-15 544.8 441.5)" fill="none" stroke="rgb(83,8,4)" stroke-width="1.0" stroke-dasharray="1.6 1.8" stroke-dashoffset="2.3" opacity="0.85"/>
<ellipse cx="568.7" cy="457.6" rx="4.9" ry="5.4" transform="rotate(0 568.7 457.6)" fill="none" stroke="rgb(83,8,4)" stroke-width="1.3" stroke-dasharray="2.3 0.9" stroke-dashoffset="0.3"/>
<ellipse cx="568.5" cy="456.4" rx="7.3" ry="7.4" transform="rotate(0 568.7 457.6)" fill="none" stroke="rgb(83,8,4)" stroke-width="1.0" stroke-dasharray="1.4 1.8" stroke-dashoffset="1.9" opacity="0.85"/>
<ellipse cx="550.9" cy="462.6" rx="6.2" ry="5.2" transform="rotate(0 550.9 462.6)" fill="none" stroke="rgb(83,8,4)" stroke-width="1.3" stroke-dasharray="2.7 0.9" stroke-dashoffset="1.5"/>
<ellipse cx="550.1" cy="462.1" rx="8.2" ry="6.8" transform="rotate(19 550.9 462.6)" fill="none" stroke="rgb(83,8,4)" stroke-width="1.0" stroke-dasharray="1.2 1.1" stroke-dashoffset="1.0" opacity="0.85"/>
<ellipse cx="558.1" cy="468.2" rx="5.7" ry="5.2" transform="rotate(0 558.1 468.2)" fill="none" stroke="rgb(83,8,4)" stroke-width="1.3" stroke-dasharray="2.3 1.0" stroke-dashoffset="3.1"/>
<ellipse cx="556.9" cy="467.8" rx="7.7" ry="6.8" transform="rotate(19 558.1 468.2)" fill="none" stroke="rgb(83,8,4)" stroke-width="1.0" stroke-dasharray="0.9 1.9" stroke-dashoffset="2.3" opacity="0.85"/>
<ellipse cx="594.7" cy="457.6" rx="4.7" ry="4.7" transform="rotate(0 594.7 457.6)" fill="none" stroke="rgb(83,8,4)" stroke-width="1.3" stroke-dasharray="3.0 0.6" stroke-dashoffset="1.9"/>
<ellipse cx="595.8" cy="458.2" rx="7.1" ry="6.7" transform="rotate(-12 594.7 457.6)" fill="none" stroke="rgb(83,8,4)" stroke-width="1.0" stroke-dasharray="1.6 2.2" stroke-dashoffset="3.1" opacity="0.85"/>
<ellipse cx="606.4" cy="455.4" rx="5.8" ry="5.8" transform="rotate(0 606.4 455.4)" fill="none" stroke="rgb(83,8,4)" stroke-width="1.3" stroke-dasharray="2.4 1.1" stroke-dashoffset="2.7"/>
<ellipse cx="606.1" cy="456.3" rx="8.0" ry="7.6" transform="rotate(-10 606.4 455.4)" fill="none" stroke="rgb(83,8,4)" stroke-width="1.0" stroke-dasharray="1.5 1.5" stroke-dashoffset="2.6" opacity="0.85"/>
<ellipse cx="605.3" cy="442.1" rx="5.1" ry="5.1" transform="rotate(0 605.3 442.1)" fill="none" stroke="rgb(83,8,4)" stroke-width="1.3" stroke-dasharray="2.3 0.8" stroke-dashoffset="1.1"/>
<ellipse cx="606.6" cy="441.8" rx="6.7" ry="6.3" transform="rotate(18 605.3 442.1)" fill="none" stroke="rgb(83,8,4)" stroke-width="1.0" stroke-dasharray="1.4 1.9" stroke-dashoffset="3.6" opacity="0.85"/>
<ellipse cx="587.5" cy="468.2" rx="5.1" ry="5.1" transform="rotate(0 587.5 468.2)" fill="none" stroke="rgb(83,8,4)" stroke-width="1.3" stroke-dasharray="3.3 0.7" stroke-dashoffset="0.3"/>
<ellipse cx="588.3" cy="469.2" rx="6.6" ry="6.2" transform="rotate(-13 587.5 468.2)" fill="none" stroke="rgb(83,8,4)" stroke-width="1.0" stroke-dasharray="0.8 1.1" stroke-dashoffset="1.2" opacity="0.85"/>
<ellipse cx="595.3" cy="474.8" rx="4.9" ry="4.9" transform="rotate(0 595.3 474.8)" fill="none" stroke="rgb(83,8,4)" stroke-width="1.3" stroke-dasharray="2.5 1.1" stroke-dashoffset="3.6"/>
<ellipse cx="596.5" cy="474.5" rx="7.1" ry="6.7" transform="rotate(-1 595.3 474.8)" fill="none" stroke="rgb(83,8,4)" stroke-width="1.0" stroke-dasharray="1.2 1.2" stroke-dashoffset="1.6" opacity="0.85"/>
<ellipse cx="547.6" cy="454.8" rx="4.8" ry="5.3" transform="rotate(0 547.6 454.8)" fill="none" stroke="rgb(83,8,4)" stroke-width="1.3" stroke-dasharray="2.7 0.8" stroke-dashoffset="0.4"/>
<ellipse cx="548.5" cy="454.3" rx="7.0" ry="7.1" transform="rotate(2 547.6 454.8)" fill="none" stroke="rgb(83,8,4)" stroke-width="1.0" stroke-dasharray="1.1 1.2" stroke-dashoffset="1.8" opacity="0.85"/>
<ellipse cx="605.3" cy="430.4" rx="4.7" ry="5.2" transform="rotate(0 605.3 430.4)" fill="none" stroke="rgb(83,8,4)" stroke-width="1.3" stroke-dasharray="2.8 0.8" stroke-dashoffset="0.0"/>
<ellipse cx="605.6" cy="429.7" rx="6.4" ry="6.5" transform="rotate(0 605.3 430.4)" fill="none" stroke="rgb(83,8,4)" stroke-width="1.0" stroke-dasharray="1.0 1.6" stroke-dashoffset="0.1" opacity="0.85"/>
</g>
</g>
</g>
<rect x="540.7" y="408.8" width="70.3" height="70.0" fill="none" stroke="#bbb" stroke-width="0.5"/>
<text x="542.70" y="417.40" font-size="7.95" fill="#ff2418" font-weight="bold">TMRE</text>
<clipPath id="c15"><rect x="613.5" y="408.8" width="70.3" height="70.0"/></clipPath>
<rect x="613.50" y="408.80" width="70.30" height="70.00" fill="#050505"/>
<g clip-path="url(#c15)">
<g filter="url(#soft)">
<g filter="url(#tex)">
<ellipse cx="622.6" cy="424.3" rx="5.6" ry="5.1" transform="rotate(0 622.6 424.3)" fill="none" stroke="rgb(83,8,4)" stroke-width="1.3" stroke-dasharray="3.0 1.0" stroke-dashoffset="1.8"/>
<ellipse cx="622.3" cy="425.1" rx="7.9" ry="7.0" transform="rotate(18 622.6 424.3)" fill="none" stroke="rgb(83,8,4)" stroke-width="1.0" stroke-dasharray="1.3 2.2" stroke-dashoffset="1.1" opacity="0.85"/>
<ellipse cx="643.7" cy="426.6" rx="5.7" ry="5.2" transform="rotate(0 643.7 426.6)" fill="none" stroke="rgb(83,8,4)" stroke-width="1.3" stroke-dasharray="3.4 0.9" stroke-dashoffset="0.2"/>
<ellipse cx="644.0" cy="427.9" rx="7.3" ry="6.4" transform="rotate(14 643.7 426.6)" fill="none" stroke="rgb(83,8,4)" stroke-width="1.0" stroke-dasharray="0.8 1.3" stroke-dashoffset="0.9" opacity="0.85"/>
<ellipse cx="654.2" cy="428.2" rx="5.7" ry="4.7" transform="rotate(0 654.2 428.2)" fill="none" stroke="rgb(83,8,4)" stroke-width="1.3" stroke-dasharray="2.7 1.1" stroke-dashoffset="2.4"/>
<ellipse cx="654.9" cy="427.9" rx="7.9" ry="6.5" transform="rotate(14 654.2 428.2)" fill="none" stroke="rgb(83,8,4)" stroke-width="1.0" stroke-dasharray="1.7 2.3" stroke-dashoffset="2.5" opacity="0.85"/>
<ellipse cx="669.2" cy="426.6" rx="5.1" ry="6.6" transform="rotate(0 669.2 426.6)" fill="none" stroke="rgb(83,8,4)" stroke-width="1.3" stroke-dasharray="3.0 1.1" stroke-dashoffset="2.5"/>
<ellipse cx="669.8" cy="426.9" rx="7.5" ry="8.6" transform="rotate(-5 669.2 426.6)" fill="none" stroke="rgb(83,8,4)" stroke-width="1.0" stroke-dasharray="1.7 2.1" stroke-dashoffset="3.6" opacity="0.85"/>
<ellipse cx="624.8" cy="438.2" rx="5.5" ry="5.0" transform="rotate(0 624.8 438.2)" fill="none" stroke="rgb(83,8,4)" stroke-width="1.3" stroke-dasharray="3.2 0.7" stroke-dashoffset="2.9"/>
<ellipse cx="624.1" cy="438.6" rx="7.8" ry="6.9" transform="rotate(17 624.8 438.2)" fill="none" stroke="rgb(83,8,4)" stroke-width="1.0" stroke-dasharray="1.0 1.6" stroke-dashoffset="2.8" opacity="0.85"/>
<ellipse cx="635.4" cy="439.3" rx="5.2" ry="5.2" transform="rotate(0 635.4 439.3)" fill="none" stroke="rgb(83,8,4)" stroke-width="1.3" stroke-dasharray="3.1 1.1" stroke-dashoffset="0.3"/>
<ellipse cx="634.8" cy="438.8" rx="7.4" ry="7.0" transform="rotate(-11 635.4 439.3)" fill="none" stroke="rgb(83,8,4)" stroke-width="1.0" stroke-dasharray="1.2 2.2" stroke-dashoffset="3.0" opacity="0.85"/>
<ellipse cx="650.3" cy="442.1" rx="6.4" ry="4.9" transform="rotate(-30 650.3 442.1)" fill="none" stroke="rgb(83,8,4)" stroke-width="1.3" stroke-dasharray="3.2 0.9" stroke-dashoffset="3.2"/>
<ellipse cx="651.0" cy="442.7" rx="8.1" ry="6.2" transform="rotate(-21 650.3 442.1)" fill="none" stroke="rgb(83,8,4)" stroke-width="1.0" stroke-dasharray="1.3 1.4" stroke-dashoffset="1.8" opacity="0.85"/>
<ellipse cx="644.8" cy="449.9" rx="6.1" ry="6.1" transform="rotate(0 644.8 449.9)" fill="none" stroke="rgb(83,8,4)" stroke-width="1.3" stroke-dasharray="2.7 0.8" stroke-dashoffset="2.9"/>
<ellipse cx="643.5" cy="449.6" rx="7.9" ry="7.5" transform="rotate(-24 644.8 449.9)" fill="none" stroke="rgb(83,8,4)" stroke-width="1.0" stroke-dasharray="1.6 0.9" stroke-dashoffset="3.1" opacity="0.85"/>
<ellipse cx="617.6" cy="441.5" rx="4.3" ry="4.8" transform="rotate(0 617.6 441.5)" fill="none" stroke="rgb(83,8,4)" stroke-width="1.3" stroke-dasharray="2.7 0.6" stroke-dashoffset="3.0"/>
<ellipse cx="618.1" cy="441.9" rx="6.5" ry="6.6" transform="rotate(-15 617.6 441.5)" fill="none" stroke="rgb(83,8,4)" stroke-width="1.0" stroke-dasharray="1.6 1.8" stroke-dashoffset="2.3" opacity="0.85"/>
<ellipse cx="641.5" cy="457.6" rx="4.9" ry="5.4" transform="rotate(0 641.5 457.6)" fill="none" stroke="rgb(83,8,4)" stroke-width="1.3" stroke-dasharray="2.3 0.9" stroke-dashoffset="0.3"/>
<ellipse cx="641.3" cy="456.4" rx="7.3" ry="7.4" transform="rotate(0 641.5 457.6)" fill="none" stroke="rgb(83,8,4)" stroke-width="1.0" stroke-dasharray="1.4 1.8" stroke-dashoffset="1.9" opacity="0.85"/>
<ellipse cx="623.7" cy="462.6" rx="6.2" ry="5.2" transform="rotate(0 623.7 462.6)" fill="none" stroke="rgb(83,8,4)" stroke-width="1.3" stroke-dasharray="2.7 0.9" stroke-dashoffset="1.5"/>
<ellipse cx="622.9" cy="462.1" rx="8.2" ry="6.8" transform="rotate(19 623.7 462.6)" fill="none" stroke="rgb(83,8,4)" stroke-width="1.0" stroke-dasharray="1.2 1.1" stroke-dashoffset="1.0" opacity="0.85"/>
<ellipse cx="630.9" cy="468.2" rx="5.7" ry="5.2" transform="rotate(0 630.9 468.2)" fill="none" stroke="rgb(83,8,4)" stroke-width="1.3" stroke-dasharray="2.3 1.0" stroke-dashoffset="3.1"/>
<ellipse cx="629.7" cy="467.8" rx="7.7" ry="6.8" transform="rotate(19 630.9 468.2)" fill="none" stroke="rgb(83,8,4)" stroke-width="1.0" stroke-dasharray="0.9 1.9" stroke-dashoffset="2.3" opacity="0.85"/>
<ellipse cx="667.5" cy="457.6" rx="4.7" ry="4.7" transform="rotate(0 667.5 457.6)" fill="none" stroke="rgb(83,8,4)" stroke-width="1.3" stroke-dasharray="3.0 0.6" stroke-dashoffset="1.9"/>
<ellipse cx="668.6" cy="458.2" rx="7.1" ry="6.7" transform="rotate(-12 667.5 457.6)" fill="none" stroke="rgb(83,8,4)" stroke-width="1.0" stroke-dasharray="1.6 2.2" stroke-dashoffset="3.1" opacity="0.85"/>
<ellipse cx="679.2" cy="455.4" rx="5.8" ry="5.8" transform="rotate(0 679.2 455.4)" fill="none" stroke="rgb(83,8,4)" stroke-width="1.3" stroke-dasharray="2.4 1.1" stroke-dashoffset="2.7"/>
<ellipse cx="678.9" cy="456.3" rx="8.0" ry="7.6" transform="rotate(-10 679.2 455.4)" fill="none" stroke="rgb(83,8,4)" stroke-width="1.0" stroke-dasharray="1.5 1.5" stroke-dashoffset="2.6" opacity="0.85"/>
<ellipse cx="678.1" cy="442.1" rx="5.1" ry="5.1" transform="rotate(0 678.1 442.1)" fill="none" stroke="rgb(83,8,4)" stroke-width="1.3" stroke-dasharray="2.3 0.8" stroke-dashoffset="1.1"/>
<ellipse cx="679.4" cy="441.8" rx="6.7" ry="6.3" transform="rotate(18 678.1 442.1)" fill="none" stroke="rgb(83,8,4)" stroke-width="1.0" stroke-dasharray="1.4 1.9" stroke-dashoffset="3.6" opacity="0.85"/>
<ellipse cx="660.3" cy="468.2" rx="5.1" ry="5.1" transform="rotate(0 660.3 468.2)" fill="none" stroke="rgb(83,8,4)" stroke-width="1.3" stroke-dasharray="3.3 0.7" stroke-dashoffset="0.3"/>
<ellipse cx="661.1" cy="469.2" rx="6.6" ry="6.2" transform="rotate(-13 660.3 468.2)" fill="none" stroke="rgb(83,8,4)" stroke-width="1.0" stroke-dasharray="0.8 1.1" stroke-dashoffset="1.2" opacity="0.85"/>
<ellipse cx="668.1" cy="474.8" rx="4.9" ry="4.9" transform="rotate(0 668.1 474.8)" fill="none" stroke="rgb(83,8,4)" stroke-width="1.3" stroke-dasharray="2.5 1.1" stroke-dashoffset="3.6"/>
<ellipse cx="669.3" cy="474.5" rx="7.1" ry="6.7" transform="rotate(-1 668.1 474.8)" fill="none" stroke="rgb(83,8,4)" stroke-width="1.0" stroke-dasharray="1.2 1.2" stroke-dashoffset="1.6" opacity="0.85"/>
<ellipse cx="620.4" cy="454.8" rx="4.8" ry="5.3" transform="rotate(0 620.4 454.8)" fill="none" stroke="rgb(83,8,4)" stroke-width="1.3" stroke-dasharray="2.7 0.8" stroke-dashoffset="0.4"/>
<ellipse cx="621.3" cy="454.3" rx="7.0" ry="7.1" transform="rotate(2 620.4 454.8)" fill="none" stroke="rgb(83,8,4)" stroke-width="1.0" stroke-dasharray="1.1 1.2" stroke-dashoffset="1.8" opacity="0.85"/>
<ellipse cx="678.1" cy="430.4" rx="4.7" ry="5.2" transform="rotate(0 678.1 430.4)" fill="none" stroke="rgb(83,8,4)" stroke-width="1.3" stroke-dasharray="2.8 0.8" stroke-dashoffset="0.0"/>
<ellipse cx="678.4" cy="429.7" rx="6.4" ry="6.5" transform="rotate(0 678.1 430.4)" fill="none" stroke="rgb(83,8,4)" stroke-width="1.0" stroke-dasharray="1.0 1.6" stroke-dashoffset="0.1" opacity="0.85"/>
</g>
</g>
<g filter="url(#soft2)" opacity="0.1">
<ellipse cx="622.6" cy="424.3" rx="7.0" ry="6.0" fill="#2a8c84"/>
<ellipse cx="643.7" cy="426.6" rx="7.0" ry="6.0" fill="#2a8c84"/>
<ellipse cx="654.2" cy="428.2" rx="7.5" ry="6.0" fill="#2a8c84"/>
<ellipse cx="669.2" cy="426.6" rx="6.5" ry="7.5" fill="#2a8c84"/>
<ellipse cx="624.8" cy="438.2" rx="7.0" ry="6.0" fill="#2a8c84"/>
<ellipse cx="635.4" cy="439.3" rx="7.0" ry="6.5" fill="#2a8c84"/>
<ellipse cx="650.3" cy="442.1" rx="8.0" ry="6.0" fill="#2a8c84"/>
<ellipse cx="644.8" cy="449.9" rx="7.5" ry="7.0" fill="#2a8c84"/>
<ellipse cx="617.6" cy="441.5" rx="6.0" ry="6.0" fill="#2a8c84"/>
<ellipse cx="641.5" cy="457.6" rx="6.5" ry="6.5" fill="#2a8c84"/>
<ellipse cx="623.7" cy="462.6" rx="8.0" ry="6.5" fill="#2a8c84"/>
<ellipse cx="630.9" cy="468.2" rx="7.0" ry="6.0" fill="#2a8c84"/>
<ellipse cx="667.5" cy="457.6" rx="6.5" ry="6.0" fill="#2a8c84"/>
<ellipse cx="679.2" cy="455.4" rx="7.5" ry="7.0" fill="#2a8c84"/>
<ellipse cx="678.1" cy="442.1" rx="6.5" ry="6.0" fill="#2a8c84"/>
<ellipse cx="660.3" cy="468.2" rx="7.0" ry="6.5" fill="#2a8c84"/>
<ellipse cx="668.1" cy="474.8" rx="6.5" ry="6.0" fill="#2a8c84"/>
<ellipse cx="620.4" cy="454.8" rx="6.5" ry="6.5" fill="#2a8c84"/>
<ellipse cx="678.1" cy="430.4" rx="6.0" ry="6.0" fill="#2a8c84"/>
</g>
<g filter="url(#tex)">
<ellipse cx="622.6" cy="424.3" rx="3.5" ry="3.0" transform="rotate(0 622.6 424.3)" fill="url(#nucg)" opacity="0.54"/>
<ellipse cx="643.7" cy="426.6" rx="3.5" ry="3.0" transform="rotate(0 643.7 426.6)" fill="url(#nucg)" opacity="0.57"/>
<ellipse cx="654.2" cy="428.2" rx="4.0" ry="3.0" transform="rotate(0 654.2 428.2)" fill="url(#nucg)" opacity="0.57"/>
<ellipse cx="669.2" cy="426.6" rx="3.0" ry="4.5" transform="rotate(0 669.2 426.6)" fill="url(#nucg)" opacity="0.68"/>
<ellipse cx="624.8" cy="438.2" rx="3.5" ry="3.0" transform="rotate(0 624.8 438.2)" fill="url(#nucg)" opacity="0.65"/>
<ellipse cx="635.4" cy="439.3" rx="3.5" ry="3.5" transform="rotate(0 635.4 439.3)" fill="url(#nucg)" opacity="0.79"/>
<ellipse cx="650.3" cy="442.1" rx="4.5" ry="3.0" transform="rotate(-30 650.3 442.1)" fill="url(#nucg)" opacity="0.83"/>
<ellipse cx="644.8" cy="449.9" rx="4.0" ry="4.0" transform="rotate(0 644.8 449.9)" fill="url(#nucg)" opacity="0.79"/>
<ellipse cx="617.6" cy="441.5" rx="2.5" ry="3.0" transform="rotate(0 617.6 441.5)" fill="url(#nucg)" opacity="0.54"/>
<ellipse cx="641.5" cy="457.6" rx="3.0" ry="3.5" transform="rotate(0 641.5 457.6)" fill="url(#nucg)" opacity="0.57"/>
<ellipse cx="623.7" cy="462.6" rx="4.5" ry="3.5" transform="rotate(0 623.7 462.6)" fill="url(#nucg)" opacity="0.79"/>
<ellipse cx="630.9" cy="468.2" rx="3.5" ry="3.0" transform="rotate(0 630.9 468.2)" fill="url(#nucg)" opacity="0.57"/>
<ellipse cx="667.5" cy="457.6" rx="3.0" ry="3.0" transform="rotate(0 667.5 457.6)" fill="url(#nucg)" opacity="0.72"/>
<ellipse cx="679.2" cy="455.4" rx="4.0" ry="4.0" transform="rotate(0 679.2 455.4)" fill="url(#nucg)" opacity="0.79"/>
<ellipse cx="678.1" cy="442.1" rx="3.0" ry="3.0" transform="rotate(0 678.1 442.1)" fill="url(#nucg)" opacity="0.54"/>
<ellipse cx="660.3" cy="468.2" rx="3.5" ry="3.5" transform="rotate(0 660.3 468.2)" fill="url(#nucg)" opacity="0.68"/>
<ellipse cx="668.1" cy="474.8" rx="3.0" ry="3.0" transform="rotate(0 668.1 474.8)" fill="url(#nucg)" opacity="0.65"/>
<ellipse cx="620.4" cy="454.8" rx="3.0" ry="3.5" transform="rotate(0 620.4 454.8)" fill="url(#nucg)" opacity="0.54"/>
<ellipse cx="678.1" cy="430.4" rx="2.5" ry="3.0" transform="rotate(0 678.1 430.4)" fill="url(#nucg)" opacity="0.54"/>
</g>
</g>
<rect x="613.5" y="408.8" width="70.3" height="70.0" fill="none" stroke="#bbb" stroke-width="0.5"/>
<text x="615.50" y="417.40" font-size="7.95" fill="#62e6de" font-weight="bold">Hoechst 33342</text>
<text x="615.50" y="425.80" font-size="7.95" fill="#ff2418" font-weight="bold">TMRE</text>
<clipPath id="c16"><rect x="467.9" y="481.1" width="70.3" height="70.0"/></clipPath>
<rect x="467.90" y="481.10" width="70.30" height="70.00" fill="#050505"/>
<g clip-path="url(#c16)">
<g filter="url(#soft2)" opacity="0.25">
<ellipse cx="500.3" cy="495.8" rx="8.5" ry="8.0" fill="#2a8c84"/>
<ellipse cx="513.6" cy="496.9" rx="8.5" ry="6.0" fill="#2a8c84"/>
<ellipse cx="526.4" cy="504.1" rx="7.0" ry="8.0" fill="#2a8c84"/>
<ellipse cx="534.2" cy="505.7" rx="6.5" ry="7.5" fill="#2a8c84"/>
<ellipse cx="475.3" cy="503.5" rx="8.5" ry="10.0" fill="#2a8c84"/>
<ellipse cx="497.5" cy="519.1" rx="9.5" ry="7.0" fill="#2a8c84"/>
<ellipse cx="485.3" cy="522.9" rx="8.5" ry="8.0" fill="#2a8c84"/>
<ellipse cx="532.5" cy="520.2" rx="8.0" ry="7.0" fill="#2a8c84"/>
<ellipse cx="491.4" cy="534.0" rx="7.0" ry="6.0" fill="#2a8c84"/>
<ellipse cx="511.4" cy="536.8" rx="11.5" ry="9.5" fill="#2a8c84"/>
<ellipse cx="513.6" cy="545.7" rx="9.5" ry="7.0" fill="#2a8c84"/>
<ellipse cx="505.9" cy="531.3" rx="7.5" ry="6.0" fill="#2a8c84"/>
</g>
<g filter="url(#tex)">
<ellipse cx="500.3" cy="495.8" rx="5.0" ry="5.0" transform="rotate(0 500.3 495.8)" fill="url(#nucg)" opacity="0.61"/>
<ellipse cx="513.6" cy="496.9" rx="5.0" ry="3.0" transform="rotate(0 513.6 496.9)" fill="url(#nucg)" opacity="0.57"/>
<ellipse cx="526.4" cy="504.1" rx="3.5" ry="5.0" transform="rotate(0 526.4 504.1)" fill="url(#nucg)" opacity="0.83"/>
<ellipse cx="534.2" cy="505.7" rx="3.0" ry="4.5" transform="rotate(0 534.2 505.7)" fill="url(#nucg)" opacity="0.83"/>
<ellipse cx="475.3" cy="503.5" rx="5.0" ry="7.0" transform="rotate(0 475.3 503.5)" fill="url(#nucg)" opacity="0.54"/>
<ellipse cx="497.5" cy="519.1" rx="6.0" ry="4.0" transform="rotate(-15 497.5 519.1)" fill="url(#nucg)" opacity="0.65"/>
<ellipse cx="485.3" cy="522.9" rx="5.0" ry="5.0" transform="rotate(0 485.3 522.9)" fill="url(#nucg)" opacity="0.65"/>
<ellipse cx="532.5" cy="520.2" rx="4.5" ry="4.0" transform="rotate(0 532.5 520.2)" fill="url(#nucg)" opacity="0.83"/>
<ellipse cx="491.4" cy="534.0" rx="3.5" ry="3.0" transform="rotate(0 491.4 534.0)" fill="url(#nucg)" opacity="0.97"/>
<ellipse cx="511.4" cy="536.8" rx="8.0" ry="6.5" transform="rotate(0 511.4 536.8)" fill="url(#nucg)" opacity="0.65"/>
<ellipse cx="513.6" cy="545.7" rx="6.0" ry="4.0" transform="rotate(0 513.6 545.7)" fill="url(#nucg)" opacity="0.65"/>
<ellipse cx="505.9" cy="531.3" rx="4.0" ry="3.0" transform="rotate(0 505.9 531.3)" fill="url(#nucg)" opacity="0.61"/>
</g>
</g>
<rect x="467.9" y="481.1" width="70.3" height="70.0" fill="none" stroke="#bbb" stroke-width="0.5"/>
<text x="469.90" y="489.70" font-size="7.95" fill="#62e6de" font-weight="bold">Hoechst 33342</text>
<text x="470.10" y="548.00" font-size="7.9" fill="#e8e8e8">shKAT5</text>
<clipPath id="c17"><rect x="540.7" y="481.1" width="70.3" height="70.0"/></clipPath>
<rect x="540.70" y="481.10" width="70.30" height="70.00" fill="#050505"/>
<g clip-path="url(#c17)">
<g filter="url(#soft)">
<g filter="url(#tex)">
<ellipse cx="573.1" cy="495.8" rx="7.0" ry="7.0" transform="rotate(0 573.1 495.8)" fill="none" stroke="rgb(69,6,3)" stroke-width="1.3" stroke-dasharray="2.4 0.6" stroke-dashoffset="2.5"/>
<ellipse cx="574.4" cy="496.1" rx="8.8" ry="8.4" transform="rotate(-5 573.1 495.8)" fill="none" stroke="rgb(69,6,3)" stroke-width="1.0" stroke-dasharray="1.6 2.3" stroke-dashoffset="1.9" opacity="0.85"/>
<ellipse cx="586.4" cy="496.9" rx="7.2" ry="5.2" transform="rotate(0 586.4 496.9)" fill="none" stroke="rgb(69,6,3)" stroke-width="1.3" stroke-dasharray="2.7 1.0" stroke-dashoffset="1.0"/>
<ellipse cx="587.0" cy="496.8" rx="9.2" ry="6.8" transform="rotate(-24 586.4 496.9)" fill="none" stroke="rgb(69,6,3)" stroke-width="1.0" stroke-dasharray="0.9 1.8" stroke-dashoffset="3.3" opacity="0.85"/>
<ellipse cx="599.2" cy="504.1" rx="5.5" ry="7.0" transform="rotate(0 599.2 504.1)" fill="none" stroke="rgb(69,6,3)" stroke-width="1.3" stroke-dasharray="2.8 1.1" stroke-dashoffset="3.9"/>
<ellipse cx="599.8" cy="504.8" rx="7.8" ry="8.9" transform="rotate(8 599.2 504.1)" fill="none" stroke="rgb(69,6,3)" stroke-width="1.0" stroke-dasharray="1.7 1.5" stroke-dashoffset="3.8" opacity="0.85"/>
<ellipse cx="607.0" cy="505.7" rx="5.2" ry="6.7" transform="rotate(0 607.0 505.7)" fill="none" stroke="rgb(69,6,3)" stroke-width="1.3" stroke-dasharray="3.2 1.1" stroke-dashoffset="1.5"/>
<ellipse cx="606.2" cy="505.1" rx="6.9" ry="8.0" transform="rotate(11 607.0 505.7)" fill="none" stroke="rgb(69,6,3)" stroke-width="1.0" stroke-dasharray="1.5 1.6" stroke-dashoffset="0.4" opacity="0.85"/>
<ellipse cx="548.1" cy="503.5" rx="7.0" ry="9.0" transform="rotate(0 548.1 503.5)" fill="none" stroke="rgb(69,6,3)" stroke-width="1.3" stroke-dasharray="2.5 1.1" stroke-dashoffset="0.1"/>
<ellipse cx="546.9" cy="503.2" rx="8.9" ry="10.5" transform="rotate(18 548.1 503.5)" fill="none" stroke="rgb(69,6,3)" stroke-width="1.0" stroke-dasharray="1.3 1.2" stroke-dashoffset="0.6" opacity="0.85"/>
<ellipse cx="570.3" cy="519.1" rx="8.1" ry="6.1" transform="rotate(-15 570.3 519.1)" fill="none" stroke="rgb(69,6,3)" stroke-width="1.3" stroke-dasharray="2.4 0.7" stroke-dashoffset="2.8"/>
<ellipse cx="570.7" cy="520.0" rx="10.2" ry="7.8" transform="rotate(-32 570.3 519.1)" fill="none" stroke="rgb(69,6,3)" stroke-width="1.0" stroke-dasharray="0.9 2.0" stroke-dashoffset="2.8" opacity="0.85"/>
<ellipse cx="558.1" cy="522.9" rx="6.8" ry="6.8" transform="rotate(0 558.1 522.9)" fill="none" stroke="rgb(69,6,3)" stroke-width="1.3" stroke-dasharray="2.9 0.7" stroke-dashoffset="2.7"/>
<ellipse cx="557.8" cy="522.3" rx="9.2" ry="8.8" transform="rotate(-13 558.1 522.9)" fill="none" stroke="rgb(69,6,3)" stroke-width="1.0" stroke-dasharray="1.7 1.0" stroke-dashoffset="0.7" opacity="0.85"/>
<ellipse cx="605.3" cy="520.2" rx="6.2" ry="5.7" transform="rotate(0 605.3 520.2)" fill="none" stroke="rgb(69,6,3)" stroke-width="1.3" stroke-dasharray="3.6 0.9" stroke-dashoffset="1.5"/>
<ellipse cx="605.6" cy="521.4" rx="8.0" ry="7.1" transform="rotate(16 605.3 520.2)" fill="none" stroke="rgb(69,6,3)" stroke-width="1.0" stroke-dasharray="0.8 2.0" stroke-dashoffset="1.8" opacity="0.85"/>
<ellipse cx="564.2" cy="534.0" rx="5.3" ry="4.8" transform="rotate(0 564.2 534.0)" fill="none" stroke="rgb(69,6,3)" stroke-width="1.3" stroke-dasharray="2.8 1.1" stroke-dashoffset="2.5"/>
<ellipse cx="564.3" cy="533.4" rx="7.0" ry="6.1" transform="rotate(13 564.2 534.0)" fill="none" stroke="rgb(69,6,3)" stroke-width="1.0" stroke-dasharray="1.6 1.0" stroke-dashoffset="1.1" opacity="0.85"/>
<ellipse cx="584.2" cy="536.8" rx="10.1" ry="8.6" transform="rotate(0 584.2 536.8)" fill="none" stroke="rgb(69,6,3)" stroke-width="1.3" stroke-dasharray="3.3 0.8" stroke-dashoffset="2.8"/>
<ellipse cx="582.9" cy="536.4" rx="12.1" ry="10.2" transform="rotate(9 584.2 536.8)" fill="none" stroke="rgb(69,6,3)" stroke-width="1.0" stroke-dasharray="1.1 1.0" stroke-dashoffset="3.7" opacity="0.85"/>
<ellipse cx="586.4" cy="545.7" rx="7.9" ry="5.9" transform="rotate(0 586.4 545.7)" fill="none" stroke="rgb(69,6,3)" stroke-width="1.3" stroke-dasharray="3.5 1.0" stroke-dashoffset="2.2"/>
<ellipse cx="587.1" cy="545.4" rx="9.6" ry="7.2" transform="rotate(-2 586.4 545.7)" fill="none" stroke="rgb(69,6,3)" stroke-width="1.0" stroke-dasharray="1.1 2.0" stroke-dashoffset="0.4" opacity="0.85"/>
<ellipse cx="578.7" cy="531.3" rx="6.0" ry="5.0" transform="rotate(0 578.7 531.3)" fill="none" stroke="rgb(69,6,3)" stroke-width="1.3" stroke-dasharray="2.7 0.7" stroke-dashoffset="2.6"/>
<ellipse cx="579.3" cy="530.7" rx="7.4" ry="6.0" transform="rotate(9 578.7 531.3)" fill="none" stroke="rgb(69,6,3)" stroke-width="1.0" stroke-dasharray="1.6 2.1" stroke-dashoffset="3.7" opacity="0.85"/>
</g>
</g>
</g>
<rect x="540.7" y="481.1" width="70.3" height="70.0" fill="none" stroke="#bbb" stroke-width="0.5"/>
<text x="542.70" y="489.70" font-size="7.95" fill="#ff2418" font-weight="bold">TMRE</text>
<clipPath id="c18"><rect x="613.5" y="481.1" width="70.3" height="70.0"/></clipPath>
<rect x="613.50" y="481.10" width="70.30" height="70.00" fill="#050505"/>
<g clip-path="url(#c18)">
<g filter="url(#soft)">
<g filter="url(#tex)">
<ellipse cx="645.9" cy="495.8" rx="7.0" ry="7.0" transform="rotate(0 645.9 495.8)" fill="none" stroke="rgb(69,6,3)" stroke-width="1.3" stroke-dasharray="2.4 0.6" stroke-dashoffset="2.5"/>
<ellipse cx="647.2" cy="496.1" rx="8.8" ry="8.4" transform="rotate(-5 645.9 495.8)" fill="none" stroke="rgb(69,6,3)" stroke-width="1.0" stroke-dasharray="1.6 2.3" stroke-dashoffset="1.9" opacity="0.85"/>
<ellipse cx="659.2" cy="496.9" rx="7.2" ry="5.2" transform="rotate(0 659.2 496.9)" fill="none" stroke="rgb(69,6,3)" stroke-width="1.3" stroke-dasharray="2.7 1.0" stroke-dashoffset="1.0"/>
<ellipse cx="659.8" cy="496.8" rx="9.2" ry="6.8" transform="rotate(-24 659.2 496.9)" fill="none" stroke="rgb(69,6,3)" stroke-width="1.0" stroke-dasharray="0.9 1.8" stroke-dashoffset="3.3" opacity="0.85"/>
<ellipse cx="672.0" cy="504.1" rx="5.5" ry="7.0" transform="rotate(0 672.0 504.1)" fill="none" stroke="rgb(69,6,3)" stroke-width="1.3" stroke-dasharray="2.8 1.1" stroke-dashoffset="3.9"/>
<ellipse cx="672.6" cy="504.8" rx="7.8" ry="8.9" transform="rotate(8 672.0 504.1)" fill="none" stroke="rgb(69,6,3)" stroke-width="1.0" stroke-dasharray="1.7 1.5" stroke-dashoffset="3.8" opacity="0.85"/>
<ellipse cx="679.8" cy="505.7" rx="5.2" ry="6.7" transform="rotate(0 679.8 505.7)" fill="none" stroke="rgb(69,6,3)" stroke-width="1.3" stroke-dasharray="3.2 1.1" stroke-dashoffset="1.5"/>
<ellipse cx="679.0" cy="505.1" rx="6.9" ry="8.0" transform="rotate(11 679.8 505.7)" fill="none" stroke="rgb(69,6,3)" stroke-width="1.0" stroke-dasharray="1.5 1.6" stroke-dashoffset="0.4" opacity="0.85"/>
<ellipse cx="620.9" cy="503.5" rx="7.0" ry="9.0" transform="rotate(0 620.9 503.5)" fill="none" stroke="rgb(69,6,3)" stroke-width="1.3" stroke-dasharray="2.5 1.1" stroke-dashoffset="0.1"/>
<ellipse cx="619.7" cy="503.2" rx="8.9" ry="10.5" transform="rotate(18 620.9 503.5)" fill="none" stroke="rgb(69,6,3)" stroke-width="1.0" stroke-dasharray="1.3 1.2" stroke-dashoffset="0.6" opacity="0.85"/>
<ellipse cx="643.1" cy="519.1" rx="8.1" ry="6.1" transform="rotate(-15 643.1 519.1)" fill="none" stroke="rgb(69,6,3)" stroke-width="1.3" stroke-dasharray="2.4 0.7" stroke-dashoffset="2.8"/>
<ellipse cx="643.5" cy="520.0" rx="10.2" ry="7.8" transform="rotate(-32 643.1 519.1)" fill="none" stroke="rgb(69,6,3)" stroke-width="1.0" stroke-dasharray="0.9 2.0" stroke-dashoffset="2.8" opacity="0.85"/>
<ellipse cx="630.9" cy="522.9" rx="6.8" ry="6.8" transform="rotate(0 630.9 522.9)" fill="none" stroke="rgb(69,6,3)" stroke-width="1.3" stroke-dasharray="2.9 0.7" stroke-dashoffset="2.7"/>
<ellipse cx="630.6" cy="522.3" rx="9.2" ry="8.8" transform="rotate(-13 630.9 522.9)" fill="none" stroke="rgb(69,6,3)" stroke-width="1.0" stroke-dasharray="1.7 1.0" stroke-dashoffset="0.7" opacity="0.85"/>
<ellipse cx="678.1" cy="520.2" rx="6.2" ry="5.7" transform="rotate(0 678.1 520.2)" fill="none" stroke="rgb(69,6,3)" stroke-width="1.3" stroke-dasharray="3.6 0.9" stroke-dashoffset="1.5"/>
<ellipse cx="678.4" cy="521.4" rx="8.0" ry="7.1" transform="rotate(16 678.1 520.2)" fill="none" stroke="rgb(69,6,3)" stroke-width="1.0" stroke-dasharray="0.8 2.0" stroke-dashoffset="1.8" opacity="0.85"/>
<ellipse cx="637.0" cy="534.0" rx="5.3" ry="4.8" transform="rotate(0 637.0 534.0)" fill="none" stroke="rgb(69,6,3)" stroke-width="1.3" stroke-dasharray="2.8 1.1" stroke-dashoffset="2.5"/>
<ellipse cx="637.1" cy="533.4" rx="7.0" ry="6.1" transform="rotate(13 637.0 534.0)" fill="none" stroke="rgb(69,6,3)" stroke-width="1.0" stroke-dasharray="1.6 1.0" stroke-dashoffset="1.1" opacity="0.85"/>
<ellipse cx="657.0" cy="536.8" rx="10.1" ry="8.6" transform="rotate(0 657.0 536.8)" fill="none" stroke="rgb(69,6,3)" stroke-width="1.3" stroke-dasharray="3.3 0.8" stroke-dashoffset="2.8"/>
<ellipse cx="655.7" cy="536.4" rx="12.1" ry="10.2" transform="rotate(9 657.0 536.8)" fill="none" stroke="rgb(69,6,3)" stroke-width="1.0" stroke-dasharray="1.1 1.0" stroke-dashoffset="3.7" opacity="0.85"/>
<ellipse cx="659.2" cy="545.7" rx="7.9" ry="5.9" transform="rotate(0 659.2 545.7)" fill="none" stroke="rgb(69,6,3)" stroke-width="1.3" stroke-dasharray="3.5 1.0" stroke-dashoffset="2.2"/>
<ellipse cx="659.9" cy="545.4" rx="9.6" ry="7.2" transform="rotate(-2 659.2 545.7)" fill="none" stroke="rgb(69,6,3)" stroke-width="1.0" stroke-dasharray="1.1 2.0" stroke-dashoffset="0.4" opacity="0.85"/>
<ellipse cx="651.5" cy="531.3" rx="6.0" ry="5.0" transform="rotate(0 651.5 531.3)" fill="none" stroke="rgb(69,6,3)" stroke-width="1.3" stroke-dasharray="2.7 0.7" stroke-dashoffset="2.6"/>
<ellipse cx="652.1" cy="530.7" rx="7.4" ry="6.0" transform="rotate(9 651.5 531.3)" fill="none" stroke="rgb(69,6,3)" stroke-width="1.0" stroke-dasharray="1.6 2.1" stroke-dashoffset="3.7" opacity="0.85"/>
</g>
</g>
<g filter="url(#soft2)" opacity="0.25">
<ellipse cx="645.9" cy="495.8" rx="8.5" ry="8.0" fill="#2a8c84"/>
<ellipse cx="659.2" cy="496.9" rx="8.5" ry="6.0" fill="#2a8c84"/>
<ellipse cx="672.0" cy="504.1" rx="7.0" ry="8.0" fill="#2a8c84"/>
<ellipse cx="679.8" cy="505.7" rx="6.5" ry="7.5" fill="#2a8c84"/>
<ellipse cx="620.9" cy="503.5" rx="8.5" ry="10.0" fill="#2a8c84"/>
<ellipse cx="643.1" cy="519.1" rx="9.5" ry="7.0" fill="#2a8c84"/>
<ellipse cx="630.9" cy="522.9" rx="8.5" ry="8.0" fill="#2a8c84"/>
<ellipse cx="678.1" cy="520.2" rx="8.0" ry="7.0" fill="#2a8c84"/>
<ellipse cx="637.0" cy="534.0" rx="7.0" ry="6.0" fill="#2a8c84"/>
<ellipse cx="657.0" cy="536.8" rx="11.5" ry="9.5" fill="#2a8c84"/>
<ellipse cx="659.2" cy="545.7" rx="9.5" ry="7.0" fill="#2a8c84"/>
<ellipse cx="651.5" cy="531.3" rx="7.5" ry="6.0" fill="#2a8c84"/>
</g>
<g filter="url(#tex)">
<ellipse cx="645.9" cy="495.8" rx="5.0" ry="5.0" transform="rotate(0 645.9 495.8)" fill="url(#nucg)" opacity="0.61"/>
<ellipse cx="659.2" cy="496.9" rx="5.0" ry="3.0" transform="rotate(0 659.2 496.9)" fill="url(#nucg)" opacity="0.57"/>
<ellipse cx="672.0" cy="504.1" rx="3.5" ry="5.0" transform="rotate(0 672.0 504.1)" fill="url(#nucg)" opacity="0.83"/>
<ellipse cx="679.8" cy="505.7" rx="3.0" ry="4.5" transform="rotate(0 679.8 505.7)" fill="url(#nucg)" opacity="0.83"/>
<ellipse cx="620.9" cy="503.5" rx="5.0" ry="7.0" transform="rotate(0 620.9 503.5)" fill="url(#nucg)" opacity="0.54"/>
<ellipse cx="643.1" cy="519.1" rx="6.0" ry="4.0" transform="rotate(-15 643.1 519.1)" fill="url(#nucg)" opacity="0.65"/>
<ellipse cx="630.9" cy="522.9" rx="5.0" ry="5.0" transform="rotate(0 630.9 522.9)" fill="url(#nucg)" opacity="0.65"/>
<ellipse cx="678.1" cy="520.2" rx="4.5" ry="4.0" transform="rotate(0 678.1 520.2)" fill="url(#nucg)" opacity="0.83"/>
<ellipse cx="637.0" cy="534.0" rx="3.5" ry="3.0" transform="rotate(0 637.0 534.0)" fill="url(#nucg)" opacity="0.97"/>
<ellipse cx="657.0" cy="536.8" rx="8.0" ry="6.5" transform="rotate(0 657.0 536.8)" fill="url(#nucg)" opacity="0.65"/>
<ellipse cx="659.2" cy="545.7" rx="6.0" ry="4.0" transform="rotate(0 659.2 545.7)" fill="url(#nucg)" opacity="0.65"/>
<ellipse cx="651.5" cy="531.3" rx="4.0" ry="3.0" transform="rotate(0 651.5 531.3)" fill="url(#nucg)" opacity="0.61"/>
</g>
</g>
<rect x="613.5" y="481.1" width="70.3" height="70.0" fill="none" stroke="#bbb" stroke-width="0.5"/>
<text x="615.50" y="489.70" font-size="7.95" fill="#62e6de" font-weight="bold">Hoechst 33342</text>
<text x="615.50" y="498.10" font-size="7.95" fill="#ff2418" font-weight="bold">TMRE</text>
<line x1="65.00" y1="467.40" x2="82.50" y2="467.40" stroke="#ddd" stroke-width="0.9"/>
<text x="73.60" y="476.40" font-size="5.4" text-anchor="middle" fill="#e8e8e8">30 µm</text>
<text x="-0.30" y="418.80" font-size="20" fill="#111">g</text>
<text x="-0.3" y="577.9" font-size="20" fill="#111">g</text>
<text x="11.0" y="577.9" font-size="20" fill="#111">’</text>
<line x1="59.00" y1="578.20" x2="59.00" y2="642.10" stroke="#333" stroke-width="0.8"/>
<line x1="59.00" y1="642.10" x2="180.00" y2="642.10" stroke="#333" stroke-width="0.8"/>
<line x1="56.00" y1="642.10" x2="59.00" y2="642.10" stroke="#333" stroke-width="0.7"/>
<text x="55.00" y="644.70" font-size="7.4" text-anchor="end" fill="#262626">0</text>
<line x1="56.00" y1="629.32" x2="59.00" y2="629.32" stroke="#333" stroke-width="0.7"/>
<text x="55.00" y="631.92" font-size="7.4" text-anchor="end" fill="#262626">10</text>
<line x1="56.00" y1="616.54" x2="59.00" y2="616.54" stroke="#333" stroke-width="0.7"/>
<text x="55.00" y="619.14" font-size="7.4" text-anchor="end" fill="#262626">20</text>
<line x1="56.00" y1="603.76" x2="59.00" y2="603.76" stroke="#333" stroke-width="0.7"/>
<text x="55.00" y="606.36" font-size="7.4" text-anchor="end" fill="#262626">30</text>
<line x1="56.00" y1="590.98" x2="59.00" y2="590.98" stroke="#333" stroke-width="0.7"/>
<text x="55.00" y="593.58" font-size="7.4" text-anchor="end" fill="#262626">40</text>
<line x1="56.00" y1="578.20" x2="59.00" y2="578.20" stroke="#333" stroke-width="0.7"/>
<text x="55.00" y="580.80" font-size="7.4" text-anchor="end" fill="#262626">50</text>
<text x="32.00" y="610.00" font-size="7.6" text-anchor="middle" fill="#262626" transform="rotate(-90 32.00 610.00)">Fluorescence</text>
<text x="40.90" y="610.00" font-size="7.6" text-anchor="middle" fill="#262626" transform="rotate(-90 40.90 610.00)">of TMRE</text>
<path d="M71.8,586.5 L77.8,591.2 L71.8,596.3 L65.8,591.2Z" fill="#c9b87a"/>
<line x1="64.80" y1="591.24" x2="78.80" y2="591.24" stroke="#222" stroke-width="0.7"/>
<circle cx="67.80" cy="589.06" r="0.95" fill="#222"/>
<circle cx="69.80" cy="588.04" r="0.95" fill="#222"/>
<circle cx="71.80" cy="587.40" r="0.95" fill="#222"/>
<circle cx="73.80" cy="588.68" r="0.95" fill="#222"/>
<circle cx="75.80" cy="589.70" r="0.95" fill="#222"/>
<circle cx="66.80" cy="590.98" r="0.95" fill="#222"/>
<circle cx="76.80" cy="590.98" r="0.95" fill="#222"/>
<circle cx="68.80" cy="592.90" r="0.95" fill="#222"/>
<circle cx="74.80" cy="592.26" r="0.95" fill="#222"/>
<circle cx="70.80" cy="594.43" r="0.95" fill="#222"/>
<circle cx="72.80" cy="595.84" r="0.95" fill="#222"/>
<circle cx="69.80" cy="593.79" r="0.95" fill="#222"/>
<circle cx="73.80" cy="594.56" r="0.95" fill="#222"/>
<line x1="71.80" y1="642.10" x2="71.80" y2="644.30" stroke="#333" stroke-width="0.7"/>
<path d="M91.3,625.2 L93.8,626.3 L91.3,627.0 L88.8,626.3Z" fill="#c9b87a"/>
<line x1="84.30" y1="626.25" x2="98.30" y2="626.25" stroke="#222" stroke-width="0.7"/>
<circle cx="85.30" cy="626.25" r="0.95" fill="#222"/>
<circle cx="87.30" cy="626.12" r="0.95" fill="#222"/>
<circle cx="89.30" cy="626.38" r="0.95" fill="#222"/>
<circle cx="91.30" cy="626.00" r="0.95" fill="#222"/>
<circle cx="93.30" cy="626.25" r="0.95" fill="#222"/>
<circle cx="95.30" cy="626.12" r="0.95" fill="#222"/>
<circle cx="97.30" cy="626.38" r="0.95" fill="#222"/>
<line x1="91.30" y1="642.10" x2="91.30" y2="644.30" stroke="#333" stroke-width="0.7"/>
<text x="91.30" y="620.40" font-size="6.8" text-anchor="middle" fill="#1a1a1a">***</text>
<path d="M110.6,617.6 L113.6,618.3 L110.6,620.6 L107.6,618.3Z" fill="#c9b87a"/>
<line x1="103.60" y1="618.33" x2="117.60" y2="618.33" stroke="#222" stroke-width="0.7"/>
<circle cx="105.60" cy="618.07" r="0.95" fill="#222"/>
<circle cx="107.60" cy="618.33" r="0.95" fill="#222"/>
<circle cx="109.60" cy="617.95" r="0.95" fill="#222"/>
<circle cx="111.60" cy="618.46" r="0.95" fill="#222"/>
<circle cx="113.60" cy="618.20" r="0.95" fill="#222"/>
<circle cx="115.60" cy="618.33" r="0.95" fill="#222"/>
<circle cx="110.60" cy="619.35" r="0.95" fill="#222"/>
<line x1="110.60" y1="642.10" x2="110.60" y2="644.30" stroke="#333" stroke-width="0.7"/>
<text x="110.60" y="612.10" font-size="6.8" text-anchor="middle" fill="#1a1a1a">***</text>
<path d="M129.4,618.1 L135.4,623.4 L129.4,628.3 L123.4,623.4Z" fill="#c9b87a"/>
<line x1="122.40" y1="623.44" x2="136.40" y2="623.44" stroke="#222" stroke-width="0.7"/>
<circle cx="125.40" cy="619.74" r="0.95" fill="#222"/>
<circle cx="129.40" cy="619.10" r="0.95" fill="#222"/>
<circle cx="133.40" cy="620.12" r="0.95" fill="#222"/>
<circle cx="124.40" cy="622.29" r="0.95" fill="#222"/>
<circle cx="127.40" cy="623.19" r="0.95" fill="#222"/>
<circle cx="131.40" cy="623.57" r="0.95" fill="#222"/>
<circle cx="134.40" cy="622.67" r="0.95" fill="#222"/>
<circle cx="126.40" cy="625.74" r="0.95" fill="#222"/>
<circle cx="132.40" cy="626.12" r="0.95" fill="#222"/>
<circle cx="129.40" cy="627.40" r="0.95" fill="#222"/>
<line x1="129.40" y1="642.10" x2="129.40" y2="644.30" stroke="#333" stroke-width="0.7"/>
<text x="129.40" y="612.10" font-size="6.8" text-anchor="middle" fill="#1a1a1a">***</text>
<path d="M148.6,610.4 L151.6,613.2 L148.6,614.2 L145.6,613.2Z" fill="#c9b87a"/>
<line x1="141.60" y1="613.22" x2="155.60" y2="613.22" stroke="#222" stroke-width="0.7"/>
<circle cx="143.60" cy="613.35" r="0.95" fill="#222"/>
<circle cx="145.60" cy="613.09" r="0.95" fill="#222"/>
<circle cx="147.60" cy="613.47" r="0.95" fill="#222"/>
<circle cx="149.60" cy="613.22" r="0.95" fill="#222"/>
<circle cx="151.60" cy="612.96" r="0.95" fill="#222"/>
<circle cx="153.60" cy="613.35" r="0.95" fill="#222"/>
<circle cx="148.60" cy="609.77" r="0.95" fill="#222"/>
<circle cx="148.60" cy="611.68" r="0.95" fill="#222"/>
<line x1="148.60" y1="642.10" x2="148.60" y2="644.30" stroke="#333" stroke-width="0.7"/>
<text x="148.60" y="604.80" font-size="6.8" text-anchor="middle" fill="#1a1a1a">***</text>
<path d="M168.0,620.9 L174.2,624.2 L168.0,626.5 L161.8,624.2Z" fill="#c9b87a"/>
<line x1="161.00" y1="624.21" x2="175.00" y2="624.21" stroke="#222" stroke-width="0.7"/>
<circle cx="163.00" cy="622.67" r="0.95" fill="#222"/>
<circle cx="166.00" cy="622.29" r="0.95" fill="#222"/>
<circle cx="170.00" cy="622.93" r="0.95" fill="#222"/>
<circle cx="173.00" cy="623.19" r="0.95" fill="#222"/>
<circle cx="164.00" cy="624.85" r="0.95" fill="#222"/>
<circle cx="168.00" cy="625.23" r="0.95" fill="#222"/>
<circle cx="172.00" cy="625.49" r="0.95" fill="#222"/>
<circle cx="167.00" cy="624.21" r="0.95" fill="#222"/>
<line x1="168.00" y1="642.10" x2="168.00" y2="644.30" stroke="#333" stroke-width="0.7"/>
<text x="168.00" y="615.00" font-size="6.8" text-anchor="middle" fill="#1a1a1a">***</text>
<text x="73.20" y="651.60" font-size="7.8" text-anchor="end" fill="#262626" transform="rotate(-45 73.20 651.60)">shScramble</text>
<text x="112.00" y="651.60" font-size="7.8" text-anchor="end" fill="#262626" transform="rotate(-45 112.00 651.60)">shCtBP</text>
<text x="130.80" y="651.60" font-size="7.8" text-anchor="end" fill="#262626" transform="rotate(-45 130.80 651.60)">shHDAC3</text>
<text x="150.00" y="651.60" font-size="7.8" text-anchor="end" fill="#262626" transform="rotate(-45 150.00 651.60)">shCREBBP</text>
<text x="169.40" y="651.60" font-size="7.8" text-anchor="end" fill="#262626" transform="rotate(-45 169.40 651.60)">shKAT5</text>
<text x="92.40" y="651.60" font-size="7.8" text-anchor="end" fill="#262626" transform="rotate(-45 92.40 651.60)">shScramble</text>
<text x="81.80" y="670.60" font-size="7.8" text-anchor="middle" fill="#262626" transform="rotate(-45 81.80 670.60)">+CCCP</text>
<text x="195.40" y="578.00" font-size="20" fill="#111">h</text>
<defs><filter id="bandblur" x="-20%" y="-100%" width="140%" height="300%"><feGaussianBlur stdDeviation="0.7 0.55"/></filter></defs>
<rect x="232.0" y="565.6" width="211.5" height="18.6" fill="#e6e6e6" stroke="#3a3a3a" stroke-width="0.9"/>
<g filter="url(#bandblur)">
<rect x="234.7" y="572.8" width="17.5" height="2.4" rx="1.2" fill="#9a9a9a"/>
<rect x="257.8" y="572.5" width="18.7" height="2.4" rx="1.2" fill="#969696"/>
<rect x="281.8" y="572.5" width="18.2" height="2.6" rx="1.3" fill="#858585"/>
<rect x="305.4" y="572.2" width="18.5" height="3.6" rx="1.8" fill="#3a3a3a"/>
<rect x="329.7" y="571.8" width="17.4" height="3.4" rx="1.7" fill="#3e3e3e"/>
<rect x="352.7" y="572.0" width="18.9" height="3.6" rx="1.8" fill="#3a3a3a"/>
<rect x="376.5" y="572.0" width="18.7" height="3.0" rx="1.5" fill="#5a5a5a"/>
<rect x="400.6" y="572.4" width="18.1" height="3.0" rx="1.5" fill="#606060"/>
<rect x="424.6" y="572.7" width="17.7" height="2.8" rx="1.4" fill="#6e6e6e"/>
</g>
<rect x="232.0" y="589.3" width="211.5" height="19.0" fill="#e6e6e6" stroke="#3a3a3a" stroke-width="0.9"/>
<g filter="url(#bandblur)">
<rect x="233.8" y="595.8" width="19.1" height="3.6" rx="1.8" fill="#222"/>
<rect x="258.5" y="595.3" width="17.3" height="3.6" rx="1.8" fill="#222"/>
<rect x="281.5" y="595.6" width="18.9" height="3.6" rx="1.8" fill="#222"/>
<rect x="305.4" y="595.4" width="18.5" height="3.6" rx="1.8" fill="#222"/>
<rect x="329.2" y="595.6" width="18.4" height="3.6" rx="1.8" fill="#222"/>
<rect x="353.0" y="595.3" width="18.4" height="3.6" rx="1.8" fill="#222"/>
<rect x="376.9" y="595.4" width="18.1" height="3.6" rx="1.8" fill="#222"/>
<rect x="400.3" y="595.8" width="18.6" height="3.6" rx="1.8" fill="#222"/>
<rect x="423.9" y="595.5" width="19.1" height="3.6" rx="1.8" fill="#222"/>
</g>
<rect x="232.0" y="629.0" width="211.5" height="19.6" fill="#e6e6e6" stroke="#3a3a3a" stroke-width="0.9"/>
<g filter="url(#bandblur)">
<rect x="234.6" y="636.5" width="17.7" height="3.0" rx="1.5" fill="#555"/>
<rect x="258.2" y="636.6" width="17.9" height="3.0" rx="1.5" fill="#5a5a5a"/>
<rect x="281.7" y="636.3" width="18.5" height="2.8" rx="1.4" fill="#666"/>
<rect x="306.0" y="636.3" width="17.2" height="3.8" rx="1.9" fill="#2a2a2a"/>
<rect x="329.5" y="636.1" width="17.7" height="3.4" rx="1.7" fill="#3a3a3a"/>
<rect x="352.6" y="636.4" width="19.2" height="3.2" rx="1.6" fill="#4a4a4a"/>
<rect x="376.5" y="636.2" width="18.9" height="3.6" rx="1.8" fill="#333"/>
<rect x="400.4" y="636.0" width="18.5" height="3.6" rx="1.8" fill="#383838"/>
<rect x="424.2" y="636.5" width="18.5" height="3.4" rx="1.7" fill="#3a3a3a"/>
</g>
<rect x="232.0" y="652.9" width="211.5" height="19.1" fill="#e6e6e6" stroke="#3a3a3a" stroke-width="0.9"/>
<g filter="url(#bandblur)">
<rect x="234.6" y="658.9" width="17.7" height="3.8" rx="1.9" fill="#222"/>
<rect x="258.2" y="658.9" width="18.0" height="3.8" rx="1.9" fill="#222"/>
<rect x="282.2" y="659.0" width="17.3" height="3.8" rx="1.9" fill="#222"/>
<rect x="305.1" y="659.3" width="19.0" height="3.8" rx="1.9" fill="#222"/>
<rect x="329.0" y="658.9" width="18.7" height="3.8" rx="1.9" fill="#222"/>
<rect x="353.0" y="659.0" width="18.3" height="3.8" rx="1.9" fill="#222"/>
<rect x="377.1" y="658.9" width="17.5" height="3.8" rx="1.9" fill="#222"/>
<rect x="400.8" y="659.4" width="17.6" height="3.8" rx="1.9" fill="#222"/>
<rect x="424.0" y="659.3" width="18.9" height="3.8" rx="1.9" fill="#222"/>
</g>
<text x="214.80" y="570.90" font-size="7.4" fill="#262626">kDa</text>
<text x="223.80" y="583.20" font-size="7.4" text-anchor="end" fill="#262626">10</text>
<line x1="225.40" y1="580.90" x2="232.00" y2="580.90" stroke="#333" stroke-width="0.8"/>
<text x="223.80" y="598.60" font-size="7.4" text-anchor="end" fill="#262626">45</text>
<line x1="225.40" y1="595.60" x2="232.00" y2="595.60" stroke="#333" stroke-width="0.8"/>
<text x="446.90" y="575.80" font-size="7.6" fill="#1a1a1a">Cyto-Cyt-c</text>
<text x="446.90" y="585.00" font-size="7.6" fill="#1a1a1a">~12 kDa</text>
<text x="446.90" y="602.00" font-size="7.6" fill="#1a1a1a">β-Actin</text>
<text x="214.80" y="634.30" font-size="7.4" fill="#262626">kDa</text>
<text x="223.80" y="646.60" font-size="7.4" text-anchor="end" fill="#262626">10</text>
<line x1="225.40" y1="644.30" x2="232.00" y2="644.30" stroke="#333" stroke-width="0.8"/>
<text x="223.80" y="662.00" font-size="7.4" text-anchor="end" fill="#262626">45</text>
<line x1="225.40" y1="659.00" x2="232.00" y2="659.00" stroke="#333" stroke-width="0.8"/>
<text x="446.90" y="639.20" font-size="7.6" fill="#1a1a1a">Cyto-Cyt-c</text>
<text x="446.90" y="648.40" font-size="7.6" fill="#1a1a1a">~12 kDa</text>
<text x="446.90" y="665.40" font-size="7.6" fill="#1a1a1a">β-Actin</text>
<line x1="238.00" y1="611.90" x2="293.00" y2="611.90" stroke="#777" stroke-width="0.8"/>
<text x="265.50" y="620.60" font-size="7.6" text-anchor="middle" fill="#262626">shScramble</text>
<line x1="310.50" y1="611.90" x2="364.70" y2="611.90" stroke="#777" stroke-width="0.8"/>
<text x="337.60" y="620.60" font-size="7.6" text-anchor="middle" fill="#262626">shCtBP</text>
<line x1="383.00" y1="611.90" x2="437.00" y2="611.90" stroke="#777" stroke-width="0.8"/>
<text x="410.00" y="620.60" font-size="7.6" text-anchor="middle" fill="#262626">shHDAC3</text>
<line x1="238.00" y1="676.50" x2="293.00" y2="676.50" stroke="#777" stroke-width="0.8"/>
<text x="265.50" y="684.60" font-size="7.6" text-anchor="middle" fill="#262626">shScramble</text>
<line x1="310.50" y1="676.50" x2="366.00" y2="676.50" stroke="#777" stroke-width="0.8"/>
<text x="338.25" y="684.60" font-size="7.6" text-anchor="middle" fill="#262626">shCREBBP</text>
<line x1="384.40" y1="676.50" x2="438.20" y2="676.50" stroke="#777" stroke-width="0.8"/>
<text x="411.30" y="684.60" font-size="7.6" text-anchor="middle" fill="#262626">shKAT5</text>
<text x="503.6" y="580.4" font-size="20" fill="#111">h</text>
<text x="515.2" y="580.4" font-size="20" fill="#111">’</text>
<line x1="555.90" y1="579.80" x2="555.90" y2="642.20" stroke="#333" stroke-width="0.8"/>
<line x1="555.90" y1="642.20" x2="677.00" y2="642.20" stroke="#333" stroke-width="0.8"/>
<line x1="553.00" y1="642.20" x2="555.90" y2="642.20" stroke="#333" stroke-width="0.7"/>
<text x="552.00" y="644.80" font-size="7.4" text-anchor="end" fill="#262626">0.0</text>
<line x1="553.00" y1="631.80" x2="555.90" y2="631.80" stroke="#333" stroke-width="0.7"/>
<text x="552.00" y="634.40" font-size="7.4" text-anchor="end" fill="#262626">0.5</text>
<line x1="553.00" y1="621.40" x2="555.90" y2="621.40" stroke="#333" stroke-width="0.7"/>
<text x="552.00" y="624.00" font-size="7.4" text-anchor="end" fill="#262626">1.0</text>
<line x1="553.00" y1="611.00" x2="555.90" y2="611.00" stroke="#333" stroke-width="0.7"/>
<text x="552.00" y="613.60" font-size="7.4" text-anchor="end" fill="#262626">1.5</text>
<line x1="553.00" y1="600.60" x2="555.90" y2="600.60" stroke="#333" stroke-width="0.7"/>
<text x="552.00" y="603.20" font-size="7.4" text-anchor="end" fill="#262626">2.0</text>
<line x1="553.00" y1="590.20" x2="555.90" y2="590.20" stroke="#333" stroke-width="0.7"/>
<text x="552.00" y="592.80" font-size="7.4" text-anchor="end" fill="#262626">2.5</text>
<line x1="553.00" y1="579.80" x2="555.90" y2="579.80" stroke="#333" stroke-width="0.7"/>
<text x="552.00" y="582.40" font-size="7.4" text-anchor="end" fill="#262626">3.0</text>
<line x1="555.90" y1="621.40" x2="677.00" y2="621.40" stroke="#222" stroke-width="0.7" stroke-dasharray="1.2 1.2"/>
<rect x="561.55" y="621.40" width="13.50" height="20.80" fill="#bcb27a"/>
<line x1="568.30" y1="617.24" x2="568.30" y2="625.56" stroke="#222" stroke-width="0.7"/>
<line x1="566.80" y1="617.24" x2="569.80" y2="617.24" stroke="#222" stroke-width="0.7"/>
<line x1="566.80" y1="625.56" x2="569.80" y2="625.56" stroke="#222" stroke-width="0.7"/>
<circle cx="568.82" cy="617.24" r="1.20" fill="#222"/>
<circle cx="568.22" cy="622.44" r="1.20" fill="#222"/>
<circle cx="568.75" cy="625.14" r="1.20" fill="#222"/>
<line x1="568.30" y1="642.20" x2="568.30" y2="644.40" stroke="#333" stroke-width="0.7"/>
<rect x="580.25" y="599.56" width="13.50" height="42.64" fill="#bcb27a"/>
<line x1="587.00" y1="598.52" x2="587.00" y2="600.60" stroke="#222" stroke-width="0.7"/>
<line x1="585.50" y1="598.52" x2="588.50" y2="598.52" stroke="#222" stroke-width="0.7"/>
<line x1="585.50" y1="600.60" x2="588.50" y2="600.60" stroke="#222" stroke-width="0.7"/>
<circle cx="587.39" cy="598.52" r="1.20" fill="#222"/>
<circle cx="586.65" cy="599.56" r="1.20" fill="#222"/>
<circle cx="586.70" cy="600.18" r="1.20" fill="#222"/>
<line x1="587.00" y1="642.20" x2="587.00" y2="644.40" stroke="#333" stroke-width="0.7"/>
<rect x="599.95" y="604.14" width="13.50" height="38.06" fill="#bcb27a"/>
<line x1="606.70" y1="598.52" x2="606.70" y2="609.75" stroke="#222" stroke-width="0.7"/>
<line x1="605.20" y1="598.52" x2="608.20" y2="598.52" stroke="#222" stroke-width="0.7"/>
<line x1="605.20" y1="609.75" x2="608.20" y2="609.75" stroke="#222" stroke-width="0.7"/>
<circle cx="606.45" cy="598.94" r="1.20" fill="#222"/>
<circle cx="606.39" cy="603.72" r="1.20" fill="#222"/>
<circle cx="606.80" cy="608.92" r="1.20" fill="#222"/>
<line x1="606.70" y1="642.20" x2="606.70" y2="644.40" stroke="#333" stroke-width="0.7"/>
<rect x="618.75" y="621.40" width="13.50" height="20.80" fill="#bcb27a"/>
<line x1="625.50" y1="620.57" x2="625.50" y2="622.23" stroke="#222" stroke-width="0.7"/>
<line x1="624.00" y1="620.57" x2="627.00" y2="620.57" stroke="#222" stroke-width="0.7"/>
<line x1="624.00" y1="622.23" x2="627.00" y2="622.23" stroke="#222" stroke-width="0.7"/>
<circle cx="625.21" cy="620.57" r="1.20" fill="#222"/>
<circle cx="625.40" cy="621.40" r="1.20" fill="#222"/>
<circle cx="625.06" cy="621.82" r="1.20" fill="#222"/>
<line x1="625.50" y1="642.20" x2="625.50" y2="644.40" stroke="#333" stroke-width="0.7"/>
<rect x="638.25" y="602.26" width="13.50" height="39.94" fill="#bcb27a"/>
<line x1="645.00" y1="597.06" x2="645.00" y2="607.46" stroke="#222" stroke-width="0.7"/>
<line x1="643.50" y1="597.06" x2="646.50" y2="597.06" stroke="#222" stroke-width="0.7"/>
<line x1="643.50" y1="607.46" x2="646.50" y2="607.46" stroke="#222" stroke-width="0.7"/>
<circle cx="645.49" cy="596.44" r="1.20" fill="#222"/>
<circle cx="644.82" cy="603.72" r="1.20" fill="#222"/>
<circle cx="644.95" cy="605.80" r="1.20" fill="#222"/>
<line x1="645.00" y1="642.20" x2="645.00" y2="644.40" stroke="#333" stroke-width="0.7"/>
<rect x="657.95" y="594.98" width="13.50" height="47.22" fill="#bcb27a"/>
<line x1="664.70" y1="593.32" x2="664.70" y2="596.65" stroke="#222" stroke-width="0.7"/>
<line x1="663.20" y1="593.32" x2="666.20" y2="593.32" stroke="#222" stroke-width="0.7"/>
<line x1="663.20" y1="596.65" x2="666.20" y2="596.65" stroke="#222" stroke-width="0.7"/>
<circle cx="664.80" cy="593.32" r="1.20" fill="#222"/>
<circle cx="665.19" cy="594.98" r="1.20" fill="#222"/>
<circle cx="664.60" cy="596.02" r="1.20" fill="#222"/>
<line x1="664.70" y1="642.20" x2="664.70" y2="644.40" stroke="#333" stroke-width="0.7"/>
<line x1="567.50" y1="590.10" x2="586.40" y2="590.10" stroke="#333" stroke-width="0.7"/>
<text x="576.95" y="589.30" font-size="6.8" text-anchor="middle" fill="#1a1a1a">**</text>
<line x1="567.50" y1="583.40" x2="605.30" y2="583.40" stroke="#333" stroke-width="0.7"/>
<text x="586.40" y="582.60" font-size="6.8" text-anchor="middle" fill="#1a1a1a">*</text>
<line x1="624.50" y1="590.10" x2="644.00" y2="590.10" stroke="#333" stroke-width="0.7"/>
<text x="634.25" y="589.30" font-size="6.8" text-anchor="middle" fill="#1a1a1a">**</text>
<line x1="624.50" y1="579.80" x2="663.80" y2="579.80" stroke="#333" stroke-width="0.7"/>
<text x="644.15" y="579.00" font-size="6.8" text-anchor="middle" fill="#1a1a1a">***</text>
<text x="569.90" y="651.60" font-size="7.8" text-anchor="end" fill="#262626" transform="rotate(-45 569.90 651.60)">shScramble</text>
<text x="588.60" y="651.60" font-size="7.8" text-anchor="end" fill="#262626" transform="rotate(-45 588.60 651.60)">shCtBP</text>
<text x="608.30" y="651.60" font-size="7.8" text-anchor="end" fill="#262626" transform="rotate(-45 608.30 651.60)">shHDAC3</text>
<text x="627.10" y="651.60" font-size="7.8" text-anchor="end" fill="#262626" transform="rotate(-45 627.10 651.60)">shScramble</text>
<text x="646.60" y="651.60" font-size="7.8" text-anchor="end" fill="#262626" transform="rotate(-45 646.60 651.60)">shCREBBP</text>
<text x="666.30" y="651.60" font-size="7.8" text-anchor="end" fill="#262626" transform="rotate(-45 666.30 651.60)">shKAT5</text>
<text x="524.80" y="611.00" font-size="7.6" text-anchor="middle" fill="#262626" transform="rotate(-90 524.80 611.00)">Gray value of</text>
<text x="533.40" y="611.00" font-size="7.6" text-anchor="middle" fill="#262626" transform="rotate(-90 533.40 611.00)">Cyt-c / β-Actin</text>
</svg></body></html>
